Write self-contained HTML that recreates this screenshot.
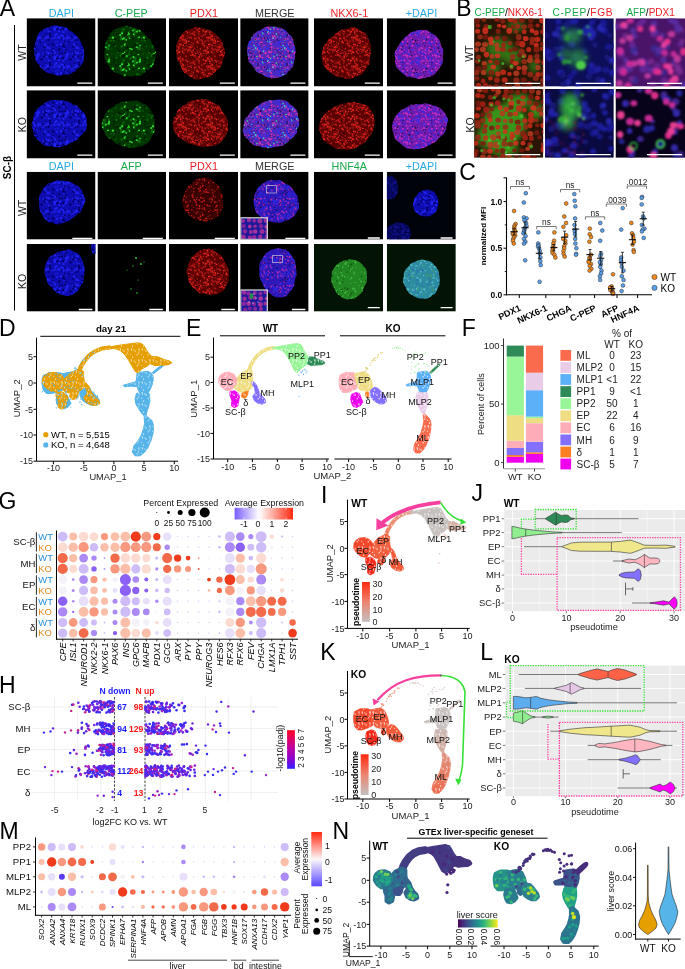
<!DOCTYPE html><html><head><meta charset="utf-8"><title>Figure</title><style>html,body{margin:0;padding:0;background:#fff;width:685px;height:969px;overflow:hidden}svg{display:block}</style></head><body><svg width="685" height="969" viewBox="0 0 685 969" font-family="'Liberation Sans', Arial, Helvetica, sans-serif"><defs><filter id="bl1" x="-20%" y="-20%" width="140%" height="140%"><feGaussianBlur stdDeviation="0.7"/></filter><filter id="bl2" x="-20%" y="-20%" width="140%" height="140%"><feGaussianBlur stdDeviation="1.5"/></filter><pattern id="pBlue" width="29" height="29" patternUnits="userSpaceOnUse"><rect width="29" height="29" fill="#0e0eb2"/><circle cx="3.9" cy="24.6" r="1.1" fill="#000064"/><circle cx="7.4" cy="14.4" r="0.9" fill="#000064"/><circle cx="18.9" cy="22.9" r="0.7" fill="#000064"/><circle cx="0.8" cy="24.2" r="0.9" fill="#000064"/><circle cx="29.8" cy="24.2" r="0.9" fill="#000064"/><circle cx="22.1" cy="0.1" r="0.9" fill="#000064"/><circle cx="22.1" cy="29.1" r="0.9" fill="#000064"/><circle cx="20.9" cy="6.6" r="1.2" fill="#000064"/><circle cx="26.1" cy="0.9" r="0.6" fill="#000064"/><circle cx="15.7" cy="27.2" r="0.8" fill="#000064"/><circle cx="6.3" cy="12.2" r="0.6" fill="#000064"/><circle cx="6.4" cy="12.7" r="0.9" fill="#000064"/><circle cx="6.8" cy="6.7" r="0.7" fill="#000064"/><circle cx="13.3" cy="8.4" r="0.6" fill="#000064"/><circle cx="24.3" cy="16.1" r="1" fill="#000064"/><circle cx="5.4" cy="28.8" r="1.1" fill="#000064"/><circle cx="5.4" cy="-0.2" r="1.1" fill="#000064"/><circle cx="3.5" cy="9.6" r="1" fill="#000064"/><circle cx="20.6" cy="27.2" r="0.9" fill="#000064"/><circle cx="24.1" cy="19.4" r="0.8" fill="#000064"/><circle cx="17" cy="25.6" r="1.1" fill="#000064"/><circle cx="14.7" cy="17.1" r="0.6" fill="#000064"/><circle cx="7" cy="23.1" r="0.8" fill="#000064"/><circle cx="5" cy="15.9" r="1" fill="#000064"/><circle cx="19.6" cy="10.9" r="0.9" fill="#000064"/><circle cx="14.7" cy="22.6" r="0.9" fill="#000064"/><circle cx="11.4" cy="14.2" r="0.6" fill="#000064"/><circle cx="1.3" cy="20.4" r="1.2" fill="#000064"/><circle cx="17.2" cy="11.4" r="0.7" fill="#000064"/><circle cx="14.6" cy="28.5" r="1.1" fill="#000064"/><circle cx="14.6" cy="-0.5" r="1.1" fill="#000064"/><circle cx="15.6" cy="24.9" r="0.7" fill="#000064"/><circle cx="14.9" cy="27.6" r="0.9" fill="#000064"/><circle cx="13.3" cy="7.8" r="0.9" fill="#000064"/><circle cx="27.8" cy="0.2" r="1.1" fill="#000064"/><circle cx="27.8" cy="29.2" r="1.1" fill="#000064"/><circle cx="23.8" cy="25.7" r="1" fill="#000064"/><circle cx="23.5" cy="15" r="0.9" fill="#000064"/><circle cx="12.4" cy="1.6" r="1.1" fill="#000064"/><circle cx="16.5" cy="5.8" r="0.9" fill="#000064"/><circle cx="14.1" cy="10.3" r="0.8" fill="#000064"/><circle cx="15.6" cy="18.1" r="1" fill="#000064"/><circle cx="13.3" cy="0.8" r="0.7" fill="#000064"/><circle cx="5.1" cy="16.9" r="1.1" fill="#000064"/><circle cx="23.2" cy="23.1" r="1.1" fill="#000064"/><circle cx="7.4" cy="24.4" r="1" fill="#000064"/><circle cx="2.4" cy="0.5" r="0.6" fill="#000064"/><circle cx="2.4" cy="29.5" r="0.6" fill="#000064"/><circle cx="21.9" cy="7.2" r="0.7" fill="#000064"/><circle cx="18.1" cy="10" r="0.6" fill="#000064"/><circle cx="4.6" cy="15.3" r="0.7" fill="#000064"/><circle cx="7.9" cy="20.6" r="0.9" fill="#000064"/><circle cx="9.3" cy="13.7" r="0.6" fill="#000064"/><circle cx="11.2" cy="12.2" r="0.7" fill="#000064"/><circle cx="3.2" cy="26.1" r="0.9" fill="#000064"/><circle cx="6.1" cy="17.6" r="1.1" fill="#000064"/><circle cx="0.6" cy="0.5" r="0.7" fill="#000064"/><circle cx="0.6" cy="29.5" r="0.7" fill="#000064"/><circle cx="29.6" cy="0.5" r="0.7" fill="#000064"/><circle cx="29.6" cy="29.5" r="0.7" fill="#000064"/><circle cx="20.8" cy="4.6" r="1" fill="#000064"/><circle cx="19.7" cy="15.8" r="0.7" fill="#000064"/><circle cx="28.3" cy="23.1" r="0.9" fill="#000064"/><circle cx="-0.7" cy="23.1" r="0.9" fill="#000064"/><circle cx="6.5" cy="18.8" r="0.8" fill="#000064"/><circle cx="16.7" cy="9.3" r="1" fill="#2222f5"/><circle cx="1.7" cy="8.7" r="1.2" fill="#2222f5"/><circle cx="25.4" cy="8.9" r="1.1" fill="#2222f5"/><circle cx="9" cy="27.2" r="1" fill="#2222f5"/><circle cx="12.1" cy="7.3" r="0.6" fill="#2222f5"/><circle cx="25.5" cy="1.1" r="1.1" fill="#2222f5"/><circle cx="27.9" cy="16.5" r="0.7" fill="#2222f5"/><circle cx="25.2" cy="28.2" r="1" fill="#2222f5"/><circle cx="25.2" cy="-0.8" r="1" fill="#2222f5"/><circle cx="14.8" cy="11" r="0.8" fill="#2222f5"/><circle cx="6" cy="19.6" r="0.9" fill="#2222f5"/><circle cx="5.6" cy="3" r="1" fill="#2222f5"/><circle cx="8.6" cy="14.5" r="0.8" fill="#2222f5"/><circle cx="25.3" cy="26.1" r="0.6" fill="#2222f5"/><circle cx="5.8" cy="9.5" r="1.2" fill="#2222f5"/><circle cx="22.7" cy="9.8" r="0.7" fill="#2222f5"/><circle cx="19.6" cy="24.3" r="1.2" fill="#2222f5"/><circle cx="10" cy="25.6" r="1" fill="#2222f5"/><circle cx="14.1" cy="28.6" r="0.7" fill="#2222f5"/><circle cx="14.1" cy="-0.4" r="0.7" fill="#2222f5"/><circle cx="21" cy="2.5" r="0.7" fill="#2222f5"/><circle cx="26.4" cy="6.2" r="1.1" fill="#2222f5"/><circle cx="17.4" cy="24.4" r="0.8" fill="#2222f5"/><circle cx="9.9" cy="8.4" r="1.1" fill="#2222f5"/><circle cx="17.5" cy="27.7" r="1.1" fill="#2222f5"/><circle cx="3.9" cy="16" r="0.7" fill="#2222f5"/><circle cx="1.1" cy="2.1" r="1.1" fill="#2222f5"/><circle cx="22.9" cy="24" r="0.8" fill="#2222f5"/><circle cx="17.8" cy="22.7" r="0.8" fill="#2222f5"/><circle cx="16.6" cy="6.5" r="0.6" fill="#2222f5"/><circle cx="7.7" cy="25.8" r="0.9" fill="#2222f5"/><circle cx="26.8" cy="13.3" r="0.8" fill="#2222f5"/><circle cx="22.8" cy="24" r="0.6" fill="#2222f5"/><circle cx="19.4" cy="2.7" r="0.7" fill="#2222f5"/><circle cx="25.7" cy="1.2" r="0.7" fill="#2222f5"/><circle cx="28.7" cy="12.2" r="0.7" fill="#2222f5"/><circle cx="-0.3" cy="12.2" r="0.7" fill="#2222f5"/><circle cx="4.9" cy="7" r="1" fill="#2222f5"/><circle cx="3" cy="26.4" r="0.8" fill="#2222f5"/><circle cx="28.1" cy="26.4" r="0.8" fill="#2222f5"/><circle cx="7.3" cy="13.8" r="0.7" fill="#2222f5"/><circle cx="18.9" cy="1.1" r="0.6" fill="#2222f5"/><circle cx="28.5" cy="8.6" r="1" fill="#2222f5"/><circle cx="-0.5" cy="8.6" r="1" fill="#2222f5"/><circle cx="13" cy="9.1" r="0.6" fill="#2222f5"/><circle cx="26.5" cy="28.1" r="1.2" fill="#2222f5"/><circle cx="26.5" cy="-0.9" r="1.2" fill="#2222f5"/><circle cx="3.2" cy="6.2" r="1" fill="#2222f5"/><circle cx="28.4" cy="15.7" r="1" fill="#2222f5"/><circle cx="-0.6" cy="15.7" r="1" fill="#2222f5"/><circle cx="19.2" cy="7.5" r="0.9" fill="#2222f5"/><circle cx="8.9" cy="7.1" r="0.6" fill="#2222f5"/><circle cx="8.1" cy="28.5" r="0.9" fill="#2222f5"/><circle cx="8.1" cy="-0.5" r="0.9" fill="#2222f5"/><circle cx="18.9" cy="18.7" r="1.2" fill="#2222f5"/><circle cx="11.3" cy="8.9" r="0.8" fill="#2222f5"/><circle cx="9.2" cy="24.6" r="1.1" fill="#2222f5"/><circle cx="8.8" cy="9.7" r="0.9" fill="#2222f5"/><circle cx="16.8" cy="17.3" r="0.7" fill="#2222f5"/><circle cx="0.6" cy="7.1" r="0.6" fill="#2222f5"/><circle cx="29.6" cy="7.1" r="0.6" fill="#2222f5"/><circle cx="16" cy="2.1" r="0.6" fill="#2222f5"/><circle cx="18.4" cy="8.4" r="1.1" fill="#2222f5"/><circle cx="14.3" cy="25" r="0.7" fill="#2222f5"/><circle cx="14.5" cy="23.1" r="0.6" fill="#2222f5"/><circle cx="27.5" cy="5" r="1.1" fill="#2222f5"/><circle cx="28.6" cy="23.8" r="0.8" fill="#2222f5"/><circle cx="-0.4" cy="23.8" r="0.8" fill="#2222f5"/><circle cx="3.1" cy="14.9" r="1.2" fill="#2222f5"/><circle cx="8.5" cy="25.9" r="0.7" fill="#2222f5"/><circle cx="26.4" cy="0.9" r="0.8" fill="#2222f5"/><circle cx="26.2" cy="23.3" r="1.1" fill="#2222f5"/><circle cx="24.4" cy="21.6" r="1" fill="#2222f5"/><circle cx="5.2" cy="12.5" r="0.7" fill="#2222f5"/><circle cx="20.7" cy="19.4" r="0.8" fill="#2222f5"/><circle cx="1.9" cy="27.9" r="1.1" fill="#2222f5"/><circle cx="1.9" cy="-1.1" r="1.1" fill="#2222f5"/><circle cx="15.9" cy="15.7" r="1.1" fill="#2222f5"/><circle cx="13.1" cy="11.5" r="0.8" fill="#2222f5"/><circle cx="7.5" cy="0.7" r="1" fill="#2222f5"/><circle cx="7.5" cy="29.7" r="1" fill="#2222f5"/></pattern><pattern id="pGreen" width="31" height="31" patternUnits="userSpaceOnUse"><rect width="31" height="31" fill="#003400"/><circle cx="29.6" cy="29.4" r="0.7" fill="#086408"/><circle cx="2.6" cy="25.9" r="1.2" fill="#086408"/><circle cx="20.8" cy="9.6" r="1.1" fill="#086408"/><circle cx="18.8" cy="18" r="0.8" fill="#086408"/><circle cx="13.4" cy="12.2" r="1.2" fill="#086408"/><circle cx="30.8" cy="29.4" r="1.1" fill="#086408"/><circle cx="-0.2" cy="29.4" r="1.1" fill="#086408"/><circle cx="13.8" cy="8.3" r="0.7" fill="#086408"/><circle cx="0.9" cy="14.4" r="0.9" fill="#086408"/><circle cx="31.9" cy="14.4" r="0.9" fill="#086408"/><circle cx="11.8" cy="27.6" r="1.1" fill="#086408"/><circle cx="17.4" cy="7.3" r="0.7" fill="#086408"/><circle cx="10.1" cy="4.2" r="1.1" fill="#086408"/><circle cx="31" cy="20.9" r="0.8" fill="#086408"/><circle cx="0" cy="20.9" r="0.8" fill="#086408"/><circle cx="27.7" cy="24.7" r="1.2" fill="#086408"/><circle cx="28.1" cy="23.6" r="1.3" fill="#086408"/><circle cx="11" cy="30.4" r="1.4" fill="#086408"/><circle cx="11" cy="-0.6" r="1.4" fill="#086408"/><circle cx="5" cy="23.4" r="1.2" fill="#086408"/><circle cx="14.3" cy="16.4" r="1" fill="#086408"/><circle cx="28.7" cy="15.5" r="1.3" fill="#086408"/><circle cx="11" cy="27.4" r="1.3" fill="#086408"/><circle cx="14.3" cy="17.6" r="1.3" fill="#086408"/><circle cx="22.4" cy="15.1" r="0.9" fill="#086408"/><circle cx="10.1" cy="21.7" r="0.8" fill="#086408"/><circle cx="28.1" cy="8.3" r="1.3" fill="#086408"/><circle cx="9.6" cy="29.7" r="1.2" fill="#086408"/><circle cx="15.6" cy="16.1" r="1.2" fill="#086408"/><circle cx="18.2" cy="9.7" r="0.8" fill="#086408"/><circle cx="15.9" cy="29" r="1.1" fill="#086408"/><circle cx="2.3" cy="25.4" r="1.2" fill="#086408"/><circle cx="28.1" cy="5.9" r="1.2" fill="#086408"/><circle cx="1.8" cy="20.2" r="0.9" fill="#086408"/><circle cx="7" cy="27.1" r="0.8" fill="#086408"/><circle cx="16.2" cy="26.5" r="0.9" fill="#086408"/><circle cx="6.5" cy="27.3" r="1" fill="#086408"/><circle cx="22.2" cy="1" r="1" fill="#086408"/><circle cx="5.3" cy="20.9" r="0.8" fill="#086408"/><circle cx="29.6" cy="0.8" r="1.2" fill="#086408"/><circle cx="29.6" cy="31.8" r="1.2" fill="#086408"/><circle cx="0.7" cy="7.9" r="1.3" fill="#086408"/><circle cx="31.7" cy="7.9" r="1.3" fill="#086408"/><circle cx="4.9" cy="5.7" r="1.2" fill="#086408"/><circle cx="12" cy="1.3" r="1.4" fill="#086408"/><circle cx="12" cy="32.3" r="1.4" fill="#086408"/><circle cx="4.7" cy="1.1" r="0.9" fill="#086408"/><circle cx="19.1" cy="23" r="0.8" fill="#086408"/><circle cx="10.5" cy="1" r="1" fill="#086408"/><circle cx="10.5" cy="32" r="1" fill="#086408"/><circle cx="23.7" cy="22.9" r="1.3" fill="#086408"/><circle cx="23.4" cy="26.7" r="1.2" fill="#086408"/><circle cx="14.7" cy="7" r="1.2" fill="#086408"/><circle cx="9.8" cy="3.2" r="0.9" fill="#30d730"/><circle cx="27.1" cy="4" r="1" fill="#30d730"/><circle cx="12.2" cy="16" r="0.7" fill="#30d730"/><circle cx="29.8" cy="8" r="1" fill="#30d730"/><circle cx="13" cy="0.6" r="1" fill="#30d730"/><circle cx="13" cy="31.6" r="1" fill="#30d730"/><circle cx="4.4" cy="1.8" r="0.6" fill="#30d730"/><circle cx="5" cy="3" r="1" fill="#30d730"/><circle cx="15.8" cy="30.5" r="1.3" fill="#30d730"/><circle cx="15.8" cy="-0.5" r="1.3" fill="#30d730"/><circle cx="30.8" cy="7.2" r="0.9" fill="#30d730"/><circle cx="-0.2" cy="7.2" r="0.9" fill="#30d730"/><circle cx="7.8" cy="18.3" r="1" fill="#30d730"/><circle cx="24.8" cy="22" r="0.8" fill="#30d730"/><circle cx="13.1" cy="16.3" r="0.6" fill="#30d730"/><circle cx="1.1" cy="12.7" r="0.7" fill="#30d730"/><circle cx="22.4" cy="7.5" r="0.7" fill="#30d730"/><circle cx="5.6" cy="7.2" r="0.8" fill="#30d730"/><circle cx="16.1" cy="14.4" r="0.8" fill="#30d730"/><circle cx="19.9" cy="6.6" r="1.2" fill="#30d730"/><circle cx="29.9" cy="22.6" r="0.9" fill="#30d730"/><circle cx="15.9" cy="18" r="0.6" fill="#30d730"/><circle cx="13" cy="16.3" r="0.7" fill="#30d730"/><circle cx="2.9" cy="24.9" r="0.9" fill="#30d730"/><circle cx="16.1" cy="28.6" r="1" fill="#30d730"/><circle cx="9" cy="30.5" r="0.9" fill="#30d730"/><circle cx="9" cy="-0.5" r="0.9" fill="#30d730"/><circle cx="0.6" cy="21.2" r="0.7" fill="#30d730"/><circle cx="31.6" cy="21.2" r="0.7" fill="#30d730"/><circle cx="9.5" cy="26.1" r="1.1" fill="#30d730"/><circle cx="0.5" cy="14" r="0.9" fill="#30d730"/><circle cx="31.5" cy="14" r="0.9" fill="#30d730"/><circle cx="15.1" cy="6.5" r="1" fill="#30d730"/><circle cx="2.3" cy="8.8" r="0.9" fill="#30d730"/><circle cx="29" cy="2.4" r="1.1" fill="#30d730"/><circle cx="6" cy="17.7" r="0.9" fill="#30d730"/><circle cx="14.4" cy="23.4" r="0.9" fill="#30d730"/><circle cx="3.8" cy="3.8" r="0.7" fill="#30d730"/><circle cx="26.4" cy="19.9" r="1.3" fill="#001e00"/><circle cx="21.5" cy="0.8" r="1.1" fill="#001e00"/><circle cx="21.5" cy="31.8" r="1.1" fill="#001e00"/><circle cx="24.1" cy="22.4" r="1" fill="#001e00"/><circle cx="11.1" cy="14.2" r="1.2" fill="#001e00"/><circle cx="8.3" cy="16.3" r="1" fill="#001e00"/><circle cx="29.6" cy="24.9" r="1.3" fill="#001e00"/><circle cx="25.9" cy="9.2" r="0.8" fill="#001e00"/><circle cx="15.2" cy="8" r="1" fill="#001e00"/><circle cx="21.1" cy="28.5" r="1.1" fill="#001e00"/><circle cx="25.4" cy="3" r="0.9" fill="#001e00"/><circle cx="30.9" cy="4.5" r="1" fill="#001e00"/><circle cx="-0.1" cy="4.5" r="1" fill="#001e00"/><circle cx="2.1" cy="2.7" r="1.2" fill="#001e00"/><circle cx="30.6" cy="20.1" r="0.8" fill="#001e00"/><circle cx="-0.4" cy="20.1" r="0.8" fill="#001e00"/><circle cx="9.2" cy="7.2" r="1.1" fill="#001e00"/><circle cx="21.1" cy="13.6" r="1" fill="#001e00"/><circle cx="3.5" cy="16.8" r="1.3" fill="#001e00"/><circle cx="23.4" cy="3" r="1" fill="#001e00"/><circle cx="22.2" cy="8" r="1.2" fill="#001e00"/><circle cx="14.3" cy="21.8" r="0.9" fill="#001e00"/><circle cx="30.8" cy="24.3" r="1" fill="#001e00"/><circle cx="-0.2" cy="24.3" r="1" fill="#001e00"/></pattern><pattern id="pRed" width="29" height="29" patternUnits="userSpaceOnUse"><rect width="29" height="29" fill="#5f0505"/><circle cx="6.9" cy="15.8" r="0.6" fill="#e8221c"/><circle cx="17.5" cy="18.1" r="0.5" fill="#e8221c"/><circle cx="0.4" cy="24.3" r="0.6" fill="#e8221c"/><circle cx="29.4" cy="24.3" r="0.6" fill="#e8221c"/><circle cx="6.8" cy="28.9" r="0.7" fill="#e8221c"/><circle cx="6.8" cy="-0.1" r="0.7" fill="#e8221c"/><circle cx="24.3" cy="13.8" r="0.8" fill="#e8221c"/><circle cx="4.4" cy="18.4" r="0.8" fill="#e8221c"/><circle cx="15.2" cy="21.5" r="0.8" fill="#e8221c"/><circle cx="1.9" cy="22" r="0.7" fill="#e8221c"/><circle cx="8.7" cy="0.9" r="0.8" fill="#e8221c"/><circle cx="13.7" cy="20.8" r="0.9" fill="#e8221c"/><circle cx="20.7" cy="26.7" r="0.7" fill="#e8221c"/><circle cx="23.2" cy="12.9" r="0.9" fill="#e8221c"/><circle cx="25.5" cy="2.8" r="0.6" fill="#e8221c"/><circle cx="6.3" cy="28" r="0.7" fill="#e8221c"/><circle cx="18.2" cy="8.7" r="0.7" fill="#e8221c"/><circle cx="11.2" cy="10.2" r="0.7" fill="#e8221c"/><circle cx="16.9" cy="26.2" r="0.8" fill="#e8221c"/><circle cx="26.9" cy="24.8" r="0.9" fill="#e8221c"/><circle cx="19.5" cy="4.7" r="0.8" fill="#e8221c"/><circle cx="28" cy="26.2" r="0.7" fill="#e8221c"/><circle cx="20.7" cy="6.1" r="0.8" fill="#e8221c"/><circle cx="16.6" cy="8.3" r="0.5" fill="#e8221c"/><circle cx="24.8" cy="28.7" r="0.5" fill="#e8221c"/><circle cx="24.8" cy="-0.3" r="0.5" fill="#e8221c"/><circle cx="23.2" cy="11.9" r="0.6" fill="#e8221c"/><circle cx="8.5" cy="22.3" r="0.8" fill="#e8221c"/><circle cx="1.3" cy="17.8" r="0.5" fill="#e8221c"/><circle cx="20.8" cy="9.6" r="0.9" fill="#e8221c"/><circle cx="28.4" cy="14.7" r="0.9" fill="#e8221c"/><circle cx="-0.6" cy="14.7" r="0.9" fill="#e8221c"/><circle cx="9" cy="2.2" r="0.7" fill="#e8221c"/><circle cx="0.9" cy="5.7" r="0.7" fill="#e8221c"/><circle cx="17.7" cy="4.5" r="0.5" fill="#e8221c"/><circle cx="25.2" cy="9.1" r="0.9" fill="#e8221c"/><circle cx="26" cy="11" r="0.7" fill="#e8221c"/><circle cx="15.1" cy="18.7" r="0.7" fill="#e8221c"/><circle cx="16.2" cy="18" r="0.9" fill="#e8221c"/><circle cx="14.7" cy="12.5" r="0.8" fill="#e8221c"/><circle cx="6.9" cy="8.7" r="0.9" fill="#e8221c"/><circle cx="15.1" cy="15.9" r="0.5" fill="#e8221c"/><circle cx="12" cy="16.8" r="0.5" fill="#e8221c"/><circle cx="17.9" cy="18.3" r="0.5" fill="#e8221c"/><circle cx="18.2" cy="13.5" r="0.8" fill="#e8221c"/><circle cx="10.2" cy="20.5" r="0.8" fill="#e8221c"/><circle cx="0.6" cy="1.8" r="0.8" fill="#e8221c"/><circle cx="29.6" cy="1.8" r="0.8" fill="#e8221c"/><circle cx="27.9" cy="7.3" r="0.7" fill="#e8221c"/><circle cx="17.2" cy="9.3" r="0.6" fill="#e8221c"/><circle cx="9.1" cy="10.7" r="0.7" fill="#e8221c"/><circle cx="8.7" cy="10.9" r="0.8" fill="#e8221c"/><circle cx="0.8" cy="16.5" r="0.8" fill="#e8221c"/><circle cx="29.8" cy="16.5" r="0.8" fill="#e8221c"/><circle cx="9" cy="6.5" r="0.8" fill="#e8221c"/><circle cx="6.9" cy="5.4" r="0.7" fill="#e8221c"/><circle cx="20.2" cy="3" r="0.6" fill="#e8221c"/><circle cx="9.7" cy="24.2" r="0.7" fill="#e8221c"/><circle cx="24.8" cy="4.9" r="0.6" fill="#e8221c"/><circle cx="18.9" cy="25.7" r="0.7" fill="#e8221c"/><circle cx="6.5" cy="3.5" r="0.7" fill="#e8221c"/><circle cx="5.5" cy="23.4" r="0.8" fill="#e8221c"/><circle cx="5.3" cy="8.1" r="0.8" fill="#e8221c"/><circle cx="18.6" cy="23.4" r="0.6" fill="#e8221c"/><circle cx="3.8" cy="8.5" r="0.8" fill="#e8221c"/><circle cx="7.9" cy="10" r="0.7" fill="#e8221c"/><circle cx="12.2" cy="11.9" r="0.9" fill="#e8221c"/><circle cx="4.5" cy="0.1" r="0.9" fill="#e8221c"/><circle cx="4.5" cy="29.1" r="0.9" fill="#e8221c"/><circle cx="25.5" cy="28.6" r="0.7" fill="#e8221c"/><circle cx="25.5" cy="-0.4" r="0.7" fill="#e8221c"/><circle cx="27.6" cy="26.9" r="0.6" fill="#e8221c"/><circle cx="21.6" cy="24.3" r="0.8" fill="#e8221c"/><circle cx="15.1" cy="8.4" r="0.6" fill="#e8221c"/><circle cx="6.6" cy="2" r="0.7" fill="#e8221c"/><circle cx="8.3" cy="23.5" r="0.5" fill="#e8221c"/><circle cx="26.2" cy="20.1" r="0.9" fill="#e8221c"/><circle cx="26" cy="26.1" r="0.7" fill="#e8221c"/><circle cx="0.4" cy="21.6" r="0.6" fill="#e8221c"/><circle cx="29.4" cy="21.6" r="0.6" fill="#e8221c"/><circle cx="8.7" cy="19.2" r="0.7" fill="#e8221c"/><circle cx="12" cy="27.2" r="0.7" fill="#e8221c"/><circle cx="9.9" cy="7.3" r="0.8" fill="#e8221c"/><circle cx="13.8" cy="22.7" r="0.6" fill="#e8221c"/><circle cx="5.7" cy="15.5" r="0.8" fill="#e8221c"/><circle cx="5" cy="23" r="0.9" fill="#e8221c"/><circle cx="23.4" cy="23.9" r="0.5" fill="#e8221c"/><circle cx="18.2" cy="25" r="0.5" fill="#e8221c"/><circle cx="7.9" cy="7.8" r="0.7" fill="#e8221c"/><circle cx="12.3" cy="13.7" r="0.8" fill="#e8221c"/><circle cx="0.1" cy="1.6" r="0.6" fill="#e8221c"/><circle cx="29.1" cy="1.6" r="0.6" fill="#e8221c"/><circle cx="3.6" cy="2" r="0.9" fill="#e8221c"/><circle cx="24.8" cy="2.5" r="0.7" fill="#e8221c"/><circle cx="9.2" cy="9.1" r="0.6" fill="#e8221c"/><circle cx="18.8" cy="17" r="0.6" fill="#e8221c"/><circle cx="5.5" cy="9.5" r="0.5" fill="#e8221c"/><circle cx="16.1" cy="20.8" r="0.7" fill="#e8221c"/><circle cx="2.3" cy="5.2" r="0.6" fill="#e8221c"/><circle cx="17.5" cy="22.7" r="0.7" fill="#e8221c"/><circle cx="23.2" cy="18.1" r="0.7" fill="#e8221c"/><circle cx="10.8" cy="14.4" r="0.8" fill="#e8221c"/><circle cx="12.2" cy="20.1" r="0.7" fill="#e8221c"/><circle cx="7.1" cy="15.5" r="0.8" fill="#e8221c"/><circle cx="2.1" cy="12.3" r="0.7" fill="#e8221c"/><circle cx="25.5" cy="27.2" r="0.6" fill="#e8221c"/><circle cx="26" cy="22.9" r="0.6" fill="#e8221c"/><circle cx="13.5" cy="3.6" r="0.8" fill="#e8221c"/><circle cx="19.2" cy="25.7" r="0.8" fill="#e8221c"/><circle cx="19.4" cy="21.3" r="0.7" fill="#e8221c"/><circle cx="3" cy="17" r="0.5" fill="#e8221c"/><circle cx="4.2" cy="22.5" r="0.5" fill="#e8221c"/><circle cx="2.7" cy="2.9" r="0.9" fill="#e8221c"/><circle cx="5.2" cy="0.7" r="0.8" fill="#e8221c"/><circle cx="5.2" cy="29.7" r="0.8" fill="#e8221c"/><circle cx="3.5" cy="24.5" r="0.8" fill="#e8221c"/><circle cx="24.2" cy="27.6" r="0.7" fill="#e8221c"/><circle cx="23.2" cy="1.1" r="0.8" fill="#e8221c"/><circle cx="14.8" cy="20.7" r="0.5" fill="#e8221c"/><circle cx="21.7" cy="27.1" r="0.5" fill="#e8221c"/><circle cx="9.4" cy="16.4" r="0.8" fill="#e8221c"/><circle cx="7" cy="5.2" r="0.6" fill="#e8221c"/><circle cx="17.9" cy="21.9" r="0.7" fill="#e8221c"/><circle cx="10.7" cy="11.5" r="0.6" fill="#e8221c"/><circle cx="12.1" cy="2.4" r="0.7" fill="#e8221c"/><circle cx="28.2" cy="12" r="0.8" fill="#e8221c"/><circle cx="-0.8" cy="12" r="0.8" fill="#e8221c"/><circle cx="4.7" cy="20" r="0.8" fill="#e8221c"/><circle cx="19.5" cy="15" r="0.7" fill="#e8221c"/><circle cx="18.6" cy="26" r="0.6" fill="#e8221c"/><circle cx="2.8" cy="21.7" r="0.9" fill="#e8221c"/><circle cx="15" cy="12.8" r="0.8" fill="#e8221c"/><circle cx="5.4" cy="7.8" r="0.6" fill="#a00e0c"/><circle cx="17" cy="9.1" r="0.6" fill="#a00e0c"/><circle cx="20" cy="27.6" r="0.6" fill="#a00e0c"/><circle cx="20.5" cy="12" r="0.8" fill="#a00e0c"/><circle cx="17" cy="7.7" r="0.6" fill="#a00e0c"/><circle cx="0.7" cy="13.9" r="0.7" fill="#a00e0c"/><circle cx="5" cy="10.5" r="0.6" fill="#a00e0c"/><circle cx="22.5" cy="4.2" r="0.9" fill="#a00e0c"/><circle cx="13.9" cy="17.4" r="0.7" fill="#a00e0c"/><circle cx="24.2" cy="23.8" r="0.7" fill="#a00e0c"/><circle cx="14" cy="20.9" r="0.8" fill="#a00e0c"/><circle cx="11.6" cy="21.3" r="0.9" fill="#a00e0c"/><circle cx="13.6" cy="6.7" r="0.6" fill="#a00e0c"/><circle cx="20.8" cy="19.6" r="0.9" fill="#a00e0c"/><circle cx="24.8" cy="7" r="0.6" fill="#a00e0c"/><circle cx="7.5" cy="5.4" r="0.8" fill="#a00e0c"/><circle cx="24.9" cy="26.1" r="0.6" fill="#a00e0c"/><circle cx="25.1" cy="9.1" r="0.7" fill="#a00e0c"/><circle cx="21.1" cy="2.5" r="0.5" fill="#a00e0c"/><circle cx="24.2" cy="8.5" r="0.6" fill="#a00e0c"/><circle cx="16.8" cy="19.6" r="0.5" fill="#a00e0c"/><circle cx="9.7" cy="12.7" r="0.7" fill="#a00e0c"/><circle cx="6.1" cy="17" r="0.9" fill="#a00e0c"/><circle cx="11.3" cy="15.8" r="0.5" fill="#a00e0c"/><circle cx="8" cy="19.3" r="0.5" fill="#a00e0c"/><circle cx="25.7" cy="26.4" r="0.5" fill="#a00e0c"/><circle cx="27.3" cy="10.9" r="0.8" fill="#a00e0c"/><circle cx="22" cy="8.6" r="0.8" fill="#a00e0c"/><circle cx="19" cy="23.4" r="0.6" fill="#a00e0c"/><circle cx="21.9" cy="27.9" r="0.8" fill="#a00e0c"/><circle cx="15.5" cy="3.3" r="0.7" fill="#a00e0c"/><circle cx="10.2" cy="20.8" r="0.8" fill="#a00e0c"/><circle cx="16.4" cy="5.3" r="0.8" fill="#a00e0c"/><circle cx="18.3" cy="5.2" r="0.9" fill="#a00e0c"/><circle cx="19" cy="3.6" r="0.9" fill="#a00e0c"/><circle cx="4.1" cy="9.6" r="0.8" fill="#a00e0c"/><circle cx="17.3" cy="16.1" r="0.8" fill="#a00e0c"/><circle cx="13.3" cy="9.1" r="0.6" fill="#a00e0c"/><circle cx="2" cy="20.8" r="0.8" fill="#a00e0c"/><circle cx="15.8" cy="21.4" r="0.6" fill="#a00e0c"/><circle cx="7.7" cy="11.1" r="0.8" fill="#a00e0c"/><circle cx="1.2" cy="14.6" r="0.6" fill="#a00e0c"/><circle cx="22.3" cy="10.3" r="0.6" fill="#a00e0c"/><circle cx="11.7" cy="15.7" r="0.8" fill="#a00e0c"/><circle cx="10.2" cy="24.6" r="0.5" fill="#a00e0c"/><circle cx="7.8" cy="2.9" r="0.5" fill="#a00e0c"/><circle cx="22.6" cy="21.1" r="0.6" fill="#a00e0c"/><circle cx="5.5" cy="12.1" r="0.8" fill="#a00e0c"/><circle cx="23.7" cy="21.7" r="0.7" fill="#a00e0c"/><circle cx="4.2" cy="11.6" r="0.6" fill="#a00e0c"/><circle cx="15.3" cy="16.5" r="0.6" fill="#2d0000"/><circle cx="7.3" cy="22.7" r="0.5" fill="#2d0000"/><circle cx="23.3" cy="25.8" r="0.9" fill="#2d0000"/><circle cx="11.1" cy="16" r="0.7" fill="#2d0000"/><circle cx="18.4" cy="28.3" r="0.8" fill="#2d0000"/><circle cx="18.4" cy="-0.7" r="0.8" fill="#2d0000"/><circle cx="8.7" cy="24.9" r="0.7" fill="#2d0000"/><circle cx="17.4" cy="21.1" r="0.5" fill="#2d0000"/><circle cx="22.3" cy="19.2" r="0.7" fill="#2d0000"/><circle cx="15.2" cy="13.4" r="0.6" fill="#2d0000"/><circle cx="15.4" cy="1.1" r="0.7" fill="#2d0000"/><circle cx="18.7" cy="12.9" r="0.7" fill="#2d0000"/><circle cx="27.8" cy="25.9" r="0.6" fill="#2d0000"/><circle cx="23" cy="18.1" r="0.5" fill="#2d0000"/><circle cx="10.4" cy="6.8" r="0.5" fill="#2d0000"/><circle cx="15.6" cy="27" r="0.6" fill="#2d0000"/><circle cx="25.2" cy="20.1" r="0.6" fill="#2d0000"/><circle cx="24.9" cy="17.4" r="0.9" fill="#2d0000"/><circle cx="20.8" cy="21.5" r="0.6" fill="#2d0000"/><circle cx="23.4" cy="27" r="0.8" fill="#2d0000"/><circle cx="12.7" cy="21.9" r="0.7" fill="#2d0000"/><circle cx="3.2" cy="1.2" r="0.5" fill="#2d0000"/><circle cx="5.8" cy="4.7" r="0.7" fill="#2d0000"/><circle cx="20.3" cy="15.6" r="0.7" fill="#2d0000"/><circle cx="18.8" cy="8.8" r="0.7" fill="#2d0000"/><circle cx="22" cy="11.6" r="0.6" fill="#2d0000"/><circle cx="26.1" cy="20.9" r="0.6" fill="#2d0000"/><circle cx="10.8" cy="15.4" r="0.7" fill="#2d0000"/><circle cx="6.5" cy="0.1" r="0.6" fill="#2d0000"/><circle cx="6.5" cy="29.1" r="0.6" fill="#2d0000"/><circle cx="22.7" cy="4.2" r="0.7" fill="#2d0000"/><circle cx="5.7" cy="6.1" r="0.6" fill="#2d0000"/></pattern><pattern id="pRedD" width="29" height="29" patternUnits="userSpaceOnUse"><rect width="29" height="29" fill="#370303"/><circle cx="6.8" cy="3" r="0.7" fill="#c81916"/><circle cx="4.5" cy="1.9" r="0.7" fill="#c81916"/><circle cx="26.6" cy="23.2" r="0.8" fill="#c81916"/><circle cx="6.4" cy="15.6" r="0.6" fill="#c81916"/><circle cx="5" cy="3.1" r="0.6" fill="#c81916"/><circle cx="26.9" cy="24" r="0.8" fill="#c81916"/><circle cx="23.2" cy="5.6" r="0.6" fill="#c81916"/><circle cx="18.2" cy="21.2" r="0.8" fill="#c81916"/><circle cx="25.5" cy="2.5" r="0.7" fill="#c81916"/><circle cx="19.5" cy="14.7" r="0.6" fill="#c81916"/><circle cx="13.7" cy="2.6" r="0.9" fill="#c81916"/><circle cx="25.1" cy="15.9" r="0.6" fill="#c81916"/><circle cx="26.4" cy="16.6" r="0.9" fill="#c81916"/><circle cx="24.6" cy="14.7" r="0.7" fill="#c81916"/><circle cx="17.4" cy="12.5" r="0.6" fill="#c81916"/><circle cx="8.8" cy="23.6" r="0.5" fill="#c81916"/><circle cx="1.3" cy="18.2" r="0.6" fill="#c81916"/><circle cx="15.5" cy="13.7" r="0.6" fill="#c81916"/><circle cx="28.9" cy="5.7" r="0.7" fill="#c81916"/><circle cx="-0.1" cy="5.7" r="0.7" fill="#c81916"/><circle cx="5.9" cy="18.3" r="0.6" fill="#c81916"/><circle cx="10.3" cy="21.7" r="0.6" fill="#c81916"/><circle cx="16.2" cy="26.2" r="0.5" fill="#c81916"/><circle cx="1.8" cy="6.6" r="0.8" fill="#c81916"/><circle cx="17.8" cy="6.9" r="0.6" fill="#c81916"/><circle cx="5.1" cy="13.3" r="0.5" fill="#c81916"/><circle cx="20.2" cy="26" r="0.9" fill="#c81916"/><circle cx="21.3" cy="27.8" r="0.5" fill="#c81916"/><circle cx="8.4" cy="28" r="0.8" fill="#c81916"/><circle cx="11.9" cy="27.4" r="0.7" fill="#c81916"/><circle cx="23.7" cy="8.5" r="0.6" fill="#c81916"/><circle cx="12.9" cy="4" r="0.7" fill="#c81916"/><circle cx="27.9" cy="9.6" r="0.5" fill="#c81916"/><circle cx="1.3" cy="4.9" r="0.8" fill="#c81916"/><circle cx="10.5" cy="8.4" r="0.5" fill="#c81916"/><circle cx="28.5" cy="12.3" r="0.6" fill="#c81916"/><circle cx="-0.5" cy="12.3" r="0.6" fill="#c81916"/><circle cx="1.7" cy="1.6" r="0.6" fill="#c81916"/><circle cx="19.6" cy="4.3" r="0.5" fill="#c81916"/><circle cx="14.2" cy="7.2" r="0.9" fill="#c81916"/><circle cx="3.5" cy="15.3" r="0.8" fill="#c81916"/><circle cx="11.9" cy="28.6" r="0.7" fill="#c81916"/><circle cx="11.9" cy="-0.4" r="0.7" fill="#c81916"/><circle cx="7" cy="11.9" r="0.5" fill="#c81916"/><circle cx="12.2" cy="7.2" r="0.9" fill="#c81916"/><circle cx="24.1" cy="14.5" r="0.5" fill="#c81916"/><circle cx="7.4" cy="7" r="0.6" fill="#c81916"/><circle cx="6.7" cy="25.2" r="0.6" fill="#c81916"/><circle cx="1.5" cy="26.9" r="0.7" fill="#c81916"/><circle cx="28.7" cy="11.7" r="0.9" fill="#c81916"/><circle cx="-0.3" cy="11.7" r="0.9" fill="#c81916"/><circle cx="19" cy="22.9" r="0.8" fill="#c81916"/><circle cx="14.3" cy="2.7" r="0.6" fill="#c81916"/><circle cx="25.3" cy="26.1" r="0.9" fill="#c81916"/><circle cx="9.8" cy="19.1" r="0.8" fill="#c81916"/><circle cx="18.6" cy="23.6" r="0.7" fill="#c81916"/><circle cx="19" cy="19.9" r="0.6" fill="#c81916"/><circle cx="26.8" cy="27.7" r="0.5" fill="#c81916"/><circle cx="28.2" cy="27.9" r="0.8" fill="#c81916"/><circle cx="1.3" cy="26.1" r="0.6" fill="#c81916"/><circle cx="28.1" cy="19.3" r="0.5" fill="#c81916"/><circle cx="4.9" cy="18.4" r="0.7" fill="#c81916"/><circle cx="21.6" cy="26.9" r="0.6" fill="#c81916"/><circle cx="0.1" cy="26.7" r="0.5" fill="#c81916"/><circle cx="29.1" cy="26.7" r="0.5" fill="#c81916"/><circle cx="25.4" cy="3.4" r="0.8" fill="#c81916"/><circle cx="22.7" cy="25.5" r="0.7" fill="#c81916"/><circle cx="25.5" cy="5.8" r="0.8" fill="#c81916"/><circle cx="9.6" cy="25.9" r="0.8" fill="#c81916"/><circle cx="13.7" cy="15.3" r="0.5" fill="#c81916"/><circle cx="1" cy="17.2" r="0.7" fill="#c81916"/><circle cx="25.1" cy="17.6" r="0.6" fill="#c81916"/><circle cx="10.5" cy="22.3" r="0.7" fill="#c81916"/><circle cx="0.3" cy="24.3" r="0.8" fill="#c81916"/><circle cx="29.3" cy="24.3" r="0.8" fill="#c81916"/><circle cx="2.5" cy="15.8" r="0.7" fill="#c81916"/><circle cx="22.8" cy="9" r="0.6" fill="#c81916"/><circle cx="14.1" cy="28" r="0.5" fill="#c81916"/><circle cx="3.3" cy="18" r="0.9" fill="#c81916"/><circle cx="14.9" cy="12.6" r="0.8" fill="#c81916"/><circle cx="22.5" cy="1.9" r="0.9" fill="#c81916"/><circle cx="5.7" cy="8.8" r="0.8" fill="#c81916"/><circle cx="12.3" cy="23.2" r="0.6" fill="#c81916"/><circle cx="25.4" cy="5.1" r="0.6" fill="#c81916"/><circle cx="14.3" cy="9.8" r="0.7" fill="#c81916"/><circle cx="26.2" cy="20.6" r="0.5" fill="#c81916"/><circle cx="9" cy="15.8" r="0.7" fill="#c81916"/><circle cx="20.8" cy="14" r="0.5" fill="#c81916"/><circle cx="7.1" cy="24.6" r="0.6" fill="#c81916"/><circle cx="22.2" cy="28.6" r="0.8" fill="#c81916"/><circle cx="22.2" cy="-0.4" r="0.8" fill="#c81916"/><circle cx="19.6" cy="17.7" r="0.6" fill="#c81916"/><circle cx="26.5" cy="13.5" r="0.9" fill="#c81916"/><circle cx="8.9" cy="25.2" r="0.8" fill="#c81916"/><circle cx="17.8" cy="12.8" r="0.6" fill="#c81916"/><circle cx="22.4" cy="10.5" r="0.8" fill="#c81916"/><circle cx="3.9" cy="2.4" r="0.6" fill="#c81916"/><circle cx="23.5" cy="5.2" r="0.9" fill="#780a08"/><circle cx="10.8" cy="16.7" r="0.6" fill="#780a08"/><circle cx="18" cy="2.7" r="0.7" fill="#780a08"/><circle cx="27.1" cy="5.2" r="0.8" fill="#780a08"/><circle cx="9.5" cy="8.7" r="0.5" fill="#780a08"/><circle cx="0.6" cy="27.5" r="0.8" fill="#780a08"/><circle cx="29.6" cy="27.5" r="0.8" fill="#780a08"/><circle cx="23.2" cy="23.4" r="0.9" fill="#780a08"/><circle cx="4.6" cy="16.9" r="0.7" fill="#780a08"/><circle cx="16.6" cy="27.2" r="0.8" fill="#780a08"/><circle cx="28.1" cy="3.4" r="0.8" fill="#780a08"/><circle cx="19.6" cy="21.6" r="0.7" fill="#780a08"/><circle cx="24.1" cy="8.8" r="0.9" fill="#780a08"/><circle cx="11.8" cy="17.4" r="0.9" fill="#780a08"/><circle cx="20.4" cy="9" r="0.6" fill="#780a08"/><circle cx="9.5" cy="18.2" r="0.9" fill="#780a08"/><circle cx="26.1" cy="11.6" r="0.7" fill="#780a08"/><circle cx="23.7" cy="8.2" r="0.7" fill="#780a08"/><circle cx="0.4" cy="5.3" r="0.7" fill="#780a08"/><circle cx="29.4" cy="5.3" r="0.7" fill="#780a08"/><circle cx="20.1" cy="17.8" r="0.6" fill="#780a08"/><circle cx="27.6" cy="18.1" r="0.6" fill="#780a08"/></pattern><pattern id="pMerge" width="29" height="29" patternUnits="userSpaceOnUse"><rect width="29" height="29" fill="#5528b4"/><circle cx="18.1" cy="21.5" r="0.9" fill="#d232b4"/><circle cx="27.3" cy="21.5" r="1" fill="#d232b4"/><circle cx="0.8" cy="13.5" r="1" fill="#d232b4"/><circle cx="29.8" cy="13.5" r="1" fill="#d232b4"/><circle cx="18.8" cy="26.1" r="0.6" fill="#d232b4"/><circle cx="13.6" cy="7.2" r="0.8" fill="#d232b4"/><circle cx="16.6" cy="0.4" r="0.6" fill="#d232b4"/><circle cx="16.6" cy="29.4" r="0.6" fill="#d232b4"/><circle cx="8.1" cy="26.6" r="0.9" fill="#d232b4"/><circle cx="4.6" cy="23.1" r="0.6" fill="#d232b4"/><circle cx="17.9" cy="3.7" r="0.5" fill="#d232b4"/><circle cx="25.3" cy="6.1" r="0.6" fill="#d232b4"/><circle cx="28.5" cy="25.3" r="0.6" fill="#d232b4"/><circle cx="-0.5" cy="25.3" r="0.6" fill="#d232b4"/><circle cx="27.9" cy="15.6" r="0.8" fill="#d232b4"/><circle cx="5.9" cy="27.3" r="0.8" fill="#d232b4"/><circle cx="28" cy="25.9" r="0.6" fill="#d232b4"/><circle cx="10.5" cy="4.8" r="0.6" fill="#d232b4"/><circle cx="1.9" cy="8.7" r="0.8" fill="#d232b4"/><circle cx="0.1" cy="19.7" r="0.7" fill="#d232b4"/><circle cx="29.1" cy="19.7" r="0.7" fill="#d232b4"/><circle cx="9" cy="23.7" r="0.7" fill="#d232b4"/><circle cx="9.2" cy="14" r="0.9" fill="#d232b4"/><circle cx="1.7" cy="28.3" r="0.5" fill="#d232b4"/><circle cx="21.7" cy="24.5" r="0.5" fill="#d232b4"/><circle cx="22.8" cy="10.6" r="0.8" fill="#d232b4"/><circle cx="0.3" cy="1.4" r="0.6" fill="#d232b4"/><circle cx="29.3" cy="1.4" r="0.6" fill="#d232b4"/><circle cx="27.7" cy="5.7" r="0.9" fill="#d232b4"/><circle cx="27" cy="27.3" r="0.7" fill="#d232b4"/><circle cx="10.3" cy="15.2" r="0.9" fill="#d232b4"/><circle cx="3.1" cy="21.7" r="0.9" fill="#d232b4"/><circle cx="24.9" cy="1.1" r="1" fill="#d232b4"/><circle cx="2.6" cy="9.9" r="0.8" fill="#d232b4"/><circle cx="26.6" cy="9.9" r="1" fill="#d232b4"/><circle cx="15.8" cy="9.1" r="0.7" fill="#d232b4"/><circle cx="5.1" cy="2.3" r="0.6" fill="#d232b4"/><circle cx="20" cy="28.9" r="0.6" fill="#d232b4"/><circle cx="20" cy="-0.1" r="0.6" fill="#d232b4"/><circle cx="1.4" cy="28.6" r="0.8" fill="#d232b4"/><circle cx="1.4" cy="-0.4" r="0.8" fill="#d232b4"/><circle cx="11.8" cy="6.9" r="0.8" fill="#d232b4"/><circle cx="24" cy="13.2" r="0.7" fill="#d232b4"/><circle cx="1.6" cy="26.6" r="0.5" fill="#d232b4"/><circle cx="14.3" cy="24.3" r="0.6" fill="#d232b4"/><circle cx="21.2" cy="27.5" r="0.8" fill="#d232b4"/><circle cx="22.9" cy="3.1" r="0.7" fill="#d232b4"/><circle cx="4.3" cy="24.5" r="0.6" fill="#d232b4"/><circle cx="13.1" cy="29" r="0.9" fill="#d232b4"/><circle cx="13.1" cy="0" r="0.9" fill="#d232b4"/><circle cx="28.3" cy="13.2" r="0.7" fill="#d232b4"/><circle cx="-0.7" cy="13.2" r="0.7" fill="#d232b4"/><circle cx="21.2" cy="13.9" r="0.6" fill="#d232b4"/><circle cx="11.7" cy="4.2" r="0.7" fill="#d232b4"/><circle cx="28.7" cy="27.8" r="0.8" fill="#d232b4"/><circle cx="-0.3" cy="27.8" r="0.8" fill="#d232b4"/><circle cx="14.5" cy="9.8" r="0.5" fill="#d232b4"/><circle cx="7.9" cy="22.7" r="0.9" fill="#d232b4"/><circle cx="10.5" cy="22.8" r="0.9" fill="#d232b4"/><circle cx="20.1" cy="19.3" r="0.9" fill="#d232b4"/><circle cx="10.5" cy="20.4" r="0.6" fill="#d232b4"/><circle cx="14.1" cy="22.3" r="0.8" fill="#d232b4"/><circle cx="8.5" cy="27.4" r="0.8" fill="#d232b4"/><circle cx="16.8" cy="0.3" r="0.8" fill="#d232b4"/><circle cx="16.8" cy="29.3" r="0.8" fill="#d232b4"/><circle cx="7.3" cy="19.5" r="0.7" fill="#d232b4"/><circle cx="23.7" cy="18.8" r="0.9" fill="#d232b4"/><circle cx="10.1" cy="18.7" r="0.9" fill="#d232b4"/><circle cx="24" cy="10.2" r="0.9" fill="#d232b4"/><circle cx="25.2" cy="20" r="1" fill="#d232b4"/><circle cx="27.7" cy="15" r="0.8" fill="#d232b4"/><circle cx="4.8" cy="24.3" r="1" fill="#d232b4"/><circle cx="13.8" cy="20.1" r="0.9" fill="#d232b4"/><circle cx="21.2" cy="5" r="0.9" fill="#d232b4"/><circle cx="16.8" cy="19.3" r="0.7" fill="#d232b4"/><circle cx="18.1" cy="22.5" r="0.8" fill="#d232b4"/><circle cx="20.9" cy="0.8" r="0.6" fill="#d232b4"/><circle cx="12.8" cy="18.9" r="0.6" fill="#d232b4"/><circle cx="19.9" cy="18.3" r="0.5" fill="#d232b4"/><circle cx="13.7" cy="6.6" r="0.5" fill="#d232b4"/><circle cx="3.9" cy="9.2" r="0.6" fill="#d232b4"/><circle cx="5.6" cy="1" r="0.7" fill="#d232b4"/><circle cx="11" cy="17.7" r="0.8" fill="#d232b4"/><circle cx="6.9" cy="26.2" r="0.5" fill="#d232b4"/><circle cx="11.8" cy="8.1" r="0.7" fill="#d232b4"/><circle cx="3.3" cy="24.1" r="0.7" fill="#d232b4"/><circle cx="1" cy="17.8" r="0.5" fill="#d232b4"/><circle cx="15.8" cy="9.8" r="0.8" fill="#d232b4"/><circle cx="27.8" cy="23.7" r="0.7" fill="#d232b4"/><circle cx="23.6" cy="18.6" r="0.7" fill="#d232b4"/><circle cx="4.1" cy="17.3" r="0.8" fill="#d232b4"/><circle cx="27.8" cy="28.1" r="0.8" fill="#d232b4"/><circle cx="10.2" cy="25.9" r="0.5" fill="#d232b4"/><circle cx="3.1" cy="16.4" r="0.8" fill="#d232b4"/><circle cx="4.1" cy="18.3" r="0.9" fill="#d232b4"/><circle cx="10.9" cy="12.5" r="0.6" fill="#d232b4"/><circle cx="8.5" cy="28.2" r="0.7" fill="#d232b4"/><circle cx="27.9" cy="26.5" r="0.8" fill="#d232b4"/><circle cx="7.5" cy="28.4" r="0.7" fill="#d232b4"/><circle cx="7.5" cy="-0.6" r="0.7" fill="#d232b4"/><circle cx="12" cy="9.3" r="1" fill="#d232b4"/><circle cx="14.3" cy="8.3" r="0.7" fill="#d232b4"/><circle cx="3.5" cy="18" r="0.7" fill="#d232b4"/><circle cx="8.5" cy="22.7" r="0.9" fill="#d232b4"/><circle cx="0.4" cy="15.4" r="0.6" fill="#d232b4"/><circle cx="29.4" cy="15.4" r="0.6" fill="#d232b4"/><circle cx="27.1" cy="22.7" r="0.6" fill="#d232b4"/><circle cx="7.8" cy="4.5" r="1" fill="#d232b4"/><circle cx="8.5" cy="17.6" r="0.8" fill="#2d2deb"/><circle cx="18.7" cy="17.5" r="1" fill="#2d2deb"/><circle cx="3.4" cy="22.1" r="0.8" fill="#2d2deb"/><circle cx="15.5" cy="9.7" r="0.7" fill="#2d2deb"/><circle cx="15.4" cy="13.5" r="0.8" fill="#2d2deb"/><circle cx="21.6" cy="17.1" r="0.6" fill="#2d2deb"/><circle cx="7.3" cy="13.2" r="1.1" fill="#2d2deb"/><circle cx="25.8" cy="15.8" r="0.6" fill="#2d2deb"/><circle cx="22.6" cy="12.4" r="0.9" fill="#2d2deb"/><circle cx="20.5" cy="18.3" r="0.8" fill="#2d2deb"/><circle cx="26.4" cy="11.2" r="0.8" fill="#2d2deb"/><circle cx="24.7" cy="5.7" r="0.7" fill="#2d2deb"/><circle cx="24.1" cy="1.9" r="1" fill="#2d2deb"/><circle cx="20.1" cy="12.6" r="0.7" fill="#2d2deb"/><circle cx="22.6" cy="26.4" r="0.7" fill="#2d2deb"/><circle cx="13.9" cy="15.9" r="0.8" fill="#2d2deb"/><circle cx="9.6" cy="4.5" r="0.9" fill="#2d2deb"/><circle cx="23.5" cy="2" r="0.7" fill="#2d2deb"/><circle cx="23.8" cy="23" r="0.9" fill="#2d2deb"/><circle cx="0.7" cy="21" r="1.1" fill="#2d2deb"/><circle cx="29.7" cy="21" r="1.1" fill="#2d2deb"/><circle cx="29" cy="20.3" r="0.6" fill="#2d2deb"/><circle cx="0" cy="20.3" r="0.6" fill="#2d2deb"/><circle cx="24.4" cy="6.4" r="0.9" fill="#2d2deb"/><circle cx="27.6" cy="20.7" r="0.7" fill="#2d2deb"/><circle cx="8.5" cy="26.6" r="0.7" fill="#2d2deb"/><circle cx="17.7" cy="12" r="0.7" fill="#2d2deb"/><circle cx="18" cy="1.3" r="0.7" fill="#2d2deb"/><circle cx="11" cy="2.1" r="0.6" fill="#2d2deb"/><circle cx="16.7" cy="21.5" r="1" fill="#2d2deb"/><circle cx="3.9" cy="12.5" r="0.8" fill="#2d2deb"/><circle cx="17.4" cy="14.2" r="1.1" fill="#2d2deb"/><circle cx="10.9" cy="1.6" r="0.9" fill="#2d2deb"/><circle cx="4.4" cy="18.3" r="0.9" fill="#2d2deb"/><circle cx="26.4" cy="16.1" r="0.9" fill="#2d2deb"/><circle cx="7.6" cy="16" r="0.7" fill="#2d2deb"/><circle cx="21.8" cy="15" r="0.7" fill="#2d2deb"/><circle cx="6.8" cy="10.8" r="1" fill="#2d2deb"/><circle cx="5.2" cy="20.7" r="0.9" fill="#2d2deb"/><circle cx="2.5" cy="19.4" r="0.6" fill="#2d2deb"/><circle cx="3.6" cy="17.2" r="0.7" fill="#2d2deb"/><circle cx="25.4" cy="13.9" r="0.8" fill="#2d2deb"/><circle cx="23.1" cy="0.9" r="1" fill="#2d2deb"/><circle cx="23.1" cy="29.9" r="1" fill="#2d2deb"/><circle cx="1.6" cy="4.4" r="1.1" fill="#2d2deb"/><circle cx="19.8" cy="6.5" r="0.7" fill="#2d2deb"/><circle cx="28.2" cy="19.3" r="1" fill="#2d2deb"/><circle cx="-0.8" cy="19.3" r="1" fill="#2d2deb"/><circle cx="4.1" cy="18.1" r="0.8" fill="#2d2deb"/><circle cx="6.8" cy="9.7" r="0.9" fill="#2d2deb"/><circle cx="10.1" cy="11.2" r="0.7" fill="#2d2deb"/><circle cx="24.1" cy="18.8" r="1" fill="#2d2deb"/><circle cx="12.6" cy="24.7" r="0.9" fill="#2d2deb"/><circle cx="17.2" cy="16.6" r="1" fill="#2d2deb"/><circle cx="11.5" cy="2.8" r="0.6" fill="#2d2deb"/><circle cx="5.9" cy="1.1" r="1" fill="#2d2deb"/><circle cx="13.9" cy="22.1" r="0.6" fill="#2d2deb"/><circle cx="13.6" cy="25.8" r="0.9" fill="#2d2deb"/><circle cx="12.4" cy="13.5" r="0.6" fill="#2d2deb"/><circle cx="4.5" cy="4.6" r="0.8" fill="#2d2deb"/><circle cx="11.2" cy="25.5" r="0.7" fill="#2d2deb"/><circle cx="7.4" cy="8" r="0.7" fill="#2d2deb"/><circle cx="8.3" cy="6.8" r="0.8" fill="#2d2deb"/><circle cx="0.9" cy="26.8" r="0.8" fill="#2d2deb"/><circle cx="27.2" cy="19.9" r="0.9" fill="#2d2deb"/><circle cx="13.7" cy="27.4" r="0.7" fill="#2d2deb"/><circle cx="19.4" cy="8.4" r="0.9" fill="#2d2deb"/><circle cx="21.1" cy="4.7" r="0.7" fill="#2d2deb"/><circle cx="0.7" cy="6.7" r="0.6" fill="#2d2deb"/><circle cx="11.6" cy="28.2" r="0.8" fill="#2d2deb"/><circle cx="11.6" cy="-0.8" r="0.8" fill="#2d2deb"/><circle cx="9" cy="13.6" r="0.7" fill="#2d2deb"/><circle cx="21.2" cy="20.8" r="0.7" fill="#2d2deb"/><circle cx="7" cy="19.5" r="1.1" fill="#2d2deb"/><circle cx="18.7" cy="12.5" r="1.1" fill="#2d2deb"/><circle cx="0.2" cy="1.8" r="1" fill="#2d2deb"/><circle cx="29.2" cy="1.8" r="1" fill="#2d2deb"/><circle cx="11.9" cy="1.3" r="0.9" fill="#2d2deb"/><circle cx="28.7" cy="15" r="0.8" fill="#2d2deb"/><circle cx="-0.3" cy="15" r="0.8" fill="#2d2deb"/><circle cx="2.7" cy="2.1" r="1" fill="#2d2deb"/><circle cx="14.2" cy="27.1" r="0.6" fill="#2d2deb"/><circle cx="7.1" cy="1.5" r="0.8" fill="#2d2deb"/><circle cx="1.7" cy="7.4" r="0.8" fill="#2d2deb"/><circle cx="8.9" cy="1.5" r="0.6" fill="#2d2deb"/><circle cx="28.2" cy="5.2" r="0.9" fill="#2d2deb"/><circle cx="-0.8" cy="5.2" r="0.9" fill="#2d2deb"/><circle cx="11.7" cy="15.4" r="0.6" fill="#2d2deb"/><circle cx="9.1" cy="3.1" r="0.9" fill="#2d2deb"/><circle cx="26.7" cy="17.4" r="1" fill="#2d2deb"/><circle cx="6.2" cy="0.5" r="0.9" fill="#2d2deb"/><circle cx="6.2" cy="29.5" r="0.9" fill="#2d2deb"/><circle cx="14.1" cy="16.6" r="0.8" fill="#2d2deb"/><circle cx="18.1" cy="21" r="1.1" fill="#2d2deb"/><circle cx="8.9" cy="13" r="0.8" fill="#46c8d2"/><circle cx="6.5" cy="3.4" r="0.6" fill="#46c8d2"/><circle cx="2.5" cy="22.4" r="0.8" fill="#46c8d2"/><circle cx="9.1" cy="3.8" r="0.5" fill="#46c8d2"/><circle cx="7.1" cy="2.4" r="0.7" fill="#46c8d2"/><circle cx="16.7" cy="7.1" r="0.5" fill="#46c8d2"/><circle cx="20.3" cy="1.4" r="0.6" fill="#46c8d2"/><circle cx="8.3" cy="10.8" r="0.5" fill="#46c8d2"/><circle cx="12.2" cy="9.1" r="0.8" fill="#46c8d2"/><circle cx="16.1" cy="26" r="0.8" fill="#46c8d2"/><circle cx="22" cy="16.7" r="0.7" fill="#46c8d2"/><circle cx="23.7" cy="19" r="0.9" fill="#46c8d2"/><circle cx="21.1" cy="20.3" r="0.6" fill="#46c8d2"/><circle cx="23.6" cy="11.1" r="0.6" fill="#46c8d2"/><circle cx="1.9" cy="4.9" r="0.6" fill="#46eb82"/><circle cx="19.6" cy="8.3" r="0.5" fill="#46eb82"/><circle cx="22.1" cy="16.2" r="0.5" fill="#46eb82"/><circle cx="1.5" cy="3.8" r="0.6" fill="#46eb82"/><circle cx="24.9" cy="27.5" r="0.7" fill="#46eb82"/><circle cx="6.7" cy="12.4" r="0.6" fill="#46eb82"/><circle cx="9.6" cy="0.4" r="0.7" fill="#46eb82"/><circle cx="9.6" cy="29.4" r="0.7" fill="#46eb82"/><circle cx="24" cy="21.1" r="0.5" fill="#46eb82"/><circle cx="15.4" cy="5" r="0.8" fill="#46eb82"/><circle cx="12.9" cy="27.2" r="0.8" fill="#46eb82"/><circle cx="3.4" cy="9.2" r="0.9" fill="#230f64"/><circle cx="13.4" cy="12.6" r="0.7" fill="#230f64"/><circle cx="22.3" cy="27.2" r="0.7" fill="#230f64"/><circle cx="28.1" cy="17.3" r="0.5" fill="#230f64"/><circle cx="23.6" cy="12.2" r="0.5" fill="#230f64"/><circle cx="28.4" cy="1" r="0.7" fill="#230f64"/><circle cx="-0.6" cy="1" r="0.7" fill="#230f64"/><circle cx="14" cy="25.6" r="0.7" fill="#230f64"/><circle cx="6.3" cy="8" r="0.6" fill="#230f64"/><circle cx="16.3" cy="10.4" r="0.8" fill="#230f64"/><circle cx="7" cy="10.2" r="0.6" fill="#230f64"/><circle cx="28.5" cy="24.4" r="0.8" fill="#230f64"/><circle cx="-0.5" cy="24.4" r="0.8" fill="#230f64"/><circle cx="17.9" cy="11.6" r="0.6" fill="#230f64"/><circle cx="24.1" cy="14.2" r="0.5" fill="#230f64"/><circle cx="4.9" cy="2.9" r="0.8" fill="#230f64"/><circle cx="26.1" cy="5.8" r="0.8" fill="#230f64"/><circle cx="9.4" cy="19.8" r="0.8" fill="#230f64"/><circle cx="18.1" cy="23.2" r="0.7" fill="#230f64"/><circle cx="0.3" cy="14.8" r="0.7" fill="#230f64"/><circle cx="29.3" cy="14.8" r="0.7" fill="#230f64"/><circle cx="5.4" cy="11.3" r="0.6" fill="#230f64"/><circle cx="0.8" cy="9.1" r="0.7" fill="#230f64"/><circle cx="13.8" cy="20.4" r="0.7" fill="#230f64"/><circle cx="28.5" cy="23.7" r="0.9" fill="#230f64"/><circle cx="-0.5" cy="23.7" r="0.9" fill="#230f64"/><circle cx="20.1" cy="19.4" r="0.7" fill="#230f64"/><circle cx="23.2" cy="10.5" r="0.7" fill="#230f64"/><circle cx="19.7" cy="15.1" r="0.6" fill="#230f64"/><circle cx="2.3" cy="2.5" r="0.6" fill="#230f64"/><circle cx="16.8" cy="22" r="0.8" fill="#230f64"/><circle cx="8.9" cy="26.9" r="0.6" fill="#230f64"/><circle cx="20.8" cy="2.1" r="0.8" fill="#230f64"/><circle cx="19.4" cy="27.8" r="0.9" fill="#230f64"/><circle cx="19.9" cy="24.3" r="0.8" fill="#230f64"/><circle cx="17.7" cy="6.1" r="0.7" fill="#230f64"/><circle cx="26" cy="6.9" r="0.9" fill="#230f64"/><circle cx="15.8" cy="11.4" r="0.5" fill="#230f64"/><circle cx="11.3" cy="5.2" r="0.8" fill="#230f64"/></pattern><pattern id="pPD" width="29" height="29" patternUnits="userSpaceOnUse"><rect width="29" height="29" fill="#6e1caf"/><circle cx="23" cy="23.8" r="0.7" fill="#cd2dc3"/><circle cx="7.6" cy="0" r="0.8" fill="#cd2dc3"/><circle cx="7.6" cy="29" r="0.8" fill="#cd2dc3"/><circle cx="13.6" cy="22" r="0.7" fill="#cd2dc3"/><circle cx="22.3" cy="7.9" r="0.9" fill="#cd2dc3"/><circle cx="21.2" cy="12" r="0.8" fill="#cd2dc3"/><circle cx="19.8" cy="5.6" r="0.8" fill="#cd2dc3"/><circle cx="23.3" cy="7.7" r="0.9" fill="#cd2dc3"/><circle cx="19.9" cy="24.5" r="0.7" fill="#cd2dc3"/><circle cx="2.7" cy="23.2" r="0.9" fill="#cd2dc3"/><circle cx="12.9" cy="2.7" r="0.6" fill="#cd2dc3"/><circle cx="18.4" cy="8.4" r="1" fill="#cd2dc3"/><circle cx="17.1" cy="5.8" r="0.8" fill="#cd2dc3"/><circle cx="10.5" cy="27" r="1" fill="#cd2dc3"/><circle cx="14.9" cy="18.7" r="0.8" fill="#cd2dc3"/><circle cx="23.4" cy="28.3" r="0.5" fill="#cd2dc3"/><circle cx="10.5" cy="17.5" r="0.7" fill="#cd2dc3"/><circle cx="17.1" cy="2.6" r="0.9" fill="#cd2dc3"/><circle cx="15.2" cy="3.4" r="0.8" fill="#cd2dc3"/><circle cx="9.1" cy="5.7" r="0.7" fill="#cd2dc3"/><circle cx="4" cy="6.1" r="0.9" fill="#cd2dc3"/><circle cx="20.2" cy="0.4" r="0.9" fill="#cd2dc3"/><circle cx="20.2" cy="29.4" r="0.9" fill="#cd2dc3"/><circle cx="0.5" cy="9.7" r="1" fill="#cd2dc3"/><circle cx="29.5" cy="9.7" r="1" fill="#cd2dc3"/><circle cx="18" cy="8.9" r="0.7" fill="#cd2dc3"/><circle cx="11.3" cy="3.7" r="1" fill="#cd2dc3"/><circle cx="1.6" cy="12.3" r="0.9" fill="#cd2dc3"/><circle cx="11.5" cy="28.4" r="0.6" fill="#cd2dc3"/><circle cx="11.5" cy="-0.6" r="0.6" fill="#cd2dc3"/><circle cx="28.4" cy="25.9" r="0.8" fill="#cd2dc3"/><circle cx="-0.6" cy="25.9" r="0.8" fill="#cd2dc3"/><circle cx="25.8" cy="13" r="0.9" fill="#cd2dc3"/><circle cx="23.1" cy="15" r="0.7" fill="#cd2dc3"/><circle cx="20.5" cy="11.9" r="0.5" fill="#cd2dc3"/><circle cx="21.6" cy="7.7" r="0.7" fill="#cd2dc3"/><circle cx="22.7" cy="5" r="0.5" fill="#cd2dc3"/><circle cx="3.6" cy="17.1" r="0.7" fill="#cd2dc3"/><circle cx="7.4" cy="13.1" r="1" fill="#cd2dc3"/><circle cx="7.4" cy="11.9" r="0.9" fill="#cd2dc3"/><circle cx="17.8" cy="7.8" r="0.7" fill="#cd2dc3"/><circle cx="13.9" cy="4.1" r="0.7" fill="#cd2dc3"/><circle cx="8.9" cy="23.3" r="0.7" fill="#cd2dc3"/><circle cx="19.1" cy="28.2" r="1" fill="#cd2dc3"/><circle cx="19.1" cy="-0.8" r="1" fill="#cd2dc3"/><circle cx="10.9" cy="17.5" r="0.7" fill="#cd2dc3"/><circle cx="11.6" cy="14.2" r="0.9" fill="#cd2dc3"/><circle cx="27.2" cy="8.4" r="0.5" fill="#cd2dc3"/><circle cx="13" cy="1.7" r="0.5" fill="#cd2dc3"/><circle cx="22.4" cy="3.3" r="0.9" fill="#cd2dc3"/><circle cx="10.5" cy="27.2" r="0.9" fill="#cd2dc3"/><circle cx="1.8" cy="5.6" r="1" fill="#cd2dc3"/><circle cx="17.8" cy="12.2" r="0.9" fill="#cd2dc3"/><circle cx="23.6" cy="14.3" r="0.7" fill="#cd2dc3"/><circle cx="2.9" cy="10.5" r="0.6" fill="#cd2dc3"/><circle cx="18.1" cy="17.6" r="0.6" fill="#cd2dc3"/><circle cx="18.2" cy="2.8" r="0.6" fill="#cd2dc3"/><circle cx="18.7" cy="13.4" r="0.9" fill="#cd2dc3"/><circle cx="18.2" cy="20.3" r="0.6" fill="#cd2dc3"/><circle cx="24.1" cy="2.4" r="0.8" fill="#cd2dc3"/><circle cx="26.4" cy="26.3" r="0.9" fill="#cd2dc3"/><circle cx="13.1" cy="20.1" r="0.9" fill="#cd2dc3"/><circle cx="4" cy="27.4" r="1" fill="#cd2dc3"/><circle cx="12.8" cy="22.6" r="0.7" fill="#cd2dc3"/><circle cx="8" cy="20.7" r="0.5" fill="#cd2dc3"/><circle cx="23.2" cy="28.4" r="0.6" fill="#cd2dc3"/><circle cx="23.2" cy="-0.6" r="0.6" fill="#cd2dc3"/><circle cx="27.3" cy="2.4" r="0.9" fill="#cd2dc3"/><circle cx="8.1" cy="28" r="0.7" fill="#cd2dc3"/><circle cx="26.7" cy="0.9" r="0.5" fill="#cd2dc3"/><circle cx="23.7" cy="18.5" r="0.8" fill="#cd2dc3"/><circle cx="0.9" cy="5" r="0.7" fill="#cd2dc3"/><circle cx="1.5" cy="28.8" r="0.9" fill="#cd2dc3"/><circle cx="1.5" cy="-0.2" r="0.9" fill="#cd2dc3"/><circle cx="27.5" cy="20.3" r="0.7" fill="#cd2dc3"/><circle cx="2.3" cy="21.2" r="0.6" fill="#cd2dc3"/><circle cx="15.9" cy="13.5" r="0.7" fill="#cd2dc3"/><circle cx="2.2" cy="2.1" r="0.8" fill="#cd2dc3"/><circle cx="0.9" cy="15.2" r="0.6" fill="#cd2dc3"/><circle cx="8.2" cy="4.4" r="0.8" fill="#cd2dc3"/><circle cx="11.3" cy="6.5" r="0.6" fill="#cd2dc3"/><circle cx="16.4" cy="26.4" r="0.7" fill="#cd2dc3"/><circle cx="4.7" cy="9.2" r="0.6" fill="#cd2dc3"/><circle cx="16.6" cy="22.8" r="0.8" fill="#cd2dc3"/><circle cx="5.5" cy="9.4" r="0.7" fill="#cd2dc3"/><circle cx="12.8" cy="11.5" r="1" fill="#cd2dc3"/><circle cx="16" cy="19.2" r="0.9" fill="#cd2dc3"/><circle cx="18.7" cy="23.4" r="0.7" fill="#cd2dc3"/><circle cx="19.3" cy="28.2" r="0.6" fill="#cd2dc3"/><circle cx="18.1" cy="11.2" r="0.5" fill="#cd2dc3"/><circle cx="1.2" cy="22" r="0.6" fill="#cd2dc3"/><circle cx="20.6" cy="2.9" r="0.7" fill="#cd2dc3"/><circle cx="0.9" cy="15.7" r="0.9" fill="#cd2dc3"/><circle cx="6.5" cy="16.4" r="1" fill="#cd2dc3"/><circle cx="8.5" cy="13.7" r="0.9" fill="#cd2dc3"/><circle cx="25.1" cy="4.9" r="0.8" fill="#cd2dc3"/><circle cx="3.5" cy="3.3" r="1" fill="#cd2dc3"/><circle cx="1.5" cy="26.7" r="0.9" fill="#cd2dc3"/><circle cx="19.6" cy="21.2" r="0.8" fill="#cd2dc3"/><circle cx="8.3" cy="12.9" r="0.6" fill="#cd2dc3"/><circle cx="24.9" cy="22.6" r="0.9" fill="#cd2dc3"/><circle cx="6.2" cy="17.2" r="0.6" fill="#cd2dc3"/><circle cx="22.9" cy="21.6" r="1" fill="#cd2dc3"/><circle cx="20.5" cy="19.8" r="0.9" fill="#cd2dc3"/><circle cx="2.7" cy="17.3" r="0.5" fill="#cd2dc3"/><circle cx="10.6" cy="3.4" r="1" fill="#cd2dc3"/><circle cx="0.8" cy="26.7" r="1" fill="#cd2dc3"/><circle cx="29.8" cy="26.7" r="1" fill="#cd2dc3"/><circle cx="12.6" cy="24.1" r="0.5" fill="#cd2dc3"/><circle cx="4" cy="0.3" r="0.6" fill="#3c28dc"/><circle cx="4" cy="29.3" r="0.6" fill="#3c28dc"/><circle cx="0.1" cy="24" r="0.7" fill="#3c28dc"/><circle cx="29.1" cy="24" r="0.7" fill="#3c28dc"/><circle cx="17.1" cy="7.9" r="0.7" fill="#3c28dc"/><circle cx="12.2" cy="5.3" r="1.2" fill="#3c28dc"/><circle cx="11.1" cy="17.2" r="0.9" fill="#3c28dc"/><circle cx="18.2" cy="13.9" r="0.8" fill="#3c28dc"/><circle cx="4" cy="25.8" r="0.7" fill="#3c28dc"/><circle cx="13" cy="23.4" r="0.9" fill="#3c28dc"/><circle cx="27.5" cy="23.5" r="0.9" fill="#3c28dc"/><circle cx="3.5" cy="17.2" r="0.9" fill="#3c28dc"/><circle cx="25" cy="15.4" r="1" fill="#3c28dc"/><circle cx="23.5" cy="13.6" r="1.1" fill="#3c28dc"/><circle cx="26.1" cy="4.5" r="1.2" fill="#3c28dc"/><circle cx="25.2" cy="24.8" r="0.8" fill="#3c28dc"/><circle cx="7.3" cy="3.9" r="0.8" fill="#3c28dc"/><circle cx="24.8" cy="10.5" r="0.6" fill="#3c28dc"/><circle cx="8.8" cy="2.4" r="1" fill="#3c28dc"/><circle cx="22.3" cy="26.9" r="0.7" fill="#3c28dc"/><circle cx="11" cy="3.6" r="1.1" fill="#3c28dc"/><circle cx="24.3" cy="15.1" r="1.2" fill="#3c28dc"/><circle cx="15.1" cy="22.5" r="0.9" fill="#3c28dc"/><circle cx="10.6" cy="28.8" r="1.1" fill="#3c28dc"/><circle cx="10.6" cy="-0.2" r="1.1" fill="#3c28dc"/><circle cx="17.2" cy="25.1" r="1" fill="#3c28dc"/><circle cx="23.1" cy="1.9" r="0.7" fill="#3c28dc"/><circle cx="3.2" cy="17.5" r="1" fill="#3c28dc"/><circle cx="4.5" cy="14.6" r="0.7" fill="#3c28dc"/><circle cx="19.9" cy="22.6" r="0.7" fill="#3c28dc"/><circle cx="28.4" cy="19.3" r="0.7" fill="#3c28dc"/><circle cx="-0.6" cy="19.3" r="0.7" fill="#3c28dc"/><circle cx="10.2" cy="4.6" r="1" fill="#3c28dc"/><circle cx="26.6" cy="5.1" r="0.7" fill="#3c28dc"/><circle cx="18.2" cy="24.9" r="1" fill="#3c28dc"/><circle cx="13.3" cy="3.2" r="1" fill="#3c28dc"/><circle cx="13.2" cy="23.3" r="0.9" fill="#3c28dc"/><circle cx="21.3" cy="28.2" r="1" fill="#3c28dc"/><circle cx="21.3" cy="-0.8" r="1" fill="#3c28dc"/><circle cx="26.4" cy="7.9" r="0.6" fill="#3c28dc"/><circle cx="25.6" cy="0.9" r="1.2" fill="#3c28dc"/><circle cx="25.6" cy="29.9" r="1.2" fill="#3c28dc"/><circle cx="13.2" cy="1.8" r="0.8" fill="#3c28dc"/><circle cx="20.9" cy="11.1" r="1" fill="#3c28dc"/><circle cx="3" cy="24.2" r="0.8" fill="#3c28dc"/><circle cx="24.2" cy="4.3" r="1" fill="#3c28dc"/><circle cx="13.6" cy="11.7" r="0.6" fill="#3c28dc"/><circle cx="15.4" cy="24.3" r="0.7" fill="#3c28dc"/><circle cx="12.9" cy="0.4" r="1.2" fill="#3c28dc"/><circle cx="12.9" cy="29.4" r="1.2" fill="#3c28dc"/><circle cx="28.1" cy="19.7" r="0.9" fill="#3c28dc"/><circle cx="-0.9" cy="19.7" r="0.9" fill="#3c28dc"/><circle cx="2" cy="3.5" r="1" fill="#3c28dc"/><circle cx="23" cy="28.7" r="1.1" fill="#3c28dc"/><circle cx="23" cy="-0.3" r="1.1" fill="#3c28dc"/><circle cx="12.7" cy="7.4" r="0.9" fill="#3c28dc"/><circle cx="10" cy="15.8" r="1.1" fill="#3c28dc"/><circle cx="13.1" cy="28.5" r="1" fill="#3c28dc"/><circle cx="13.1" cy="-0.5" r="1" fill="#3c28dc"/><circle cx="1.3" cy="21.7" r="1" fill="#3c28dc"/><circle cx="18" cy="0.1" r="1.1" fill="#3c28dc"/><circle cx="18" cy="29.1" r="1.1" fill="#3c28dc"/><circle cx="14.4" cy="15.6" r="0.7" fill="#3c28dc"/><circle cx="1" cy="0.4" r="0.7" fill="#3c28dc"/><circle cx="1" cy="29.4" r="0.7" fill="#3c28dc"/><circle cx="8.8" cy="4.5" r="0.6" fill="#3c28dc"/><circle cx="21.1" cy="20.4" r="1.1" fill="#3c28dc"/><circle cx="6.3" cy="21.1" r="1" fill="#3c28dc"/><circle cx="2.6" cy="25.4" r="0.8" fill="#3c28dc"/><circle cx="5.4" cy="5.3" r="1.2" fill="#3c28dc"/><circle cx="6.4" cy="11.1" r="0.9" fill="#3c28dc"/><circle cx="10.4" cy="19" r="0.7" fill="#3c28dc"/><circle cx="12.5" cy="17" r="1" fill="#3c28dc"/><circle cx="17.7" cy="7.8" r="1" fill="#3c28dc"/><circle cx="28.2" cy="14" r="1" fill="#3c28dc"/><circle cx="-0.8" cy="14" r="1" fill="#3c28dc"/><circle cx="24.3" cy="7.3" r="0.8" fill="#3c28dc"/><circle cx="28.1" cy="8.7" r="0.9" fill="#3c28dc"/><circle cx="10.8" cy="28.8" r="0.9" fill="#3c28dc"/><circle cx="10.8" cy="-0.2" r="0.9" fill="#3c28dc"/><circle cx="26" cy="4.7" r="0.8" fill="#3c28dc"/><circle cx="18.8" cy="9.2" r="1" fill="#3c28dc"/><circle cx="14.7" cy="2.3" r="0.7" fill="#3c28dc"/><circle cx="12.7" cy="15.5" r="0.7" fill="#3c28dc"/><circle cx="7.6" cy="0" r="0.6" fill="#2d0a50"/><circle cx="7.6" cy="29" r="0.6" fill="#2d0a50"/><circle cx="9" cy="11.3" r="0.7" fill="#2d0a50"/><circle cx="24.7" cy="20.8" r="0.8" fill="#2d0a50"/><circle cx="8.2" cy="14.4" r="0.8" fill="#2d0a50"/><circle cx="25.9" cy="7" r="0.5" fill="#2d0a50"/><circle cx="1.5" cy="14.9" r="0.8" fill="#2d0a50"/><circle cx="4.4" cy="22.7" r="0.8" fill="#2d0a50"/><circle cx="25.1" cy="26.1" r="0.5" fill="#2d0a50"/><circle cx="23" cy="3.9" r="0.5" fill="#2d0a50"/><circle cx="11.6" cy="14.2" r="0.5" fill="#2d0a50"/><circle cx="8" cy="5.1" r="0.6" fill="#2d0a50"/><circle cx="2.9" cy="0.7" r="0.6" fill="#2d0a50"/><circle cx="9.5" cy="12.2" r="0.8" fill="#2d0a50"/><circle cx="17.7" cy="14.1" r="0.6" fill="#2d0a50"/><circle cx="17.8" cy="5.6" r="0.6" fill="#2d0a50"/><circle cx="3.3" cy="19.4" r="0.6" fill="#2d0a50"/><circle cx="6.5" cy="10.2" r="0.7" fill="#2d0a50"/><circle cx="18.8" cy="17.2" r="0.7" fill="#2d0a50"/><circle cx="5.6" cy="26.5" r="0.8" fill="#2d0a50"/><circle cx="11.8" cy="11.5" r="0.7" fill="#2d0a50"/><circle cx="3.5" cy="18.7" r="0.9" fill="#2d0a50"/><circle cx="10.6" cy="14.5" r="0.6" fill="#2d0a50"/><circle cx="26.4" cy="10.9" r="0.6" fill="#2d0a50"/><circle cx="20.7" cy="10.8" r="0.9" fill="#2d0a50"/><circle cx="11.9" cy="17.1" r="0.6" fill="#2d0a50"/><circle cx="17.1" cy="13.7" r="0.5" fill="#2d0a50"/><circle cx="25.8" cy="4.7" r="0.7" fill="#2d0a50"/><circle cx="19.6" cy="13.6" r="0.6" fill="#2d0a50"/><circle cx="13.2" cy="29" r="0.5" fill="#2d0a50"/><circle cx="13.2" cy="0" r="0.5" fill="#2d0a50"/><circle cx="25.7" cy="17.6" r="0.7" fill="#2d0a50"/></pattern><pattern id="pMerge3" width="29" height="29" patternUnits="userSpaceOnUse"><rect width="29" height="29" fill="#2d19b9"/><circle cx="9.4" cy="4.4" r="0.8" fill="#be28aa"/><circle cx="2.1" cy="15.5" r="0.7" fill="#be28aa"/><circle cx="1.7" cy="14.7" r="0.5" fill="#be28aa"/><circle cx="12.6" cy="2" r="0.5" fill="#be28aa"/><circle cx="12.3" cy="24" r="0.6" fill="#be28aa"/><circle cx="6.5" cy="18.2" r="1" fill="#be28aa"/><circle cx="16.7" cy="11.5" r="1" fill="#be28aa"/><circle cx="1.4" cy="24.9" r="0.6" fill="#be28aa"/><circle cx="4.2" cy="3.4" r="0.7" fill="#be28aa"/><circle cx="23.7" cy="5.2" r="0.8" fill="#be28aa"/><circle cx="18.5" cy="10.8" r="0.8" fill="#be28aa"/><circle cx="1.8" cy="1.7" r="0.6" fill="#be28aa"/><circle cx="19.7" cy="12.4" r="0.7" fill="#be28aa"/><circle cx="17" cy="13.1" r="0.6" fill="#be28aa"/><circle cx="23" cy="20.3" r="0.6" fill="#be28aa"/><circle cx="16.7" cy="15.2" r="0.9" fill="#be28aa"/><circle cx="21.2" cy="8.4" r="1" fill="#be28aa"/><circle cx="3.4" cy="12.1" r="0.9" fill="#be28aa"/><circle cx="4.4" cy="14.2" r="0.5" fill="#be28aa"/><circle cx="19.4" cy="22.2" r="0.8" fill="#be28aa"/><circle cx="25.4" cy="9.1" r="0.8" fill="#be28aa"/><circle cx="17.2" cy="16.8" r="0.7" fill="#be28aa"/><circle cx="24.4" cy="27.4" r="0.7" fill="#be28aa"/><circle cx="19.3" cy="1.8" r="0.9" fill="#be28aa"/><circle cx="18.8" cy="28.8" r="0.9" fill="#be28aa"/><circle cx="18.8" cy="-0.2" r="0.9" fill="#be28aa"/><circle cx="8.3" cy="11.2" r="0.8" fill="#be28aa"/><circle cx="0.7" cy="13.4" r="0.6" fill="#be28aa"/><circle cx="3.4" cy="1.7" r="0.9" fill="#be28aa"/><circle cx="3.8" cy="7.2" r="0.7" fill="#be28aa"/><circle cx="25.3" cy="2.3" r="0.7" fill="#be28aa"/><circle cx="15.9" cy="25.6" r="0.9" fill="#be28aa"/><circle cx="25.1" cy="8.1" r="0.7" fill="#be28aa"/><circle cx="10.4" cy="25.6" r="1" fill="#be28aa"/><circle cx="4.4" cy="5.1" r="0.6" fill="#be28aa"/><circle cx="6.8" cy="14.1" r="0.8" fill="#be28aa"/><circle cx="7.6" cy="0.1" r="0.7" fill="#be28aa"/><circle cx="7.6" cy="29.1" r="0.7" fill="#be28aa"/><circle cx="10.7" cy="16.4" r="1" fill="#be28aa"/><circle cx="20" cy="14.9" r="0.8" fill="#be28aa"/><circle cx="19.6" cy="1.6" r="0.9" fill="#be28aa"/><circle cx="22.6" cy="25.4" r="0.9" fill="#be28aa"/><circle cx="11.4" cy="11.6" r="0.6" fill="#be28aa"/><circle cx="18.4" cy="1.8" r="0.5" fill="#be28aa"/><circle cx="6.1" cy="4.7" r="0.7" fill="#be28aa"/><circle cx="1.5" cy="0" r="0.6" fill="#be28aa"/><circle cx="1.5" cy="29" r="0.6" fill="#be28aa"/><circle cx="2.9" cy="10.5" r="0.5" fill="#be28aa"/><circle cx="25.4" cy="17.8" r="0.6" fill="#be28aa"/><circle cx="7.3" cy="10.1" r="0.7" fill="#be28aa"/><circle cx="3.6" cy="24.6" r="1" fill="#be28aa"/><circle cx="13.5" cy="14" r="0.5" fill="#be28aa"/><circle cx="3" cy="9.9" r="0.6" fill="#be28aa"/><circle cx="24" cy="4.7" r="0.5" fill="#be28aa"/><circle cx="27.6" cy="15.3" r="0.6" fill="#be28aa"/><circle cx="15.8" cy="0.8" r="0.8" fill="#be28aa"/><circle cx="28.4" cy="25" r="0.8" fill="#be28aa"/><circle cx="-0.6" cy="25" r="0.8" fill="#be28aa"/><circle cx="7.6" cy="10.6" r="0.6" fill="#be28aa"/><circle cx="22.4" cy="15.4" r="0.9" fill="#be28aa"/><circle cx="9.6" cy="6.5" r="0.9" fill="#be28aa"/><circle cx="28.6" cy="24.7" r="0.9" fill="#be28aa"/><circle cx="-0.4" cy="24.7" r="0.9" fill="#be28aa"/><circle cx="23.7" cy="21.5" r="0.6" fill="#be28aa"/><circle cx="15" cy="10.3" r="0.5" fill="#be28aa"/><circle cx="0.8" cy="8.1" r="0.6" fill="#be28aa"/><circle cx="20.1" cy="27.7" r="0.7" fill="#be28aa"/><circle cx="27.2" cy="28.7" r="1" fill="#be28aa"/><circle cx="27.2" cy="-0.3" r="1" fill="#be28aa"/><circle cx="10.6" cy="6.4" r="0.6" fill="#be28aa"/><circle cx="5.7" cy="5.9" r="0.8" fill="#be28aa"/><circle cx="26.1" cy="24.4" r="0.7" fill="#be28aa"/><circle cx="18.9" cy="23.2" r="0.5" fill="#be28aa"/><circle cx="19.2" cy="26.4" r="0.9" fill="#be28aa"/><circle cx="21.8" cy="13.9" r="0.6" fill="#be28aa"/><circle cx="22.9" cy="9.6" r="0.9" fill="#be28aa"/><circle cx="28.2" cy="11.5" r="0.8" fill="#2828e6"/><circle cx="27.5" cy="21" r="0.7" fill="#2828e6"/><circle cx="3.7" cy="4.4" r="1.1" fill="#2828e6"/><circle cx="23.4" cy="4.2" r="1" fill="#2828e6"/><circle cx="28.4" cy="19.1" r="0.8" fill="#2828e6"/><circle cx="-0.6" cy="19.1" r="0.8" fill="#2828e6"/><circle cx="15.9" cy="3.8" r="0.6" fill="#2828e6"/><circle cx="28.2" cy="18.8" r="0.9" fill="#2828e6"/><circle cx="-0.8" cy="18.8" r="0.9" fill="#2828e6"/><circle cx="27.1" cy="12.6" r="1" fill="#2828e6"/><circle cx="24" cy="6.1" r="0.7" fill="#2828e6"/><circle cx="8.5" cy="7" r="0.9" fill="#2828e6"/><circle cx="7.5" cy="12.2" r="0.7" fill="#2828e6"/><circle cx="26.4" cy="10.3" r="0.8" fill="#2828e6"/><circle cx="16.9" cy="26.2" r="0.8" fill="#2828e6"/><circle cx="26.6" cy="14.5" r="0.9" fill="#2828e6"/><circle cx="15.2" cy="0.5" r="0.8" fill="#2828e6"/><circle cx="15.2" cy="29.5" r="0.8" fill="#2828e6"/><circle cx="5.3" cy="0.1" r="1" fill="#2828e6"/><circle cx="5.3" cy="29.1" r="1" fill="#2828e6"/><circle cx="5" cy="13.7" r="1" fill="#2828e6"/><circle cx="16.1" cy="9.5" r="0.9" fill="#2828e6"/><circle cx="16.1" cy="22.7" r="0.7" fill="#2828e6"/><circle cx="16.2" cy="7.2" r="0.7" fill="#2828e6"/><circle cx="22.4" cy="14.7" r="0.9" fill="#2828e6"/><circle cx="22" cy="26.5" r="0.8" fill="#2828e6"/><circle cx="17.8" cy="14.7" r="0.9" fill="#2828e6"/><circle cx="20.1" cy="13.1" r="0.9" fill="#2828e6"/><circle cx="13.9" cy="27.3" r="0.9" fill="#2828e6"/><circle cx="25.4" cy="27.3" r="0.7" fill="#2828e6"/><circle cx="16.2" cy="27.4" r="1" fill="#2828e6"/><circle cx="4" cy="3.5" r="0.8" fill="#2828e6"/><circle cx="2.1" cy="7" r="0.6" fill="#2828e6"/><circle cx="19.4" cy="22.7" r="1" fill="#2828e6"/><circle cx="4.5" cy="20.8" r="0.9" fill="#2828e6"/><circle cx="4.1" cy="25.6" r="1.1" fill="#2828e6"/><circle cx="6.4" cy="27.6" r="0.8" fill="#2828e6"/><circle cx="14.1" cy="28.7" r="1" fill="#2828e6"/><circle cx="14.1" cy="-0.3" r="1" fill="#2828e6"/><circle cx="4.7" cy="12.5" r="0.9" fill="#2828e6"/><circle cx="9.8" cy="5.7" r="0.8" fill="#2828e6"/><circle cx="20.9" cy="0.6" r="0.9" fill="#2828e6"/><circle cx="20.9" cy="29.6" r="0.9" fill="#2828e6"/><circle cx="12.8" cy="0.5" r="0.8" fill="#2828e6"/><circle cx="12.8" cy="29.5" r="0.8" fill="#2828e6"/><circle cx="18.1" cy="14.9" r="0.6" fill="#2828e6"/><circle cx="28.6" cy="22.9" r="1.1" fill="#2828e6"/><circle cx="-0.4" cy="22.9" r="1.1" fill="#2828e6"/><circle cx="3" cy="7.7" r="0.6" fill="#2828e6"/><circle cx="22.6" cy="7.8" r="0.7" fill="#2828e6"/><circle cx="12.2" cy="26.4" r="1" fill="#2828e6"/><circle cx="7.5" cy="4.3" r="1.1" fill="#2828e6"/><circle cx="16.5" cy="20.3" r="0.6" fill="#2828e6"/><circle cx="1.7" cy="20" r="0.8" fill="#2828e6"/><circle cx="2.1" cy="27.2" r="0.9" fill="#2828e6"/><circle cx="23.2" cy="2.4" r="1" fill="#2828e6"/><circle cx="1.9" cy="25" r="0.8" fill="#2828e6"/><circle cx="9.8" cy="16" r="1.1" fill="#2828e6"/><circle cx="7.8" cy="3.7" r="0.9" fill="#2828e6"/><circle cx="6.9" cy="3.2" r="0.7" fill="#2828e6"/><circle cx="1.5" cy="5.9" r="0.8" fill="#2828e6"/><circle cx="8.8" cy="22" r="0.7" fill="#2828e6"/><circle cx="14.5" cy="5.2" r="0.8" fill="#2828e6"/><circle cx="0.5" cy="7.3" r="0.6" fill="#2828e6"/><circle cx="29.5" cy="7.3" r="0.6" fill="#2828e6"/><circle cx="21.3" cy="16" r="0.7" fill="#2828e6"/><circle cx="13.8" cy="27.1" r="0.7" fill="#2828e6"/><circle cx="23.7" cy="12.5" r="0.8" fill="#2828e6"/><circle cx="24.2" cy="11.4" r="0.9" fill="#2828e6"/><circle cx="19.9" cy="28.5" r="0.6" fill="#14085a"/><circle cx="19.9" cy="-0.5" r="0.6" fill="#14085a"/><circle cx="24.1" cy="20.5" r="0.8" fill="#14085a"/><circle cx="11.7" cy="10.1" r="0.5" fill="#14085a"/><circle cx="3.8" cy="2.1" r="0.8" fill="#14085a"/><circle cx="7.4" cy="4.7" r="0.5" fill="#14085a"/><circle cx="24.4" cy="25.2" r="0.8" fill="#14085a"/><circle cx="8.2" cy="7" r="0.6" fill="#14085a"/><circle cx="13.3" cy="4.6" r="0.7" fill="#14085a"/><circle cx="7.6" cy="27.9" r="0.9" fill="#14085a"/><circle cx="15.9" cy="7.1" r="0.9" fill="#14085a"/><circle cx="9" cy="10.3" r="0.5" fill="#14085a"/><circle cx="11.1" cy="13.8" r="0.7" fill="#14085a"/><circle cx="5.8" cy="14.6" r="0.5" fill="#14085a"/><circle cx="7.7" cy="2.6" r="0.7" fill="#14085a"/><circle cx="1.2" cy="0.7" r="0.6" fill="#14085a"/><circle cx="6.8" cy="17" r="0.7" fill="#14085a"/><circle cx="21.8" cy="19.1" r="0.8" fill="#14085a"/><circle cx="25.5" cy="11.3" r="0.6" fill="#14085a"/><circle cx="28.6" cy="4.3" r="0.8" fill="#14085a"/><circle cx="-0.4" cy="4.3" r="0.8" fill="#14085a"/><circle cx="18.7" cy="1.3" r="0.8" fill="#14085a"/><circle cx="25.9" cy="18.2" r="0.8" fill="#14085a"/><circle cx="23.6" cy="4" r="0.7" fill="#14085a"/><circle cx="14.6" cy="24.2" r="0.8" fill="#14085a"/><circle cx="24" cy="16.9" r="0.9" fill="#14085a"/><circle cx="19.8" cy="20.1" r="0.6" fill="#14085a"/></pattern><pattern id="pTeal" width="29" height="29" patternUnits="userSpaceOnUse"><rect width="29" height="29" fill="#2d8ca0"/><circle cx="6.6" cy="27.9" r="0.6" fill="#55bec8"/><circle cx="20.4" cy="2.5" r="0.6" fill="#55bec8"/><circle cx="29" cy="6.1" r="0.8" fill="#55bec8"/><circle cx="0" cy="6.1" r="0.8" fill="#55bec8"/><circle cx="13.3" cy="13.1" r="0.7" fill="#55bec8"/><circle cx="5.6" cy="24.1" r="0.5" fill="#55bec8"/><circle cx="6.8" cy="0.6" r="0.6" fill="#55bec8"/><circle cx="6.8" cy="29.6" r="0.6" fill="#55bec8"/><circle cx="11.8" cy="26.2" r="0.7" fill="#55bec8"/><circle cx="3.3" cy="7.5" r="1" fill="#55bec8"/><circle cx="1.8" cy="18" r="0.7" fill="#55bec8"/><circle cx="19.2" cy="9.8" r="0.8" fill="#55bec8"/><circle cx="14.4" cy="18.8" r="1" fill="#55bec8"/><circle cx="16.9" cy="4.1" r="0.5" fill="#55bec8"/><circle cx="27.4" cy="14.2" r="0.6" fill="#55bec8"/><circle cx="27.4" cy="16.8" r="0.9" fill="#55bec8"/><circle cx="25.5" cy="8.3" r="0.7" fill="#55bec8"/><circle cx="25.5" cy="3.9" r="0.9" fill="#55bec8"/><circle cx="2.8" cy="20" r="0.9" fill="#55bec8"/><circle cx="27.5" cy="24.5" r="0.8" fill="#55bec8"/><circle cx="5.7" cy="4.4" r="0.8" fill="#55bec8"/><circle cx="14.8" cy="2.1" r="1" fill="#55bec8"/><circle cx="14.7" cy="20.3" r="0.6" fill="#55bec8"/><circle cx="7.1" cy="0.3" r="0.7" fill="#55bec8"/><circle cx="7.1" cy="29.3" r="0.7" fill="#55bec8"/><circle cx="7.7" cy="12.3" r="0.7" fill="#55bec8"/><circle cx="24.2" cy="25.9" r="0.6" fill="#55bec8"/><circle cx="11.5" cy="4.8" r="0.8" fill="#55bec8"/><circle cx="28.3" cy="5.9" r="0.9" fill="#55bec8"/><circle cx="-0.7" cy="5.9" r="0.9" fill="#55bec8"/><circle cx="8.7" cy="0.4" r="0.9" fill="#55bec8"/><circle cx="8.7" cy="29.4" r="0.9" fill="#55bec8"/><circle cx="9.9" cy="4.9" r="0.7" fill="#55bec8"/><circle cx="6.7" cy="11.9" r="0.7" fill="#55bec8"/><circle cx="12.1" cy="17.1" r="0.6" fill="#55bec8"/><circle cx="2.8" cy="2.5" r="0.6" fill="#55bec8"/><circle cx="15.1" cy="10.4" r="0.9" fill="#55bec8"/><circle cx="14.6" cy="20.5" r="1" fill="#55bec8"/><circle cx="1.8" cy="0.5" r="0.6" fill="#55bec8"/><circle cx="1.8" cy="29.5" r="0.6" fill="#55bec8"/><circle cx="11.2" cy="16.6" r="0.9" fill="#55bec8"/><circle cx="10.2" cy="28" r="0.5" fill="#55bec8"/><circle cx="24.2" cy="6.1" r="0.9" fill="#55bec8"/><circle cx="1" cy="28" r="0.9" fill="#55bec8"/><circle cx="28.7" cy="16.8" r="0.6" fill="#55bec8"/><circle cx="-0.3" cy="16.8" r="0.6" fill="#55bec8"/><circle cx="28.1" cy="12.8" r="0.5" fill="#55bec8"/><circle cx="17.6" cy="14.4" r="0.7" fill="#55bec8"/><circle cx="4.5" cy="3.5" r="0.8" fill="#55bec8"/><circle cx="13.1" cy="3.7" r="0.7" fill="#55bec8"/><circle cx="21" cy="20.7" r="0.7" fill="#55bec8"/><circle cx="11.4" cy="10.5" r="0.6" fill="#55bec8"/><circle cx="5.7" cy="12.9" r="0.6" fill="#55bec8"/><circle cx="21" cy="20.5" r="0.8" fill="#55bec8"/><circle cx="0.7" cy="10.6" r="0.7" fill="#55bec8"/><circle cx="29.7" cy="10.6" r="0.7" fill="#55bec8"/><circle cx="2.7" cy="28.1" r="0.9" fill="#55bec8"/><circle cx="14.6" cy="20.4" r="0.6" fill="#55bec8"/><circle cx="6.7" cy="15.2" r="0.9" fill="#55bec8"/><circle cx="18.8" cy="0.2" r="0.8" fill="#55bec8"/><circle cx="18.8" cy="29.2" r="0.8" fill="#55bec8"/><circle cx="26.4" cy="21.6" r="1" fill="#55bec8"/><circle cx="28.5" cy="6.5" r="0.6" fill="#55bec8"/><circle cx="-0.5" cy="6.5" r="0.6" fill="#55bec8"/><circle cx="15.9" cy="28.3" r="0.7" fill="#55bec8"/><circle cx="15.9" cy="-0.7" r="0.7" fill="#55bec8"/><circle cx="27.3" cy="24.7" r="0.8" fill="#55bec8"/><circle cx="18.1" cy="27.8" r="0.9" fill="#55bec8"/><circle cx="8.6" cy="24.5" r="0.6" fill="#55bec8"/><circle cx="10.7" cy="27.8" r="0.9" fill="#55bec8"/><circle cx="9" cy="8.4" r="0.8" fill="#55bec8"/><circle cx="24.4" cy="19.8" r="1" fill="#286eaf"/><circle cx="21.1" cy="23.8" r="0.8" fill="#286eaf"/><circle cx="10.5" cy="12.4" r="0.7" fill="#286eaf"/><circle cx="15.3" cy="24.3" r="0.6" fill="#286eaf"/><circle cx="2" cy="21.3" r="0.6" fill="#286eaf"/><circle cx="12.2" cy="3.4" r="0.9" fill="#286eaf"/><circle cx="7.9" cy="8.5" r="0.9" fill="#286eaf"/><circle cx="14.6" cy="8" r="0.9" fill="#286eaf"/><circle cx="11.9" cy="10.5" r="1" fill="#286eaf"/><circle cx="22.9" cy="21.7" r="0.6" fill="#286eaf"/><circle cx="23.6" cy="17.3" r="0.9" fill="#286eaf"/><circle cx="10.7" cy="22.6" r="0.9" fill="#286eaf"/><circle cx="11.3" cy="19" r="0.9" fill="#286eaf"/><circle cx="28.8" cy="26.7" r="0.9" fill="#286eaf"/><circle cx="-0.2" cy="26.7" r="0.9" fill="#286eaf"/><circle cx="4" cy="17.7" r="0.8" fill="#286eaf"/><circle cx="2.5" cy="13.4" r="0.9" fill="#286eaf"/><circle cx="26.3" cy="26.8" r="0.5" fill="#286eaf"/><circle cx="17.6" cy="25.1" r="0.8" fill="#286eaf"/><circle cx="9.3" cy="1.1" r="1" fill="#286eaf"/><circle cx="24.9" cy="19" r="0.7" fill="#286eaf"/><circle cx="24" cy="23.6" r="0.9" fill="#286eaf"/><circle cx="17.4" cy="9.3" r="0.6" fill="#286eaf"/><circle cx="10.4" cy="9.5" r="0.8" fill="#286eaf"/><circle cx="3.3" cy="20.9" r="0.7" fill="#286eaf"/><circle cx="4.6" cy="7.4" r="0.7" fill="#286eaf"/><circle cx="12.5" cy="22.7" r="0.5" fill="#286eaf"/><circle cx="6.5" cy="8.5" r="0.6" fill="#286eaf"/><circle cx="21.7" cy="3.2" r="0.5" fill="#286eaf"/><circle cx="16.1" cy="21.3" r="0.9" fill="#286eaf"/><circle cx="16.2" cy="9.5" r="0.9" fill="#286eaf"/><circle cx="21.3" cy="13.9" r="0.8" fill="#3ca05a"/><circle cx="27.1" cy="28.9" r="1" fill="#3ca05a"/><circle cx="27.1" cy="-0.1" r="1" fill="#3ca05a"/><circle cx="3.8" cy="9.5" r="0.7" fill="#3ca05a"/><circle cx="4.9" cy="22.1" r="0.5" fill="#3ca05a"/><circle cx="25.7" cy="17" r="0.8" fill="#3ca05a"/><circle cx="12" cy="27.2" r="0.8" fill="#3ca05a"/><circle cx="26" cy="26.8" r="0.8" fill="#3ca05a"/><circle cx="28.5" cy="14.2" r="0.7" fill="#3ca05a"/><circle cx="-0.5" cy="14.2" r="0.7" fill="#3ca05a"/><circle cx="24.5" cy="15.3" r="0.7" fill="#3ca05a"/><circle cx="19.7" cy="13.8" r="0.6" fill="#3ca05a"/><circle cx="24.3" cy="14.5" r="1" fill="#3ca05a"/><circle cx="15.5" cy="27.2" r="0.6" fill="#3ca05a"/><circle cx="6.3" cy="15.3" r="0.9" fill="#3ca05a"/><circle cx="23.9" cy="18.8" r="0.6" fill="#3ca05a"/><circle cx="11.4" cy="1" r="0.7" fill="#3ca05a"/><circle cx="27.4" cy="10.1" r="0.8" fill="#3ca05a"/><circle cx="18" cy="4.2" r="0.8" fill="#3ca05a"/><circle cx="2.3" cy="5.4" r="0.8" fill="#3ca05a"/></pattern><pattern id="pGreen2" width="29" height="29" patternUnits="userSpaceOnUse"><rect width="29" height="29" fill="#208720"/><circle cx="13.4" cy="10.8" r="0.6" fill="#46b946"/><circle cx="25.1" cy="0.2" r="0.8" fill="#46b946"/><circle cx="25.1" cy="29.2" r="0.8" fill="#46b946"/><circle cx="26.1" cy="2.3" r="0.8" fill="#46b946"/><circle cx="17.9" cy="1.2" r="0.7" fill="#46b946"/><circle cx="20.4" cy="13.1" r="0.9" fill="#46b946"/><circle cx="4.6" cy="6.9" r="0.6" fill="#46b946"/><circle cx="14.7" cy="26.8" r="0.8" fill="#46b946"/><circle cx="22.5" cy="11.1" r="0.9" fill="#46b946"/><circle cx="2.9" cy="8.4" r="0.8" fill="#46b946"/><circle cx="21" cy="12.2" r="0.5" fill="#46b946"/><circle cx="7.7" cy="6.1" r="0.6" fill="#46b946"/><circle cx="23.5" cy="5.8" r="0.9" fill="#46b946"/><circle cx="25.5" cy="1.6" r="0.7" fill="#46b946"/><circle cx="14.3" cy="0.7" r="0.7" fill="#46b946"/><circle cx="14.3" cy="29.7" r="0.7" fill="#46b946"/><circle cx="26.3" cy="3.2" r="0.8" fill="#46b946"/><circle cx="3.5" cy="16.8" r="0.9" fill="#46b946"/><circle cx="5.9" cy="0.2" r="0.5" fill="#46b946"/><circle cx="5.9" cy="29.2" r="0.5" fill="#46b946"/><circle cx="15.7" cy="0.5" r="0.5" fill="#46b946"/><circle cx="15.7" cy="29.5" r="0.5" fill="#46b946"/><circle cx="14.4" cy="26.7" r="0.7" fill="#46b946"/><circle cx="11.5" cy="18.5" r="0.5" fill="#46b946"/><circle cx="16.8" cy="5" r="0.8" fill="#46b946"/><circle cx="27.8" cy="1.6" r="0.8" fill="#46b946"/><circle cx="17.6" cy="4.3" r="0.6" fill="#46b946"/><circle cx="28.9" cy="28.9" r="0.6" fill="#46b946"/><circle cx="28.9" cy="-0.1" r="0.6" fill="#46b946"/><circle cx="-0.1" cy="28.9" r="0.6" fill="#46b946"/><circle cx="-0.1" cy="-0.1" r="0.6" fill="#46b946"/><circle cx="20.5" cy="27.6" r="0.6" fill="#46b946"/><circle cx="17.7" cy="1.2" r="0.7" fill="#46b946"/><circle cx="19.5" cy="17.1" r="0.9" fill="#46b946"/><circle cx="2.5" cy="10.1" r="0.9" fill="#46b946"/><circle cx="16.9" cy="13.1" r="0.7" fill="#46b946"/><circle cx="28.6" cy="16.7" r="0.5" fill="#46b946"/><circle cx="-0.4" cy="16.7" r="0.5" fill="#46b946"/><circle cx="23.2" cy="9.5" r="0.7" fill="#46b946"/><circle cx="6.2" cy="12.9" r="0.7" fill="#46b946"/><circle cx="2.6" cy="18.3" r="0.6" fill="#46b946"/><circle cx="22.7" cy="0.7" r="0.9" fill="#46b946"/><circle cx="22.7" cy="29.7" r="0.9" fill="#46b946"/><circle cx="23.4" cy="14.4" r="0.9" fill="#46b946"/><circle cx="7.2" cy="21.4" r="0.7" fill="#46b946"/><circle cx="6.7" cy="28" r="0.7" fill="#46b946"/><circle cx="10.8" cy="24.9" r="0.7" fill="#46b946"/><circle cx="19.4" cy="5" r="0.9" fill="#46b946"/><circle cx="7.5" cy="1.5" r="1" fill="#46b946"/><circle cx="5" cy="27.4" r="1" fill="#46b946"/><circle cx="17.6" cy="0.3" r="0.5" fill="#46b946"/><circle cx="17.6" cy="29.3" r="0.5" fill="#46b946"/><circle cx="6" cy="11.3" r="0.8" fill="#46b946"/><circle cx="28" cy="10.3" r="0.6" fill="#46b946"/><circle cx="16.3" cy="4" r="0.5" fill="#46b946"/><circle cx="16.1" cy="20.2" r="0.5" fill="#46b946"/><circle cx="13.1" cy="20.4" r="0.9" fill="#46b946"/><circle cx="11.1" cy="25.7" r="0.6" fill="#46b946"/><circle cx="20.7" cy="22.4" r="0.9" fill="#46b946"/><circle cx="14.3" cy="2.9" r="0.5" fill="#46b946"/><circle cx="15.3" cy="5" r="0.8" fill="#46b946"/><circle cx="2.4" cy="22.6" r="0.6" fill="#46b946"/><circle cx="0.4" cy="5.1" r="0.7" fill="#46b946"/><circle cx="29.4" cy="5.1" r="0.7" fill="#46b946"/><circle cx="16.2" cy="11.3" r="0.6" fill="#46b946"/><circle cx="14" cy="27.4" r="0.8" fill="#46b946"/><circle cx="27.3" cy="0.8" r="1" fill="#46b946"/><circle cx="27.3" cy="29.8" r="1" fill="#46b946"/><circle cx="25.8" cy="15.8" r="0.8" fill="#46b946"/><circle cx="15.6" cy="26.4" r="0.5" fill="#46b946"/><circle cx="18.6" cy="15.7" r="0.7" fill="#46b946"/><circle cx="21" cy="20.9" r="0.6" fill="#46b946"/><circle cx="20.3" cy="13.2" r="0.7" fill="#0f5a0f"/><circle cx="18.5" cy="1.5" r="0.8" fill="#0f5a0f"/><circle cx="10.8" cy="25.5" r="0.6" fill="#0f5a0f"/><circle cx="23.9" cy="21.2" r="0.8" fill="#0f5a0f"/><circle cx="25.4" cy="1" r="0.8" fill="#0f5a0f"/><circle cx="17.8" cy="19.7" r="0.7" fill="#0f5a0f"/><circle cx="2" cy="5.5" r="0.8" fill="#0f5a0f"/><circle cx="5.3" cy="1.9" r="0.7" fill="#0f5a0f"/><circle cx="13.6" cy="15.5" r="0.5" fill="#0f5a0f"/><circle cx="22.5" cy="9.7" r="0.9" fill="#0f5a0f"/><circle cx="0.2" cy="27.7" r="0.8" fill="#0f5a0f"/><circle cx="29.2" cy="27.7" r="0.8" fill="#0f5a0f"/><circle cx="28.3" cy="28.6" r="0.9" fill="#0f5a0f"/><circle cx="28.3" cy="-0.4" r="0.9" fill="#0f5a0f"/><circle cx="-0.7" cy="28.6" r="0.9" fill="#0f5a0f"/><circle cx="-0.7" cy="-0.4" r="0.9" fill="#0f5a0f"/><circle cx="3.1" cy="10.1" r="0.6" fill="#0f5a0f"/><circle cx="22.6" cy="5.6" r="0.6" fill="#0f5a0f"/><circle cx="3.2" cy="3.5" r="1" fill="#0f5a0f"/><circle cx="28.3" cy="10.8" r="0.9" fill="#0f5a0f"/><circle cx="-0.7" cy="10.8" r="0.9" fill="#0f5a0f"/><circle cx="13.6" cy="15.1" r="0.7" fill="#0f5a0f"/><circle cx="18.4" cy="6.8" r="0.6" fill="#0f5a0f"/><circle cx="15" cy="5.7" r="0.7" fill="#0f5a0f"/><circle cx="27.4" cy="0.6" r="0.6" fill="#0f5a0f"/><circle cx="23.2" cy="1.7" r="0.6" fill="#0f5a0f"/><circle cx="24.7" cy="17.6" r="0.6" fill="#0f5a0f"/><circle cx="1.7" cy="8" r="0.7" fill="#0f5a0f"/><circle cx="23.2" cy="28.3" r="0.9" fill="#0f5a0f"/><circle cx="23.2" cy="-0.7" r="0.9" fill="#0f5a0f"/><circle cx="26.2" cy="27" r="0.9" fill="#0f5a0f"/></pattern><filter id="bl3" x="-30%" y="-30%" width="160%" height="160%"><feGaussianBlur stdDeviation="3"/></filter><filter id="bl15" x="-20%" y="-20%" width="140%" height="140%"><feGaussianBlur stdDeviation="1.1"/></filter><pattern id="wdots" width="11" height="11" patternUnits="userSpaceOnUse"><circle cx="6.9" cy="8.2" r="0.83" fill="#fff"/><circle cx="10.4" cy="8.1" r="0.87" fill="#fff"/><circle cx="0.3" cy="5.1" r="0.88" fill="#fff"/><circle cx="7.1" cy="9.9" r="0.59" fill="#fff"/><circle cx="5.2" cy="2.7" r="0.74" fill="#fff"/><circle cx="6.3" cy="0.1" r="0.63" fill="#fff"/><circle cx="3.1" cy="10.1" r="0.82" fill="#fff"/><circle cx="1.8" cy="8.8" r="0.60" fill="#fff"/><circle cx="6.8" cy="1.4" r="0.55" fill="#fff"/><circle cx="9.6" cy="2.3" r="0.63" fill="#fff"/><circle cx="10.8" cy="9.6" r="0.65" fill="#fff"/></pattern><linearGradient id="gAE" x1="0" x2="1" y1="0" y2="0"><stop offset="0" stop-color="#7a5cff"/><stop offset="0.4" stop-color="#fbf8ff"/><stop offset="0.45" stop-color="#fff6f4"/><stop offset="1" stop-color="#ff2a10"/></linearGradient><linearGradient id="gH" x1="0" x2="0" y1="0" y2="1"><stop offset="0" stop-color="#ff0020"/><stop offset="0.45" stop-color="#c000a0"/><stop offset="0.75" stop-color="#8a00d0"/><stop offset="1" stop-color="#3020ff"/></linearGradient><linearGradient id="gEPi" gradientUnits="userSpaceOnUse" x1="415.9" y1="510.9" x2="379.2" y2="548.3"><stop offset="0" stop-color="#dcb0a2"/><stop offset="0.5" stop-color="#ec8a6c"/><stop offset="1" stop-color="#f2664a"/></linearGradient><linearGradient id="gMLk" gradientUnits="userSpaceOnUse" x1="0" y1="740.6" x2="0" y2="793.8"><stop offset="0" stop-color="#dca090"/><stop offset="1" stop-color="#ee6a4c"/></linearGradient><linearGradient id="gMLP2k" gradientUnits="userSpaceOnUse" x1="0" y1="729.9" x2="0" y2="767.2"><stop offset="0" stop-color="#ccbab6"/><stop offset="1" stop-color="#dca090"/></linearGradient><linearGradient id="gPT" x1="0" x2="0" y1="0" y2="1"><stop offset="0" stop-color="#ff2a10"/><stop offset="0.5" stop-color="#ec8470"/><stop offset="1" stop-color="#c4c0c0"/></linearGradient><linearGradient id="gM" x1="0" x2="0" y1="0" y2="1"><stop offset="0" stop-color="#ff2a10"/><stop offset="0.5" stop-color="#fdf8fa"/><stop offset="1" stop-color="#5a48ff"/></linearGradient><linearGradient id="gV" x1="0" x2="1" y1="0" y2="0"><stop offset="0.000" stop-color="#440154"/><stop offset="0.111" stop-color="#482878"/><stop offset="0.222" stop-color="#3e4989"/><stop offset="0.333" stop-color="#31688e"/><stop offset="0.444" stop-color="#26828e"/><stop offset="0.556" stop-color="#1f9e89"/><stop offset="0.667" stop-color="#35b779"/><stop offset="0.778" stop-color="#6ece58"/><stop offset="0.889" stop-color="#b5de2b"/><stop offset="1.000" stop-color="#fde725"/></linearGradient></defs><rect width="685" height="969" fill="#fff"/><svg x="26.6" y="18.2" width="68.9" height="68.3" viewBox="26.6 18.2 68.9 68.3" overflow="hidden">
<rect x="26.6" y="18.2" width="68.9" height="68.3" fill="#000"/>
<path d="M84,51 L84.1,53.2 L84.3,55.5 L83.6,57.7 L83.8,60.1 L83.1,62.4 L81.7,64.3 L80.5,66.3 L78.8,67.8 L77,69.3 L75.7,71.2 L73.4,72 L71.5,73.1 L69.7,74.6 L67.3,74.5 L65,74.6 L62.9,75 L60.8,75.4 L58.7,76.1 L56.6,75.3 L54.5,74.8 L52.5,74.3 L50.5,73.5 L48.4,73.2 L46.4,72.3 L44.7,71 L43.1,69.6 L41.3,68.4 L39.9,66.7 L39.3,64.6 L37.4,63.3 L36.1,61.5 L35.3,59.5 L35.2,57.3 L34.4,55.3 L34.3,53.1 L34.4,51 L33.7,48.8 L34.1,46.7 L34.6,44.5 L35,42.4 L35.9,40.4 L36.8,38.3 L37.4,36.1 L38.4,33.9 L39.7,32 L41.4,30.4 L43.4,29.1 L45.5,28.2 L47.7,27.4 L49.8,26.5 L51.8,25.4 L54.2,25.2 L56.5,25.3 L58.7,26.3 L60.8,26.6 L63,26.4 L65.1,27.2 L67.1,28 L68.6,29.7 L70.3,30.8 L72.1,31.8 L73.6,33.3 L75.4,34.3 L76.5,36.1 L78,37.5 L79.3,39.1 L80,41.1 L81.3,42.8 L82.2,44.7 L82.9,46.7 L83.7,48.8Z" fill="url(#pBlue)" filter="url(#bl1)"/>
<line x1="77.3" y1="83.2" x2="92.3" y2="83.2" stroke="#fff" stroke-width="1.3"/>
</svg>
<svg x="97.5" y="18.2" width="68.5" height="68.3" viewBox="97.5 18.2 68.5 68.3" overflow="hidden">
<rect x="97.5" y="18.2" width="68.5" height="68.3" fill="#000"/>
<path d="M156.2,52 L156,54.3 L155.8,56.5 L155.5,58.8 L154.4,60.9 L153.9,63.1 L153.2,65.4 L151.9,67.4 L149.8,68.7 L148,70.1 L146,71.3 L144.5,72.9 L142.5,74.1 L140.6,75.4 L138.3,75.9 L135.9,75.7 L133.8,76.2 L131.6,76.6 L129.4,76.2 L127.2,76.1 L125,76.3 L122.9,75.7 L120.9,74.8 L119,73.8 L117,73 L114.6,72.6 L113.1,70.9 L111.1,69.8 L110,67.8 L108.9,65.9 L107.4,64.3 L106.7,62.3 L105.8,60.3 L104.9,58.4 L104.4,56.3 L104.6,54.1 L104.4,52 L104.8,49.9 L104.7,47.8 L104.6,45.5 L105.3,43.5 L105.9,41.3 L107.2,39.5 L108.5,37.8 L109.5,35.8 L110.3,33.4 L111.8,31.5 L113.5,29.9 L115.7,29 L117.9,28.1 L120.3,27.6 L122.3,26.2 L124.7,26.2 L127,25.8 L129.4,26.5 L131.6,27 L133.8,27.8 L135.9,28.4 L138,28.9 L139.9,30 L141.5,31.6 L143.3,32.7 L144.7,34.3 L146.2,35.6 L147.3,37.4 L149.3,38.5 L150.9,40 L151.4,42 L152.2,43.9 L153.6,45.7 L154.1,47.8 L155.1,49.8Z" fill="url(#pGreen)" filter="url(#bl1)"/>
<line x1="147.8" y1="83.2" x2="162.8" y2="83.2" stroke="#fff" stroke-width="1.3"/>
</svg>
<svg x="169" y="18.2" width="69" height="68.3" viewBox="169 18.2 69 68.3" overflow="hidden">
<rect x="169" y="18.2" width="69" height="68.3" fill="#000"/>
<path d="M225.1,52.9 L224.6,55.1 L224.3,57.2 L223,59.1 L222.5,61.1 L222.1,63.2 L221.3,65.2 L220.3,67.1 L219.2,69 L217.2,70.1 L215.6,71.5 L214,72.9 L212.7,74.8 L210.8,76.1 L208.9,77.3 L206.6,77.6 L204.4,78 L202.3,78.7 L200,79.4 L197.7,79.2 L195.3,79.5 L193.2,78.4 L191.2,77.2 L189.1,76.2 L187.5,74.6 L185.5,73.7 L183.6,72.4 L182.4,70.5 L181.5,68.4 L180.8,66.3 L179.6,64.7 L179,62.7 L177.9,60.9 L177.1,59 L176.3,57.1 L176.5,55 L176.5,52.9 L176.1,50.8 L176.3,48.7 L176.2,46.5 L176.3,44.3 L177.1,42.2 L178.4,40.4 L179.3,38.4 L180.1,36.2 L181.6,34.5 L182.9,32.5 L185.1,31.6 L186.7,29.9 L189,29.3 L191.2,28.8 L193.2,27.5 L195.5,27.1 L197.8,27.6 L200,27.7 L202.2,28 L204.4,28.2 L206.3,29.4 L208.4,29.9 L210.5,30.4 L212.2,31.7 L214.1,32.8 L215.7,34.2 L217.2,35.7 L218.6,37.3 L220.1,38.8 L221.9,40.2 L222.5,42.4 L223.1,44.5 L223.6,46.6 L224.3,48.6 L225,50.7Z" fill="url(#pRed)" filter="url(#bl1)"/>
<line x1="219.8" y1="83.2" x2="234.8" y2="83.2" stroke="#fff" stroke-width="1.3"/>
</svg>
<svg x="240.2" y="18.2" width="68.4" height="68.3" viewBox="240.2 18.2 68.4 68.3" overflow="hidden">
<rect x="240.2" y="18.2" width="68.4" height="68.3" fill="#000"/>
<path d="M296,52 L295,54 L295.1,56.1 L295,58.3 L294.3,60.2 L294.1,62.4 L293.5,64.6 L292.8,66.8 L291.2,68.4 L289.9,70.2 L288,71.4 L286.8,73.6 L285,75 L282.9,76 L280.8,77.1 L278.5,77.4 L276.3,77.9 L274,78 L271.7,78.4 L269.4,77.8 L267.3,77.2 L265.2,76.4 L263.3,75.1 L261.5,73.9 L259.4,73.3 L257.4,72.4 L255.7,71 L254.8,68.9 L253.5,67.3 L252.4,65.5 L251,64 L249.2,62.5 L248.6,60.4 L248,58.3 L247.8,56.2 L247.5,54.1 L247,52 L247.1,49.8 L247.2,47.7 L247.5,45.5 L248.3,43.5 L248.9,41.3 L250.5,39.8 L251.1,37.6 L252.7,36 L253.6,33.9 L255.5,32.8 L257.2,31.2 L259.3,30.5 L261.3,29.7 L263.2,28.6 L265,27 L267.2,26.5 L269.5,26.4 L271.7,26.6 L273.9,26.5 L276.1,26.8 L278.3,27.4 L280.6,27.4 L282.6,28.7 L284.6,29.6 L286.2,31.3 L287.9,32.7 L289.1,34.6 L291,35.8 L292.1,37.7 L293.2,39.6 L293.7,41.7 L294,43.9 L294.6,45.9 L295.3,47.8 L295.3,49.9Z" fill="url(#pMerge)" filter="url(#bl1)"/>
<line x1="290.4" y1="83.2" x2="305.4" y2="83.2" stroke="#fff" stroke-width="1.3"/>
</svg>
<svg x="314" y="18.2" width="69" height="68.3" viewBox="314 18.2 69 68.3" overflow="hidden">
<rect x="314" y="18.2" width="69" height="68.3" fill="#000"/>
<path d="M371.2,53.5 L370.3,55.5 L369.9,57.5 L370.3,59.7 L369.5,61.6 L369.5,63.9 L368,65.5 L366.9,67.3 L366,69.2 L364.8,71.1 L363.1,72.5 L361.7,74.2 L359.7,75.1 L357.8,76.2 L355.6,76.6 L353.8,78 L351.6,78.3 L349.4,78.7 L347.2,79.2 L345,78.8 L342.9,77.8 L340.8,77.4 L338.6,77.1 L336.6,76.2 L334.6,75.3 L332.4,74.6 L331.1,72.7 L329.2,71.5 L327.5,70.1 L325.9,68.4 L324.6,66.6 L323,64.8 L322.4,62.5 L322.6,60.1 L321.6,58 L321.5,55.7 L321.6,53.5 L322,51.3 L322.8,49.2 L323.2,47.1 L324.3,45.2 L325.8,43.5 L326.9,41.8 L328.1,40.1 L329.3,38.5 L331,37.3 L332.8,36.3 L334.2,34.9 L335.5,33.2 L337.4,32.4 L339,30.9 L340.9,29.9 L343,29.6 L345.1,29.2 L347.2,28.6 L349.4,28 L351.9,26.9 L354.2,27.2 L356.5,28 L358.7,28.9 L360.5,30.5 L362.5,31.7 L364.7,32.6 L366.3,34.4 L367.8,36.2 L368.3,38.7 L369.1,40.9 L370,42.9 L370.8,44.9 L370.8,47.2 L371.1,49.3 L370.7,51.4Z" fill="url(#pRed)" filter="url(#bl1)"/>
<line x1="364.8" y1="83.2" x2="379.8" y2="83.2" stroke="#fff" stroke-width="1.3"/>
</svg>
<svg x="386.8" y="18.2" width="69" height="68.3" viewBox="386.8 18.2 69 68.3" overflow="hidden">
<rect x="386.8" y="18.2" width="69" height="68.3" fill="#000"/>
<path d="M443.2,55 L442.6,57 L443.2,59.1 L442.8,61.2 L442.4,63.2 L441.5,65.1 L440.3,66.8 L439.2,68.6 L437.9,70.2 L436.5,71.7 L435.3,73.6 L433.7,74.9 L431.9,76.1 L429.8,76.8 L427.6,77 L425.6,77.8 L423.6,78.1 L421.5,78.7 L419.4,78.9 L417.3,79 L415.3,77.8 L413.2,77.8 L411.1,77.3 L408.8,77.3 L406.6,76.7 L404.9,75.3 L403.4,73.7 L401.5,72.6 L399.9,71.1 L398.2,69.6 L396.7,67.9 L395.9,65.7 L395.2,63.6 L394.8,61.5 L395.3,59.2 L395,57.1 L394.5,55 L394.6,52.9 L395.3,50.8 L396.8,49.1 L397.4,47.1 L398.9,45.6 L399.6,43.8 L400.7,42.2 L401.6,40.4 L403.2,39.1 L404.6,37.7 L406,36.2 L407.8,35.4 L409.2,33.6 L411,32.3 L413,31.7 L415.1,31.3 L417.2,30.2 L419.4,30.1 L421.6,29.8 L423.9,30.2 L426.3,29.8 L428.3,31.1 L430.3,32.2 L432.1,33.4 L433.9,34.7 L436,35.7 L437.3,37.5 L438.7,39.2 L439.7,41.1 L440.6,43 L440.7,45.3 L441.7,47.1 L443,48.8 L443.2,50.9 L443.1,53Z" fill="url(#pPD)" filter="url(#bl1)"/>
<line x1="437.6" y1="83.2" x2="452.6" y2="83.2" stroke="#fff" stroke-width="1.3"/>
</svg>
<svg x="26.6" y="90.2" width="68.9" height="68.3" viewBox="26.6 90.2 68.9 68.3" overflow="hidden">
<rect x="26.6" y="90.2" width="68.9" height="68.3" fill="#000"/>
<path d="M86.1,116.2 L86.5,118.2 L86.7,120.2 L86.5,122.2 L87,124.3 L86.9,126.4 L86.2,128.5 L85.7,130.7 L83.6,132.4 L82.5,134.3 L80.6,135.8 L79,137.5 L77.7,139.4 L75.5,140.6 L73.4,141.8 L71.2,142.7 L69.1,143.7 L67,145 L64.6,145.5 L62.3,146.2 L59.9,147.2 L57.4,147.3 L55,147.3 L52.8,146.3 L50.4,146.3 L47.9,146.2 L45.3,146.1 L43.5,144.7 L41.5,143.7 L40.3,141.8 L38.6,140.6 L36.9,139.3 L35.8,137.6 L34.5,136 L33.6,134.3 L33.3,132.3 L33,130.4 L32.4,128.6 L31.7,126.7 L31.7,124.7 L32.2,122.7 L32.7,120.8 L33.4,118.9 L33.1,116.7 L33.9,114.7 L34.6,112.5 L35.5,110.4 L37.2,108.7 L39.2,107.2 L41,105.6 L43.2,104.3 L45.2,102.8 L47.4,101.5 L49.8,100.4 L52.4,100.1 L55,100.1 L57.5,100.2 L60,100.2 L62.3,100.2 L64.6,100.8 L66.8,101.4 L69,101.9 L70.9,103 L72.5,104.2 L74.6,104.8 L76.7,105.6 L78,107.1 L79.5,108.4 L81,109.8 L81.9,111.4 L84,112.6 L84.6,114.5Z" fill="url(#pBlue)" filter="url(#bl1)"/>
<line x1="77.3" y1="155.2" x2="92.3" y2="155.2" stroke="#fff" stroke-width="1.3"/>
</svg>
<svg x="97.5" y="90.2" width="68.5" height="68.3" viewBox="97.5 90.2 68.5 68.3" overflow="hidden">
<rect x="97.5" y="90.2" width="68.5" height="68.3" fill="#000"/>
<path d="M154.8,119.7 L154.3,121.7 L154.4,123.6 L154.3,125.4 L155,127.4 L154.8,129.5 L154.4,131.4 L153.9,133.5 L152.5,135.2 L151.3,137.1 L150.7,139.3 L149.4,141.4 L147.7,143.1 L145.5,144.3 L143.3,145.5 L140.9,146.4 L138.3,146.6 L136,147.4 L133.6,148 L131.1,148.3 L128.7,147.6 L126.4,147.3 L124.3,146.2 L122,146.2 L120,145.2 L117.9,144.6 L116,143.6 L114.3,142.5 L112.9,141 L111.5,139.6 L109.6,138.7 L107.8,137.5 L106.7,135.9 L105,134.5 L104.6,132.5 L103.3,130.8 L103,128.9 L101.6,127 L101.4,124.9 L101.8,122.8 L102.1,120.7 L103.5,118.9 L104.3,116.9 L104.7,114.8 L105.9,113 L107.2,111.2 L108.7,109.5 L110.8,108.3 L112.7,107 L114.5,105.6 L116.4,104.2 L118.7,103.6 L120.6,102.2 L123,101.7 L125.5,101.8 L127.8,101.6 L130.1,101 L132.5,100.8 L134.9,100.5 L137.4,100.7 L139.4,101.9 L141.4,103 L143.3,104 L145.8,104.4 L147.4,105.8 L148.7,107.5 L150.4,108.9 L150.9,110.9 L152.2,112.5 L152.8,114.3 L153.5,116.1 L154.1,117.9Z" fill="url(#pGreen)" filter="url(#bl1)"/>
<line x1="147.8" y1="155.2" x2="162.8" y2="155.2" stroke="#fff" stroke-width="1.3"/>
</svg>
<svg x="169" y="90.2" width="69" height="68.3" viewBox="169 90.2 69 68.3" overflow="hidden">
<rect x="169" y="90.2" width="69" height="68.3" fill="#000"/>
<path d="M227,118.9 L227.5,120.9 L227.9,123 L228,125.1 L228,127.3 L228,129.5 L227.8,131.8 L226.7,133.8 L225.9,136.1 L224.5,138 L223,139.9 L221.2,141.5 L219.5,143.3 L217.2,144.5 L214.9,145.5 L212.2,145.7 L209.8,146.2 L207.4,146.6 L205.1,146.6 L202.8,146.5 L200.5,146.8 L198.3,146.1 L196.3,145.3 L194.1,145.1 L192.2,144.2 L189.9,144.2 L188,143.3 L186.3,142 L184.6,140.9 L183,139.7 L181,138.7 L178.6,137.8 L177.2,136.1 L176.2,134.2 L175,132.4 L173.9,130.5 L173.4,128.4 L173.2,126.2 L172.7,124 L172.9,121.8 L173.6,119.7 L174.2,117.5 L175.8,115.7 L176.4,113.6 L177,111.4 L178.4,109.6 L180.1,108 L181.9,106.5 L183.9,105.1 L186.2,104.3 L187.7,102.5 L189.8,101.2 L192.1,100.6 L194.5,100.3 L196.8,99.8 L199.2,99.6 L201.5,99 L203.8,99.5 L206.3,99.3 L208.6,99.8 L210.6,100.9 L212.4,102.3 L214.5,102.9 L216.1,104.5 L218.2,105.2 L219.9,106.6 L220.9,108.4 L221.6,110.4 L222.7,112 L223.7,113.7 L225,115.3 L226.2,117Z" fill="url(#pRed)" filter="url(#bl1)"/>
<line x1="219.8" y1="155.2" x2="234.8" y2="155.2" stroke="#fff" stroke-width="1.3"/>
</svg>
<svg x="240.2" y="90.2" width="68.4" height="68.3" viewBox="240.2 90.2 68.4 68.3" overflow="hidden">
<rect x="240.2" y="90.2" width="68.4" height="68.3" fill="#000"/>
<path d="M299.3,119.3 L298.9,121.3 L299.1,123.2 L299.2,125.2 L298.5,127.1 L297.2,128.8 L297.1,130.8 L297,132.9 L295.3,134.6 L294.2,136.4 L292.4,137.8 L290.7,139.4 L289.1,141 L287.2,142.4 L285.2,143.8 L283.3,145.5 L280.8,146.1 L278.2,146.5 L275.7,146.7 L273.2,147.2 L270.6,148.1 L268,148.3 L265.6,147.6 L262.9,147.8 L260.7,146.7 L258.4,146 L255.8,145.7 L253.2,145 L251.6,143.4 L249.8,142 L248.7,140.1 L247,138.6 L245.3,137.2 L244,135.4 L243.6,133.3 L242.8,131.4 L242.8,129.3 L243.8,127.1 L243.5,125.2 L244.3,123.2 L244,121.2 L244.9,119.3 L246.1,117.5 L248,116 L249,114.3 L250.2,112.6 L251.5,110.9 L253.3,109.5 L254.6,107.7 L256.5,106.4 L258.6,105.3 L260.5,103.8 L262.7,102.4 L265,101.4 L267.6,100.7 L270.1,100.1 L272.8,100.2 L275.4,100 L278.2,99.4 L280.8,99.8 L283.4,100.2 L286,100.8 L288.1,102.1 L289.6,104 L291.6,105.2 L293.5,106.5 L294.9,108.2 L296.6,109.7 L297.3,111.7 L298,113.6 L297.7,115.8 L298.2,117.6Z" fill="url(#pMerge)" filter="url(#bl1)"/>
<line x1="290.4" y1="155.2" x2="305.4" y2="155.2" stroke="#fff" stroke-width="1.3"/>
</svg>
<svg x="314" y="90.2" width="69" height="68.3" viewBox="314 90.2 69 68.3" overflow="hidden">
<rect x="314" y="90.2" width="69" height="68.3" fill="#000"/>
<path d="M374.2,118.6 L375,120.6 L374.4,122.9 L374.3,125 L373.6,127.1 L373.5,129.3 L372.8,131.3 L371.8,133.3 L370.9,135.2 L369,136.7 L368.1,138.7 L366.5,140.3 L365.4,142.2 L363.3,143.3 L361.7,144.8 L359.5,145.7 L357.6,147 L355.5,148 L353.4,148.9 L351.1,149.3 L348.8,149.4 L346.4,150.2 L344.2,149.2 L341.9,149.5 L339.6,149.1 L337.3,148.9 L335.1,148.3 L333.2,147 L331.3,145.9 L329.6,144.6 L327.6,143.5 L325.8,142.3 L323.8,141 L322.7,139.1 L321.8,137.1 L321.2,135 L320.3,133 L319.5,131 L318.8,128.8 L319.2,126.6 L319.3,124.4 L319.7,122.2 L320.6,120.1 L321.5,118 L323.2,116.3 L324,114.1 L325.7,112.6 L327.5,111.1 L329.5,109.8 L331.6,108.9 L333.4,107.6 L335,106.2 L337.4,105.8 L339.2,104.7 L341.3,103.8 L343.5,103.6 L345.7,103.6 L347.9,102.5 L350.2,101.9 L352.5,102.1 L354.9,102.2 L357,102.9 L359.6,102.9 L361.5,104.1 L364.1,104.4 L366.5,105.2 L368.4,106.6 L369.8,108.4 L370.8,110.5 L372.3,112.2 L373.4,114.2 L374,116.3Z" fill="url(#pRed)" filter="url(#bl1)"/>
<line x1="364.8" y1="155.2" x2="379.8" y2="155.2" stroke="#fff" stroke-width="1.3"/>
</svg>
<svg x="386.8" y="90.2" width="69" height="68.3" viewBox="386.8 90.2 69 68.3" overflow="hidden">
<rect x="386.8" y="90.2" width="69" height="68.3" fill="#000"/>
<path d="M448.3,120.7 L447.1,123 L447.1,125.1 L446.3,127.1 L446.2,129.2 L445.5,131.2 L444.3,133 L442.9,134.7 L441,136.1 L439.6,137.7 L437.8,138.9 L436.8,140.7 L435.2,142.1 L433.3,143.1 L431.4,144.1 L429.4,145.1 L427.4,146 L425.5,147.2 L423.3,148.1 L421,148.5 L418.7,149.1 L416.3,149.1 L413.9,149.4 L411.5,149.1 L409.2,148.6 L406.6,148.4 L404.8,147 L402.9,145.8 L401.2,144.3 L399.6,142.9 L398,141.5 L396.2,140.1 L394.6,138.5 L394.2,136.4 L393.7,134.4 L393.3,132.4 L392.5,130.6 L392.4,128.5 L391.7,126.5 L392.4,124.5 L392.8,122.4 L393.6,120.5 L394.5,118.6 L395.2,116.6 L396.8,115 L397.9,113.2 L399.5,111.7 L401,110 L403.2,109.1 L405.1,108 L407.2,107.1 L408.9,105.5 L411,104.6 L413.5,104.9 L415.5,103.9 L417.8,104.2 L420,104.2 L422.3,103.9 L424.7,103.2 L427,103.4 L429.1,104.2 L431.4,104.5 L433.2,105.8 L435.9,105.8 L437.8,107.1 L439.9,108.1 L441.7,109.5 L443.1,111.2 L444.8,112.8 L445.6,114.7 L446.7,116.7 L447.8,118.6Z" fill="url(#pPD)" filter="url(#bl1)"/>
<line x1="437.6" y1="155.2" x2="452.6" y2="155.2" stroke="#fff" stroke-width="1.3"/>
</svg>
<svg x="26.6" y="171.8" width="68.9" height="67.8" viewBox="26.6 171.8 68.9 67.8" overflow="hidden">
<rect x="26.6" y="171.8" width="68.9" height="67.8" fill="#000"/>
<path d="M85.3,201.7 L84,203.7 L83.4,205.6 L82.9,207.4 L81.9,209.1 L81.2,210.9 L80.2,212.5 L78.2,213.5 L77.1,214.9 L75.3,215.7 L74.2,217.1 L72.7,218 L71.3,219.1 L70,220.6 L68.2,221.1 L66.5,221.7 L64.7,222.2 L62.9,222.9 L61,223.4 L59,224.5 L56.9,224.3 L54.9,223.9 L53.1,222.9 L51.2,222.3 L49,221.9 L47.3,220.8 L45.4,219.9 L44.2,218.1 L42.9,216.6 L42.2,214.6 L41,213 L40.1,211.2 L39.5,209.3 L39.2,207.4 L39.2,205.4 L39.2,203.6 L39.1,201.7 L39.1,199.8 L38.9,197.9 L39.2,196 L40.2,194.3 L41.3,192.7 L42,191 L43.1,189.4 L43.6,187.4 L45.3,186.3 L46.6,185 L48,183.6 L50,183 L51.8,182.4 L53.6,181.8 L55.3,181 L57.1,180.1 L59.1,180.7 L61,180.5 L62.8,181.1 L64.8,180.7 L66.6,181.3 L68.5,181.6 L70.3,182.1 L72.3,182.5 L73.6,184.1 L75.5,184.8 L77.6,185.5 L79.2,186.8 L80.3,188.5 L81.9,189.9 L82.5,191.9 L83.2,193.8 L83.9,195.7 L84.5,197.6 L85.2,199.6Z" fill="url(#pBlue)" filter="url(#bl1)"/>
<line x1="72.3" y1="238.3" x2="92.3" y2="238.3" stroke="#fff" stroke-width="1.3"/>
</svg>
<svg x="97.5" y="171.8" width="68.5" height="67.8" viewBox="97.5 171.8 68.5 67.8" overflow="hidden">
<rect x="97.5" y="171.8" width="68.5" height="67.8" fill="#000"/>
<line x1="142.8" y1="238.3" x2="162.8" y2="238.3" stroke="#fff" stroke-width="1.3"/>
</svg>
<svg x="169" y="171.8" width="69" height="67.8" viewBox="169 171.8 69 67.8" overflow="hidden">
<rect x="169" y="171.8" width="69" height="67.8" fill="#000"/>
<path d="M222.4,200 L223,201.7 L223.2,203.5 L223,205.3 L223,207.2 L222.4,209 L221.6,210.6 L220.7,212.3 L219.8,213.9 L218.7,215.5 L217.4,217 L215.8,218 L214.1,218.9 L212.3,219.6 L210.6,220.4 L208.7,220.6 L207,221.5 L205.1,221.5 L203.2,221.7 L201.4,220.9 L199.6,220.7 L197.9,219.8 L196.1,219.4 L194.2,219.4 L192.5,218.6 L191.2,217.1 L189.8,215.9 L188.3,214.9 L187.3,213.3 L185.7,212.3 L184.5,210.8 L183.6,209.2 L183.1,207.3 L182.9,205.4 L183.1,203.5 L182.3,201.8 L182.7,200 L182.8,198.2 L182.9,196.4 L183.9,194.8 L184.7,193.3 L185,191.5 L185.6,189.9 L186.8,188.5 L187.5,186.8 L188.6,185.4 L190.1,184.4 L191.6,183.4 L192.7,181.8 L194.1,180.5 L195.8,179.6 L197.5,178.5 L199.4,178.5 L201.3,178.2 L203.2,177.3 L205.2,177.5 L207.1,177.7 L209.1,177.8 L210.9,178.7 L212.5,180.1 L214,181.2 L215.3,182.7 L216.7,183.9 L218.3,184.9 L219.2,186.5 L219.8,188.4 L220.3,190.1 L220.8,191.8 L221.4,193.4 L222.3,194.9 L222.7,196.6 L222.3,198.3Z" fill="url(#pRedD)" filter="url(#bl1)"/>
<line x1="214.8" y1="238.3" x2="234.8" y2="238.3" stroke="#fff" stroke-width="1.3"/>
</svg>
<svg x="240.2" y="171.8" width="68.4" height="67.8" viewBox="240.2 171.8 68.4 67.8" overflow="hidden">
<rect x="240.2" y="171.8" width="68.4" height="67.8" fill="#000"/>
<path d="M298.5,201.7 L299,203.7 L299,205.8 L298.9,207.9 L298.3,209.8 L297,211.5 L296,213.3 L294.7,214.9 L293.8,216.7 L291.9,217.7 L290.4,219 L288.6,219.9 L286.8,220.5 L285,221.1 L283.2,221.9 L281.5,222.5 L279.7,223 L277.7,222.6 L275.9,222.6 L274.1,222.4 L272.3,221.9 L270.6,221.6 L268.8,221.3 L266.9,221 L265.3,220 L263.4,219.5 L262.1,218.2 L260.5,217.1 L259.4,215.5 L258,214.3 L256.4,213 L255.3,211.3 L255.1,209.3 L254.7,207.4 L254.1,205.6 L253.8,203.6 L253.4,201.7 L253.6,199.7 L254.1,197.8 L254,195.8 L254.9,194 L255.3,192.1 L256.3,190.4 L257.2,188.6 L258.6,187.2 L260.1,185.9 L261.4,184.4 L263,183.3 L264.8,182.4 L266.4,181.3 L268.1,180.4 L270.1,180.2 L272.1,180.1 L274,180.4 L275.9,180.2 L277.8,180.1 L279.7,180.1 L281.5,180.7 L283,182.3 L284.6,183 L286.1,184 L287.8,184.7 L289.5,185.5 L290.9,186.7 L292,188.2 L293.1,189.7 L294.2,191.2 L295.1,192.8 L296.3,194.3 L297.4,195.9 L297.7,197.9 L298.2,199.7Z" fill="url(#pMerge3)" filter="url(#bl1)"/>
<svg x="240.7" y="217.8" width="26.6" height="21.6" viewBox="240.7 217.8 26.6 21.6" overflow="hidden">
<rect x="240.7" y="217.8" width="26.6" height="21.6" fill="#1c1a9a"/>
<g filter="url(#bl1)" opacity="0.85">
<circle cx="243.1" cy="221" r="1.9" fill="#b0309a"/>
<circle cx="249" cy="220.1" r="2.2" fill="#b0309a"/>
<circle cx="254.2" cy="220.7" r="2" fill="#a02aa0"/>
<circle cx="259.8" cy="220.9" r="2.5" fill="#b0309a"/>
<circle cx="266.2" cy="220.6" r="2.5" fill="#b0309a"/>
<circle cx="243.6" cy="226.1" r="2.2" fill="#90289a"/>
<circle cx="249.8" cy="226.5" r="1.9" fill="#c0389e"/>
<circle cx="255.1" cy="226.3" r="1.8" fill="#b0309a"/>
<circle cx="261.1" cy="226.2" r="2.2" fill="#90289a"/>
<circle cx="266.5" cy="226.8" r="2.1" fill="#c0389e"/>
<circle cx="244.9" cy="231.2" r="2.2" fill="#a02aa0"/>
<circle cx="250.8" cy="231.9" r="2" fill="#b0309a"/>
<circle cx="255.2" cy="231.5" r="2.3" fill="#c0389e"/>
<circle cx="262" cy="231.5" r="2.5" fill="#b0309a"/>
<circle cx="267.4" cy="231.7" r="2.4" fill="#90289a"/>
<circle cx="243.5" cy="237" r="2.4" fill="#b0309a"/>
<circle cx="249.8" cy="237.7" r="2.1" fill="#b0309a"/>
<circle cx="254.2" cy="237.3" r="2.3" fill="#a02aa0"/>
<circle cx="260.2" cy="236.8" r="2.3" fill="#b0309a"/>
<circle cx="266.7" cy="236.8" r="2.2" fill="#a02aa0"/>
</g>
</svg>
<rect x="240.7" y="217.8" width="26.6" height="21.6" fill="none" stroke="#ddd" stroke-width="1.2"/>
<line x1="285.4" y1="238.3" x2="305.4" y2="238.3" stroke="#fff" stroke-width="1.3"/>
</svg>
<svg x="314" y="171.8" width="69" height="67.8" viewBox="314 171.8 69 67.8" overflow="hidden">
<rect x="314" y="171.8" width="69" height="67.8" fill="#000"/>
<line x1="367.8" y1="238" x2="379.8" y2="238" stroke="#fff" stroke-width="1.3"/>
</svg>
<svg x="386.8" y="171.8" width="69" height="67.8" viewBox="386.8 171.8 69 67.8" overflow="hidden">
<rect x="386.8" y="171.8" width="69" height="67.8" fill="#01030a"/>
<path d="M438.3,203.3 L438.4,204.4 L438.1,205.5 L438.1,206.6 L437.4,207.5 L437.2,208.6 L436.9,209.7 L436.5,210.7 L435.9,211.7 L435,212.4 L434.2,213.2 L433.4,214 L432.4,214.5 L431.4,215 L430.4,215.7 L429.3,216 L428.2,216.6 L427,216.3 L425.9,216.4 L424.8,216.2 L423.6,216.5 L422.5,216.1 L421.3,215.8 L420.2,215.5 L419.3,214.8 L418.3,214.2 L417.4,213.5 L416.5,212.7 L415.6,212 L414.9,211 L414.2,210 L413.9,208.9 L413.6,207.8 L413.2,206.7 L412.8,205.6 L412.8,204.4 L413,203.3 L413.5,202.2 L413.8,201.2 L414.1,200.1 L414.3,199.1 L414.5,198 L415.3,197.2 L416.1,196.5 L416.6,195.5 L417.4,194.8 L417.9,193.8 L418.6,192.8 L419.4,192.1 L420.5,191.6 L421.6,191.4 L422.5,190.6 L423.6,190.4 L424.7,189.8 L425.9,189.7 L427.1,189.7 L428.3,189.5 L429.5,189.9 L430.6,190.3 L431.7,190.9 L432.8,191.3 L433.8,192 L434.8,192.7 L435.3,193.9 L436,194.8 L436.7,195.7 L437,196.9 L437.6,197.8 L437.8,199 L438,200 L438,201.2 L438.3,202.2Z" fill="url(#pBlue)" filter="url(#bl1)"/>
<g opacity="0.55">
<path d="M398.2,188 L398.1,189.1 L397.8,190.1 L397.8,191.1 L397.5,192.1 L397.4,193.2 L397.1,194.2 L396.6,195.1 L396.1,195.9 L395.3,196.4 L394.8,197.3 L394.3,198 L393.5,198.5 L392.8,198.9 L392,198.9 L391.2,199.1 L390.5,199.2 L389.7,199.3 L389,199.4 L388.3,199.4 L387.5,199.1 L386.8,198.9 L386.2,198.4 L385.3,198.5 L384.7,198 L383.9,197.7 L383.1,197.4 L382.5,196.7 L381.9,196 L381.4,195.1 L380.8,194.3 L380.2,193.5 L379.9,192.4 L379.6,191.4 L379.6,190.2 L379.5,189.1 L379.3,188 L379.4,186.9 L379.8,185.8 L380,184.8 L380.4,183.8 L380.8,182.9 L381.4,182.2 L381.8,181.3 L382.5,180.7 L383,180 L383.5,179.3 L384.1,178.7 L384.9,178.5 L385.4,177.7 L386,177.2 L386.8,177 L387.5,176.5 L388.2,176.5 L389,176.2 L389.8,176.3 L390.6,176 L391.4,176.1 L392.1,176.5 L392.9,176.8 L393.6,177.4 L394.2,178.1 L395,178.5 L395.5,179.4 L396.2,179.9 L396.7,180.8 L396.9,181.9 L397.2,182.9 L397.5,183.9 L397.9,184.8 L397.9,185.9 L398.3,186.9Z" fill="url(#pBlue)" filter="url(#bl1)"/>
</g>
<g opacity="0.55">
<path d="M410.6,233 L410.7,233.8 L410.6,234.6 L410.5,235.5 L410.2,236.2 L410,237.1 L409.7,237.9 L409.1,238.6 L408.6,239.4 L407.9,240.1 L407.3,241 L406.5,241.7 L405.5,242.2 L404.4,242.6 L403.3,243 L402.1,243 L401,243.3 L399.8,243.7 L398.6,243.5 L397.4,243.4 L396.3,243 L395.2,242.9 L394.1,242.6 L393.1,242.1 L392.1,241.7 L391.2,241.2 L390.2,240.7 L389.7,239.8 L388.8,239.3 L388.1,238.7 L387.5,237.9 L386.8,237.2 L386.4,236.4 L386.4,235.5 L386.2,234.7 L386.3,233.8 L385.8,233 L385.7,232.1 L386.2,231.3 L386.4,230.5 L386.9,229.7 L387.2,228.9 L387.8,228.2 L388.3,227.5 L388.5,226.5 L389.5,226 L390.3,225.4 L391.2,224.9 L392.1,224.3 L393.2,224 L394.1,223.5 L395.1,223 L396.2,222.7 L397.4,222.6 L398.6,222.5 L399.8,222.5 L401,222.5 L402.2,222.8 L403.4,222.9 L404.4,223.4 L405.3,224 L406.2,224.7 L407.1,225.2 L408.1,225.7 L408.7,226.5 L409.2,227.3 L409.4,228.2 L409.7,229 L410,229.8 L410.6,230.5 L410.8,231.3 L410.8,232.2Z" fill="url(#pBlue)" filter="url(#bl1)"/>
</g>
<line x1="440.6" y1="238" x2="452.6" y2="238" stroke="#fff" stroke-width="1.3"/>
</svg>
<svg x="26.6" y="244" width="68.9" height="67.6" viewBox="26.6 244 68.9 67.6" overflow="hidden">
<rect x="26.6" y="244" width="68.9" height="67.6" fill="#000"/>
<path d="M84.6,269 L84.7,271.1 L84.2,273.3 L84.3,275.3 L83.7,277.3 L83.7,279.4 L83.2,281.3 L82.7,283.2 L81.3,284.5 L80.4,286 L79.7,287.8 L79,289.6 L78,291.1 L76.5,292 L75.2,293.1 L73.8,294 L72.4,294.8 L70.8,295.3 L69.2,295.8 L67.6,295.9 L65.9,296 L64.3,295.4 L62.7,295.1 L61.1,294.7 L59.4,294.2 L58,293 L56.2,292.7 L55.2,290.8 L53.5,290 L52.5,288.3 L51.1,286.9 L49.7,285.5 L48.3,284 L47.2,282.2 L46.8,280 L46.2,277.9 L45.4,275.9 L44.7,273.7 L44.5,271.5 L44.5,269.3 L45,267.1 L45.6,265.1 L45.9,263 L46.9,261.2 L48,259.7 L48.6,257.8 L50.2,256.7 L51.5,255.6 L53,254.9 L54.5,254.3 L55.7,253.1 L57,252.4 L58.2,251.2 L59.9,251.3 L61.4,251.2 L62.8,250.8 L64.3,250.6 L65.9,250.2 L67.5,249.5 L69.3,249.3 L70.9,250 L72.5,251 L74.1,251.9 L75.8,252.6 L77.7,253.2 L79.2,254.7 L80.4,256.5 L81.5,258.4 L82.2,260.6 L83.1,262.6 L83.6,264.7 L84.3,266.8Z" fill="url(#pBlue)" filter="url(#bl1)"/>
<path d="M98.9,247 L98.9,247.6 L98.7,248.2 L98.6,248.7 L98.6,249.3 L98.5,249.8 L98.4,250.5 L98.3,251 L98.1,251.5 L97.8,251.9 L97.5,252.3 L97.3,252.7 L97,253.1 L96.7,253.4 L96.4,253.8 L96,253.7 L95.7,254 L95.4,254 L95,253.9 L94.6,254 L94.3,254.1 L94,253.8 L93.6,253.7 L93.3,253.4 L92.9,253.2 L92.6,252.9 L92.3,252.6 L92.1,252.1 L91.8,251.7 L91.7,251.1 L91.4,250.6 L91.3,250 L91,249.5 L91,248.9 L91,248.2 L91.1,247.6 L91,247 L91.2,246.4 L91.1,245.8 L91.3,245.3 L91.4,244.7 L91.5,244.2 L91.7,243.7 L92,243.3 L92.2,242.9 L92.3,242.3 L92.6,242 L92.8,241.5 L93.1,241.2 L93.4,240.9 L93.6,240.5 L94,240.2 L94.3,239.8 L94.6,239.6 L95,239.6 L95.4,239.6 L95.7,239.6 L96.1,239.8 L96.5,240 L96.8,240.2 L97.1,240.6 L97.4,240.9 L97.7,241.4 L97.9,241.9 L98.1,242.4 L98.4,242.9 L98.4,243.5 L98.6,244.1 L98.6,244.7 L98.7,245.3 L98.7,245.8 L98.8,246.4Z" fill="url(#pBlue)" filter="url(#bl1)"/>
<line x1="78.8" y1="309.5" x2="92.3" y2="309.5" stroke="#fff" stroke-width="1.3"/>
</svg>
<svg x="97.5" y="244" width="68.5" height="67.6" viewBox="97.5 244 68.5 67.6" overflow="hidden">
<rect x="97.5" y="244" width="68.5" height="67.6" fill="#000"/>
<circle cx="136" cy="258" r="1" fill="#3c3"/>
<circle cx="141" cy="264" r="0.9" fill="#3c3"/>
<circle cx="133" cy="266" r="0.7" fill="#3c3"/>
<circle cx="138" cy="280" r="0.6" fill="#3c3"/>
<circle cx="131" cy="289" r="0.7" fill="#3c3"/>
<circle cx="137" cy="293" r="0.8" fill="#3c3"/>
<circle cx="127" cy="270" r="0.5" fill="#3c3"/>
<circle cx="144" cy="262" r="0.6" fill="#3c3"/>
<line x1="149.3" y1="309.5" x2="162.8" y2="309.5" stroke="#fff" stroke-width="1.3"/>
</svg>
<svg x="169" y="244" width="69" height="67.6" viewBox="169 244 69 67.6" overflow="hidden">
<rect x="169" y="244" width="69" height="67.6" fill="#000"/>
<path d="M228.3,268.8 L228.4,271 L228.5,273.1 L229.1,275.3 L228.8,277.4 L228.8,279.7 L228.3,281.7 L227.4,283.6 L226.5,285.4 L225.7,287.4 L224.5,289 L223.5,290.7 L221.7,291.5 L220.1,292.4 L218.6,293.3 L216.7,293.4 L215.3,294.4 L213.7,294.9 L211.9,294.5 L210.3,294.9 L208.6,294.9 L207,294.4 L205.4,293.6 L203.8,293.6 L202,293.7 L200.2,293.4 L198.7,292.4 L197.2,291.2 L195.7,290.2 L194.4,288.6 L192.7,287.5 L191.4,285.9 L190.1,284.3 L189,282.4 L188.3,280.3 L187.8,278.2 L187.6,276 L187.1,273.9 L186.4,271.7 L187,269.5 L187.6,267.5 L188,265.4 L188.8,263.6 L189.2,261.5 L190.4,260 L191.1,258.1 L192.3,256.7 L193.7,255.5 L194.9,254.1 L196.1,252.7 L197.6,251.9 L199,250.7 L200.6,250.1 L202.3,249.7 L203.8,248.8 L205.6,249.2 L207.3,248.9 L209.1,248.6 L210.8,249.3 L212.6,249.3 L214.2,250.4 L215.6,251.9 L217.1,252.9 L218.6,253.9 L220.2,254.8 L221.5,256.2 L222.6,258 L223.8,259.5 L224.5,261.4 L225.8,263 L226.6,264.9 L227.4,266.8Z" fill="url(#pRed)" filter="url(#bl1)"/>
<line x1="221.3" y1="309.5" x2="234.8" y2="309.5" stroke="#fff" stroke-width="1.3"/>
</svg>
<svg x="240.2" y="244" width="68.4" height="67.6" viewBox="240.2 244 68.4 67.6" overflow="hidden">
<rect x="240.2" y="244" width="68.4" height="67.6" fill="#000"/>
<path d="M296.2,269.2 L296.4,271.2 L296.5,273.2 L296.6,275.2 L295.8,277 L295.3,278.8 L294.7,280.5 L294.3,282.3 L294.4,284.6 L293.9,286.5 L292.7,287.7 L292,289.5 L290.9,291 L289.6,292.2 L288.4,293.4 L287.3,295.3 L285.9,296.4 L284.2,296.7 L282.5,297.2 L280.7,297.4 L279,297.2 L277.2,297.7 L275.5,297.3 L273.8,296.3 L272.1,295.4 L270.7,293.8 L269.1,293.1 L267.6,291.9 L266.1,290.6 L265.1,288.8 L264.2,286.9 L263,285.3 L262.4,283.2 L261.7,281.4 L260.4,279.7 L260.1,277.7 L259.3,275.7 L259.4,273.6 L259.6,271.6 L259.1,269.5 L259.4,267.5 L259.2,265.3 L259.7,263.4 L260.5,261.6 L261.6,260.1 L262.6,258.7 L263.2,256.8 L264.5,255.6 L265.2,253.7 L266.7,252.8 L268.1,252 L269.4,250.9 L270.9,250.1 L272.4,249.4 L274,249.2 L275.6,248.5 L277.2,248.2 L278.9,248.3 L280.6,248.4 L282.3,249.2 L284.2,248.9 L286,249.6 L287.6,250.7 L289,252.1 L290.3,253.8 L291.5,255.6 L292.7,257.2 L293.9,258.9 L295.1,260.6 L295.4,262.9 L295.7,265.1 L296,267.2Z" fill="url(#pMerge3)" filter="url(#bl1)"/>
<svg x="240.7" y="290" width="26.6" height="21.6" viewBox="240.7 290 26.6 21.6" overflow="hidden">
<rect x="240.7" y="290" width="26.6" height="21.6" fill="#1c1a9a"/>
<g filter="url(#bl1)" opacity="0.85">
<circle cx="244.1" cy="292.4" r="2.3" fill="#b0309a"/>
<circle cx="248.5" cy="293.5" r="2.2" fill="#a02aa0"/>
<circle cx="254.9" cy="292.9" r="2.1" fill="#a02aa0"/>
<circle cx="260.4" cy="293.6" r="2.1" fill="#a02aa0"/>
<circle cx="265.5" cy="292.3" r="2" fill="#a02aa0"/>
<circle cx="244.6" cy="298.7" r="2.3" fill="#b0309a"/>
<circle cx="250.3" cy="297.7" r="2.2" fill="#a02aa0"/>
<circle cx="254.6" cy="297.7" r="2" fill="#b0309a"/>
<circle cx="260.7" cy="298.6" r="2.4" fill="#c0389e"/>
<circle cx="266.5" cy="298.5" r="1.8" fill="#c0389e"/>
<circle cx="243.8" cy="303.7" r="2.2" fill="#a02aa0"/>
<circle cx="248.6" cy="303.6" r="2.4" fill="#c0389e"/>
<circle cx="254" cy="304" r="2.2" fill="#90289a"/>
<circle cx="260.4" cy="304.5" r="2.4" fill="#c0389e"/>
<circle cx="265.4" cy="303.6" r="2" fill="#b0309a"/>
<circle cx="245.2" cy="309.8" r="2.2" fill="#90289a"/>
<circle cx="249.8" cy="308.5" r="2" fill="#90289a"/>
<circle cx="255.1" cy="308.8" r="2" fill="#a02aa0"/>
<circle cx="260.9" cy="309" r="1.9" fill="#b0309a"/>
<ellipse cx="251.5" cy="296" rx="1.8" ry="3" fill="#28a040"/>
</g>
</svg>
<rect x="240.7" y="290" width="26.6" height="21.6" fill="none" stroke="#ddd" stroke-width="1.2"/>
<circle cx="254" cy="294" r="0.6" fill="#fff"/>
<circle cx="256" cy="298" r="0.6" fill="#fff"/>
<circle cx="249" cy="302" r="0.6" fill="#fff"/>
<circle cx="258" cy="302" r="0.6" fill="#fff"/>
<circle cx="253" cy="303" r="0.6" fill="#fff"/>
<line x1="291.9" y1="309.5" x2="305.4" y2="309.5" stroke="#fff" stroke-width="1.3"/>
</svg>
<svg x="314" y="244" width="69" height="67.6" viewBox="314 244 69 67.6" overflow="hidden">
<rect x="314" y="244" width="69" height="67.6" fill="#041404"/>
<path d="M366.7,275.2 L366.8,277 L367,278.7 L366.9,280.5 L366.7,282.2 L365.9,283.8 L365.1,285.2 L364.3,286.6 L363.6,287.9 L363.2,289.5 L362.8,291.1 L361.8,292.3 L360.9,293.5 L359.6,294.4 L358.6,295.4 L357.4,296.4 L356.1,297.2 L355,298.6 L353.4,298.8 L351.9,299.1 L350.4,299 L348.8,299.3 L347.2,299.6 L345.7,299 L344.1,298.5 L342.6,297.9 L341.2,296.9 L340.1,295.4 L338.5,294.9 L337.2,293.7 L336.1,292.3 L335.2,290.8 L334.6,289 L333.8,287.5 L332.8,286 L332.4,284.3 L331.5,282.7 L331.4,280.8 L331.2,279.1 L331.3,277.3 L331.9,275.6 L331.7,273.8 L331.9,272 L332.6,270.5 L333.5,269.1 L334.3,267.6 L335.3,266.4 L336.2,265.1 L337.5,264.3 L338.7,263.3 L339.8,262.3 L341.3,262 L342.5,261.1 L343.9,260.8 L345.2,260.2 L346.7,260.1 L348.1,259.6 L349.6,259.1 L351.1,259.4 L352.6,259.8 L354,260.3 L355.8,260 L357.2,260.9 L358.8,261.6 L360.2,262.5 L361.5,263.7 L362.7,265.1 L363.7,266.6 L365.3,267.7 L366.1,269.5 L366.7,271.3 L367,273.2Z" fill="url(#pGreen2)" filter="url(#bl1)"/>
<line x1="367.8" y1="307.6" x2="379.8" y2="307.6" stroke="#fff" stroke-width="1.3"/>
</svg>
<svg x="386.8" y="244" width="69" height="67.6" viewBox="386.8 244 69 67.6" overflow="hidden">
<rect x="386.8" y="244" width="69" height="67.6" fill="#041404"/>
<path d="M439.4,275.5 L439.4,277.3 L439.9,279.1 L439.8,280.9 L439.5,282.6 L439.6,284.5 L438.8,286.1 L438.2,287.6 L437.2,288.9 L436.9,290.7 L435.9,292.1 L435.2,293.6 L433.9,294.4 L432.4,295.1 L431.4,296.2 L430.1,297 L428.8,297.9 L427.4,298.4 L425.9,298.7 L424.5,299 L422.9,298.5 L421.5,298.6 L420,298.8 L418.5,298.1 L417,297.8 L415.7,297 L414.2,296.4 L412.9,295.4 L411.5,294.7 L410,293.9 L408.8,292.7 L407.8,291.2 L406.6,289.8 L406,288.1 L405.3,286.4 L404.2,284.8 L403.4,283.1 L402.9,281.2 L403,279.3 L403.3,277.5 L403.9,275.7 L403.7,273.8 L404.2,272.1 L405.1,270.6 L405.9,269.1 L407,267.9 L408.1,266.7 L409.2,265.7 L410.1,264.5 L411.1,263.3 L412.5,262.7 L413.9,262.2 L415.2,261.7 L416.5,260.9 L417.8,260.6 L419.2,259.9 L420.6,259.8 L422.1,259.6 L423.6,259.7 L425.1,260.3 L426.5,260.6 L428.2,260.7 L429.7,261.3 L431.3,261.9 L432.5,263.1 L433.7,264.3 L434.8,265.7 L436.3,266.8 L437,268.6 L438.1,270 L439,271.7 L439,273.7Z" fill="url(#pTeal)" filter="url(#bl1)"/>
<line x1="440.6" y1="307.6" x2="452.6" y2="307.6" stroke="#fff" stroke-width="1.3"/>
</svg>
<rect x="266.3" y="185.7" width="10.2" height="7.3" fill="none" stroke="#ddd" stroke-width="0.6"/>
<rect x="272.7" y="255.3" width="9.6" height="7.4" fill="none" stroke="#ddd" stroke-width="0.6"/>
<text x="61.3" y="17" font-size="10.8" text-anchor="middle" fill="#29a9e0">DAPI</text>
<text x="131.2" y="17" font-size="10.8" text-anchor="middle" fill="#1aaa4a">C-PEP</text>
<text x="203.9" y="17" font-size="10.8" text-anchor="middle" fill="#ec2227">PDX1</text>
<text x="274.7" y="17" font-size="10.8" text-anchor="middle" fill="#333">MERGE</text>
<text x="349.3" y="17" font-size="10.8" text-anchor="middle" fill="#ec2227">NKX6-1</text>
<text x="421.4" y="17" font-size="10.8" text-anchor="middle" fill="#29a9e0">+DAPI</text>
<text x="61.3" y="170.2" font-size="10.8" text-anchor="middle" fill="#29a9e0">DAPI</text>
<text x="131.2" y="170.2" font-size="10.8" text-anchor="middle" fill="#1aaa4a">AFP</text>
<text x="203.9" y="170.2" font-size="10.8" text-anchor="middle" fill="#ec2227">PDX1</text>
<text x="274.7" y="170.2" font-size="10.8" text-anchor="middle" fill="#333">MERGE</text>
<text x="349.3" y="170.2" font-size="10.8" text-anchor="middle" fill="#1aaa4a">HNF4A</text>
<text x="421.4" y="170.2" font-size="10.8" text-anchor="middle" fill="#29a9e0">+DAPI</text>
<text x="-0.3" y="16.4" font-size="23">A</text>
<line x1="14.5" y1="25" x2="14.5" y2="310.6" stroke="#000" stroke-width="1"/>
<text x="26.3" y="52.5" font-size="10.5" text-anchor="middle" fill="#222" transform="rotate(-90 26.3 52.5)">WT</text>
<text x="26.3" y="124.7" font-size="10.5" text-anchor="middle" fill="#222" transform="rotate(-90 26.3 124.7)">KO</text>
<text x="26.3" y="207.9" font-size="10.5" text-anchor="middle" fill="#222" transform="rotate(-90 26.3 207.9)">WT</text>
<text x="26.3" y="281.3" font-size="10.5" text-anchor="middle" fill="#222" transform="rotate(-90 26.3 281.3)">KO</text>
<text x="10.7" y="167.5" font-size="10" text-anchor="middle" font-weight="bold" transform="rotate(-90 10.7 167.5)">SC-β</text>
<svg x="474.1" y="18.3" width="69.2" height="68.3" viewBox="474.1 18.3 69.2 68.3" overflow="hidden">
<rect x="474.1" y="18.3" width="69.2" height="68.3" fill="#2a1406"/>
<g filter="url(#bl3)" opacity="0.6">
<ellipse cx="499.1" cy="48.3" rx="13" ry="11" fill="#38b020"/>
<ellipse cx="512.1" cy="56.3" rx="10" ry="9" fill="#38b020"/>
<ellipse cx="492.1" cy="68.3" rx="9" ry="7" fill="#38b020"/>
<ellipse cx="516.1" cy="26.3" rx="9" ry="5" fill="#38b020"/>
<ellipse cx="534.1" cy="66.3" rx="5" ry="7" fill="#38b020"/>
</g>
<g filter="url(#bl1)">
<ellipse cx="477.2" cy="21" rx="2.9" ry="2.7" fill="#7a1a0e" opacity="0.85"/>
<ellipse cx="483.8" cy="19.6" rx="2.4" ry="2.4" fill="#962a14" opacity="0.85"/>
<ellipse cx="497.1" cy="19.4" rx="2.5" ry="2.2" fill="#a82014" opacity="0.85"/>
<ellipse cx="502.7" cy="21.3" rx="2.6" ry="2.4" fill="#8a1c10" opacity="0.85"/>
<ellipse cx="510.5" cy="19.3" rx="3" ry="3" fill="#c8281a" opacity="0.85"/>
<ellipse cx="515.1" cy="21.4" rx="2.8" ry="2.4" fill="#a82014" opacity="0.85"/>
<ellipse cx="521.9" cy="20.1" rx="3" ry="3" fill="#8a1c10" opacity="0.85"/>
<ellipse cx="530.7" cy="20.6" rx="2.7" ry="2.8" fill="#7a1a0e" opacity="0.85"/>
<ellipse cx="542.1" cy="20.8" rx="2.9" ry="2.7" fill="#d8301c" opacity="0.85"/>
<ellipse cx="477.9" cy="25.6" rx="2.3" ry="2.2" fill="#a82014" opacity="0.85"/>
<ellipse cx="486.3" cy="27" rx="3" ry="2.9" fill="#8a1c10" opacity="0.85"/>
<ellipse cx="499.2" cy="25.7" rx="2.3" ry="1.9" fill="#d8301c" opacity="0.85"/>
<ellipse cx="504.1" cy="26.5" rx="2.4" ry="2.1" fill="#d8301c" opacity="0.85"/>
<ellipse cx="513" cy="26.9" rx="2.5" ry="2.2" fill="#8a1c10" opacity="0.85"/>
<ellipse cx="517.8" cy="26.3" rx="2.4" ry="2.4" fill="#a82014" opacity="0.85"/>
<ellipse cx="524.1" cy="26.8" rx="2.9" ry="2.4" fill="#962a14" opacity="0.85"/>
<ellipse cx="530.5" cy="26.1" rx="3" ry="2.5" fill="#8a1c10" opacity="0.85"/>
<ellipse cx="537.6" cy="25.5" rx="2.3" ry="1.9" fill="#a82014" opacity="0.85"/>
<ellipse cx="544.4" cy="26.8" rx="2.4" ry="2.4" fill="#c8281a" opacity="0.85"/>
<ellipse cx="477.6" cy="31.3" rx="2.6" ry="2.5" fill="#d8301c" opacity="0.85"/>
<ellipse cx="485.3" cy="30.9" rx="3" ry="3.3" fill="#d8301c" opacity="0.85"/>
<ellipse cx="498.2" cy="31.3" rx="2.5" ry="2.8" fill="#8a1c10" opacity="0.85"/>
<ellipse cx="509.3" cy="30.8" rx="2.9" ry="3.1" fill="#d8301c" opacity="0.85"/>
<ellipse cx="516.1" cy="31.6" rx="2.3" ry="2.3" fill="#962a14" opacity="0.85"/>
<ellipse cx="524.2" cy="31.7" rx="2.4" ry="2.5" fill="#c8281a" opacity="0.85"/>
<ellipse cx="532" cy="30.7" rx="2.4" ry="2.4" fill="#d8301c" opacity="0.85"/>
<ellipse cx="536.1" cy="32.8" rx="2.7" ry="2.8" fill="#c8281a" opacity="0.85"/>
<ellipse cx="542.7" cy="31.8" rx="2.7" ry="2.5" fill="#a82014" opacity="0.85"/>
<ellipse cx="480.1" cy="36.8" rx="2.8" ry="2.6" fill="#962a14" opacity="0.85"/>
<ellipse cx="485.7" cy="37" rx="2.8" ry="2.5" fill="#7a1a0e" opacity="0.85"/>
<ellipse cx="490.7" cy="39" rx="2.8" ry="2.6" fill="#d8301c" opacity="0.85"/>
<ellipse cx="497.3" cy="37.9" rx="2.4" ry="1.9" fill="#a82014" opacity="0.85"/>
<ellipse cx="504.6" cy="38.6" rx="2.9" ry="2.8" fill="#7a1a0e" opacity="0.85"/>
<ellipse cx="518.7" cy="37.1" rx="2.9" ry="3.2" fill="#962a14" opacity="0.85"/>
<ellipse cx="525.7" cy="38.6" rx="2.9" ry="2.7" fill="#d8301c" opacity="0.85"/>
<ellipse cx="532.5" cy="39.4" rx="3" ry="2.7" fill="#962a14" opacity="0.85"/>
<ellipse cx="537.4" cy="39.4" rx="3" ry="2.6" fill="#c8281a" opacity="0.85"/>
<ellipse cx="545.2" cy="36.8" rx="2.4" ry="2.3" fill="#b83a20" opacity="0.85"/>
<ellipse cx="478" cy="44.1" rx="3.1" ry="2.7" fill="#b83a20" opacity="0.85"/>
<ellipse cx="484.9" cy="44.6" rx="3.1" ry="2.5" fill="#b83a20" opacity="0.85"/>
<ellipse cx="491.3" cy="42.9" rx="2.7" ry="2.4" fill="#d8301c" opacity="0.85"/>
<ellipse cx="496.8" cy="45.2" rx="2.5" ry="2.6" fill="#b83a20" opacity="0.85"/>
<ellipse cx="503.5" cy="44.9" rx="2.4" ry="2.3" fill="#a82014" opacity="0.85"/>
<ellipse cx="510" cy="43.2" rx="2.4" ry="2.1" fill="#962a14" opacity="0.85"/>
<ellipse cx="518.3" cy="43.2" rx="3" ry="2.9" fill="#8a1c10" opacity="0.85"/>
<ellipse cx="522.4" cy="44.2" rx="3" ry="3.3" fill="#c8281a" opacity="0.85"/>
<ellipse cx="531.8" cy="43" rx="2.3" ry="2.2" fill="#a82014" opacity="0.85"/>
<ellipse cx="536.3" cy="45.3" rx="2.5" ry="2.7" fill="#d8301c" opacity="0.85"/>
<ellipse cx="542.8" cy="44.1" rx="2.9" ry="2.4" fill="#8a1c10" opacity="0.85"/>
<ellipse cx="476.7" cy="49.6" rx="2.4" ry="2.5" fill="#b83a20" opacity="0.85"/>
<ellipse cx="482.9" cy="49.5" rx="3.1" ry="2.7" fill="#b83a20" opacity="0.85"/>
<ellipse cx="497.5" cy="49.3" rx="2.6" ry="2.5" fill="#b83a20" opacity="0.85"/>
<ellipse cx="502.9" cy="49.6" rx="3" ry="2.5" fill="#a82014" opacity="0.85"/>
<ellipse cx="510.2" cy="50.4" rx="2.6" ry="2.2" fill="#8a1c10" opacity="0.85"/>
<ellipse cx="515" cy="49.2" rx="2.7" ry="2.2" fill="#7a1a0e" opacity="0.85"/>
<ellipse cx="521.7" cy="51.3" rx="3" ry="2.7" fill="#962a14" opacity="0.85"/>
<ellipse cx="528.7" cy="49.5" rx="2.5" ry="2.6" fill="#c8281a" opacity="0.85"/>
<ellipse cx="536.5" cy="49.6" rx="3" ry="3.3" fill="#8a1c10" opacity="0.85"/>
<ellipse cx="541.7" cy="48.7" rx="2.3" ry="2.3" fill="#962a14" opacity="0.85"/>
<ellipse cx="478.5" cy="57.2" rx="2.5" ry="2.4" fill="#962a14" opacity="0.85"/>
<ellipse cx="486.4" cy="54.6" rx="2.7" ry="2.8" fill="#d8301c" opacity="0.85"/>
<ellipse cx="491.9" cy="56.4" rx="2.4" ry="2.3" fill="#b83a20" opacity="0.85"/>
<ellipse cx="497.5" cy="55.7" rx="2.8" ry="2.3" fill="#d8301c" opacity="0.85"/>
<ellipse cx="512.7" cy="56.8" rx="2.8" ry="2.8" fill="#962a14" opacity="0.85"/>
<ellipse cx="519.5" cy="55.3" rx="2.6" ry="2.1" fill="#7a1a0e" opacity="0.85"/>
<ellipse cx="524" cy="55.8" rx="2.5" ry="2.5" fill="#b83a20" opacity="0.85"/>
<ellipse cx="530.4" cy="56.9" rx="2.4" ry="2.1" fill="#c8281a" opacity="0.85"/>
<ellipse cx="537" cy="56.4" rx="2.6" ry="2.8" fill="#962a14" opacity="0.85"/>
<ellipse cx="546.1" cy="57.2" rx="2.5" ry="2.6" fill="#7a1a0e" opacity="0.85"/>
<ellipse cx="477.6" cy="61.5" rx="2.5" ry="2.3" fill="#962a14" opacity="0.85"/>
<ellipse cx="484.3" cy="63.4" rx="2.7" ry="2.3" fill="#b83a20" opacity="0.85"/>
<ellipse cx="490.5" cy="61.5" rx="2.3" ry="1.9" fill="#c8281a" opacity="0.85"/>
<ellipse cx="496.8" cy="62.6" rx="2.6" ry="2.8" fill="#8a1c10" opacity="0.85"/>
<ellipse cx="511.9" cy="61.4" rx="2.6" ry="2.3" fill="#8a1c10" opacity="0.85"/>
<ellipse cx="515.6" cy="63.3" rx="3" ry="2.4" fill="#d8301c" opacity="0.85"/>
<ellipse cx="524.2" cy="61.6" rx="2.9" ry="2.7" fill="#962a14" opacity="0.85"/>
<ellipse cx="529.9" cy="60.4" rx="2.9" ry="2.7" fill="#b83a20" opacity="0.85"/>
<ellipse cx="537.4" cy="61.2" rx="3" ry="2.4" fill="#c8281a" opacity="0.85"/>
<ellipse cx="544.6" cy="62.6" rx="3" ry="3.1" fill="#c8281a" opacity="0.85"/>
<ellipse cx="478.4" cy="69.3" rx="3" ry="3.2" fill="#7a1a0e" opacity="0.85"/>
<ellipse cx="484.7" cy="67.2" rx="2.6" ry="2.5" fill="#7a1a0e" opacity="0.85"/>
<ellipse cx="493.3" cy="67.1" rx="2.8" ry="2.4" fill="#d8301c" opacity="0.85"/>
<ellipse cx="511.4" cy="67.5" rx="2.5" ry="2.3" fill="#8a1c10" opacity="0.85"/>
<ellipse cx="518.8" cy="68.2" rx="2.4" ry="2.1" fill="#d8301c" opacity="0.85"/>
<ellipse cx="524.4" cy="68" rx="3" ry="3" fill="#b83a20" opacity="0.85"/>
<ellipse cx="537.9" cy="67.6" rx="2.6" ry="2.7" fill="#b83a20" opacity="0.85"/>
<ellipse cx="545.5" cy="69.3" rx="2.9" ry="2.9" fill="#d8301c" opacity="0.85"/>
<ellipse cx="476.7" cy="72.8" rx="2.6" ry="2.7" fill="#962a14" opacity="0.85"/>
<ellipse cx="483.6" cy="72.4" rx="2.7" ry="2.7" fill="#b83a20" opacity="0.85"/>
<ellipse cx="491.4" cy="72.5" rx="2.9" ry="2.4" fill="#8a1c10" opacity="0.85"/>
<ellipse cx="497.9" cy="73.9" rx="2.7" ry="2.6" fill="#c8281a" opacity="0.85"/>
<ellipse cx="503.2" cy="72.3" rx="2.9" ry="2.7" fill="#c8281a" opacity="0.85"/>
<ellipse cx="509.5" cy="73.9" rx="2.3" ry="2.2" fill="#c8281a" opacity="0.85"/>
<ellipse cx="516.3" cy="73.3" rx="3" ry="2.8" fill="#b83a20" opacity="0.85"/>
<ellipse cx="524.4" cy="72.3" rx="2.5" ry="2.6" fill="#a82014" opacity="0.85"/>
<ellipse cx="530.4" cy="74.5" rx="2.9" ry="2.8" fill="#962a14" opacity="0.85"/>
<ellipse cx="538.1" cy="74.5" rx="2.7" ry="2.6" fill="#c8281a" opacity="0.85"/>
<ellipse cx="543.7" cy="74.1" rx="3" ry="3.1" fill="#962a14" opacity="0.85"/>
<ellipse cx="477" cy="78.5" rx="2.6" ry="2.2" fill="#8a1c10" opacity="0.85"/>
<ellipse cx="483.1" cy="80.9" rx="2.4" ry="2.4" fill="#a82014" opacity="0.85"/>
<ellipse cx="490.4" cy="78.4" rx="2.4" ry="2.1" fill="#c8281a" opacity="0.85"/>
<ellipse cx="496.9" cy="80.1" rx="2.9" ry="2.9" fill="#a82014" opacity="0.85"/>
<ellipse cx="504.6" cy="79.9" rx="3" ry="2.7" fill="#c8281a" opacity="0.85"/>
<ellipse cx="516.4" cy="80.3" rx="3" ry="3.1" fill="#962a14" opacity="0.85"/>
<ellipse cx="523.7" cy="79.9" rx="2.9" ry="2.4" fill="#7a1a0e" opacity="0.85"/>
<ellipse cx="535.8" cy="78.2" rx="3" ry="2.7" fill="#962a14" opacity="0.85"/>
<ellipse cx="543" cy="80.5" rx="2.7" ry="2.9" fill="#962a14" opacity="0.85"/>
<ellipse cx="478.6" cy="85.5" rx="2.7" ry="2.7" fill="#c8281a" opacity="0.85"/>
<ellipse cx="485.4" cy="85" rx="2.6" ry="2.5" fill="#a82014" opacity="0.85"/>
<ellipse cx="490" cy="86.7" rx="2.3" ry="2" fill="#c8281a" opacity="0.85"/>
<ellipse cx="496.1" cy="86.6" rx="3.1" ry="2.6" fill="#8a1c10" opacity="0.85"/>
<ellipse cx="504" cy="86.4" rx="2.9" ry="2.5" fill="#8a1c10" opacity="0.85"/>
<ellipse cx="509.7" cy="87" rx="2.6" ry="2.5" fill="#7a1a0e" opacity="0.85"/>
<ellipse cx="517.3" cy="85.1" rx="2.8" ry="2.4" fill="#b83a20" opacity="0.85"/>
<ellipse cx="524.2" cy="86.6" rx="3" ry="2.4" fill="#7a1a0e" opacity="0.85"/>
<ellipse cx="529.2" cy="84.3" rx="3" ry="3" fill="#8a1c10" opacity="0.85"/>
<ellipse cx="542.4" cy="86.2" rx="2.7" ry="2.2" fill="#8a1c10" opacity="0.85"/>
<ellipse cx="489.8" cy="27" rx="2.1" ry="2.2" fill="#48c830" opacity="0.7"/>
<ellipse cx="511.5" cy="66.4" rx="1.8" ry="2" fill="#48c830" opacity="0.7"/>
<ellipse cx="479.2" cy="60.6" rx="1.3" ry="1.4" fill="#48c830" opacity="0.7"/>
<ellipse cx="502.8" cy="63.4" rx="1.5" ry="1.5" fill="#48c830" opacity="0.7"/>
<ellipse cx="493.6" cy="41.7" rx="1.2" ry="1.1" fill="#40b82c" opacity="0.7"/>
<ellipse cx="523.4" cy="56.6" rx="1.5" ry="1.3" fill="#40b82c" opacity="0.7"/>
</g>
<line x1="505.3" y1="83.4" x2="540.3" y2="83.4" stroke="#fff" stroke-width="1.3"/>
</svg>
<svg x="545" y="18.3" width="68.8" height="68.3" viewBox="545 18.3 68.8 68.3" overflow="hidden">
<rect x="545" y="18.3" width="68.8" height="68.3" fill="#0e0e58"/>
<g filter="url(#bl15)">
<ellipse cx="585" cy="31.6" rx="3.8" ry="4" fill="#2828bc" opacity="0.85"/>
<ellipse cx="548.3" cy="52.7" rx="3.3" ry="3.6" fill="#2828bc" opacity="0.85"/>
<ellipse cx="592.6" cy="32.8" rx="3.8" ry="3.1" fill="#2222b0" opacity="0.85"/>
<ellipse cx="556.1" cy="48.7" rx="3.2" ry="2.8" fill="#14147c" opacity="0.85"/>
<ellipse cx="561.4" cy="72.3" rx="3.1" ry="2.5" fill="#2828bc" opacity="0.85"/>
<ellipse cx="565.9" cy="25.9" rx="3.6" ry="3.6" fill="#14147c" opacity="0.85"/>
<ellipse cx="572.2" cy="44.2" rx="3.1" ry="2.9" fill="#2828bc" opacity="0.85"/>
<ellipse cx="545.4" cy="50" rx="3.2" ry="2.9" fill="#1a1a9a" opacity="0.85"/>
<ellipse cx="570.5" cy="42.9" rx="2.9" ry="3" fill="#1a1a9a" opacity="0.85"/>
<ellipse cx="574.7" cy="37.3" rx="3.5" ry="3.2" fill="#14147c" opacity="0.85"/>
<ellipse cx="606.7" cy="57.2" rx="2.8" ry="2.9" fill="#14147c" opacity="0.85"/>
<ellipse cx="604.7" cy="30.7" rx="3.2" ry="3.4" fill="#1a1a9a" opacity="0.85"/>
<ellipse cx="549.5" cy="57.6" rx="3.2" ry="3.3" fill="#2828bc" opacity="0.85"/>
<ellipse cx="602.7" cy="26.4" rx="3.4" ry="3.6" fill="#2828bc" opacity="0.85"/>
<ellipse cx="599.5" cy="27.9" rx="2.8" ry="2.9" fill="#2828bc" opacity="0.85"/>
<ellipse cx="612.1" cy="84.5" rx="2.7" ry="2.3" fill="#14147c" opacity="0.85"/>
<ellipse cx="568.2" cy="22.9" rx="3.3" ry="3.3" fill="#14147c" opacity="0.85"/>
<ellipse cx="576.9" cy="31.4" rx="3.4" ry="3.1" fill="#14147c" opacity="0.85"/>
<ellipse cx="609.5" cy="35.4" rx="2.8" ry="2.4" fill="#14147c" opacity="0.85"/>
<ellipse cx="561.8" cy="37.5" rx="3.8" ry="3.2" fill="#1a1a9a" opacity="0.85"/>
<ellipse cx="588.6" cy="76.8" rx="3.2" ry="3.1" fill="#14147c" opacity="0.85"/>
<ellipse cx="561.4" cy="37" rx="3.4" ry="3.3" fill="#14147c" opacity="0.85"/>
<ellipse cx="568" cy="82.3" rx="2.9" ry="3" fill="#2828bc" opacity="0.85"/>
<ellipse cx="572.6" cy="22" rx="2.9" ry="2.3" fill="#2222b0" opacity="0.85"/>
<ellipse cx="590.7" cy="28.3" rx="2.7" ry="2.2" fill="#2222b0" opacity="0.85"/>
<ellipse cx="591.6" cy="65.2" rx="3" ry="3" fill="#2222b0" opacity="0.85"/>
<ellipse cx="553.8" cy="55.6" rx="3" ry="3" fill="#14147c" opacity="0.85"/>
<ellipse cx="561.6" cy="48" rx="3.1" ry="2.8" fill="#1a1a9a" opacity="0.85"/>
<ellipse cx="561.9" cy="57.8" rx="3" ry="3.2" fill="#2828bc" opacity="0.85"/>
<ellipse cx="590.9" cy="36.7" rx="3.5" ry="3.7" fill="#2828bc" opacity="0.85"/>
<ellipse cx="612.1" cy="60.5" rx="3.6" ry="2.9" fill="#2828bc" opacity="0.85"/>
<ellipse cx="590.9" cy="70.9" rx="3.7" ry="3.5" fill="#1a1a9a" opacity="0.85"/>
<ellipse cx="547.4" cy="77.7" rx="3.3" ry="2.8" fill="#1a1a9a" opacity="0.85"/>
<ellipse cx="612.2" cy="72.8" rx="3" ry="3.1" fill="#2222b0" opacity="0.85"/>
<ellipse cx="577.3" cy="84.9" rx="2.7" ry="2.2" fill="#14147c" opacity="0.85"/>
<ellipse cx="559.9" cy="72.7" rx="2.7" ry="2.4" fill="#2222b0" opacity="0.85"/>
<ellipse cx="589.8" cy="30" rx="3.7" ry="3.8" fill="#2222b0" opacity="0.85"/>
<ellipse cx="575.9" cy="20.9" rx="2.8" ry="2.7" fill="#2222b0" opacity="0.85"/>
<ellipse cx="552.2" cy="54.3" rx="2.6" ry="2.8" fill="#2222b0" opacity="0.85"/>
<ellipse cx="584.7" cy="51.2" rx="2.8" ry="2.3" fill="#1a1a9a" opacity="0.85"/>
<ellipse cx="575.8" cy="57.3" rx="3.6" ry="3.6" fill="#1a1a9a" opacity="0.85"/>
<ellipse cx="613.4" cy="45.8" rx="2.8" ry="2.3" fill="#14147c" opacity="0.85"/>
<ellipse cx="592.1" cy="22.5" rx="2.7" ry="2.4" fill="#2222b0" opacity="0.85"/>
<ellipse cx="594.8" cy="44.8" rx="3.3" ry="2.8" fill="#14147c" opacity="0.85"/>
<ellipse cx="593" cy="34.7" rx="3.1" ry="2.7" fill="#2222b0" opacity="0.85"/>
<ellipse cx="558.8" cy="28.6" rx="2.8" ry="2.6" fill="#2222b0" opacity="0.85"/>
<ellipse cx="605.8" cy="70.1" rx="3.5" ry="3" fill="#1a1a9a" opacity="0.85"/>
<ellipse cx="560.4" cy="54.2" rx="2.6" ry="2.8" fill="#2222b0" opacity="0.85"/>
<ellipse cx="562.5" cy="74.5" rx="3.5" ry="3.8" fill="#14147c" opacity="0.85"/>
<ellipse cx="598.3" cy="79.8" rx="3.1" ry="3.4" fill="#14147c" opacity="0.85"/>
<ellipse cx="603.5" cy="22.1" rx="3.4" ry="2.8" fill="#1a1a9a" opacity="0.85"/>
<ellipse cx="570.5" cy="76.7" rx="2.7" ry="2.9" fill="#1a1a9a" opacity="0.85"/>
<ellipse cx="569.4" cy="34.1" rx="3.1" ry="2.9" fill="#2828bc" opacity="0.85"/>
<ellipse cx="602.5" cy="80.9" rx="2.8" ry="2.8" fill="#2828bc" opacity="0.85"/>
<ellipse cx="563.6" cy="84.6" rx="3.5" ry="3.5" fill="#14147c" opacity="0.85"/>
<ellipse cx="603.7" cy="27.7" rx="2.8" ry="2.8" fill="#14147c" opacity="0.85"/>
<ellipse cx="608.3" cy="47" rx="3.6" ry="3" fill="#1a1a9a" opacity="0.85"/>
<ellipse cx="594.1" cy="19" rx="3.4" ry="3" fill="#14147c" opacity="0.85"/>
<ellipse cx="587.9" cy="27.6" rx="3.7" ry="3.3" fill="#2222b0" opacity="0.85"/>
<ellipse cx="598" cy="69" rx="3.1" ry="3" fill="#2828bc" opacity="0.85"/>
<ellipse cx="551.7" cy="55.3" rx="3.7" ry="3.4" fill="#14147c" opacity="0.85"/>
<ellipse cx="602.1" cy="29.5" rx="2.7" ry="2.8" fill="#2828bc" opacity="0.85"/>
<ellipse cx="595.9" cy="70.4" rx="3.7" ry="3" fill="#1a1a9a" opacity="0.85"/>
<ellipse cx="545.9" cy="35.7" rx="3.5" ry="3.3" fill="#14147c" opacity="0.85"/>
<ellipse cx="581.4" cy="58" rx="3.4" ry="3" fill="#1a1a9a" opacity="0.85"/>
<ellipse cx="558.3" cy="21.8" rx="2.8" ry="2.7" fill="#2222b0" opacity="0.85"/>
<ellipse cx="578.2" cy="84.6" rx="2.8" ry="2.4" fill="#2828bc" opacity="0.85"/>
<ellipse cx="574.2" cy="72.4" rx="2.8" ry="2.9" fill="#1a1a9a" opacity="0.85"/>
<ellipse cx="584.2" cy="30.5" rx="2.6" ry="2.9" fill="#1a1a9a" opacity="0.85"/>
<ellipse cx="555.6" cy="34" rx="3.7" ry="3.1" fill="#2828bc" opacity="0.85"/>
</g>
<g filter="url(#bl3)" opacity="0.7">
<ellipse cx="572" cy="36.3" rx="10" ry="8" fill="#2c9a38"/>
<ellipse cx="578" cy="58.3" rx="9" ry="10" fill="#2c9a38"/>
<ellipse cx="565" cy="53.3" rx="5" ry="5" fill="#2c9a38"/>
</g>
<g filter="url(#bl15)">
<ellipse cx="565.6" cy="60.8" rx="2" ry="2" fill="#34b044" opacity="0.8"/>
<ellipse cx="569.3" cy="61.7" rx="2.5" ry="2.3" fill="#34b044" opacity="0.8"/>
<ellipse cx="567.3" cy="37.7" rx="2.9" ry="3.2" fill="#2a9a3a" opacity="0.8"/>
<ellipse cx="580.1" cy="32.1" rx="3" ry="2.7" fill="#34b044" opacity="0.8"/>
<ellipse cx="585.8" cy="57.5" rx="1.8" ry="1.5" fill="#34b044" opacity="0.8"/>
<ellipse cx="589.4" cy="34.7" rx="1.7" ry="1.5" fill="#34b044" opacity="0.8"/>
<ellipse cx="587.7" cy="26.8" rx="1.8" ry="1.5" fill="#34b044" opacity="0.8"/>
<ellipse cx="559.1" cy="54.7" rx="2" ry="1.7" fill="#2a9a3a" opacity="0.8"/>
<ellipse cx="564.2" cy="62.1" rx="2.8" ry="2.9" fill="#2a9a3a" opacity="0.8"/>
<ellipse cx="563" cy="28.4" rx="2" ry="2.1" fill="#2a9a3a" opacity="0.8"/>
<ellipse cx="581" cy="65.3" rx="5" ry="4.5" fill="#4ccc4c"/>
</g>
<line x1="575.8" y1="83.4" x2="610.8" y2="83.4" stroke="#fff" stroke-width="1.3"/>
</svg>
<svg x="615.5" y="18.3" width="69.5" height="68.3" viewBox="615.5 18.3 69.5 68.3" overflow="hidden">
<rect x="615.5" y="18.3" width="69.5" height="68.3" fill="#4a1468"/>
<g filter="url(#bl15)">
<ellipse cx="625.8" cy="60.4" rx="2.8" ry="2.8" fill="#5a30a8" opacity="0.8"/>
<ellipse cx="642.2" cy="60.5" rx="3.3" ry="2.7" fill="#5a30a8" opacity="0.8"/>
<ellipse cx="666.6" cy="44.1" rx="2.8" ry="2.4" fill="#6a2898" opacity="0.8"/>
<ellipse cx="663.4" cy="59.9" rx="3.2" ry="3" fill="#5a30a8" opacity="0.8"/>
<ellipse cx="665.1" cy="54.2" rx="3.2" ry="3" fill="#7a2a90" opacity="0.8"/>
<ellipse cx="662.1" cy="35.1" rx="2.6" ry="2.4" fill="#5a30a8" opacity="0.8"/>
<ellipse cx="650.9" cy="69.4" rx="3.1" ry="2.9" fill="#5a30a8" opacity="0.8"/>
<ellipse cx="640.8" cy="23.2" rx="2.9" ry="2.5" fill="#5a30a8" opacity="0.8"/>
<ellipse cx="654.3" cy="48.4" rx="3.5" ry="3.7" fill="#3a2a98" opacity="0.8"/>
<ellipse cx="659.9" cy="50.4" rx="3.9" ry="3.7" fill="#5a30a8" opacity="0.8"/>
<ellipse cx="642.7" cy="69" rx="3.4" ry="3.7" fill="#5a30a8" opacity="0.8"/>
<ellipse cx="652.6" cy="84.8" rx="3.3" ry="3" fill="#7a2a90" opacity="0.8"/>
<ellipse cx="681.1" cy="30" rx="2.6" ry="2.8" fill="#7a2a90" opacity="0.8"/>
<ellipse cx="666" cy="46.7" rx="3.8" ry="3.3" fill="#3a2a98" opacity="0.8"/>
<ellipse cx="646.6" cy="63.6" rx="2.8" ry="2.6" fill="#5a30a8" opacity="0.8"/>
<ellipse cx="657.2" cy="54.6" rx="2.5" ry="2.2" fill="#3a2a98" opacity="0.8"/>
<ellipse cx="625.9" cy="26.4" rx="2.7" ry="2.5" fill="#3a2a98" opacity="0.8"/>
<ellipse cx="634" cy="48.7" rx="3.6" ry="3.4" fill="#3a2a98" opacity="0.8"/>
<ellipse cx="673.4" cy="64.7" rx="2.5" ry="2.2" fill="#7a2a90" opacity="0.8"/>
<ellipse cx="655.2" cy="32.4" rx="3.6" ry="3.2" fill="#5a30a8" opacity="0.8"/>
<ellipse cx="677.7" cy="67.1" rx="3.5" ry="3.6" fill="#7a2a90" opacity="0.8"/>
<ellipse cx="625.2" cy="35.7" rx="3.1" ry="2.7" fill="#7a2a90" opacity="0.8"/>
<ellipse cx="664.3" cy="81.2" rx="3.6" ry="3.9" fill="#6a2898" opacity="0.8"/>
<ellipse cx="648.5" cy="75.5" rx="2.9" ry="3" fill="#5a30a8" opacity="0.8"/>
<ellipse cx="675.7" cy="22.4" rx="2.8" ry="3" fill="#5a30a8" opacity="0.8"/>
<ellipse cx="624.9" cy="66.8" rx="3.1" ry="3.2" fill="#6a2898" opacity="0.8"/>
<ellipse cx="681.9" cy="41.6" rx="2.7" ry="2.9" fill="#7a2a90" opacity="0.8"/>
<ellipse cx="662.9" cy="72.5" rx="3.6" ry="3.1" fill="#3a2a98" opacity="0.8"/>
<ellipse cx="678.1" cy="28.6" rx="4" ry="4.4" fill="#5a30a8" opacity="0.8"/>
<ellipse cx="620.1" cy="70.1" rx="3.6" ry="4" fill="#6a2898" opacity="0.8"/>
<ellipse cx="633.4" cy="51.1" rx="3.4" ry="2.9" fill="#3a2a98" opacity="0.8"/>
<ellipse cx="634.5" cy="80" rx="3.8" ry="3.9" fill="#3a2a98" opacity="0.8"/>
<ellipse cx="654" cy="23.7" rx="3.5" ry="2.9" fill="#5a30a8" opacity="0.8"/>
<ellipse cx="679.4" cy="71.4" rx="3.6" ry="3.8" fill="#7a2a90" opacity="0.8"/>
<ellipse cx="631.3" cy="78.7" rx="2.7" ry="2.4" fill="#7a2a90" opacity="0.8"/>
<ellipse cx="634.6" cy="36.1" rx="3.2" ry="2.7" fill="#5a30a8" opacity="0.8"/>
<ellipse cx="642.8" cy="21.1" rx="3.5" ry="3.2" fill="#6a2898" opacity="0.8"/>
<ellipse cx="656.9" cy="70.9" rx="3.2" ry="2.7" fill="#7a2a90" opacity="0.8"/>
<ellipse cx="617.3" cy="26" rx="3.9" ry="3.5" fill="#6a2898" opacity="0.8"/>
<ellipse cx="619.4" cy="50.5" rx="3.8" ry="3.5" fill="#7a2a90" opacity="0.8"/>
<ellipse cx="629.2" cy="68.2" rx="4" ry="4.3" fill="#5a30a8" opacity="0.8"/>
<ellipse cx="633.2" cy="30.8" rx="2.9" ry="3.2" fill="#5a30a8" opacity="0.8"/>
<ellipse cx="674.2" cy="61.6" rx="2.9" ry="2.4" fill="#3a2a98" opacity="0.8"/>
<ellipse cx="635.6" cy="53.4" rx="2.8" ry="2.3" fill="#5a30a8" opacity="0.8"/>
<ellipse cx="653.3" cy="34.5" rx="3.4" ry="3" fill="#6a2898" opacity="0.8"/>
<ellipse cx="683.5" cy="84.7" rx="3.2" ry="3.4" fill="#5a30a8" opacity="0.8"/>
<ellipse cx="657.3" cy="66" rx="3.6" ry="3.4" fill="#6a2898" opacity="0.8"/>
<ellipse cx="671.7" cy="19.9" rx="3.8" ry="3.7" fill="#5a30a8" opacity="0.8"/>
<ellipse cx="638.7" cy="25" rx="3.1" ry="3.1" fill="#6a2898" opacity="0.8"/>
<ellipse cx="644.9" cy="68.9" rx="3.2" ry="2.8" fill="#6a2898" opacity="0.8"/>
<ellipse cx="677.6" cy="68.7" rx="2.9" ry="2.6" fill="#7a2a90" opacity="0.8"/>
<ellipse cx="650.9" cy="61.7" rx="3.6" ry="3.1" fill="#7a2a90" opacity="0.8"/>
<ellipse cx="632.2" cy="44.5" rx="3.3" ry="3.5" fill="#6a2898" opacity="0.8"/>
<ellipse cx="621.2" cy="54.4" rx="3.7" ry="3.8" fill="#6a2898" opacity="0.8"/>
<ellipse cx="680.2" cy="44.3" rx="3.1" ry="2.5" fill="#6a2898" opacity="0.8"/>
<ellipse cx="667" cy="42" rx="3.4" ry="3.3" fill="#c83aa0" opacity="0.9"/>
<ellipse cx="634.3" cy="63.6" rx="2.9" ry="3.1" fill="#c83aa0" opacity="0.9"/>
<ellipse cx="640.2" cy="29.1" rx="3.2" ry="2.9" fill="#e8308c" opacity="0.9"/>
<ellipse cx="642" cy="62.4" rx="3" ry="3.2" fill="#f040a0" opacity="0.9"/>
<ellipse cx="666.5" cy="85.2" rx="3" ry="2.7" fill="#f040a0" opacity="0.9"/>
<ellipse cx="647.6" cy="76" rx="3.3" ry="2.7" fill="#c83aa0" opacity="0.9"/>
<ellipse cx="628" cy="86.1" rx="3.7" ry="3.8" fill="#d02c9a" opacity="0.9"/>
<ellipse cx="671.4" cy="81.3" rx="2.8" ry="2.9" fill="#f040a0" opacity="0.9"/>
<ellipse cx="673.5" cy="53.9" rx="3" ry="2.9" fill="#d02c9a" opacity="0.9"/>
<ellipse cx="655.8" cy="71.5" rx="3.3" ry="3.5" fill="#d02c9a" opacity="0.9"/>
<ellipse cx="629.9" cy="64.1" rx="3.6" ry="3.3" fill="#d02c9a" opacity="0.9"/>
<ellipse cx="665.7" cy="65.9" rx="3" ry="2.7" fill="#e8308c" opacity="0.9"/>
<ellipse cx="667.7" cy="41.2" rx="2.9" ry="2.8" fill="#e8308c" opacity="0.9"/>
<ellipse cx="619.3" cy="83.4" rx="3.5" ry="3.4" fill="#c83aa0" opacity="0.9"/>
<ellipse cx="622.6" cy="40.9" rx="3.3" ry="2.8" fill="#c83aa0" opacity="0.9"/>
<ellipse cx="659.8" cy="38.8" rx="3.3" ry="2.9" fill="#d02c9a" opacity="0.9"/>
<ellipse cx="629.9" cy="38.1" rx="3.6" ry="3.3" fill="#c83aa0" opacity="0.9"/>
<ellipse cx="639.3" cy="62.2" rx="3.1" ry="3.3" fill="#c83aa0" opacity="0.9"/>
<ellipse cx="674.9" cy="79.3" rx="3.7" ry="4" fill="#f040a0" opacity="0.9"/>
<ellipse cx="663.9" cy="44.9" rx="2.9" ry="3.1" fill="#f040a0" opacity="0.9"/>
<ellipse cx="683.7" cy="51.7" rx="3.6" ry="3.9" fill="#e8308c" opacity="0.9"/>
<ellipse cx="623.4" cy="71.8" rx="3.7" ry="4.1" fill="#d02c9a" opacity="0.9"/>
<ellipse cx="677.3" cy="58.7" rx="3.6" ry="4" fill="#c83aa0" opacity="0.9"/>
<ellipse cx="668.8" cy="66.7" rx="3.3" ry="3.2" fill="#f040a0" opacity="0.9"/>
<ellipse cx="670.8" cy="71.6" rx="2.8" ry="3.1" fill="#f040a0" opacity="0.9"/>
<ellipse cx="624" cy="25.2" rx="3.7" ry="3.4" fill="#f040a0" opacity="0.9"/>
<ellipse cx="620.4" cy="51.2" rx="3.5" ry="3.7" fill="#d02c9a" opacity="0.9"/>
<ellipse cx="652.5" cy="28.7" rx="3.2" ry="3.2" fill="#f040a0" opacity="0.9"/>
<ellipse cx="658.6" cy="71.9" rx="3.1" ry="2.9" fill="#e8308c" opacity="0.9"/>
<ellipse cx="664.5" cy="52.6" rx="3.2" ry="2.8" fill="#d02c9a" opacity="0.9"/>
<ellipse cx="630.2" cy="20.6" rx="3.5" ry="2.9" fill="#d02c9a" opacity="0.9"/>
<ellipse cx="671.4" cy="34.2" rx="3.8" ry="3.2" fill="#c83aa0" opacity="0.9"/>
</g>
<line x1="647" y1="83.4" x2="682" y2="83.4" stroke="#fff" stroke-width="1.3"/>
</svg>
<svg x="474.1" y="89" width="69.2" height="68.8" viewBox="474.1 89 69.2 68.8" overflow="hidden">
<rect x="474.1" y="89" width="69.2" height="68.8" fill="#2a1406"/>
<g filter="url(#bl3)" opacity="0.75">
<ellipse cx="504.1" cy="124" rx="22" ry="20" fill="#3cc024"/>
<ellipse cx="486.1" cy="137" rx="9" ry="11" fill="#3cc024"/>
<ellipse cx="504.1" cy="149" rx="14" ry="7" fill="#3cc024"/>
<ellipse cx="519.1" cy="101" rx="12" ry="7" fill="#3cc024"/>
<ellipse cx="536.1" cy="111" rx="6" ry="9" fill="#3cc024"/>
</g>
<g filter="url(#bl1)">
<ellipse cx="479.7" cy="90.1" rx="2.9" ry="2.4" fill="#b83a20" opacity="0.85"/>
<ellipse cx="485.5" cy="90.5" rx="2.8" ry="2.8" fill="#8a1c10" opacity="0.85"/>
<ellipse cx="493.2" cy="89.6" rx="2.5" ry="2.1" fill="#c8281a" opacity="0.85"/>
<ellipse cx="498.2" cy="91.7" rx="2.8" ry="2.9" fill="#b83a20" opacity="0.85"/>
<ellipse cx="506.3" cy="91.2" rx="2.6" ry="2.8" fill="#a82014" opacity="0.85"/>
<ellipse cx="511.2" cy="91.6" rx="2.5" ry="2.3" fill="#7a1a0e" opacity="0.85"/>
<ellipse cx="517.8" cy="92.5" rx="2.5" ry="2.7" fill="#8a1c10" opacity="0.85"/>
<ellipse cx="524.6" cy="90.9" rx="2.9" ry="2.4" fill="#8a1c10" opacity="0.85"/>
<ellipse cx="531.8" cy="90.5" rx="3" ry="3.2" fill="#962a14" opacity="0.85"/>
<ellipse cx="538.4" cy="92.5" rx="2.4" ry="2.6" fill="#b83a20" opacity="0.85"/>
<ellipse cx="544.7" cy="89.6" rx="2.4" ry="2.2" fill="#b83a20" opacity="0.85"/>
<ellipse cx="478" cy="95.6" rx="2.7" ry="2.5" fill="#c8281a" opacity="0.85"/>
<ellipse cx="482.4" cy="96.2" rx="2.5" ry="2.2" fill="#a82014" opacity="0.85"/>
<ellipse cx="490.7" cy="97.4" rx="2.6" ry="2.4" fill="#8a1c10" opacity="0.85"/>
<ellipse cx="496" cy="95.5" rx="2.4" ry="2.1" fill="#962a14" opacity="0.85"/>
<ellipse cx="505.1" cy="96.4" rx="2.7" ry="2.9" fill="#a82014" opacity="0.85"/>
<ellipse cx="510.6" cy="97.5" rx="2.7" ry="2.7" fill="#962a14" opacity="0.85"/>
<ellipse cx="523" cy="97.3" rx="2.6" ry="2.1" fill="#c8281a" opacity="0.85"/>
<ellipse cx="530.8" cy="96.7" rx="2.6" ry="2.7" fill="#7a1a0e" opacity="0.85"/>
<ellipse cx="537.4" cy="97.7" rx="2.5" ry="2.3" fill="#d8301c" opacity="0.85"/>
<ellipse cx="544.2" cy="96.8" rx="2.3" ry="2.4" fill="#7a1a0e" opacity="0.85"/>
<ellipse cx="478.5" cy="103.4" rx="2.9" ry="2.8" fill="#7a1a0e" opacity="0.85"/>
<ellipse cx="482.8" cy="104.1" rx="2.8" ry="2.9" fill="#a82014" opacity="0.85"/>
<ellipse cx="491.1" cy="104" rx="2.7" ry="2.3" fill="#c8281a" opacity="0.85"/>
<ellipse cx="497.7" cy="103" rx="2.8" ry="2.7" fill="#a82014" opacity="0.85"/>
<ellipse cx="511.2" cy="103.6" rx="3" ry="3.1" fill="#d8301c" opacity="0.85"/>
<ellipse cx="518.4" cy="101.7" rx="2.5" ry="2.2" fill="#8a1c10" opacity="0.85"/>
<ellipse cx="522.6" cy="103.4" rx="2.7" ry="2.7" fill="#b83a20" opacity="0.85"/>
<ellipse cx="529.4" cy="102.4" rx="2.8" ry="2.5" fill="#962a14" opacity="0.85"/>
<ellipse cx="536.1" cy="104.2" rx="2.9" ry="2.7" fill="#7a1a0e" opacity="0.85"/>
<ellipse cx="543.3" cy="101.8" rx="2.8" ry="2.4" fill="#7a1a0e" opacity="0.85"/>
<ellipse cx="478.5" cy="108.4" rx="2.6" ry="2.2" fill="#c8281a" opacity="0.85"/>
<ellipse cx="486.3" cy="109.8" rx="3.1" ry="3.3" fill="#a82014" opacity="0.85"/>
<ellipse cx="491.6" cy="109.3" rx="2.6" ry="2.1" fill="#8a1c10" opacity="0.85"/>
<ellipse cx="500.2" cy="107.8" rx="2.5" ry="2.6" fill="#d8301c" opacity="0.85"/>
<ellipse cx="506.3" cy="109.4" rx="2.7" ry="2.7" fill="#c8281a" opacity="0.85"/>
<ellipse cx="510.9" cy="107.4" rx="2.7" ry="2.4" fill="#7a1a0e" opacity="0.85"/>
<ellipse cx="519" cy="108.4" rx="3" ry="3.3" fill="#c8281a" opacity="0.85"/>
<ellipse cx="524.4" cy="110" rx="2.4" ry="2.4" fill="#c8281a" opacity="0.85"/>
<ellipse cx="533.3" cy="107.9" rx="3" ry="2.6" fill="#d8301c" opacity="0.85"/>
<ellipse cx="539" cy="109.8" rx="3" ry="2.6" fill="#962a14" opacity="0.85"/>
<ellipse cx="544.7" cy="108" rx="2.7" ry="2.7" fill="#b83a20" opacity="0.85"/>
<ellipse cx="477" cy="115.8" rx="2.8" ry="2.7" fill="#c8281a" opacity="0.85"/>
<ellipse cx="482.6" cy="114.9" rx="2.5" ry="2.4" fill="#7a1a0e" opacity="0.85"/>
<ellipse cx="489.4" cy="115.6" rx="3" ry="3.1" fill="#962a14" opacity="0.85"/>
<ellipse cx="502.4" cy="113.6" rx="2.9" ry="2.7" fill="#b83a20" opacity="0.85"/>
<ellipse cx="510" cy="114.2" rx="2.9" ry="2.5" fill="#962a14" opacity="0.85"/>
<ellipse cx="515.6" cy="113.7" rx="2.6" ry="2.3" fill="#d8301c" opacity="0.85"/>
<ellipse cx="530.8" cy="114.6" rx="3" ry="2.6" fill="#c8281a" opacity="0.85"/>
<ellipse cx="541.9" cy="114" rx="3" ry="2.5" fill="#b83a20" opacity="0.85"/>
<ellipse cx="477.7" cy="121.8" rx="2.8" ry="2.3" fill="#8a1c10" opacity="0.85"/>
<ellipse cx="482.7" cy="120.5" rx="2.8" ry="2.5" fill="#962a14" opacity="0.85"/>
<ellipse cx="490.4" cy="119.9" rx="2.4" ry="2.5" fill="#d8301c" opacity="0.85"/>
<ellipse cx="498.2" cy="120.1" rx="2.9" ry="2.5" fill="#962a14" opacity="0.85"/>
<ellipse cx="505.2" cy="120.9" rx="2.4" ry="2.1" fill="#b83a20" opacity="0.85"/>
<ellipse cx="511.1" cy="121" rx="2.3" ry="2.4" fill="#962a14" opacity="0.85"/>
<ellipse cx="517.7" cy="122" rx="3" ry="2.5" fill="#7a1a0e" opacity="0.85"/>
<ellipse cx="524.9" cy="120.8" rx="2.7" ry="2.6" fill="#c8281a" opacity="0.85"/>
<ellipse cx="531.1" cy="119.9" rx="3.1" ry="3.3" fill="#c8281a" opacity="0.85"/>
<ellipse cx="536.1" cy="120.2" rx="2.3" ry="2" fill="#962a14" opacity="0.85"/>
<ellipse cx="544.7" cy="120.5" rx="2.7" ry="2.7" fill="#7a1a0e" opacity="0.85"/>
<ellipse cx="478" cy="125.3" rx="3.1" ry="3.3" fill="#962a14" opacity="0.85"/>
<ellipse cx="485.4" cy="126.3" rx="2.3" ry="2.4" fill="#a82014" opacity="0.85"/>
<ellipse cx="491.7" cy="127.9" rx="2.8" ry="2.5" fill="#7a1a0e" opacity="0.85"/>
<ellipse cx="497.7" cy="127.1" rx="2.4" ry="2.5" fill="#c8281a" opacity="0.85"/>
<ellipse cx="505.5" cy="127" rx="2.9" ry="2.6" fill="#962a14" opacity="0.85"/>
<ellipse cx="518.4" cy="127.7" rx="2.8" ry="3" fill="#a82014" opacity="0.85"/>
<ellipse cx="525.8" cy="126.7" rx="2.5" ry="2.6" fill="#962a14" opacity="0.85"/>
<ellipse cx="530.2" cy="125.7" rx="2.3" ry="2.6" fill="#c8281a" opacity="0.85"/>
<ellipse cx="537.3" cy="125.4" rx="2.3" ry="1.9" fill="#8a1c10" opacity="0.85"/>
<ellipse cx="543.4" cy="125.5" rx="3" ry="2.8" fill="#d8301c" opacity="0.85"/>
<ellipse cx="484.6" cy="131.1" rx="2.7" ry="2.9" fill="#962a14" opacity="0.85"/>
<ellipse cx="498.2" cy="133.2" rx="2.4" ry="2" fill="#b83a20" opacity="0.85"/>
<ellipse cx="505.1" cy="131.8" rx="2.4" ry="2.3" fill="#d8301c" opacity="0.85"/>
<ellipse cx="511.9" cy="134" rx="2.4" ry="2.2" fill="#d8301c" opacity="0.85"/>
<ellipse cx="517.3" cy="132.3" rx="2.9" ry="2.7" fill="#b83a20" opacity="0.85"/>
<ellipse cx="523.1" cy="133.7" rx="3" ry="3.1" fill="#8a1c10" opacity="0.85"/>
<ellipse cx="530.4" cy="133.7" rx="3" ry="2.6" fill="#b83a20" opacity="0.85"/>
<ellipse cx="536.8" cy="132.8" rx="2.6" ry="2.5" fill="#7a1a0e" opacity="0.85"/>
<ellipse cx="544.6" cy="131.6" rx="2.8" ry="2.7" fill="#a82014" opacity="0.85"/>
<ellipse cx="477.9" cy="137.4" rx="2.8" ry="2.9" fill="#962a14" opacity="0.85"/>
<ellipse cx="485.7" cy="137.9" rx="2.5" ry="2.7" fill="#c8281a" opacity="0.85"/>
<ellipse cx="493.1" cy="137.4" rx="3.1" ry="3.1" fill="#b83a20" opacity="0.85"/>
<ellipse cx="498.6" cy="137.5" rx="2.4" ry="2.5" fill="#a82014" opacity="0.85"/>
<ellipse cx="504.5" cy="138.4" rx="2.6" ry="2.5" fill="#8a1c10" opacity="0.85"/>
<ellipse cx="512.5" cy="137.5" rx="2.8" ry="3" fill="#c8281a" opacity="0.85"/>
<ellipse cx="525.2" cy="137.7" rx="2.8" ry="2.9" fill="#a82014" opacity="0.85"/>
<ellipse cx="531.3" cy="138.3" rx="2.5" ry="2.6" fill="#a82014" opacity="0.85"/>
<ellipse cx="539.6" cy="137.4" rx="2.4" ry="2.1" fill="#7a1a0e" opacity="0.85"/>
<ellipse cx="546" cy="137.8" rx="2.7" ry="2.2" fill="#b83a20" opacity="0.85"/>
<ellipse cx="475.5" cy="143.2" rx="2.8" ry="2.5" fill="#c8281a" opacity="0.85"/>
<ellipse cx="483.1" cy="143.3" rx="2.8" ry="2.4" fill="#7a1a0e" opacity="0.85"/>
<ellipse cx="490.3" cy="144.9" rx="2.9" ry="3.1" fill="#b83a20" opacity="0.85"/>
<ellipse cx="496.2" cy="145" rx="3.1" ry="3.2" fill="#b83a20" opacity="0.85"/>
<ellipse cx="504.3" cy="143.7" rx="2.8" ry="2.9" fill="#962a14" opacity="0.85"/>
<ellipse cx="510.1" cy="144.3" rx="3" ry="2.5" fill="#8a1c10" opacity="0.85"/>
<ellipse cx="515.8" cy="143" rx="2.6" ry="2.6" fill="#d8301c" opacity="0.85"/>
<ellipse cx="523" cy="143.2" rx="2.4" ry="2.4" fill="#d8301c" opacity="0.85"/>
<ellipse cx="529.9" cy="144.7" rx="2.5" ry="2.6" fill="#a82014" opacity="0.85"/>
<ellipse cx="543.6" cy="144.6" rx="2.9" ry="2.6" fill="#962a14" opacity="0.85"/>
<ellipse cx="476.3" cy="151.6" rx="2.4" ry="2.5" fill="#8a1c10" opacity="0.85"/>
<ellipse cx="484.1" cy="151.4" rx="2.9" ry="2.9" fill="#962a14" opacity="0.85"/>
<ellipse cx="490" cy="151.1" rx="2.9" ry="2.7" fill="#d8301c" opacity="0.85"/>
<ellipse cx="497" cy="150.7" rx="2.3" ry="2.2" fill="#8a1c10" opacity="0.85"/>
<ellipse cx="502.5" cy="150.9" rx="2.9" ry="2.9" fill="#7a1a0e" opacity="0.85"/>
<ellipse cx="514.5" cy="150.4" rx="2.3" ry="1.9" fill="#7a1a0e" opacity="0.85"/>
<ellipse cx="522" cy="150.3" rx="2.6" ry="2.1" fill="#7a1a0e" opacity="0.85"/>
<ellipse cx="527.7" cy="148.9" rx="2.5" ry="2.1" fill="#b83a20" opacity="0.85"/>
<ellipse cx="543.6" cy="149.4" rx="3.1" ry="3.3" fill="#c8281a" opacity="0.85"/>
<ellipse cx="475" cy="154.8" rx="2.4" ry="2.5" fill="#a82014" opacity="0.85"/>
<ellipse cx="482.9" cy="157.3" rx="2.9" ry="2.8" fill="#b83a20" opacity="0.85"/>
<ellipse cx="489.4" cy="157.3" rx="2.4" ry="2.3" fill="#d8301c" opacity="0.85"/>
<ellipse cx="495.6" cy="157.6" rx="2.5" ry="2.7" fill="#7a1a0e" opacity="0.85"/>
<ellipse cx="503" cy="156.7" rx="3" ry="2.7" fill="#a82014" opacity="0.85"/>
<ellipse cx="509.1" cy="155.7" rx="2.6" ry="2.3" fill="#b83a20" opacity="0.85"/>
<ellipse cx="516.5" cy="156.5" rx="2.4" ry="2" fill="#7a1a0e" opacity="0.85"/>
<ellipse cx="523.2" cy="157.7" rx="2.7" ry="2.3" fill="#b83a20" opacity="0.85"/>
<ellipse cx="527.8" cy="157.6" rx="3" ry="2.8" fill="#c8281a" opacity="0.85"/>
<ellipse cx="534" cy="157.7" rx="2.8" ry="2.2" fill="#7a1a0e" opacity="0.85"/>
<ellipse cx="498.7" cy="143.5" rx="1.3" ry="1.4" fill="#48c830" opacity="0.7"/>
<ellipse cx="514.9" cy="138.9" rx="1.5" ry="1.3" fill="#48c830" opacity="0.7"/>
<ellipse cx="489.5" cy="140.2" rx="2.1" ry="1.9" fill="#48c830" opacity="0.7"/>
<ellipse cx="506.1" cy="152.4" rx="1.3" ry="1.3" fill="#48c830" opacity="0.7"/>
<ellipse cx="503.4" cy="137.3" rx="1.9" ry="2.1" fill="#40b82c" opacity="0.7"/>
<ellipse cx="508.9" cy="99.9" rx="1.6" ry="1.7" fill="#40b82c" opacity="0.7"/>
<ellipse cx="503.8" cy="99" rx="1.6" ry="1.4" fill="#40b82c" opacity="0.7"/>
<ellipse cx="491.3" cy="104.9" rx="1.5" ry="1.5" fill="#48c830" opacity="0.7"/>
<ellipse cx="497.7" cy="139.4" rx="1.4" ry="1.1" fill="#40b82c" opacity="0.7"/>
<ellipse cx="508.4" cy="147.5" rx="1.8" ry="1.6" fill="#40b82c" opacity="0.7"/>
<ellipse cx="521.4" cy="116.2" rx="2.1" ry="2.2" fill="#48c830" opacity="0.7"/>
<ellipse cx="531.1" cy="146.6" rx="2.1" ry="2" fill="#40b82c" opacity="0.7"/>
<ellipse cx="494.3" cy="97.8" rx="2" ry="1.7" fill="#40b82c" opacity="0.7"/>
<ellipse cx="481.8" cy="150.6" rx="1.8" ry="1.7" fill="#40b82c" opacity="0.7"/>
</g>
<line x1="505.3" y1="154.6" x2="540.3" y2="154.6" stroke="#fff" stroke-width="1.3"/>
</svg>
<svg x="545" y="89" width="68.8" height="68.8" viewBox="545 89 68.8 68.8" overflow="hidden">
<rect x="545" y="89" width="68.8" height="68.8" fill="#0a0a40"/>
<g filter="url(#bl15)">
<ellipse cx="611" cy="149" rx="3.5" ry="3" fill="#14147c" opacity="0.85"/>
<ellipse cx="545.5" cy="97.6" rx="3.6" ry="3.8" fill="#1a1a9a" opacity="0.85"/>
<ellipse cx="606.6" cy="97.1" rx="3.4" ry="3" fill="#1a1a9a" opacity="0.85"/>
<ellipse cx="604.3" cy="129" rx="3.1" ry="2.8" fill="#2222b0" opacity="0.85"/>
<ellipse cx="588.2" cy="117.2" rx="3.2" ry="3" fill="#14147c" opacity="0.85"/>
<ellipse cx="611.1" cy="148.3" rx="2.6" ry="2.1" fill="#1a1a9a" opacity="0.85"/>
<ellipse cx="602" cy="106.4" rx="3.1" ry="3.3" fill="#14147c" opacity="0.85"/>
<ellipse cx="587.9" cy="126.3" rx="3.6" ry="3" fill="#2828bc" opacity="0.85"/>
<ellipse cx="600.4" cy="126.7" rx="3.4" ry="3.6" fill="#2222b0" opacity="0.85"/>
<ellipse cx="557.3" cy="125" rx="2.6" ry="2.4" fill="#2222b0" opacity="0.85"/>
<ellipse cx="576.8" cy="103.6" rx="3.1" ry="2.6" fill="#1a1a9a" opacity="0.85"/>
<ellipse cx="545.7" cy="145" rx="2.9" ry="2.4" fill="#2828bc" opacity="0.85"/>
<ellipse cx="588.4" cy="126.7" rx="3.2" ry="3.3" fill="#14147c" opacity="0.85"/>
<ellipse cx="546.8" cy="141.5" rx="2.6" ry="2.8" fill="#2828bc" opacity="0.85"/>
<ellipse cx="580.7" cy="124.9" rx="3.5" ry="3.4" fill="#1a1a9a" opacity="0.85"/>
<ellipse cx="562.5" cy="90.6" rx="3.5" ry="3.8" fill="#1a1a9a" opacity="0.85"/>
<ellipse cx="551.4" cy="128.8" rx="3.3" ry="3.5" fill="#14147c" opacity="0.85"/>
<ellipse cx="552" cy="144" rx="2.8" ry="2.3" fill="#1a1a9a" opacity="0.85"/>
<ellipse cx="573.7" cy="145.5" rx="3.8" ry="3.5" fill="#2222b0" opacity="0.85"/>
<ellipse cx="561.5" cy="101.8" rx="3.6" ry="3.8" fill="#1a1a9a" opacity="0.85"/>
<ellipse cx="595.5" cy="132" rx="3.1" ry="3.1" fill="#2222b0" opacity="0.85"/>
<ellipse cx="578" cy="137.8" rx="2.6" ry="2.8" fill="#14147c" opacity="0.85"/>
<ellipse cx="583.7" cy="116.2" rx="3.3" ry="3.5" fill="#2828bc" opacity="0.85"/>
<ellipse cx="548.9" cy="142.7" rx="3.7" ry="3.7" fill="#2828bc" opacity="0.85"/>
<ellipse cx="564" cy="150.8" rx="2.8" ry="2.5" fill="#2222b0" opacity="0.85"/>
<ellipse cx="576.6" cy="89.8" rx="3.3" ry="3" fill="#1a1a9a" opacity="0.85"/>
<ellipse cx="563" cy="125.3" rx="3.1" ry="3.2" fill="#2222b0" opacity="0.85"/>
<ellipse cx="556.5" cy="143.9" rx="3" ry="3" fill="#14147c" opacity="0.85"/>
<ellipse cx="545.8" cy="119.1" rx="2.7" ry="2.9" fill="#2828bc" opacity="0.85"/>
<ellipse cx="552.5" cy="105.6" rx="3.4" ry="3.6" fill="#14147c" opacity="0.85"/>
<ellipse cx="551.5" cy="111.2" rx="3" ry="2.8" fill="#2828bc" opacity="0.85"/>
<ellipse cx="594.2" cy="123.4" rx="3.6" ry="3.1" fill="#2222b0" opacity="0.85"/>
<ellipse cx="555.4" cy="114.6" rx="2.7" ry="2.4" fill="#2828bc" opacity="0.85"/>
<ellipse cx="565.9" cy="150.5" rx="2.9" ry="2.5" fill="#2222b0" opacity="0.85"/>
<ellipse cx="604.9" cy="95.9" rx="3.2" ry="2.9" fill="#2222b0" opacity="0.85"/>
<ellipse cx="554.8" cy="139.6" rx="3.6" ry="3.2" fill="#2222b0" opacity="0.85"/>
<ellipse cx="594.2" cy="89.1" rx="2.9" ry="2.9" fill="#2222b0" opacity="0.85"/>
<ellipse cx="559.5" cy="127.2" rx="3.7" ry="3.1" fill="#14147c" opacity="0.85"/>
<ellipse cx="613.1" cy="126.5" rx="2.6" ry="2.4" fill="#2222b0" opacity="0.85"/>
<ellipse cx="551.2" cy="114.5" rx="2.9" ry="2.9" fill="#2222b0" opacity="0.85"/>
<ellipse cx="580.7" cy="156.5" rx="2.7" ry="2.6" fill="#14147c" opacity="0.85"/>
<ellipse cx="608.9" cy="121.4" rx="3.1" ry="3.3" fill="#2828bc" opacity="0.85"/>
<ellipse cx="593.3" cy="133" rx="3.5" ry="3.5" fill="#1a1a9a" opacity="0.85"/>
<ellipse cx="572.4" cy="135.2" rx="3.2" ry="3.2" fill="#2222b0" opacity="0.85"/>
<ellipse cx="571.8" cy="154.7" rx="3.6" ry="3.8" fill="#2222b0" opacity="0.85"/>
<ellipse cx="587.7" cy="110" rx="3.2" ry="3.1" fill="#2222b0" opacity="0.85"/>
<ellipse cx="610" cy="128.6" rx="3.5" ry="3.6" fill="#1a1a9a" opacity="0.85"/>
<ellipse cx="564" cy="123.2" rx="3.7" ry="3.3" fill="#2828bc" opacity="0.85"/>
<ellipse cx="585.3" cy="141.8" rx="3" ry="2.9" fill="#14147c" opacity="0.85"/>
<ellipse cx="569.4" cy="105.6" rx="3.6" ry="2.9" fill="#1a1a9a" opacity="0.85"/>
<ellipse cx="576" cy="95.2" rx="3.1" ry="3.4" fill="#1a1a9a" opacity="0.85"/>
<ellipse cx="551.7" cy="153.9" rx="3.3" ry="2.8" fill="#14147c" opacity="0.85"/>
<ellipse cx="593" cy="151.2" rx="2.9" ry="2.8" fill="#2222b0" opacity="0.85"/>
<ellipse cx="548.1" cy="101.6" rx="3.3" ry="3.2" fill="#2222b0" opacity="0.85"/>
<ellipse cx="599.7" cy="136.4" rx="2.7" ry="3" fill="#1a1a9a" opacity="0.85"/>
<ellipse cx="557.8" cy="155.4" rx="3.4" ry="3.2" fill="#2828bc" opacity="0.85"/>
<ellipse cx="612.3" cy="91.8" rx="3.7" ry="3.6" fill="#2222b0" opacity="0.85"/>
<ellipse cx="601.6" cy="127.1" rx="2.8" ry="2.9" fill="#1a1a9a" opacity="0.85"/>
<ellipse cx="584.7" cy="104.5" rx="3.2" ry="3.5" fill="#2222b0" opacity="0.85"/>
<ellipse cx="605" cy="112.8" rx="2.8" ry="2.8" fill="#2222b0" opacity="0.85"/>
<ellipse cx="603.4" cy="105.2" rx="2.9" ry="2.7" fill="#2828bc" opacity="0.85"/>
<ellipse cx="593.6" cy="115.8" rx="2.7" ry="2.7" fill="#2222b0" opacity="0.85"/>
<ellipse cx="611" cy="137.3" rx="2.7" ry="2.3" fill="#14147c" opacity="0.85"/>
<ellipse cx="578.2" cy="91.8" rx="3.1" ry="3.1" fill="#14147c" opacity="0.85"/>
<ellipse cx="584.5" cy="108.5" rx="3.6" ry="3.3" fill="#1a1a9a" opacity="0.85"/>
<ellipse cx="583" cy="155.9" rx="3.1" ry="2.6" fill="#14147c" opacity="0.85"/>
<ellipse cx="547.7" cy="94.8" rx="3" ry="2.7" fill="#1a1a9a" opacity="0.85"/>
<ellipse cx="586.7" cy="126.6" rx="3.2" ry="3" fill="#14147c" opacity="0.85"/>
<ellipse cx="569.2" cy="120.8" rx="2.6" ry="2.7" fill="#2222b0" opacity="0.85"/>
<ellipse cx="546.6" cy="152" rx="3.2" ry="3.5" fill="#1a1a9a" opacity="0.85"/>
</g>
<g filter="url(#bl3)" opacity="0.85">
<ellipse cx="570" cy="107" rx="10" ry="14" fill="#34b040"/>
<ellipse cx="567" cy="124" rx="8" ry="6" fill="#34b040"/>
</g>
<g filter="url(#bl15)">
<ellipse cx="568.7" cy="105.7" rx="1.5" ry="1.3" fill="#5ad050" opacity="0.85"/>
<ellipse cx="578.1" cy="111.8" rx="3.1" ry="2.9" fill="#30a838" opacity="0.85"/>
<ellipse cx="571" cy="109.8" rx="1.6" ry="1.6" fill="#30a838" opacity="0.85"/>
<ellipse cx="583.6" cy="118.4" rx="1.6" ry="1.6" fill="#5ad050" opacity="0.85"/>
<ellipse cx="582.1" cy="94.9" rx="1.9" ry="1.7" fill="#40c040" opacity="0.85"/>
<ellipse cx="572.7" cy="103.8" rx="1.7" ry="1.8" fill="#5ad050" opacity="0.85"/>
<ellipse cx="560.7" cy="120" rx="2.7" ry="2.9" fill="#30a838" opacity="0.85"/>
<ellipse cx="579.4" cy="115.3" rx="2.2" ry="2.2" fill="#5ad050" opacity="0.85"/>
<ellipse cx="565.6" cy="116.6" rx="2.5" ry="2.3" fill="#30a838" opacity="0.85"/>
<ellipse cx="565.6" cy="120.3" rx="3.2" ry="3.1" fill="#5ad050" opacity="0.85"/>
<ellipse cx="561.7" cy="118.7" rx="3.1" ry="2.8" fill="#30a838" opacity="0.85"/>
<ellipse cx="579.7" cy="107.6" rx="1.5" ry="1.4" fill="#40c040" opacity="0.85"/>
<ellipse cx="567.5" cy="107" rx="2.7" ry="2.7" fill="#30a838" opacity="0.85"/>
<ellipse cx="571.5" cy="110.7" rx="2.3" ry="2.3" fill="#40c040" opacity="0.85"/>
<ellipse cx="556.6" cy="130.9" rx="0.5" ry="0.5" fill="#c02040" opacity="0.8"/>
<ellipse cx="572.8" cy="135.3" rx="0.6" ry="0.5" fill="#c02040" opacity="0.8"/>
<ellipse cx="568.5" cy="130" rx="0.6" ry="0.7" fill="#c02040" opacity="0.8"/>
<ellipse cx="577.9" cy="130.5" rx="0.5" ry="0.5" fill="#c02040" opacity="0.8"/>
<ellipse cx="583.7" cy="122.2" rx="0.6" ry="0.6" fill="#d02848" opacity="0.8"/>
<ellipse cx="547.1" cy="121.1" rx="0.6" ry="0.6" fill="#a01830" opacity="0.8"/>
<ellipse cx="572.7" cy="136.4" rx="0.7" ry="0.6" fill="#d02848" opacity="0.8"/>
<ellipse cx="583.6" cy="135.3" rx="0.6" ry="0.5" fill="#d02848" opacity="0.8"/>
<ellipse cx="574.6" cy="150.4" rx="0.8" ry="0.7" fill="#a01830" opacity="0.8"/>
<ellipse cx="566.9" cy="152.8" rx="0.7" ry="0.6" fill="#c02040" opacity="0.8"/>
<ellipse cx="569.2" cy="151.8" rx="0.6" ry="0.6" fill="#d02848" opacity="0.8"/>
<ellipse cx="547.6" cy="153.5" rx="0.9" ry="0.7" fill="#c02040" opacity="0.8"/>
<ellipse cx="571.3" cy="147.3" rx="0.8" ry="0.7" fill="#a01830" opacity="0.8"/>
<ellipse cx="553.4" cy="125" rx="0.7" ry="0.8" fill="#c02040" opacity="0.8"/>
<ellipse cx="583.4" cy="134.3" rx="0.9" ry="0.9" fill="#a01830" opacity="0.8"/>
<ellipse cx="565.6" cy="137.2" rx="0.7" ry="0.7" fill="#a01830" opacity="0.8"/>
<ellipse cx="576.1" cy="125.8" rx="0.8" ry="0.7" fill="#d02848" opacity="0.8"/>
<ellipse cx="573.4" cy="128.4" rx="0.8" ry="0.8" fill="#a01830" opacity="0.8"/>
<ellipse cx="574.3" cy="142.2" rx="0.8" ry="0.8" fill="#a01830" opacity="0.8"/>
<ellipse cx="575.3" cy="137.8" rx="0.8" ry="0.7" fill="#d02848" opacity="0.8"/>
<ellipse cx="560.9" cy="145" rx="0.6" ry="0.5" fill="#a01830" opacity="0.8"/>
<ellipse cx="551.5" cy="149.1" rx="0.7" ry="0.7" fill="#d02848" opacity="0.8"/>
<ellipse cx="555.3" cy="128.1" rx="0.7" ry="0.6" fill="#d02848" opacity="0.8"/>
<ellipse cx="573.4" cy="153.2" rx="0.7" ry="0.8" fill="#c02040" opacity="0.8"/>
<ellipse cx="568.3" cy="147.8" rx="0.7" ry="0.7" fill="#c02040" opacity="0.8"/>
<ellipse cx="547.9" cy="149" rx="0.8" ry="0.7" fill="#d02848" opacity="0.8"/>
<ellipse cx="581.7" cy="129.9" rx="0.6" ry="0.6" fill="#a01830" opacity="0.8"/>
<ellipse cx="574.2" cy="122.4" rx="0.9" ry="0.8" fill="#c02040" opacity="0.8"/>
<ellipse cx="582.1" cy="142" rx="0.6" ry="0.5" fill="#a01830" opacity="0.8"/>
<ellipse cx="561.4" cy="142" rx="0.9" ry="0.8" fill="#a01830" opacity="0.8"/>
<ellipse cx="582.4" cy="140.9" rx="0.7" ry="0.7" fill="#d02848" opacity="0.8"/>
<ellipse cx="558.7" cy="140.7" rx="0.7" ry="0.8" fill="#a01830" opacity="0.8"/>
<ellipse cx="550.1" cy="121.8" rx="0.7" ry="0.6" fill="#c02040" opacity="0.8"/>
<ellipse cx="566.1" cy="117.3" rx="0.8" ry="0.8" fill="#a01830" opacity="0.8"/>
<ellipse cx="564.8" cy="145" rx="0.7" ry="0.6" fill="#a01830" opacity="0.8"/>
<ellipse cx="551.2" cy="154.5" rx="0.8" ry="0.8" fill="#d02848" opacity="0.8"/>
<ellipse cx="575.3" cy="122.7" rx="0.7" ry="0.6" fill="#a01830" opacity="0.8"/>
<ellipse cx="561.7" cy="153.1" rx="0.5" ry="0.4" fill="#a01830" opacity="0.8"/>
<ellipse cx="558.3" cy="151.3" rx="0.7" ry="0.5" fill="#a01830" opacity="0.8"/>
<ellipse cx="558.1" cy="120" rx="0.7" ry="0.6" fill="#d02848" opacity="0.8"/>
<ellipse cx="563.1" cy="143.8" rx="0.7" ry="0.6" fill="#a01830" opacity="0.8"/>
<ellipse cx="551.6" cy="121.7" rx="0.7" ry="0.6" fill="#a01830" opacity="0.8"/>
<ellipse cx="579.5" cy="117" rx="0.7" ry="0.7" fill="#d02848" opacity="0.8"/>
<ellipse cx="575.3" cy="151.8" rx="0.7" ry="0.6" fill="#d02848" opacity="0.8"/>
<ellipse cx="567.9" cy="125.9" rx="0.6" ry="0.7" fill="#a01830" opacity="0.8"/>
<ellipse cx="571.3" cy="152.9" rx="0.8" ry="0.7" fill="#c02040" opacity="0.8"/>
<ellipse cx="576.5" cy="154.3" rx="0.7" ry="0.6" fill="#a01830" opacity="0.8"/>
<ellipse cx="576.9" cy="119.4" rx="0.5" ry="0.6" fill="#c02040" opacity="0.8"/>
<ellipse cx="552.9" cy="144.7" rx="0.6" ry="0.6" fill="#c02040" opacity="0.8"/>
<ellipse cx="578.4" cy="145.8" rx="0.6" ry="0.6" fill="#a01830" opacity="0.8"/>
<ellipse cx="583.3" cy="152.5" rx="0.6" ry="0.6" fill="#d02848" opacity="0.8"/>
<ellipse cx="558" cy="132.8" rx="0.7" ry="0.8" fill="#a01830" opacity="0.8"/>
<ellipse cx="576" cy="128.5" rx="0.7" ry="0.6" fill="#d02848" opacity="0.8"/>
<ellipse cx="564.5" cy="154.8" rx="0.6" ry="0.6" fill="#d02848" opacity="0.8"/>
<ellipse cx="577.5" cy="143.9" rx="0.6" ry="0.6" fill="#d02848" opacity="0.8"/>
<ellipse cx="549.6" cy="140" rx="0.5" ry="0.5" fill="#d02848" opacity="0.8"/>
<ellipse cx="574.2" cy="142.1" rx="0.8" ry="0.8" fill="#a01830" opacity="0.8"/>
<ellipse cx="567.5" cy="119.4" rx="0.7" ry="0.6" fill="#a01830" opacity="0.8"/>
<ellipse cx="574.5" cy="153.1" rx="0.7" ry="0.6" fill="#c02040" opacity="0.8"/>
<ellipse cx="565.8" cy="124.9" rx="0.9" ry="0.7" fill="#d02848" opacity="0.8"/>
<ellipse cx="572" cy="153.8" rx="0.7" ry="0.6" fill="#c02040" opacity="0.8"/>
<ellipse cx="581.6" cy="152.5" rx="0.7" ry="0.6" fill="#d02848" opacity="0.8"/>
<ellipse cx="575.3" cy="130.2" rx="0.6" ry="0.6" fill="#a01830" opacity="0.8"/>
<ellipse cx="580" cy="155" rx="0.8" ry="0.8" fill="#d02848" opacity="0.8"/>
<ellipse cx="568.8" cy="130.3" rx="0.5" ry="0.5" fill="#a01830" opacity="0.8"/>
<ellipse cx="559.9" cy="138.4" rx="0.5" ry="0.4" fill="#c02040" opacity="0.8"/>
<ellipse cx="553.4" cy="124.6" rx="0.8" ry="0.7" fill="#d02848" opacity="0.8"/>
<ellipse cx="580.8" cy="137.5" rx="0.6" ry="0.5" fill="#c02040" opacity="0.8"/>
<ellipse cx="555.4" cy="134.2" rx="0.8" ry="0.8" fill="#a01830" opacity="0.8"/>
<ellipse cx="566.3" cy="151.2" rx="0.6" ry="0.6" fill="#d02848" opacity="0.8"/>
</g>
<line x1="575.8" y1="154.6" x2="610.8" y2="154.6" stroke="#fff" stroke-width="1.3"/>
</svg>
<svg x="615.5" y="89" width="69.5" height="68.8" viewBox="615.5 89 69.5 68.8" overflow="hidden">
<rect x="615.5" y="89" width="69.5" height="68.8" fill="#07031a"/>
<g filter="url(#bl15)">
<ellipse cx="676.5" cy="113" rx="3.7" ry="4" fill="#3a30c0" opacity="0.85"/>
<ellipse cx="651.9" cy="128.2" rx="2.9" ry="3.1" fill="#2a2ab0" opacity="0.85"/>
<ellipse cx="667.7" cy="99.2" rx="3.5" ry="3.2" fill="#2a2ab0" opacity="0.85"/>
<ellipse cx="674.4" cy="131.4" rx="3.7" ry="3.6" fill="#4828a0" opacity="0.85"/>
<ellipse cx="631.3" cy="157" rx="3.4" ry="3.7" fill="#4828a0" opacity="0.85"/>
<ellipse cx="679.3" cy="93.2" rx="3" ry="3.1" fill="#2a2ab0" opacity="0.85"/>
<ellipse cx="640.4" cy="138.9" rx="3.5" ry="3" fill="#4828a0" opacity="0.85"/>
<ellipse cx="680.3" cy="154.8" rx="3.8" ry="3.7" fill="#4828a0" opacity="0.85"/>
<ellipse cx="659" cy="145.8" rx="3.3" ry="3.2" fill="#4828a0" opacity="0.85"/>
<ellipse cx="664.1" cy="97.5" rx="3.1" ry="2.8" fill="#3a30c0" opacity="0.85"/>
<ellipse cx="654.8" cy="152.4" rx="3.3" ry="3.5" fill="#3a30c0" opacity="0.85"/>
<ellipse cx="675.8" cy="155.6" rx="3.4" ry="2.7" fill="#2a2ab0" opacity="0.85"/>
<ellipse cx="629.6" cy="130.9" rx="2.8" ry="2.9" fill="#3a30c0" opacity="0.85"/>
<ellipse cx="646.9" cy="129.2" rx="3.8" ry="3.8" fill="#2a2ab0" opacity="0.85"/>
<ellipse cx="663.9" cy="94.3" rx="3.4" ry="3" fill="#4828a0" opacity="0.85"/>
<ellipse cx="632.3" cy="152.5" rx="3.1" ry="2.6" fill="#2a2ab0" opacity="0.85"/>
<ellipse cx="679.4" cy="122.9" rx="2.8" ry="2.9" fill="#3a30c0" opacity="0.85"/>
<ellipse cx="621.6" cy="141.4" rx="2.9" ry="2.5" fill="#2a2ab0" opacity="0.85"/>
<ellipse cx="675.4" cy="101.8" rx="4" ry="3.8" fill="#4828a0" opacity="0.85"/>
<ellipse cx="673.2" cy="108.1" rx="2.7" ry="2.8" fill="#4828a0" opacity="0.85"/>
<ellipse cx="652.7" cy="121.4" rx="2.5" ry="2.1" fill="#4828a0" opacity="0.85"/>
<ellipse cx="625.5" cy="103.5" rx="3.5" ry="3.5" fill="#3a30c0" opacity="0.85"/>
<ellipse cx="674.5" cy="147.9" rx="3.6" ry="3.6" fill="#3a30c0" opacity="0.85"/>
<ellipse cx="639.7" cy="90" rx="3" ry="2.7" fill="#4828a0" opacity="0.85"/>
<ellipse cx="671.8" cy="105" rx="3.3" ry="2.7" fill="#d02c9a" opacity="0.95"/>
<ellipse cx="620.1" cy="134.4" rx="3.2" ry="3.5" fill="#f04098" opacity="0.95"/>
<ellipse cx="617.8" cy="95.1" rx="3.7" ry="3.1" fill="#d02c9a" opacity="0.95"/>
<ellipse cx="668.4" cy="135.5" rx="3.4" ry="3.4" fill="#e83090" opacity="0.95"/>
<ellipse cx="648.5" cy="90.8" rx="3.8" ry="3.4" fill="#d02c9a" opacity="0.95"/>
<ellipse cx="666.1" cy="101.8" rx="3.2" ry="3.3" fill="#d02c9a" opacity="0.95"/>
<ellipse cx="630.1" cy="149.5" rx="3.7" ry="3.7" fill="#e83090" opacity="0.95"/>
<ellipse cx="653.4" cy="155.9" rx="3.8" ry="4" fill="#f04098" opacity="0.95"/>
<ellipse cx="620.8" cy="115.1" rx="3.9" ry="4.2" fill="#f04098" opacity="0.95"/>
<ellipse cx="670.9" cy="131.3" rx="3.7" ry="3.7" fill="#f04098" opacity="0.95"/>
<ellipse cx="654.7" cy="95.6" rx="3.7" ry="3.8" fill="#e83090" opacity="0.95"/>
<ellipse cx="680.6" cy="126.3" rx="3.6" ry="2.9" fill="#e83090" opacity="0.95"/>
<ellipse cx="648.7" cy="118.2" rx="4" ry="3.5" fill="#d02c9a" opacity="0.95"/>
<ellipse cx="637.6" cy="123" rx="3.2" ry="3.2" fill="#f04098" opacity="0.95"/>
<ellipse cx="633.8" cy="103.3" rx="3.4" ry="3" fill="#d02c9a" opacity="0.95"/>
<ellipse cx="630" cy="121.5" rx="4" ry="3.7" fill="#d02c9a" opacity="0.95"/>
<ellipse cx="673.6" cy="125.1" rx="3.9" ry="3.2" fill="#f04098" opacity="0.95"/>
<circle cx="633.5" cy="146" r="3.5" fill="none" stroke="#30c040" stroke-width="1.4"/>
<circle cx="660.5" cy="144" r="4" fill="#203080" stroke="#40d040" stroke-width="1.6"/>
</g>
<line x1="647" y1="154.6" x2="682" y2="154.6" stroke="#fff" stroke-width="1.3"/>
</svg>
<text x="508.7" y="16.2" font-size="10" text-anchor="middle"><tspan fill="#1aaa4a">C-PEP</tspan><tspan fill="#000">/</tspan><tspan fill="#ec2227">NKX6-1</tspan></text>
<text x="582.6" y="16.2" font-size="10.2" text-anchor="middle" textLength="60" lengthAdjust="spacing"><tspan fill="#1aaa4a">C-PEP</tspan><tspan fill="#000">/</tspan><tspan fill="#ec2227">FGB</tspan></text>
<text x="650.6" y="16.2" font-size="10" text-anchor="middle"><tspan fill="#1aaa4a">AFP</tspan><tspan fill="#000">/</tspan><tspan fill="#ec2227">PDX1</tspan></text>
<text x="456.3" y="16.4" font-size="23">B</text>
<text x="472.7" y="53.7" font-size="10.5" text-anchor="middle" fill="#222" transform="rotate(-90 472.7 53.7)">WT</text>
<text x="473.5" y="125" font-size="10.5" text-anchor="middle" fill="#222" transform="rotate(-90 473.5 125)">KO</text>
<text x="459.2" y="180.4" font-size="23">C</text>
<circle cx="514.1" cy="210.9" r="1.9" fill="#f28a1e" stroke="#2a2a2a" stroke-width="0.5"/>
<circle cx="515.6" cy="224" r="1.9" fill="#f28a1e" stroke="#2a2a2a" stroke-width="0.5"/>
<circle cx="514.5" cy="225.8" r="1.9" fill="#f28a1e" stroke="#2a2a2a" stroke-width="0.5"/>
<circle cx="514.2" cy="227.7" r="1.9" fill="#f28a1e" stroke="#2a2a2a" stroke-width="0.5"/>
<circle cx="514.4" cy="229.6" r="1.9" fill="#f28a1e" stroke="#2a2a2a" stroke-width="0.5"/>
<circle cx="515.3" cy="231.4" r="1.9" fill="#f28a1e" stroke="#2a2a2a" stroke-width="0.5"/>
<circle cx="512.9" cy="233.3" r="1.9" fill="#f28a1e" stroke="#2a2a2a" stroke-width="0.5"/>
<circle cx="512.9" cy="234.2" r="1.9" fill="#f28a1e" stroke="#2a2a2a" stroke-width="0.5"/>
<circle cx="515.2" cy="235.2" r="1.9" fill="#f28a1e" stroke="#2a2a2a" stroke-width="0.5"/>
<circle cx="514.2" cy="237" r="1.9" fill="#f28a1e" stroke="#2a2a2a" stroke-width="0.5"/>
<circle cx="513.2" cy="238.9" r="1.9" fill="#f28a1e" stroke="#2a2a2a" stroke-width="0.5"/>
<circle cx="512.9" cy="240.7" r="1.9" fill="#f28a1e" stroke="#2a2a2a" stroke-width="0.5"/>
<circle cx="513.8" cy="243.5" r="1.9" fill="#f28a1e" stroke="#2a2a2a" stroke-width="0.5"/>
<line x1="510.4" y1="231.7" x2="517.6" y2="231.7" stroke="#111" stroke-width="1.1"/>
<line x1="514" y1="235" x2="514" y2="228.4" stroke="#111" stroke-width="0.8"/>
<line x1="512.5" y1="228.4" x2="515.5" y2="228.4" stroke="#111" stroke-width="0.8"/>
<line x1="512.5" y1="235" x2="515.5" y2="235" stroke="#111" stroke-width="0.8"/>
<circle cx="525.8" cy="193.2" r="1.9" fill="#5aa2ee" stroke="#2a2a2a" stroke-width="0.5"/>
<circle cx="523.8" cy="202.5" r="1.9" fill="#5aa2ee" stroke="#2a2a2a" stroke-width="0.5"/>
<circle cx="523.9" cy="217.4" r="1.9" fill="#5aa2ee" stroke="#2a2a2a" stroke-width="0.5"/>
<circle cx="526.6" cy="218.4" r="1.9" fill="#5aa2ee" stroke="#2a2a2a" stroke-width="0.5"/>
<circle cx="524.5" cy="220.2" r="1.9" fill="#5aa2ee" stroke="#2a2a2a" stroke-width="0.5"/>
<circle cx="526" cy="223" r="1.9" fill="#5aa2ee" stroke="#2a2a2a" stroke-width="0.5"/>
<circle cx="526.5" cy="225.8" r="1.9" fill="#5aa2ee" stroke="#2a2a2a" stroke-width="0.5"/>
<circle cx="525" cy="227.7" r="1.9" fill="#5aa2ee" stroke="#2a2a2a" stroke-width="0.5"/>
<circle cx="524.4" cy="229.6" r="1.9" fill="#5aa2ee" stroke="#2a2a2a" stroke-width="0.5"/>
<circle cx="524" cy="231.4" r="1.9" fill="#5aa2ee" stroke="#2a2a2a" stroke-width="0.5"/>
<circle cx="523.4" cy="233.3" r="1.9" fill="#5aa2ee" stroke="#2a2a2a" stroke-width="0.5"/>
<circle cx="525.6" cy="236.1" r="1.9" fill="#5aa2ee" stroke="#2a2a2a" stroke-width="0.5"/>
<circle cx="524" cy="238.9" r="1.9" fill="#5aa2ee" stroke="#2a2a2a" stroke-width="0.5"/>
<circle cx="525.4" cy="241.7" r="1.9" fill="#5aa2ee" stroke="#2a2a2a" stroke-width="0.5"/>
<circle cx="524" cy="243.5" r="1.9" fill="#5aa2ee" stroke="#2a2a2a" stroke-width="0.5"/>
<circle cx="525.2" cy="260.3" r="1.9" fill="#5aa2ee" stroke="#2a2a2a" stroke-width="0.5"/>
<line x1="521.4" y1="227.7" x2="528.6" y2="227.7" stroke="#111" stroke-width="1.1"/>
<line x1="525" y1="233.3" x2="525" y2="222.1" stroke="#111" stroke-width="0.8"/>
<line x1="523.5" y1="222.1" x2="526.5" y2="222.1" stroke="#111" stroke-width="0.8"/>
<line x1="523.5" y1="233.3" x2="526.5" y2="233.3" stroke="#111" stroke-width="0.8"/>
<circle cx="538.3" cy="232.4" r="1.9" fill="#5aa2ee" stroke="#2a2a2a" stroke-width="0.5"/>
<circle cx="538.2" cy="243.5" r="1.9" fill="#5aa2ee" stroke="#2a2a2a" stroke-width="0.5"/>
<circle cx="538.6" cy="245.4" r="1.9" fill="#5aa2ee" stroke="#2a2a2a" stroke-width="0.5"/>
<circle cx="538.1" cy="246.3" r="1.9" fill="#5aa2ee" stroke="#2a2a2a" stroke-width="0.5"/>
<circle cx="538.9" cy="248.2" r="1.9" fill="#5aa2ee" stroke="#2a2a2a" stroke-width="0.5"/>
<circle cx="539.8" cy="251" r="1.9" fill="#5aa2ee" stroke="#2a2a2a" stroke-width="0.5"/>
<circle cx="539.8" cy="253.8" r="1.9" fill="#5aa2ee" stroke="#2a2a2a" stroke-width="0.5"/>
<circle cx="540.4" cy="257.5" r="1.9" fill="#5aa2ee" stroke="#2a2a2a" stroke-width="0.5"/>
<circle cx="540.3" cy="261.2" r="1.9" fill="#5aa2ee" stroke="#2a2a2a" stroke-width="0.5"/>
<circle cx="540.7" cy="265" r="1.9" fill="#5aa2ee" stroke="#2a2a2a" stroke-width="0.5"/>
<circle cx="539.6" cy="281.8" r="1.9" fill="#5aa2ee" stroke="#2a2a2a" stroke-width="0.5"/>
<line x1="535.8" y1="253.3" x2="543" y2="253.3" stroke="#111" stroke-width="1.1"/>
<line x1="539.4" y1="258.8" x2="539.4" y2="247.8" stroke="#111" stroke-width="0.8"/>
<line x1="537.9" y1="247.8" x2="540.9" y2="247.8" stroke="#111" stroke-width="0.8"/>
<line x1="537.9" y1="258.8" x2="540.9" y2="258.8" stroke="#111" stroke-width="0.8"/>
<circle cx="554.4" cy="232.4" r="1.9" fill="#f28a1e" stroke="#2a2a2a" stroke-width="0.5"/>
<circle cx="554.1" cy="240.7" r="1.9" fill="#f28a1e" stroke="#2a2a2a" stroke-width="0.5"/>
<circle cx="553.3" cy="243.5" r="1.9" fill="#f28a1e" stroke="#2a2a2a" stroke-width="0.5"/>
<circle cx="553.3" cy="246.3" r="1.9" fill="#f28a1e" stroke="#2a2a2a" stroke-width="0.5"/>
<circle cx="553.1" cy="248.2" r="1.9" fill="#f28a1e" stroke="#2a2a2a" stroke-width="0.5"/>
<circle cx="552.9" cy="249.1" r="1.9" fill="#f28a1e" stroke="#2a2a2a" stroke-width="0.5"/>
<circle cx="552.4" cy="251" r="1.9" fill="#f28a1e" stroke="#2a2a2a" stroke-width="0.5"/>
<circle cx="552.7" cy="252.9" r="1.9" fill="#f28a1e" stroke="#2a2a2a" stroke-width="0.5"/>
<circle cx="554.4" cy="254.7" r="1.9" fill="#f28a1e" stroke="#2a2a2a" stroke-width="0.5"/>
<circle cx="555.4" cy="257.5" r="1.9" fill="#f28a1e" stroke="#2a2a2a" stroke-width="0.5"/>
<line x1="550.3" y1="247.6" x2="557.5" y2="247.6" stroke="#111" stroke-width="1.1"/>
<line x1="553.9" y1="250.9" x2="553.9" y2="244.4" stroke="#111" stroke-width="0.8"/>
<line x1="552.4" y1="244.4" x2="555.4" y2="244.4" stroke="#111" stroke-width="0.8"/>
<line x1="552.4" y1="250.9" x2="555.4" y2="250.9" stroke="#111" stroke-width="0.8"/>
<circle cx="566.2" cy="203.5" r="1.9" fill="#f28a1e" stroke="#2a2a2a" stroke-width="0.5"/>
<circle cx="564.3" cy="216.5" r="1.9" fill="#f28a1e" stroke="#2a2a2a" stroke-width="0.5"/>
<circle cx="566.1" cy="223" r="1.9" fill="#f28a1e" stroke="#2a2a2a" stroke-width="0.5"/>
<circle cx="563.4" cy="226.8" r="1.9" fill="#f28a1e" stroke="#2a2a2a" stroke-width="0.5"/>
<circle cx="566.2" cy="235.2" r="1.9" fill="#f28a1e" stroke="#2a2a2a" stroke-width="0.5"/>
<circle cx="563.2" cy="238.9" r="1.9" fill="#f28a1e" stroke="#2a2a2a" stroke-width="0.5"/>
<circle cx="565.3" cy="240.7" r="1.9" fill="#f28a1e" stroke="#2a2a2a" stroke-width="0.5"/>
<circle cx="565.4" cy="243.5" r="1.9" fill="#f28a1e" stroke="#2a2a2a" stroke-width="0.5"/>
<circle cx="564.1" cy="246.3" r="1.9" fill="#f28a1e" stroke="#2a2a2a" stroke-width="0.5"/>
<circle cx="564.2" cy="248.2" r="1.9" fill="#f28a1e" stroke="#2a2a2a" stroke-width="0.5"/>
<circle cx="563.5" cy="251" r="1.9" fill="#f28a1e" stroke="#2a2a2a" stroke-width="0.5"/>
<circle cx="563.6" cy="253.8" r="1.9" fill="#f28a1e" stroke="#2a2a2a" stroke-width="0.5"/>
<circle cx="564.7" cy="256.6" r="1.9" fill="#f28a1e" stroke="#2a2a2a" stroke-width="0.5"/>
<line x1="561" y1="237.2" x2="568.2" y2="237.2" stroke="#111" stroke-width="1.1"/>
<line x1="564.6" y1="243.4" x2="564.6" y2="231.1" stroke="#111" stroke-width="0.8"/>
<line x1="563.1" y1="231.1" x2="566.1" y2="231.1" stroke="#111" stroke-width="0.8"/>
<line x1="563.1" y1="243.4" x2="566.1" y2="243.4" stroke="#111" stroke-width="0.8"/>
<circle cx="574.3" cy="194.1" r="1.9" fill="#5aa2ee" stroke="#2a2a2a" stroke-width="0.5"/>
<circle cx="574.7" cy="200.7" r="1.9" fill="#5aa2ee" stroke="#2a2a2a" stroke-width="0.5"/>
<circle cx="575.4" cy="206.3" r="1.9" fill="#5aa2ee" stroke="#2a2a2a" stroke-width="0.5"/>
<circle cx="575.1" cy="218.4" r="1.9" fill="#5aa2ee" stroke="#2a2a2a" stroke-width="0.5"/>
<circle cx="574.5" cy="224.9" r="1.9" fill="#5aa2ee" stroke="#2a2a2a" stroke-width="0.5"/>
<circle cx="575" cy="229.6" r="1.9" fill="#5aa2ee" stroke="#2a2a2a" stroke-width="0.5"/>
<circle cx="574.8" cy="231.4" r="1.9" fill="#5aa2ee" stroke="#2a2a2a" stroke-width="0.5"/>
<circle cx="575" cy="234.2" r="1.9" fill="#5aa2ee" stroke="#2a2a2a" stroke-width="0.5"/>
<circle cx="575.2" cy="238.9" r="1.9" fill="#5aa2ee" stroke="#2a2a2a" stroke-width="0.5"/>
<circle cx="575.4" cy="243.5" r="1.9" fill="#5aa2ee" stroke="#2a2a2a" stroke-width="0.5"/>
<circle cx="576.4" cy="248.2" r="1.9" fill="#5aa2ee" stroke="#2a2a2a" stroke-width="0.5"/>
<circle cx="576.2" cy="253.8" r="1.9" fill="#5aa2ee" stroke="#2a2a2a" stroke-width="0.5"/>
<circle cx="576" cy="254.7" r="1.9" fill="#5aa2ee" stroke="#2a2a2a" stroke-width="0.5"/>
<line x1="572" y1="229.1" x2="579.2" y2="229.1" stroke="#111" stroke-width="1.1"/>
<line x1="575.6" y1="236.8" x2="575.6" y2="221.5" stroke="#111" stroke-width="0.8"/>
<line x1="574.1" y1="221.5" x2="577.1" y2="221.5" stroke="#111" stroke-width="0.8"/>
<line x1="574.1" y1="236.8" x2="577.1" y2="236.8" stroke="#111" stroke-width="0.8"/>
<circle cx="589.8" cy="228.6" r="1.9" fill="#f28a1e" stroke="#2a2a2a" stroke-width="0.5"/>
<circle cx="589.7" cy="234.2" r="1.9" fill="#f28a1e" stroke="#2a2a2a" stroke-width="0.5"/>
<circle cx="591.1" cy="237" r="1.9" fill="#f28a1e" stroke="#2a2a2a" stroke-width="0.5"/>
<circle cx="589.4" cy="241.7" r="1.9" fill="#f28a1e" stroke="#2a2a2a" stroke-width="0.5"/>
<circle cx="590.9" cy="254.7" r="1.9" fill="#f28a1e" stroke="#2a2a2a" stroke-width="0.5"/>
<circle cx="589.6" cy="257.5" r="1.9" fill="#f28a1e" stroke="#2a2a2a" stroke-width="0.5"/>
<circle cx="589.8" cy="259.4" r="1.9" fill="#f28a1e" stroke="#2a2a2a" stroke-width="0.5"/>
<circle cx="588.8" cy="261.2" r="1.9" fill="#f28a1e" stroke="#2a2a2a" stroke-width="0.5"/>
<circle cx="591" cy="264" r="1.9" fill="#f28a1e" stroke="#2a2a2a" stroke-width="0.5"/>
<circle cx="589.7" cy="265.9" r="1.9" fill="#f28a1e" stroke="#2a2a2a" stroke-width="0.5"/>
<circle cx="591.4" cy="268.7" r="1.9" fill="#f28a1e" stroke="#2a2a2a" stroke-width="0.5"/>
<circle cx="589.6" cy="270.6" r="1.9" fill="#f28a1e" stroke="#2a2a2a" stroke-width="0.5"/>
<circle cx="588.7" cy="262.2" r="1.9" fill="#f28a1e" stroke="#2a2a2a" stroke-width="0.5"/>
<circle cx="589.8" cy="258.5" r="1.9" fill="#f28a1e" stroke="#2a2a2a" stroke-width="0.5"/>
<line x1="586.4" y1="254.6" x2="593.6" y2="254.6" stroke="#111" stroke-width="1.1"/>
<line x1="590" y1="259.7" x2="590" y2="249.5" stroke="#111" stroke-width="0.8"/>
<line x1="588.5" y1="249.5" x2="591.5" y2="249.5" stroke="#111" stroke-width="0.8"/>
<line x1="588.5" y1="259.7" x2="591.5" y2="259.7" stroke="#111" stroke-width="0.8"/>
<circle cx="600.3" cy="223" r="1.9" fill="#5aa2ee" stroke="#2a2a2a" stroke-width="0.5"/>
<circle cx="602.3" cy="230.5" r="1.9" fill="#5aa2ee" stroke="#2a2a2a" stroke-width="0.5"/>
<circle cx="600.2" cy="240.7" r="1.9" fill="#5aa2ee" stroke="#2a2a2a" stroke-width="0.5"/>
<circle cx="601.1" cy="253.8" r="1.9" fill="#5aa2ee" stroke="#2a2a2a" stroke-width="0.5"/>
<circle cx="600.4" cy="255.7" r="1.9" fill="#5aa2ee" stroke="#2a2a2a" stroke-width="0.5"/>
<circle cx="601.1" cy="260.3" r="1.9" fill="#5aa2ee" stroke="#2a2a2a" stroke-width="0.5"/>
<circle cx="600.8" cy="264" r="1.9" fill="#5aa2ee" stroke="#2a2a2a" stroke-width="0.5"/>
<circle cx="600.2" cy="266.8" r="1.9" fill="#5aa2ee" stroke="#2a2a2a" stroke-width="0.5"/>
<circle cx="601.5" cy="270.6" r="1.9" fill="#5aa2ee" stroke="#2a2a2a" stroke-width="0.5"/>
<circle cx="601.1" cy="273.4" r="1.9" fill="#5aa2ee" stroke="#2a2a2a" stroke-width="0.5"/>
<circle cx="599.9" cy="276.2" r="1.9" fill="#5aa2ee" stroke="#2a2a2a" stroke-width="0.5"/>
<circle cx="600.1" cy="279.9" r="1.9" fill="#5aa2ee" stroke="#2a2a2a" stroke-width="0.5"/>
<circle cx="599.9" cy="262.2" r="1.9" fill="#5aa2ee" stroke="#2a2a2a" stroke-width="0.5"/>
<line x1="597.1" y1="258.2" x2="604.3" y2="258.2" stroke="#111" stroke-width="1.1"/>
<line x1="600.7" y1="265" x2="600.7" y2="251.5" stroke="#111" stroke-width="0.8"/>
<line x1="599.2" y1="251.5" x2="602.2" y2="251.5" stroke="#111" stroke-width="0.8"/>
<line x1="599.2" y1="265" x2="602.2" y2="265" stroke="#111" stroke-width="0.8"/>
<circle cx="613" cy="274.3" r="1.9" fill="#f28a1e" stroke="#2a2a2a" stroke-width="0.5"/>
<circle cx="611.6" cy="286.4" r="1.9" fill="#f28a1e" stroke="#2a2a2a" stroke-width="0.5"/>
<circle cx="612" cy="288.3" r="1.9" fill="#f28a1e" stroke="#2a2a2a" stroke-width="0.5"/>
<circle cx="611.1" cy="289.2" r="1.9" fill="#f28a1e" stroke="#2a2a2a" stroke-width="0.5"/>
<circle cx="612.3" cy="290.1" r="1.9" fill="#f28a1e" stroke="#2a2a2a" stroke-width="0.5"/>
<circle cx="612" cy="291.1" r="1.9" fill="#f28a1e" stroke="#2a2a2a" stroke-width="0.5"/>
<circle cx="612.2" cy="292" r="1.9" fill="#f28a1e" stroke="#2a2a2a" stroke-width="0.5"/>
<circle cx="613.2" cy="292.9" r="1.9" fill="#f28a1e" stroke="#2a2a2a" stroke-width="0.5"/>
<circle cx="613" cy="293.9" r="1.9" fill="#f28a1e" stroke="#2a2a2a" stroke-width="0.5"/>
<circle cx="610.1" cy="287.3" r="1.9" fill="#f28a1e" stroke="#2a2a2a" stroke-width="0.5"/>
<circle cx="610.3" cy="290.1" r="1.9" fill="#f28a1e" stroke="#2a2a2a" stroke-width="0.5"/>
<line x1="608" y1="288.7" x2="615.2" y2="288.7" stroke="#111" stroke-width="1.1"/>
<line x1="611.6" y1="290.9" x2="611.6" y2="286.5" stroke="#111" stroke-width="0.8"/>
<line x1="610.1" y1="286.5" x2="613.1" y2="286.5" stroke="#111" stroke-width="0.8"/>
<line x1="610.1" y1="290.9" x2="613.1" y2="290.9" stroke="#111" stroke-width="0.8"/>
<circle cx="622.7" cy="208.1" r="1.9" fill="#5aa2ee" stroke="#2a2a2a" stroke-width="0.5"/>
<circle cx="621.2" cy="229.6" r="1.9" fill="#5aa2ee" stroke="#2a2a2a" stroke-width="0.5"/>
<circle cx="621.2" cy="257.5" r="1.9" fill="#5aa2ee" stroke="#2a2a2a" stroke-width="0.5"/>
<circle cx="620.9" cy="260.3" r="1.9" fill="#5aa2ee" stroke="#2a2a2a" stroke-width="0.5"/>
<circle cx="621.7" cy="263.1" r="1.9" fill="#5aa2ee" stroke="#2a2a2a" stroke-width="0.5"/>
<circle cx="621.8" cy="266.8" r="1.9" fill="#5aa2ee" stroke="#2a2a2a" stroke-width="0.5"/>
<circle cx="623.5" cy="270.6" r="1.9" fill="#5aa2ee" stroke="#2a2a2a" stroke-width="0.5"/>
<circle cx="621.8" cy="276.2" r="1.9" fill="#5aa2ee" stroke="#2a2a2a" stroke-width="0.5"/>
<circle cx="623.5" cy="279.9" r="1.9" fill="#5aa2ee" stroke="#2a2a2a" stroke-width="0.5"/>
<circle cx="622.9" cy="285.5" r="1.9" fill="#5aa2ee" stroke="#2a2a2a" stroke-width="0.5"/>
<circle cx="621.6" cy="291.1" r="1.9" fill="#5aa2ee" stroke="#2a2a2a" stroke-width="0.5"/>
<line x1="618.8" y1="262.6" x2="626" y2="262.6" stroke="#111" stroke-width="1.1"/>
<line x1="622.4" y1="272.9" x2="622.4" y2="252.3" stroke="#111" stroke-width="0.8"/>
<line x1="620.9" y1="252.3" x2="623.9" y2="252.3" stroke="#111" stroke-width="0.8"/>
<line x1="620.9" y1="272.9" x2="623.9" y2="272.9" stroke="#111" stroke-width="0.8"/>
<circle cx="631.3" cy="223" r="1.9" fill="#f28a1e" stroke="#2a2a2a" stroke-width="0.5"/>
<circle cx="632" cy="233.3" r="1.9" fill="#f28a1e" stroke="#2a2a2a" stroke-width="0.5"/>
<circle cx="633.1" cy="235.2" r="1.9" fill="#f28a1e" stroke="#2a2a2a" stroke-width="0.5"/>
<circle cx="633.3" cy="237.9" r="1.9" fill="#f28a1e" stroke="#2a2a2a" stroke-width="0.5"/>
<circle cx="634" cy="241.7" r="1.9" fill="#f28a1e" stroke="#2a2a2a" stroke-width="0.5"/>
<circle cx="632.6" cy="244.5" r="1.9" fill="#f28a1e" stroke="#2a2a2a" stroke-width="0.5"/>
<circle cx="633.6" cy="250.1" r="1.9" fill="#f28a1e" stroke="#2a2a2a" stroke-width="0.5"/>
<circle cx="633.8" cy="251.9" r="1.9" fill="#f28a1e" stroke="#2a2a2a" stroke-width="0.5"/>
<line x1="628.9" y1="239.7" x2="636.1" y2="239.7" stroke="#111" stroke-width="1.1"/>
<line x1="632.5" y1="244.4" x2="632.5" y2="235" stroke="#111" stroke-width="0.8"/>
<line x1="631" y1="235" x2="634" y2="235" stroke="#111" stroke-width="0.8"/>
<line x1="631" y1="244.4" x2="634" y2="244.4" stroke="#111" stroke-width="0.8"/>
<circle cx="642.1" cy="196.9" r="1.9" fill="#5aa2ee" stroke="#2a2a2a" stroke-width="0.5"/>
<circle cx="641.7" cy="197.9" r="1.9" fill="#5aa2ee" stroke="#2a2a2a" stroke-width="0.5"/>
<circle cx="641.7" cy="204.4" r="1.9" fill="#5aa2ee" stroke="#2a2a2a" stroke-width="0.5"/>
<circle cx="643.1" cy="216.5" r="1.9" fill="#5aa2ee" stroke="#2a2a2a" stroke-width="0.5"/>
<circle cx="643.7" cy="218.4" r="1.9" fill="#5aa2ee" stroke="#2a2a2a" stroke-width="0.5"/>
<circle cx="641.9" cy="224.9" r="1.9" fill="#5aa2ee" stroke="#2a2a2a" stroke-width="0.5"/>
<circle cx="644.5" cy="228.6" r="1.9" fill="#5aa2ee" stroke="#2a2a2a" stroke-width="0.5"/>
<circle cx="642.6" cy="229.6" r="1.9" fill="#5aa2ee" stroke="#2a2a2a" stroke-width="0.5"/>
<circle cx="642" cy="231.4" r="1.9" fill="#5aa2ee" stroke="#2a2a2a" stroke-width="0.5"/>
<circle cx="643.7" cy="237.9" r="1.9" fill="#5aa2ee" stroke="#2a2a2a" stroke-width="0.5"/>
<line x1="639.7" y1="218.7" x2="646.9" y2="218.7" stroke="#111" stroke-width="1.1"/>
<line x1="643.3" y1="225.1" x2="643.3" y2="212.2" stroke="#111" stroke-width="0.8"/>
<line x1="641.8" y1="212.2" x2="644.8" y2="212.2" stroke="#111" stroke-width="0.8"/>
<line x1="641.8" y1="225.1" x2="644.8" y2="225.1" stroke="#111" stroke-width="0.8"/>
<line x1="506.5" y1="177.5" x2="506.5" y2="295.3" stroke="#000" stroke-width="1.1"/>
<line x1="506" y1="294.8" x2="652" y2="294.8" stroke="#000" stroke-width="1.1"/>
<line x1="503.5" y1="294.8" x2="506.5" y2="294.8" stroke="#000" stroke-width="1"/>
<line x1="503.5" y1="248.2" x2="506.5" y2="248.2" stroke="#000" stroke-width="1"/>
<line x1="503.5" y1="201.6" x2="506.5" y2="201.6" stroke="#000" stroke-width="1"/>
<line x1="504.8" y1="271.5" x2="506.5" y2="271.5" stroke="#000" stroke-width="0.9"/>
<line x1="504.8" y1="224.9" x2="506.5" y2="224.9" stroke="#000" stroke-width="0.9"/>
<line x1="503.5" y1="177.8" x2="506.5" y2="177.8" stroke="#000" stroke-width="1"/>
<text x="502.3" y="297.9" font-size="8.5" text-anchor="end" font-weight="bold">0.0</text>
<text x="502.3" y="251.3" font-size="8.5" text-anchor="end" font-weight="bold">0.5</text>
<text x="502.3" y="204.7" font-size="8.5" text-anchor="end" font-weight="bold">1.0</text>
<line x1="519.3" y1="294.8" x2="519.3" y2="298" stroke="#000" stroke-width="1"/>
<line x1="545.8" y1="294.8" x2="545.8" y2="298" stroke="#000" stroke-width="1"/>
<line x1="570" y1="294.8" x2="570" y2="298" stroke="#000" stroke-width="1"/>
<line x1="594.6" y1="294.8" x2="594.6" y2="298" stroke="#000" stroke-width="1"/>
<line x1="617" y1="294.8" x2="617" y2="298" stroke="#000" stroke-width="1"/>
<line x1="637.6" y1="294.8" x2="637.6" y2="298" stroke="#000" stroke-width="1"/>
<text x="485.8" y="236" font-size="8" text-anchor="middle" font-weight="bold" transform="rotate(-90 485.8 236)">normalized MFI</text>
<text x="521.5" y="310.2" font-size="9" text-anchor="end" font-weight="bold" transform="rotate(-25 521.5 310.2)">PDX1</text>
<text x="548" y="310.2" font-size="9" text-anchor="end" font-weight="bold" transform="rotate(-25 548 310.2)">NKX6-1</text>
<text x="572.2" y="310.2" font-size="9" text-anchor="end" font-weight="bold" transform="rotate(-25 572.2 310.2)">CHGA</text>
<text x="596.8" y="310.2" font-size="9" text-anchor="end" font-weight="bold" transform="rotate(-25 596.8 310.2)">C-PEP</text>
<text x="619.2" y="310.2" font-size="9" text-anchor="end" font-weight="bold" transform="rotate(-25 619.2 310.2)">AFP</text>
<text x="639.8" y="310.2" font-size="9" text-anchor="end" font-weight="bold" transform="rotate(-25 639.8 310.2)">HNF4A</text>
<path d="M510.5,189.3 V186.5 H529.4 V189.3" fill="none" stroke="#555" stroke-width="0.8"/>
<text x="520" y="185.3" font-size="8.3" text-anchor="middle" fill="#222">ns</text>
<path d="M536.7,229.3 V226.5 H556.2 V229.3" fill="none" stroke="#555" stroke-width="0.8"/>
<text x="546.5" y="225.3" font-size="8.3" text-anchor="middle" fill="#222">ns</text>
<path d="M560.5,192.3 V189.5 H579.7 V192.3" fill="none" stroke="#555" stroke-width="0.8"/>
<text x="570.1" y="188.3" font-size="8.3" text-anchor="middle" fill="#222">ns</text>
<path d="M585.4,219.6 V216.8 H604.7 V219.6" fill="none" stroke="#555" stroke-width="0.8"/>
<text x="595" y="215.6" font-size="8.3" text-anchor="middle" fill="#222">ns</text>
<path d="M606.3,206.8 V204 H626.4 V206.8" fill="none" stroke="#555" stroke-width="0.8"/>
<text x="616.3" y="202.8" font-size="8.3" text-anchor="middle" fill="#222">.0039</text>
<path d="M627.2,188.8 V186 H646.5 V188.8" fill="none" stroke="#555" stroke-width="0.8"/>
<text x="636.9" y="184.8" font-size="8.3" text-anchor="middle" fill="#222">.0012</text>
<circle cx="654.5" cy="277" r="2.6" fill="#f28a1e" stroke="#2a2a2a" stroke-width="0.5"/>
<circle cx="654.5" cy="287.8" r="2.6" fill="#5aa2ee" stroke="#2a2a2a" stroke-width="0.5"/>
<text x="660.5" y="281" font-size="10">WT</text>
<text x="660.5" y="291.8" font-size="10">KO</text>
<text x="-1.1" y="336.2" font-size="23">D</text>
<polygon points="43.2,375.4 49.6,372.7 58.2,372.7 64.6,374.5 67.8,378.1 68.8,382.6 66.7,387.2 62.4,389.9 58.2,391.7 51.8,393.5 46.4,393.5 43.2,389.9 42.2,384.4 42.2,379" fill="#56b4e9" stroke="#56b4e9" stroke-width="1" stroke-linejoin="round"/>
<polygon points="60.3,374.5 66.7,372.7 73.1,371.8 77.8,374.5 81.2,380.8 82.7,386.6 80.6,390.8 76.3,392 71,391.7 66.7,390.2 63.5,384.4" fill="#56b4e9" stroke="#56b4e9" stroke-width="1" stroke-linejoin="round"/>
<polygon points="57.1,395.3 62.4,393.5 66.7,394.4 68.8,398.9 71,403.4 67.8,407 63.5,408.8 59.2,407.9 57.1,404.3 56,399.8" fill="#56b4e9" stroke="#56b4e9" stroke-width="1" stroke-linejoin="round"/>
<polygon points="74.2,393.5 77.4,392.6 78.4,397.1 76.3,398.9 74.2,397.1" fill="#56b4e9" stroke="#56b4e9" stroke-width="1" stroke-linejoin="round"/>
<polygon points="80.6,390.8 84.8,388.1 89.1,389 92.3,391.7 95.5,395.3 98.7,398.9 99.8,402.5 96.6,405.2 91.2,405.2 87,403.4 82.7,400.7 80.6,397.1 79.5,393.5" fill="#56b4e9" stroke="#56b4e9" stroke-width="1" stroke-linejoin="round"/>
<polygon points="137.1,372.7 143.5,371.8 147.8,371.4 151,372.7 153.1,376.3 153.1,380.8 152,385.3 149.9,389.9 147.8,393.5 144.6,395.3 140.3,393.5 138.2,389.9 137.1,386.6 130.7,386.2 124.3,386.8 123.2,385.3 129.6,383.5 136,381.7 136.7,377.2" fill="#56b4e9" stroke="#56b4e9" stroke-width="1" stroke-linejoin="round"/>
<polygon points="136.7,393.1 143.5,393.5 149.5,393.8 149.9,400.7 148.8,406.1 146.7,412.5 145.6,417 142.4,414.3 139.2,409.7 136,404.3 135,398.9" fill="#56b4e9" stroke="#56b4e9" stroke-width="1" stroke-linejoin="round"/>
<polygon points="144.1,416.6 146.5,415.9 152,420.6 153.7,426 153.1,433.2 151,440.5 147.8,447.7 144.6,452.2 140.3,455.8 135,455.8 132.4,452.2 133.9,445.9 138.2,440.5 141.4,435 143.5,428.7 144.6,423.3" fill="#56b4e9" stroke="#56b4e9" stroke-width="1" stroke-linejoin="round"/>
<polygon points="152,372.7 156.3,369.1 162.7,364.6 164.8,363.7 163.8,365.5 158.4,370 153.7,373.6" fill="#56b4e9" stroke="#56b4e9" stroke-width="1" stroke-linejoin="round"/>
<polygon points="110.1,345.8 101.4,347.1 94.1,350 87.8,354.4 82.9,360 79.3,365.7 77.8,369.8 81.2,370.7 82.7,366.9 86,361.7 90.4,356.5 96.1,352.6 102.4,350 110.8,348.8" fill="#e69f00" stroke="#e69f00" stroke-width="1" stroke-linejoin="round"/>
<polygon points="78.4,369.3 69.9,373 65.6,377.5 61.4,382.9 60.3,388.3 65.6,391.9 72,393.7 78.4,391.9 83.1,388.3 84.4,382 83.6,376.6 83.6,371.2" fill="#e69f00" stroke="#e69f00" stroke-width="1" stroke-linejoin="round"/>
<polygon points="108.3,347.1 119,345.3 131.8,343.5 138.2,342.8 142.4,344 144.6,346.8 147.8,352.2 152,356.7 153.1,357.6 151,363 147.8,365.7 144.6,367.5 141.4,369.3 138.2,373 135,371.2 131.8,365.7 128.6,360.3 124.3,354 120,350.4 114.7,348.6 108.3,348.6" fill="#e69f00" stroke="#e69f00" stroke-width="1" stroke-linejoin="round"/>
<polygon points="152.7,356.7 157.4,356.7 163.8,359.4 170.2,361.2 171.9,363 168.1,364.8 161.6,365.2 155.2,365.7 150.6,363.9 151.6,359.4" fill="#e69f00" stroke="#e69f00" stroke-width="1" stroke-linejoin="round"/>
<polygon points="44.3,375.7 48.6,373 55,372.4 61.4,374.8 64.6,379.3 63.5,384.7 60.3,388.3 57.1,391.9 50.7,391 45.4,387.4 42.2,382.9 42.6,378.4" fill="#e69f00" stroke="#e69f00" stroke-width="1" stroke-linejoin="round"/>
<polygon points="56,392.8 61.4,391.6 65.6,393.7 67.8,397.4 66.7,402.8 65.6,407.3 61.4,409.1 58.2,407.3 58.2,401 56,396.5" fill="#e69f00" stroke="#e69f00" stroke-width="1" stroke-linejoin="round"/>
<polygon points="69.9,394.6 74.2,392.8 78.4,391.9 77.4,396.5 75.2,399.2 72,399.2 69.9,397.4" fill="#e69f00" stroke="#e69f00" stroke-width="1" stroke-linejoin="round"/>
<polygon points="82.7,382 85.9,382.9 89.1,386.5 91.2,391.9 94.4,396.5 98.7,400.1 99.8,403.7 95.5,405.5 90.2,404.6 85.9,401.9 83.8,397.4 87,393.7 85.9,388.3 83.1,384.7" fill="#e69f00" stroke="#e69f00" stroke-width="1" stroke-linejoin="round"/>
<circle cx="54.5" cy="385.7" r="0.6" fill="#56b4e9"/>
<circle cx="45.8" cy="375.5" r="0.6" fill="#56b4e9"/>
<circle cx="42.3" cy="383" r="0.6" fill="#56b4e9"/>
<circle cx="66.1" cy="391.8" r="0.6" fill="#56b4e9"/>
<circle cx="56.9" cy="380.7" r="0.6" fill="#56b4e9"/>
<circle cx="43.2" cy="385.6" r="0.6" fill="#56b4e9"/>
<circle cx="60.9" cy="384.1" r="0.6" fill="#56b4e9"/>
<circle cx="61.5" cy="390.2" r="0.6" fill="#56b4e9"/>
<circle cx="48.5" cy="391.2" r="0.6" fill="#56b4e9"/>
<circle cx="55.7" cy="374.3" r="0.6" fill="#56b4e9"/>
<circle cx="57.9" cy="377.4" r="0.6" fill="#56b4e9"/>
<circle cx="52.4" cy="378" r="0.6" fill="#56b4e9"/>
<circle cx="44.9" cy="387.4" r="0.6" fill="#56b4e9"/>
<circle cx="60.1" cy="378.4" r="0.6" fill="#56b4e9"/>
<circle cx="53.4" cy="391.7" r="0.6" fill="#56b4e9"/>
<circle cx="49.3" cy="389.1" r="0.6" fill="#56b4e9"/>
<circle cx="49.6" cy="376.7" r="0.6" fill="#56b4e9"/>
<circle cx="47.5" cy="375.1" r="0.6" fill="#56b4e9"/>
<circle cx="65.6" cy="392.3" r="0.6" fill="#56b4e9"/>
<circle cx="52.3" cy="383.3" r="0.6" fill="#56b4e9"/>
<circle cx="42.8" cy="384.7" r="0.6" fill="#56b4e9"/>
<circle cx="66.3" cy="391.1" r="0.6" fill="#56b4e9"/>
<circle cx="58.1" cy="391" r="0.6" fill="#56b4e9"/>
<circle cx="57.6" cy="374.9" r="0.6" fill="#56b4e9"/>
<circle cx="47.6" cy="393.3" r="0.6" fill="#56b4e9"/>
<circle cx="44.4" cy="382.3" r="0.6" fill="#56b4e9"/>
<circle cx="42.6" cy="391.7" r="0.6" fill="#56b4e9"/>
<circle cx="55.4" cy="374.3" r="0.6" fill="#56b4e9"/>
<circle cx="53.4" cy="385.2" r="0.6" fill="#56b4e9"/>
<circle cx="59.2" cy="391.5" r="0.6" fill="#56b4e9"/>
<circle cx="57.6" cy="389.9" r="0.6" fill="#56b4e9"/>
<circle cx="58.4" cy="373.6" r="0.6" fill="#56b4e9"/>
<circle cx="43.6" cy="381.9" r="0.6" fill="#56b4e9"/>
<circle cx="58.3" cy="390.4" r="0.6" fill="#56b4e9"/>
<circle cx="49.3" cy="372.8" r="0.6" fill="#56b4e9"/>
<circle cx="70.9" cy="407" r="0.6" fill="#56b4e9"/>
<circle cx="66.6" cy="394.2" r="0.6" fill="#56b4e9"/>
<circle cx="59.6" cy="399.5" r="0.6" fill="#56b4e9"/>
<circle cx="56.7" cy="403.2" r="0.6" fill="#56b4e9"/>
<circle cx="66.1" cy="399.8" r="0.6" fill="#56b4e9"/>
<circle cx="67.6" cy="407.5" r="0.6" fill="#56b4e9"/>
<circle cx="61.2" cy="395.6" r="0.6" fill="#56b4e9"/>
<circle cx="64.7" cy="401.9" r="0.6" fill="#56b4e9"/>
<circle cx="62" cy="393.7" r="0.6" fill="#56b4e9"/>
<circle cx="64.6" cy="408.6" r="0.6" fill="#56b4e9"/>
<circle cx="68" cy="403.8" r="0.6" fill="#56b4e9"/>
<circle cx="62.5" cy="405.6" r="0.6" fill="#56b4e9"/>
<circle cx="62.6" cy="403.9" r="0.6" fill="#56b4e9"/>
<circle cx="57.3" cy="399.2" r="0.6" fill="#56b4e9"/>
<circle cx="57.6" cy="396.8" r="0.6" fill="#56b4e9"/>
<circle cx="56.4" cy="396.8" r="0.6" fill="#56b4e9"/>
<circle cx="68.1" cy="401.2" r="0.6" fill="#56b4e9"/>
<circle cx="66.6" cy="405" r="0.6" fill="#56b4e9"/>
<circle cx="67" cy="402.3" r="0.6" fill="#56b4e9"/>
<circle cx="59.5" cy="394" r="0.6" fill="#56b4e9"/>
<circle cx="62" cy="403.1" r="0.6" fill="#56b4e9"/>
<circle cx="68.9" cy="403.2" r="0.6" fill="#56b4e9"/>
<circle cx="66" cy="406.2" r="0.6" fill="#56b4e9"/>
<circle cx="68.6" cy="404.9" r="0.6" fill="#56b4e9"/>
<circle cx="56.8" cy="393.9" r="0.6" fill="#56b4e9"/>
<circle cx="58.6" cy="394.3" r="0.6" fill="#56b4e9"/>
<circle cx="70.7" cy="399.5" r="0.6" fill="#56b4e9"/>
<circle cx="56.2" cy="407.9" r="0.6" fill="#56b4e9"/>
<circle cx="59.1" cy="402.9" r="0.6" fill="#56b4e9"/>
<circle cx="65.2" cy="394" r="0.6" fill="#56b4e9"/>
<circle cx="61.3" cy="406.7" r="0.6" fill="#56b4e9"/>
<circle cx="64.4" cy="406.7" r="0.6" fill="#56b4e9"/>
<circle cx="57.3" cy="400.3" r="0.6" fill="#56b4e9"/>
<circle cx="66.4" cy="407.8" r="0.6" fill="#56b4e9"/>
<circle cx="62.8" cy="398" r="0.6" fill="#56b4e9"/>
<circle cx="95" cy="398.6" r="0.6" fill="#56b4e9"/>
<circle cx="97.5" cy="402.3" r="0.6" fill="#56b4e9"/>
<circle cx="94" cy="392" r="0.6" fill="#56b4e9"/>
<circle cx="97.3" cy="396.7" r="0.6" fill="#56b4e9"/>
<circle cx="81.5" cy="404.4" r="0.6" fill="#56b4e9"/>
<circle cx="90.2" cy="402.2" r="0.6" fill="#56b4e9"/>
<circle cx="92.2" cy="403.8" r="0.6" fill="#56b4e9"/>
<circle cx="95.3" cy="401.4" r="0.6" fill="#56b4e9"/>
<circle cx="79.7" cy="402.2" r="0.6" fill="#56b4e9"/>
<circle cx="88.7" cy="395.6" r="0.6" fill="#56b4e9"/>
<circle cx="87.4" cy="402.3" r="0.6" fill="#56b4e9"/>
<circle cx="89.3" cy="389" r="0.6" fill="#56b4e9"/>
<circle cx="90.3" cy="389.1" r="0.6" fill="#56b4e9"/>
<circle cx="80.1" cy="388.2" r="0.6" fill="#56b4e9"/>
<circle cx="97.5" cy="395.9" r="0.6" fill="#56b4e9"/>
<circle cx="90.1" cy="396" r="0.6" fill="#56b4e9"/>
<circle cx="97.9" cy="404.1" r="0.6" fill="#56b4e9"/>
<circle cx="92.5" cy="395.9" r="0.6" fill="#56b4e9"/>
<circle cx="85.6" cy="392.8" r="0.6" fill="#56b4e9"/>
<circle cx="94.1" cy="403.5" r="0.6" fill="#56b4e9"/>
<circle cx="93.7" cy="397.4" r="0.6" fill="#56b4e9"/>
<circle cx="89.4" cy="394.3" r="0.6" fill="#56b4e9"/>
<circle cx="80.6" cy="394.9" r="0.6" fill="#56b4e9"/>
<circle cx="87" cy="390.1" r="0.6" fill="#56b4e9"/>
<circle cx="84.2" cy="391.1" r="0.6" fill="#56b4e9"/>
<circle cx="94.3" cy="394.5" r="0.6" fill="#56b4e9"/>
<circle cx="97.2" cy="404.6" r="0.6" fill="#56b4e9"/>
<circle cx="91.6" cy="394.7" r="0.6" fill="#56b4e9"/>
<circle cx="93.2" cy="398.2" r="0.6" fill="#56b4e9"/>
<circle cx="80.9" cy="402" r="0.6" fill="#56b4e9"/>
<circle cx="91.8" cy="402.1" r="0.6" fill="#56b4e9"/>
<circle cx="80.8" cy="399.1" r="0.6" fill="#56b4e9"/>
<circle cx="89" cy="396" r="0.6" fill="#56b4e9"/>
<circle cx="80" cy="391.9" r="0.6" fill="#56b4e9"/>
<circle cx="86.3" cy="391.8" r="0.6" fill="#56b4e9"/>
<circle cx="60.5" cy="372.7" r="0.6" fill="#56b4e9"/>
<circle cx="73.5" cy="372.3" r="0.6" fill="#56b4e9"/>
<circle cx="82.4" cy="375.2" r="0.6" fill="#56b4e9"/>
<circle cx="62.7" cy="385" r="0.6" fill="#56b4e9"/>
<circle cx="65.5" cy="376.2" r="0.6" fill="#56b4e9"/>
<circle cx="64.6" cy="387.6" r="0.6" fill="#56b4e9"/>
<circle cx="62.8" cy="389.6" r="0.6" fill="#56b4e9"/>
<circle cx="81.3" cy="372.3" r="0.6" fill="#56b4e9"/>
<circle cx="68.6" cy="377" r="0.6" fill="#56b4e9"/>
<circle cx="70.8" cy="381.5" r="0.6" fill="#56b4e9"/>
<circle cx="68.6" cy="379.2" r="0.6" fill="#56b4e9"/>
<circle cx="65.6" cy="386.8" r="0.6" fill="#56b4e9"/>
<circle cx="71.9" cy="388" r="0.6" fill="#56b4e9"/>
<circle cx="70.1" cy="372.9" r="0.6" fill="#56b4e9"/>
<circle cx="60.8" cy="389.9" r="0.6" fill="#56b4e9"/>
<circle cx="78.2" cy="390.9" r="0.6" fill="#56b4e9"/>
<circle cx="65.9" cy="374.8" r="0.6" fill="#56b4e9"/>
<circle cx="73.8" cy="387.6" r="0.6" fill="#56b4e9"/>
<circle cx="61.6" cy="386.5" r="0.6" fill="#56b4e9"/>
<circle cx="67" cy="375.8" r="0.6" fill="#56b4e9"/>
<circle cx="82.1" cy="376.1" r="0.6" fill="#56b4e9"/>
<circle cx="80.5" cy="373.2" r="0.6" fill="#56b4e9"/>
<circle cx="79.9" cy="373.4" r="0.6" fill="#56b4e9"/>
<circle cx="82" cy="390.1" r="0.6" fill="#56b4e9"/>
<circle cx="67.4" cy="387" r="0.6" fill="#56b4e9"/>
<circle cx="73.8" cy="382.1" r="0.6" fill="#56b4e9"/>
<circle cx="68.1" cy="375.1" r="0.6" fill="#56b4e9"/>
<circle cx="69.2" cy="387.8" r="0.6" fill="#56b4e9"/>
<circle cx="66.5" cy="382.7" r="0.6" fill="#56b4e9"/>
<circle cx="74" cy="380.5" r="0.6" fill="#56b4e9"/>
<circle cx="70.1" cy="388.3" r="0.6" fill="#56b4e9"/>
<circle cx="69.3" cy="385.5" r="0.6" fill="#56b4e9"/>
<circle cx="64.1" cy="381" r="0.6" fill="#56b4e9"/>
<circle cx="64.5" cy="377.6" r="0.6" fill="#56b4e9"/>
<circle cx="75" cy="389.2" r="0.6" fill="#56b4e9"/>
<circle cx="82.1" cy="360.1" r="0.5" fill="#56b4e9"/>
<circle cx="76.4" cy="369.2" r="0.5" fill="#56b4e9"/>
<circle cx="89.5" cy="354.4" r="0.5" fill="#56b4e9"/>
<circle cx="70.7" cy="373" r="0.5" fill="#56b4e9"/>
<circle cx="70.6" cy="373.4" r="0.5" fill="#56b4e9"/>
<circle cx="80.7" cy="362.9" r="0.5" fill="#56b4e9"/>
<circle cx="86.4" cy="357.5" r="0.5" fill="#56b4e9"/>
<circle cx="84.3" cy="358.5" r="0.5" fill="#56b4e9"/>
<circle cx="92.5" cy="352" r="0.5" fill="#56b4e9"/>
<circle cx="74.1" cy="371.8" r="0.5" fill="#56b4e9"/>
<circle cx="88.5" cy="356.9" r="0.5" fill="#56b4e9"/>
<circle cx="93.1" cy="352.7" r="0.5" fill="#56b4e9"/>
<circle cx="88.9" cy="357.1" r="0.5" fill="#56b4e9"/>
<circle cx="82.8" cy="360.8" r="0.5" fill="#56b4e9"/>
<circle cx="75.2" cy="367.6" r="0.5" fill="#56b4e9"/>
<circle cx="74.7" cy="368" r="0.5" fill="#56b4e9"/>
<circle cx="83" cy="360.4" r="0.5" fill="#56b4e9"/>
<circle cx="74.7" cy="370.2" r="0.5" fill="#56b4e9"/>
<circle cx="84" cy="359.6" r="0.5" fill="#56b4e9"/>
<circle cx="84.4" cy="358.4" r="0.5" fill="#56b4e9"/>
<circle cx="94.5" cy="352.3" r="0.5" fill="#56b4e9"/>
<circle cx="85.5" cy="360.4" r="0.5" fill="#56b4e9"/>
<circle cx="74.4" cy="368.2" r="0.5" fill="#56b4e9"/>
<circle cx="75.7" cy="369" r="0.5" fill="#56b4e9"/>
<circle cx="89.6" cy="355.4" r="0.5" fill="#56b4e9"/>
<circle cx="80" cy="365.4" r="0.5" fill="#56b4e9"/>
<circle cx="75.8" cy="368.1" r="0.5" fill="#56b4e9"/>
<circle cx="76.8" cy="369" r="0.5" fill="#56b4e9"/>
<g fill="url(#wdots)" opacity="0.6">
<polygon points="110.1,345.8 101.4,347.1 94.1,350 87.8,354.4 82.9,360 79.3,365.7 77.8,369.8 81.2,370.7 82.7,366.9 86,361.7 90.4,356.5 96.1,352.6 102.4,350 110.8,348.8"/>
<polygon points="78.4,369.3 69.9,373 65.6,377.5 61.4,382.9 60.3,388.3 65.6,391.9 72,393.7 78.4,391.9 83.1,388.3 84.4,382 83.6,376.6 83.6,371.2"/>
<polygon points="108.3,347.1 119,345.3 131.8,343.5 138.2,342.8 142.4,344 144.6,346.8 147.8,352.2 152,356.7 153.1,357.6 151,363 147.8,365.7 144.6,367.5 141.4,369.3 138.2,373 135,371.2 131.8,365.7 128.6,360.3 124.3,354 120,350.4 114.7,348.6 108.3,348.6"/>
<polygon points="152.7,356.7 157.4,356.7 163.8,359.4 170.2,361.2 171.9,363 168.1,364.8 161.6,365.2 155.2,365.7 150.6,363.9 151.6,359.4"/>
<polygon points="44.3,375.7 48.6,373 55,372.4 61.4,374.8 64.6,379.3 63.5,384.7 60.3,388.3 57.1,391.9 50.7,391 45.4,387.4 42.2,382.9 42.6,378.4"/>
<polygon points="56,392.8 61.4,391.6 65.6,393.7 67.8,397.4 66.7,402.8 65.6,407.3 61.4,409.1 58.2,407.3 58.2,401 56,396.5"/>
<polygon points="69.9,394.6 74.2,392.8 78.4,391.9 77.4,396.5 75.2,399.2 72,399.2 69.9,397.4"/>
<polygon points="82.7,382 85.9,382.9 89.1,386.5 91.2,391.9 94.4,396.5 98.7,400.1 99.8,403.7 95.5,405.5 90.2,404.6 85.9,401.9 83.8,397.4 87,393.7 85.9,388.3 83.1,384.7"/>
<polygon points="137.1,372.7 143.5,371.8 147.8,371.4 151,372.7 153.1,376.3 153.1,380.8 152,385.3 149.9,389.9 147.8,393.5 144.6,395.3 140.3,393.5 138.2,389.9 137.1,386.6 130.7,386.2 124.3,386.8 123.2,385.3 129.6,383.5 136,381.7 136.7,377.2"/>
<polygon points="136.7,393.1 143.5,393.5 149.5,393.8 149.9,400.7 148.8,406.1 146.7,412.5 145.6,417 142.4,414.3 139.2,409.7 136,404.3 135,398.9"/>
<polygon points="144.1,416.6 146.5,415.9 152,420.6 153.7,426 153.1,433.2 151,440.5 147.8,447.7 144.6,452.2 140.3,455.8 135,455.8 132.4,452.2 133.9,445.9 138.2,440.5 141.4,435 143.5,428.7 144.6,423.3"/>
</g>
<line x1="36.5" y1="337.7" x2="36.5" y2="461.2" stroke="#000" stroke-width="1"/>
<line x1="33.5" y1="356.7" x2="36.5" y2="356.7" stroke="#000" stroke-width="1"/>
<text x="33" y="359.9" font-size="9" text-anchor="end" fill="#222">5</text>
<line x1="33.5" y1="383" x2="36.5" y2="383" stroke="#000" stroke-width="1"/>
<text x="33" y="386.2" font-size="9" text-anchor="end" fill="#222">0</text>
<line x1="33.5" y1="409.3" x2="36.5" y2="409.3" stroke="#000" stroke-width="1"/>
<text x="33" y="412.5" font-size="9" text-anchor="end" fill="#222">-5</text>
<line x1="33.5" y1="435" x2="36.5" y2="435" stroke="#000" stroke-width="1"/>
<text x="33" y="438.2" font-size="9" text-anchor="end" fill="#222">-10</text>
<line x1="33.5" y1="461.2" x2="36.5" y2="461.2" stroke="#000" stroke-width="1"/>
<text x="33" y="464.4" font-size="9" text-anchor="end" fill="#222">-15</text>
<line x1="36.5" y1="461.2" x2="178" y2="461.2" stroke="#000" stroke-width="1"/>
<line x1="53.4" y1="461.2" x2="53.4" y2="464.2" stroke="#000" stroke-width="1"/>
<text x="53.4" y="470.6" font-size="9" text-anchor="middle" fill="#222">-10</text>
<line x1="83.8" y1="461.2" x2="83.8" y2="464.2" stroke="#000" stroke-width="1"/>
<text x="83.8" y="470.6" font-size="9" text-anchor="middle" fill="#222">-5</text>
<line x1="113.9" y1="461.2" x2="113.9" y2="464.2" stroke="#000" stroke-width="1"/>
<text x="113.9" y="470.6" font-size="9" text-anchor="middle" fill="#222">0</text>
<line x1="144" y1="461.2" x2="144" y2="464.2" stroke="#000" stroke-width="1"/>
<text x="144" y="470.6" font-size="9" text-anchor="middle" fill="#222">5</text>
<line x1="174.3" y1="461.2" x2="174.3" y2="464.2" stroke="#000" stroke-width="1"/>
<text x="174.3" y="470.6" font-size="9" text-anchor="middle" fill="#222">10</text>
<text x="108" y="479.6" font-size="9.3" text-anchor="middle" fill="#222">UMAP_1</text>
<text x="20.3" y="398.3" font-size="9.5" text-anchor="middle" fill="#222" transform="rotate(-90 20.3 398.3)">UMAP_2</text>
<text x="111" y="331.9" font-size="9.7" text-anchor="middle" font-weight="bold">day 21</text>
<line x1="40.3" y1="336.3" x2="180.4" y2="336.3" stroke="#000" stroke-width="1"/>
<circle cx="45.8" cy="434.7" r="2.6" fill="#e69f00"/>
<text x="51" y="438.2" font-size="9.5">WT, n = 5,515</text>
<circle cx="45.8" cy="444.9" r="2.6" fill="#56b4e9"/>
<text x="51" y="448.4" font-size="9.5">KO, n = 4,648</text>
<text x="185.9" y="335.6" font-size="23">E</text>
<polygon points="274.3,346.3 267.1,347.6 261.2,350.4 256,354.7 251.9,360.1 249,365.6 247.7,369.6 250.6,370.5 251.8,366.8 254.5,361.7 258.1,356.7 262.7,352.9 268,350.4 274.8,349.3" fill="#eedd82" stroke="#eedd82" stroke-width="0.8" stroke-linejoin="round"/>
<polygon points="248.3,369.2 241.3,372.7 237.8,377 234.3,382.3 233.4,387.6 237.8,391.1 243,392.8 248.3,391.1 252.1,387.6 253.2,381.4 252.5,376.2 252.5,370.9" fill="#eedd82" stroke="#eedd82" stroke-width="0.8" stroke-linejoin="round"/>
<polygon points="272.8,347.6 281.6,345.9 292.1,344.1 297.3,343.4 300.8,344.6 302.6,347.3 305.2,352.5 308.7,356.9 309.6,357.8 307.9,363 305.2,365.7 302.6,367.4 300,369.2 297.3,372.7 294.7,370.9 292.1,365.7 289.5,360.4 286,354.3 282.4,350.8 278.1,349 272.8,349" fill="#98f598" stroke="#98f598" stroke-width="0.8" stroke-linejoin="round"/>
<polygon points="309.3,356.9 313.1,356.9 318.4,359.5 323.6,361.3 325,363 321.9,364.8 316.6,365.1 311.4,365.7 307.5,363.9 308.4,359.5" fill="#2e8b57" stroke="#2e8b57" stroke-width="0.8" stroke-linejoin="round"/>
<polygon points="220.3,375.3 223.8,372.7 229,372.1 234.3,374.4 236.9,378.8 236,384.1 233.4,387.6 230.8,391.1 225.5,390.2 221.1,386.7 218.5,382.3 218.9,377.9" fill="#ffaeb9" stroke="#ffaeb9" stroke-width="0.8" stroke-linejoin="round"/>
<polygon points="229.9,391.9 234.3,390.7 237.8,392.8 239.5,396.3 238.7,401.6 237.8,406 234.3,407.7 231.6,406 231.6,399.8 229.9,395.4" fill="#ee00ee" stroke="#ee00ee" stroke-width="0.8" stroke-linejoin="round"/>
<polygon points="241.3,393.7 244.8,391.9 248.3,391.1 247.4,395.4 245.7,398.1 243,398.1 241.3,396.3" fill="#ff7f24" stroke="#ff7f24" stroke-width="0.8" stroke-linejoin="round"/>
<polygon points="251.8,381.4 254.4,382.3 257,385.8 258.8,391.1 261.4,395.4 264.9,398.9 265.8,402.4 262.3,404.2 257.9,403.3 254.4,400.7 252.7,396.3 255.3,392.8 254.4,387.6 252.1,384.1" fill="#8470ff" stroke="#8470ff" stroke-width="0.8" stroke-linejoin="round"/>
<circle cx="299.1" cy="370" r="0.6" fill="#5cb0f8"/>
<circle cx="300.8" cy="371.8" r="0.6" fill="#5cb0f8"/>
<circle cx="302.6" cy="370.9" r="0.6" fill="#5cb0f8"/>
<circle cx="305.2" cy="370" r="0.6" fill="#5cb0f8"/>
<circle cx="306.1" cy="372.7" r="0.6" fill="#5cb0f8"/>
<circle cx="303.5" cy="374.4" r="0.6" fill="#5cb0f8"/>
<circle cx="298.7" cy="375.3" r="0.6" fill="#5cb0f8"/>
<circle cx="300" cy="387.6" r="0.6" fill="#5cb0f8"/>
<circle cx="299.1" cy="396.3" r="0.6" fill="#5cb0f8"/>
<circle cx="301.7" cy="372.7" r="0.6" fill="#5cb0f8"/>
<circle cx="304.3" cy="369.2" r="0.6" fill="#5cb0f8"/>
<circle cx="307" cy="370.9" r="0.6" fill="#5cb0f8"/>
<g fill="url(#wdots)" opacity="0.8">
<polygon points="274.3,346.3 267.1,347.6 261.2,350.4 256,354.7 251.9,360.1 249,365.6 247.7,369.6 250.6,370.5 251.8,366.8 254.5,361.7 258.1,356.7 262.7,352.9 268,350.4 274.8,349.3"/>
<polygon points="248.3,369.2 241.3,372.7 237.8,377 234.3,382.3 233.4,387.6 237.8,391.1 243,392.8 248.3,391.1 252.1,387.6 253.2,381.4 252.5,376.2 252.5,370.9"/>
<polygon points="272.8,347.6 281.6,345.9 292.1,344.1 297.3,343.4 300.8,344.6 302.6,347.3 305.2,352.5 308.7,356.9 309.6,357.8 307.9,363 305.2,365.7 302.6,367.4 300,369.2 297.3,372.7 294.7,370.9 292.1,365.7 289.5,360.4 286,354.3 282.4,350.8 278.1,349 272.8,349"/>
<polygon points="309.3,356.9 313.1,356.9 318.4,359.5 323.6,361.3 325,363 321.9,364.8 316.6,365.1 311.4,365.7 307.5,363.9 308.4,359.5"/>
<polygon points="220.3,375.3 223.8,372.7 229,372.1 234.3,374.4 236.9,378.8 236,384.1 233.4,387.6 230.8,391.1 225.5,390.2 221.1,386.7 218.5,382.3 218.9,377.9"/>
<polygon points="229.9,391.9 234.3,390.7 237.8,392.8 239.5,396.3 238.7,401.6 237.8,406 234.3,407.7 231.6,406 231.6,399.8 229.9,395.4"/>
<polygon points="241.3,393.7 244.8,391.9 248.3,391.1 247.4,395.4 245.7,398.1 243,398.1 241.3,396.3"/>
<polygon points="251.8,381.4 254.4,382.3 257,385.8 258.8,391.1 261.4,395.4 264.9,398.9 265.8,402.4 262.3,404.2 257.9,403.3 254.4,400.7 252.7,396.3 255.3,392.8 254.4,387.6 252.1,384.1"/>
</g>
<polygon points="340,375 345.3,372.4 352.3,372.4 357.6,374.2 360.3,377.7 361.1,382 359.4,386.4 355.9,389.1 352.3,390.8 347.1,392.6 342.7,392.6 340,389.1 339.1,383.8 339.1,378.5" fill="#ffaeb9" stroke="#ffaeb9" stroke-width="0.8" stroke-linejoin="round"/>
<polygon points="354.1,374.2 359.4,372.4 364.6,371.5 368.5,374.2 371.3,380.3 372.6,385.9 370.8,389.9 367.3,391.2 362.9,390.8 359.4,389.4 356.7,383.8" fill="#eedd82" stroke="#eedd82" stroke-width="0.8" stroke-linejoin="round"/>
<polygon points="351.5,394.3 355.9,392.6 359.4,393.4 361.1,397.8 362.9,402.2 360.3,405.7 356.7,407.4 353.2,406.6 351.5,403.1 350.6,398.7" fill="#ee00ee" stroke="#ee00ee" stroke-width="0.8" stroke-linejoin="round"/>
<polygon points="365.5,392.6 368.2,391.7 369,396.1 367.3,397.8 365.5,396.1" fill="#ff7f24" stroke="#ff7f24" stroke-width="0.8" stroke-linejoin="round"/>
<polygon points="370.8,389.9 374.3,387.3 377.8,388.2 380.5,390.8 383.1,394.3 385.8,397.8 386.6,401.3 384,403.9 379.6,403.9 376.1,402.2 372.6,399.6 370.8,396.1 369.9,392.6" fill="#8470ff" stroke="#8470ff" stroke-width="0.8" stroke-linejoin="round"/>
<polygon points="417.4,372.4 422.7,371.5 426.2,371.2 428.9,372.4 430.6,375.9 430.6,380.3 429.7,384.7 428,389.1 426.2,392.6 423.6,394.3 420.1,392.6 418.3,389.1 417.4,385.9 412.1,385.6 406.9,386.1 406,384.7 411.3,382.9 416.5,381.2 417.1,376.8" fill="#5cb0f8" stroke="#5cb0f8" stroke-width="0.8" stroke-linejoin="round"/>
<polygon points="417.1,392.2 422.7,392.6 427.6,392.9 428,399.6 427.1,404.8 425.3,411 424.5,415.3 421.8,412.7 419.2,408.3 416.5,403.1 415.7,397.8" fill="#e8cce8" stroke="#e8cce8" stroke-width="0.8" stroke-linejoin="round"/>
<polygon points="423.2,415 425.2,414.3 429.7,418.8 431.1,424.1 430.6,431.1 428.9,438.1 426.2,445.1 423.6,449.5 420.1,453 415.7,453 413.5,449.5 414.8,443.4 418.3,438.1 420.9,432.9 422.7,426.7 423.6,421.5" fill="#fa6a4c" stroke="#fa6a4c" stroke-width="0.8" stroke-linejoin="round"/>
<polygon points="429.7,372.4 433.2,368.9 438.5,364.5 440.3,363.7 439.4,365.4 435,369.8 431.1,373.3" fill="#2e8b57" stroke="#2e8b57" stroke-width="0.8" stroke-linejoin="round"/>
<g fill="url(#wdots)" opacity="0.8">
<polygon points="340,375 345.3,372.4 352.3,372.4 357.6,374.2 360.3,377.7 361.1,382 359.4,386.4 355.9,389.1 352.3,390.8 347.1,392.6 342.7,392.6 340,389.1 339.1,383.8 339.1,378.5"/>
<polygon points="354.1,374.2 359.4,372.4 364.6,371.5 368.5,374.2 371.3,380.3 372.6,385.9 370.8,389.9 367.3,391.2 362.9,390.8 359.4,389.4 356.7,383.8"/>
<polygon points="351.5,394.3 355.9,392.6 359.4,393.4 361.1,397.8 362.9,402.2 360.3,405.7 356.7,407.4 353.2,406.6 351.5,403.1 350.6,398.7"/>
<polygon points="365.5,392.6 368.2,391.7 369,396.1 367.3,397.8 365.5,396.1"/>
<polygon points="370.8,389.9 374.3,387.3 377.8,388.2 380.5,390.8 383.1,394.3 385.8,397.8 386.6,401.3 384,403.9 379.6,403.9 376.1,402.2 372.6,399.6 370.8,396.1 369.9,392.6"/>
<polygon points="417.4,372.4 422.7,371.5 426.2,371.2 428.9,372.4 430.6,375.9 430.6,380.3 429.7,384.7 428,389.1 426.2,392.6 423.6,394.3 420.1,392.6 418.3,389.1 417.4,385.9 412.1,385.6 406.9,386.1 406,384.7 411.3,382.9 416.5,381.2 417.1,376.8"/>
<polygon points="417.1,392.2 422.7,392.6 427.6,392.9 428,399.6 427.1,404.8 425.3,411 424.5,415.3 421.8,412.7 419.2,408.3 416.5,403.1 415.7,397.8"/>
<polygon points="423.2,415 425.2,414.3 429.7,418.8 431.1,424.1 430.6,431.1 428.9,438.1 426.2,445.1 423.6,449.5 420.1,453 415.7,453 413.5,449.5 414.8,443.4 418.3,438.1 420.9,432.9 422.7,426.7 423.6,421.5"/>
<polygon points="429.7,372.4 433.2,368.9 438.5,364.5 440.3,363.7 439.4,365.4 435,369.8 431.1,373.3"/>
</g>
<circle cx="372.1" cy="360.2" r="0.6" fill="#e0cf70"/>
<circle cx="367.4" cy="369" r="0.6" fill="#e0cf70"/>
<circle cx="378.2" cy="354.7" r="0.6" fill="#e0cf70"/>
<circle cx="362.7" cy="372.7" r="0.6" fill="#e0cf70"/>
<circle cx="362.6" cy="373.1" r="0.6" fill="#e0cf70"/>
<circle cx="370.9" cy="362.9" r="0.6" fill="#e0cf70"/>
<circle cx="375.7" cy="357.7" r="0.6" fill="#e0cf70"/>
<circle cx="373.9" cy="358.6" r="0.6" fill="#e0cf70"/>
<circle cx="380.6" cy="352.3" r="0.6" fill="#e0cf70"/>
<circle cx="365.4" cy="371.5" r="0.6" fill="#e0cf70"/>
<circle cx="377.4" cy="357.1" r="0.6" fill="#e0cf70"/>
<circle cx="381.2" cy="353.1" r="0.6" fill="#e0cf70"/>
<circle cx="377.7" cy="357.3" r="0.6" fill="#e0cf70"/>
<circle cx="372.7" cy="360.9" r="0.6" fill="#e0cf70"/>
<circle cx="366.4" cy="367.5" r="0.6" fill="#e0cf70"/>
<circle cx="366" cy="367.8" r="0.6" fill="#e0cf70"/>
<circle cx="372.9" cy="360.5" r="0.6" fill="#e0cf70"/>
<circle cx="366" cy="370" r="0.6" fill="#e0cf70"/>
<circle cx="373.7" cy="359.7" r="0.6" fill="#e0cf70"/>
<circle cx="374" cy="358.5" r="0.6" fill="#e0cf70"/>
<circle cx="382.3" cy="352.7" r="0.6" fill="#e0cf70"/>
<circle cx="374.9" cy="360.4" r="0.6" fill="#e0cf70"/>
<circle cx="365.8" cy="368" r="0.6" fill="#e0cf70"/>
<circle cx="366.8" cy="368.8" r="0.6" fill="#e0cf70"/>
<circle cx="378.3" cy="355.7" r="0.6" fill="#e0cf70"/>
<circle cx="370.4" cy="365.4" r="0.6" fill="#e0cf70"/>
<circle cx="366.9" cy="367.9" r="0.6" fill="#e0cf70"/>
<circle cx="367.7" cy="368.8" r="0.6" fill="#e0cf70"/>
<circle cx="396.3" cy="348.3" r="0.5" fill="#80e880"/>
<circle cx="397.6" cy="346.8" r="0.5" fill="#80e880"/>
<circle cx="392.8" cy="348.6" r="0.5" fill="#80e880"/>
<circle cx="396.4" cy="347.4" r="0.5" fill="#80e880"/>
<circle cx="405.1" cy="350.3" r="0.5" fill="#80e880"/>
<circle cx="402.5" cy="349.3" r="0.5" fill="#80e880"/>
<circle cx="400.7" cy="347.9" r="0.5" fill="#80e880"/>
<circle cx="399.5" cy="347.9" r="0.5" fill="#80e880"/>
<circle cx="398.1" cy="348" r="0.5" fill="#80e880"/>
<circle cx="394.7" cy="347.4" r="0.5" fill="#80e880"/>
<circle cx="426.4" cy="371.9" r="0.5" fill="#80e880"/>
<circle cx="415.6" cy="366.2" r="0.5" fill="#80e880"/>
<circle cx="421.1" cy="354.3" r="0.5" fill="#80e880"/>
<circle cx="423.8" cy="363.7" r="0.5" fill="#80e880"/>
<circle cx="424.1" cy="363.5" r="0.5" fill="#80e880"/>
<circle cx="410.4" cy="358.5" r="0.5" fill="#80e880"/>
<circle cx="410.7" cy="373.3" r="0.5" fill="#80e880"/>
<circle cx="425.8" cy="370.9" r="0.5" fill="#80e880"/>
<circle cx="415.8" cy="351.9" r="0.5" fill="#80e880"/>
<circle cx="425.8" cy="373.7" r="0.5" fill="#80e880"/>
<circle cx="411.9" cy="362.4" r="0.5" fill="#80e880"/>
<circle cx="411.6" cy="369.2" r="0.5" fill="#80e880"/>
<circle cx="423.9" cy="353.7" r="0.5" fill="#80e880"/>
<circle cx="418.7" cy="364" r="0.5" fill="#80e880"/>
<circle cx="415" cy="371.9" r="0.5" fill="#80e880"/>
<circle cx="417.8" cy="355.7" r="0.5" fill="#80e880"/>
<circle cx="419.9" cy="368.4" r="0.5" fill="#80e880"/>
<circle cx="413.9" cy="358.2" r="0.5" fill="#80e880"/>
<circle cx="427.9" cy="366.5" r="0.5" fill="#80e880"/>
<circle cx="418.1" cy="363.2" r="0.5" fill="#80e880"/>
<circle cx="412.5" cy="356" r="0.5" fill="#80e880"/>
<circle cx="416.3" cy="364.9" r="0.5" fill="#80e880"/>
<circle cx="414.4" cy="355.9" r="0.5" fill="#80e880"/>
<circle cx="411.6" cy="366" r="0.5" fill="#80e880"/>
<circle cx="414.4" cy="372.7" r="0.5" fill="#80e880"/>
<circle cx="425.5" cy="352.2" r="0.5" fill="#80e880"/>
<circle cx="414.6" cy="366.9" r="0.5" fill="#80e880"/>
<circle cx="414.1" cy="353.8" r="0.5" fill="#80e880"/>
<circle cx="426.8" cy="364.5" r="0.5" fill="#80e880"/>
<circle cx="418.7" cy="369.8" r="0.5" fill="#80e880"/>
<line x1="213.5" y1="337.5" x2="213.5" y2="459" stroke="#000" stroke-width="1"/>
<line x1="210.5" y1="357.2" x2="213.5" y2="357.2" stroke="#000" stroke-width="1"/>
<text x="210" y="360.4" font-size="9" text-anchor="end" fill="#222">5</text>
<line x1="210.5" y1="382.4" x2="213.5" y2="382.4" stroke="#000" stroke-width="1"/>
<text x="210" y="385.6" font-size="9" text-anchor="end" fill="#222">0</text>
<line x1="210.5" y1="408" x2="213.5" y2="408" stroke="#000" stroke-width="1"/>
<text x="210" y="411.2" font-size="9" text-anchor="end" fill="#222">-5</text>
<line x1="210.5" y1="433.4" x2="213.5" y2="433.4" stroke="#000" stroke-width="1"/>
<text x="210" y="436.6" font-size="9" text-anchor="end" fill="#222">-10</text>
<line x1="210.5" y1="459" x2="213.5" y2="459" stroke="#000" stroke-width="1"/>
<text x="210" y="462.2" font-size="9" text-anchor="end" fill="#222">-15</text>
<line x1="213.5" y1="459" x2="329" y2="459" stroke="#000" stroke-width="1"/>
<line x1="227.7" y1="459" x2="227.7" y2="462" stroke="#000" stroke-width="1"/>
<text x="227.7" y="470" font-size="9" text-anchor="middle" fill="#222">-10</text>
<line x1="252.4" y1="459" x2="252.4" y2="462" stroke="#000" stroke-width="1"/>
<text x="252.4" y="470" font-size="9" text-anchor="middle" fill="#222">-5</text>
<line x1="277.4" y1="459" x2="277.4" y2="462" stroke="#000" stroke-width="1"/>
<text x="277.4" y="470" font-size="9" text-anchor="middle" fill="#222">0</text>
<line x1="302.1" y1="459" x2="302.1" y2="462" stroke="#000" stroke-width="1"/>
<text x="302.1" y="470" font-size="9" text-anchor="middle" fill="#222">5</text>
<line x1="326.9" y1="459" x2="326.9" y2="462" stroke="#000" stroke-width="1"/>
<text x="326.9" y="470" font-size="9" text-anchor="middle" fill="#222">10</text>
<line x1="334.4" y1="459" x2="451.5" y2="459" stroke="#000" stroke-width="1"/>
<line x1="348.6" y1="459" x2="348.6" y2="462" stroke="#000" stroke-width="1"/>
<text x="348.6" y="470" font-size="9" text-anchor="middle" fill="#222">-10</text>
<line x1="373.4" y1="459" x2="373.4" y2="462" stroke="#000" stroke-width="1"/>
<text x="373.4" y="470" font-size="9" text-anchor="middle" fill="#222">-5</text>
<line x1="398.3" y1="459" x2="398.3" y2="462" stroke="#000" stroke-width="1"/>
<text x="398.3" y="470" font-size="9" text-anchor="middle" fill="#222">0</text>
<line x1="423" y1="459" x2="423" y2="462" stroke="#000" stroke-width="1"/>
<text x="423" y="470" font-size="9" text-anchor="middle" fill="#222">5</text>
<line x1="448.2" y1="459" x2="448.2" y2="462" stroke="#000" stroke-width="1"/>
<text x="448.2" y="470" font-size="9" text-anchor="middle" fill="#222">10</text>
<text x="332.4" y="478.5" font-size="9.5" text-anchor="middle" fill="#222">UMAP_2</text>
<text x="197" y="398.8" font-size="9.5" text-anchor="middle" fill="#222" transform="rotate(-90 197 398.8)">UMAP_1</text>
<text x="270.4" y="332" font-size="10" text-anchor="middle" font-weight="bold">WT</text>
<line x1="220" y1="335.8" x2="325" y2="335.8" stroke="#000" stroke-width="1"/>
<text x="393" y="332" font-size="10" text-anchor="middle" font-weight="bold">KO</text>
<line x1="340" y1="335.8" x2="445.4" y2="335.8" stroke="#000" stroke-width="1"/>
<text x="296.5" y="359" font-size="9" text-anchor="middle" fill="#111">PP2</text>
<text x="322.2" y="358.1" font-size="9" text-anchor="middle" fill="#111">PP1</text>
<text x="302.2" y="387.4" font-size="9" text-anchor="middle" fill="#111">MLP1</text>
<text x="226.9" y="385" font-size="9" text-anchor="middle" fill="#111">EC</text>
<text x="246.2" y="378.6" font-size="9" text-anchor="middle" fill="#111">EP</text>
<text x="267.6" y="396.2" font-size="9" text-anchor="middle" fill="#111">MH</text>
<text x="245.8" y="406.3" font-size="9" text-anchor="middle" fill="#111">δ</text>
<text x="235.3" y="415.1" font-size="9" text-anchor="middle" fill="#111">SC-β</text>
<text x="415.2" y="359.6" font-size="9" text-anchor="middle" fill="#111">PP2</text>
<text x="439.2" y="364.9" font-size="9" text-anchor="middle" fill="#111">PP1</text>
<text x="422.2" y="385.4" font-size="9" text-anchor="middle" fill="#111">MLP1</text>
<text x="347.3" y="385" font-size="9" text-anchor="middle" fill="#111">EC</text>
<text x="363.9" y="383.3" font-size="9" text-anchor="middle" fill="#111">EP</text>
<text x="388.4" y="398.2" font-size="9" text-anchor="middle" fill="#111">MH</text>
<text x="367.9" y="404" font-size="9" text-anchor="middle" fill="#111">δ</text>
<text x="356.4" y="415.2" font-size="9" text-anchor="middle" fill="#111">SC-β</text>
<text x="420" y="405.2" font-size="9" text-anchor="middle" fill="#111">MLP2</text>
<text x="422.6" y="440.8" font-size="9" text-anchor="middle" fill="#111">ML</text>
<text x="461.8" y="335.6" font-size="23">F</text>
<rect x="506.7" y="456.8" width="17.2" height="5.9" fill="#ee00ee"/>
<rect x="506.7" y="455" width="17.2" height="1.8" fill="#ff7f24"/>
<rect x="506.7" y="448" width="17.2" height="7.1" fill="#8470ff"/>
<rect x="506.7" y="440.7" width="17.2" height="7.3" fill="#ffaeb9"/>
<rect x="506.7" y="415.2" width="17.2" height="25.6" fill="#eedd82"/>
<rect x="506.7" y="356.6" width="17.2" height="58.7" fill="#98f598"/>
<rect x="506.7" y="345.6" width="17.2" height="11" fill="#2e8b57"/>
<rect x="525.9" y="453.8" width="17.2" height="8.8" fill="#ee00ee"/>
<rect x="525.9" y="452.2" width="17.2" height="1.7" fill="#ff7f24"/>
<rect x="525.9" y="441.7" width="17.2" height="10.6" fill="#8470ff"/>
<rect x="525.9" y="423.2" width="17.2" height="18.5" fill="#ffaeb9"/>
<rect x="525.9" y="418.1" width="17.2" height="5.1" fill="#eedd82"/>
<rect x="525.9" y="416.5" width="17.2" height="1.7" fill="#98f598"/>
<rect x="525.9" y="390.2" width="17.2" height="26.4" fill="#5cb0f8"/>
<rect x="525.9" y="372.6" width="17.2" height="17.6" fill="#e8cce8"/>
<rect x="525.9" y="345.6" width="17.2" height="27.1" fill="#fa6a4c"/>
<line x1="503.5" y1="338.5" x2="503.5" y2="468.5" stroke="#333" stroke-width="1"/>
<line x1="503.8" y1="468.8" x2="545" y2="468.8" stroke="#999" stroke-width="1"/>
<line x1="501" y1="345.6" x2="503.8" y2="345.6" stroke="#333" stroke-width="0.9"/>
<text x="499.5" y="348.9" font-size="9.5" text-anchor="end" fill="#222">100</text>
<line x1="501" y1="404.1" x2="503.8" y2="404.1" stroke="#333" stroke-width="0.9"/>
<text x="499.5" y="407.4" font-size="9.5" text-anchor="end" fill="#222">50</text>
<line x1="501" y1="462.6" x2="503.8" y2="462.6" stroke="#333" stroke-width="0.9"/>
<text x="499.5" y="465.9" font-size="9.5" text-anchor="end" fill="#222">0</text>
<line x1="515.3" y1="468.8" x2="515.3" y2="471.5" stroke="#333" stroke-width="0.9"/>
<line x1="534.5" y1="468.8" x2="534.5" y2="471.5" stroke="#333" stroke-width="0.9"/>
<text x="515.3" y="480" font-size="9.5" text-anchor="middle" fill="#222">WT</text>
<text x="534.5" y="480" font-size="9.5" text-anchor="middle" fill="#222">KO</text>
<text x="484.2" y="404.1" font-size="9" text-anchor="middle" fill="#222" transform="rotate(-90 484.2 404.1)">Percent of cells</text>
<rect x="560.4" y="350" width="10.7" height="10.8" fill="#fa6a4c"/>
<text x="576.6" y="359" font-size="10" fill="#222">ML</text>
<text x="612" y="359" font-size="10" text-anchor="middle" fill="#222">0</text>
<text x="635.8" y="359" font-size="10" text-anchor="middle" fill="#222">23</text>
<rect x="560.4" y="362.1" width="10.7" height="10.8" fill="#e8cce8"/>
<text x="576.6" y="371.1" font-size="10" fill="#222">MLP2</text>
<text x="612" y="371.1" font-size="10" text-anchor="middle" fill="#222">0</text>
<text x="635.8" y="371.1" font-size="10" text-anchor="middle" fill="#222">15</text>
<rect x="560.4" y="374.1" width="10.7" height="10.8" fill="#5cb0f8"/>
<text x="576.6" y="383.1" font-size="10" fill="#222">MLP1</text>
<text x="612" y="383.1" font-size="10" text-anchor="middle" fill="#222">&lt;1</text>
<text x="635.8" y="383.1" font-size="10" text-anchor="middle" fill="#222">22</text>
<rect x="560.4" y="386.2" width="10.7" height="10.8" fill="#2e8b57"/>
<text x="576.6" y="395.2" font-size="10" fill="#222">PP1</text>
<text x="612" y="395.2" font-size="10" text-anchor="middle" fill="#222">9</text>
<text x="635.8" y="395.2" font-size="10" text-anchor="middle" fill="#222">&lt;1</text>
<rect x="560.4" y="398.3" width="10.7" height="10.8" fill="#98f598"/>
<text x="576.6" y="407.3" font-size="10" fill="#222">PP2</text>
<text x="612" y="407.3" font-size="10" text-anchor="middle" fill="#222">50</text>
<text x="635.8" y="407.3" font-size="10" text-anchor="middle" fill="#222">1</text>
<rect x="560.4" y="410.4" width="10.7" height="10.8" fill="#eedd82"/>
<text x="576.6" y="419.4" font-size="10" fill="#222">EP</text>
<text x="612" y="419.4" font-size="10" text-anchor="middle" fill="#222">22</text>
<text x="635.8" y="419.4" font-size="10" text-anchor="middle" fill="#222">4</text>
<rect x="560.4" y="422.4" width="10.7" height="10.8" fill="#ffaeb9"/>
<text x="576.6" y="431.4" font-size="10" fill="#222">EC</text>
<text x="612" y="431.4" font-size="10" text-anchor="middle" fill="#222">6</text>
<text x="635.8" y="431.4" font-size="10" text-anchor="middle" fill="#222">16</text>
<rect x="560.4" y="434.5" width="10.7" height="10.8" fill="#8470ff"/>
<text x="576.6" y="443.5" font-size="10" fill="#222">MH</text>
<text x="612" y="443.5" font-size="10" text-anchor="middle" fill="#222">6</text>
<text x="635.8" y="443.5" font-size="10" text-anchor="middle" fill="#222">9</text>
<rect x="560.4" y="446.6" width="10.7" height="10.8" fill="#ff7f24"/>
<text x="576.6" y="455.6" font-size="10" fill="#222">δ</text>
<text x="612" y="455.6" font-size="10" text-anchor="middle" fill="#222">1</text>
<text x="635.8" y="455.6" font-size="10" text-anchor="middle" fill="#222">1</text>
<rect x="560.4" y="458.6" width="10.7" height="10.8" fill="#ee00ee"/>
<text x="576.6" y="467.6" font-size="10" fill="#222">SC-β</text>
<text x="612" y="467.6" font-size="10" text-anchor="middle" fill="#222">5</text>
<text x="635.8" y="467.6" font-size="10" text-anchor="middle" fill="#222">7</text>
<text x="622" y="336.5" font-size="10" text-anchor="middle" fill="#222">% of</text>
<text x="612" y="347.5" font-size="10" text-anchor="middle" fill="#222">WT</text>
<text x="635.8" y="347.5" font-size="10" text-anchor="middle" fill="#222">KO</text>
<circle cx="62.7" cy="536.6" r="4.9" fill="#cdbcf7"/>
<circle cx="73.2" cy="536.6" r="4" fill="#fbbea8"/>
<circle cx="83.6" cy="536.6" r="4.9" fill="#fcdcd2"/>
<circle cx="94" cy="536.6" r="4.4" fill="#fcdcd2"/>
<circle cx="104.5" cy="536.6" r="3.6" fill="#f8987e"/>
<circle cx="115" cy="536.6" r="4.4" fill="#fbbea8"/>
<circle cx="125.4" cy="536.6" r="4.9" fill="#fbbea8"/>
<circle cx="135.8" cy="536.6" r="5.1" fill="#ef3a1c"/>
<circle cx="146.3" cy="536.6" r="4.9" fill="#f8987e"/>
<circle cx="156.8" cy="536.6" r="3.6" fill="#ef3a1c"/>
<circle cx="167.2" cy="536.6" r="4.2" fill="#e8e0fb"/>
<circle cx="177.6" cy="536.6" r="0.6" fill="#cdbcf7"/>
<circle cx="188.1" cy="536.6" r="0.6" fill="#cdbcf7"/>
<circle cx="198.6" cy="536.6" r="0.6" fill="#cdbcf7"/>
<circle cx="209" cy="536.6" r="0.6" fill="#cdbcf7"/>
<circle cx="219.4" cy="536.6" r="1.3" fill="#cdbcf7"/>
<circle cx="229.9" cy="536.6" r="5" fill="#cdbcf7"/>
<circle cx="240.3" cy="536.6" r="4.3" fill="#ab8af5"/>
<circle cx="250.8" cy="536.6" r="2.6" fill="#ab8af5"/>
<circle cx="261.2" cy="536.6" r="5.4" fill="#cdbcf7"/>
<circle cx="271.7" cy="536.6" r="2.2" fill="#fcdcd2"/>
<circle cx="282.1" cy="536.6" r="1.1" fill="#cdbcf7"/>
<circle cx="292.6" cy="536.6" r="0.6" fill="#cdbcf7"/>
<circle cx="62.7" cy="547.2" r="4.9" fill="#fcdcd2"/>
<circle cx="73.2" cy="547.2" r="4.7" fill="#fbbea8"/>
<circle cx="83.6" cy="547.2" r="5.1" fill="#f8987e"/>
<circle cx="94" cy="547.2" r="4.2" fill="#cdbcf7"/>
<circle cx="104.5" cy="547.2" r="4.2" fill="#fbbea8"/>
<circle cx="115" cy="547.2" r="4.7" fill="#fbbea8"/>
<circle cx="125.4" cy="547.2" r="5.1" fill="#f8987e"/>
<circle cx="135.8" cy="547.2" r="4.9" fill="#f8987e"/>
<circle cx="146.3" cy="547.2" r="5.1" fill="#f8987e"/>
<circle cx="156.8" cy="547.2" r="4" fill="#f36a4a"/>
<circle cx="167.2" cy="547.2" r="2.7" fill="#ab8af5"/>
<circle cx="177.6" cy="547.2" r="0.6" fill="#cdbcf7"/>
<circle cx="188.1" cy="547.2" r="0.6" fill="#cdbcf7"/>
<circle cx="198.6" cy="547.2" r="0.6" fill="#cdbcf7"/>
<circle cx="209" cy="547.2" r="0.6" fill="#cdbcf7"/>
<circle cx="219.4" cy="547.2" r="1.3" fill="#cdbcf7"/>
<circle cx="229.9" cy="547.2" r="5" fill="#ab8af5"/>
<circle cx="240.3" cy="547.2" r="4.7" fill="#8b60f5"/>
<circle cx="250.8" cy="547.2" r="3.4" fill="#cdbcf7"/>
<circle cx="261.2" cy="547.2" r="5.2" fill="#cdbcf7"/>
<circle cx="271.7" cy="547.2" r="1.8" fill="#f5f1f8"/>
<circle cx="282.1" cy="547.2" r="0.6" fill="#cdbcf7"/>
<circle cx="292.6" cy="547.2" r="0.6" fill="#cdbcf7"/>
<circle cx="62.7" cy="558.1" r="5.1" fill="#f36a4a"/>
<circle cx="73.2" cy="558.1" r="4.2" fill="#fbbea8"/>
<circle cx="83.6" cy="558.1" r="4.4" fill="#ab8af5"/>
<circle cx="94" cy="558.1" r="2.7" fill="#ab8af5"/>
<circle cx="104.5" cy="558.1" r="0.9" fill="#ab8af5"/>
<circle cx="115" cy="558.1" r="4.7" fill="#f36a4a"/>
<circle cx="125.4" cy="558.1" r="4.9" fill="#fcdcd2"/>
<circle cx="135.8" cy="558.1" r="4.7" fill="#fcdcd2"/>
<circle cx="146.3" cy="558.1" r="4.2" fill="#fcdcd2"/>
<circle cx="156.8" cy="558.1" r="1.6" fill="#cdbcf7"/>
<circle cx="167.2" cy="558.1" r="5.1" fill="#f36a4a"/>
<circle cx="177.6" cy="558.1" r="3.7" fill="#ef3a1c"/>
<circle cx="188.1" cy="558.1" r="2.4" fill="#ef3a1c"/>
<circle cx="198.6" cy="558.1" r="0.8" fill="#f36a4a"/>
<circle cx="209" cy="558.1" r="0.7" fill="#fcdcd2"/>
<circle cx="219.4" cy="558.1" r="0.6" fill="#e8e0fb"/>
<circle cx="229.9" cy="558.1" r="5" fill="#e8e0fb"/>
<circle cx="240.3" cy="558.1" r="4.7" fill="#fbbea8"/>
<circle cx="250.8" cy="558.1" r="2.4" fill="#cdbcf7"/>
<circle cx="261.2" cy="558.1" r="5.2" fill="#fcdcd2"/>
<circle cx="271.7" cy="558.1" r="0.6" fill="#cdbcf7"/>
<circle cx="282.1" cy="558.1" r="0.6" fill="#cdbcf7"/>
<circle cx="292.6" cy="558.1" r="0.6" fill="#cdbcf7"/>
<circle cx="62.7" cy="568.9" r="5.1" fill="#f36a4a"/>
<circle cx="73.2" cy="568.9" r="4.2" fill="#fcdcd2"/>
<circle cx="83.6" cy="568.9" r="4.9" fill="#cdbcf7"/>
<circle cx="94" cy="568.9" r="2.7" fill="#8b60f5"/>
<circle cx="104.5" cy="568.9" r="0.9" fill="#ab8af5"/>
<circle cx="115" cy="568.9" r="4.7" fill="#f8987e"/>
<circle cx="125.4" cy="568.9" r="5.1" fill="#fbbea8"/>
<circle cx="135.8" cy="568.9" r="4.6" fill="#cdbcf7"/>
<circle cx="146.3" cy="568.9" r="4.7" fill="#fcdcd2"/>
<circle cx="156.8" cy="568.9" r="1.6" fill="#ab8af5"/>
<circle cx="167.2" cy="568.9" r="4.2" fill="#f36a4a"/>
<circle cx="177.6" cy="568.9" r="3.7" fill="#f8987e"/>
<circle cx="188.1" cy="568.9" r="3" fill="#f8987e"/>
<circle cx="198.6" cy="568.9" r="0.9" fill="#ef3a1c"/>
<circle cx="209" cy="568.9" r="0.6" fill="#cdbcf7"/>
<circle cx="219.4" cy="568.9" r="0.6" fill="#cdbcf7"/>
<circle cx="229.9" cy="568.9" r="5" fill="#cdbcf7"/>
<circle cx="240.3" cy="568.9" r="4.9" fill="#fcdcd2"/>
<circle cx="250.8" cy="568.9" r="4.1" fill="#e8e0fb"/>
<circle cx="261.2" cy="568.9" r="5.6" fill="#f8987e"/>
<circle cx="271.7" cy="568.9" r="0.6" fill="#cdbcf7"/>
<circle cx="282.1" cy="568.9" r="0.6" fill="#cdbcf7"/>
<circle cx="292.6" cy="568.9" r="0.6" fill="#cdbcf7"/>
<circle cx="62.7" cy="579.6" r="4.4" fill="#f5f1f8"/>
<circle cx="73.2" cy="579.6" r="1.3" fill="#ab8af5"/>
<circle cx="83.6" cy="579.6" r="4.4" fill="#ab8af5"/>
<circle cx="94" cy="579.6" r="3.6" fill="#f8987e"/>
<circle cx="104.5" cy="579.6" r="2.2" fill="#fbbea8"/>
<circle cx="115" cy="579.6" r="2.5" fill="#f5f1f8"/>
<circle cx="125.4" cy="579.6" r="5.5" fill="#8b60f5"/>
<circle cx="135.8" cy="579.6" r="3.3" fill="#ab8af5"/>
<circle cx="146.3" cy="579.6" r="2" fill="#8b60f5"/>
<circle cx="156.8" cy="579.6" r="1.6" fill="#cdbcf7"/>
<circle cx="167.2" cy="579.6" r="4.4" fill="#e8e0fb"/>
<circle cx="177.6" cy="579.6" r="0.6" fill="#cdbcf7"/>
<circle cx="188.1" cy="579.6" r="0.6" fill="#cdbcf7"/>
<circle cx="198.6" cy="579.6" r="0.6" fill="#cdbcf7"/>
<circle cx="209" cy="579.6" r="1.9" fill="#ef3a1c"/>
<circle cx="219.4" cy="579.6" r="3.2" fill="#f36a4a"/>
<circle cx="229.9" cy="579.6" r="5.4" fill="#ef3a1c"/>
<circle cx="240.3" cy="579.6" r="4.5" fill="#fbbea8"/>
<circle cx="250.8" cy="579.6" r="3.2" fill="#fcdcd2"/>
<circle cx="261.2" cy="579.6" r="5" fill="#ab8af5"/>
<circle cx="271.7" cy="579.6" r="0.6" fill="#cdbcf7"/>
<circle cx="282.1" cy="579.6" r="1.9" fill="#fcdcd2"/>
<circle cx="292.6" cy="579.6" r="0.6" fill="#cdbcf7"/>
<circle cx="62.7" cy="590.4" r="4" fill="#f5f1f8"/>
<circle cx="73.2" cy="590.4" r="1.5" fill="#ab8af5"/>
<circle cx="83.6" cy="590.4" r="4.6" fill="#cdbcf7"/>
<circle cx="94" cy="590.4" r="3.8" fill="#fbbea8"/>
<circle cx="104.5" cy="590.4" r="2.4" fill="#fbbea8"/>
<circle cx="115" cy="590.4" r="2.4" fill="#e8e0fb"/>
<circle cx="125.4" cy="590.4" r="5.6" fill="#8b60f5"/>
<circle cx="135.8" cy="590.4" r="3.6" fill="#8b60f5"/>
<circle cx="146.3" cy="590.4" r="2" fill="#8b60f5"/>
<circle cx="156.8" cy="590.4" r="1.8" fill="#cdbcf7"/>
<circle cx="167.2" cy="590.4" r="2.7" fill="#cdbcf7"/>
<circle cx="177.6" cy="590.4" r="0.6" fill="#cdbcf7"/>
<circle cx="188.1" cy="590.4" r="0.6" fill="#cdbcf7"/>
<circle cx="198.6" cy="590.4" r="0.6" fill="#cdbcf7"/>
<circle cx="209" cy="590.4" r="1.3" fill="#fbbea8"/>
<circle cx="219.4" cy="590.4" r="2.6" fill="#f36a4a"/>
<circle cx="229.9" cy="590.4" r="4.9" fill="#f8987e"/>
<circle cx="240.3" cy="590.4" r="3.7" fill="#f5f1f8"/>
<circle cx="250.8" cy="590.4" r="4.1" fill="#f8987e"/>
<circle cx="261.2" cy="590.4" r="4.7" fill="#e8e0fb"/>
<circle cx="271.7" cy="590.4" r="0.6" fill="#cdbcf7"/>
<circle cx="282.1" cy="590.4" r="2.2" fill="#fcdcd2"/>
<circle cx="292.6" cy="590.4" r="0.6" fill="#cdbcf7"/>
<circle cx="62.7" cy="601.2" r="4.7" fill="#8b60f5"/>
<circle cx="73.2" cy="601.2" r="1.3" fill="#ab8af5"/>
<circle cx="83.6" cy="601.2" r="4.9" fill="#e8e0fb"/>
<circle cx="94" cy="601.2" r="4.6" fill="#fbbea8"/>
<circle cx="104.5" cy="601.2" r="3.6" fill="#fbbea8"/>
<circle cx="115" cy="601.2" r="2.5" fill="#ab8af5"/>
<circle cx="125.4" cy="601.2" r="5.1" fill="#cdbcf7"/>
<circle cx="135.8" cy="601.2" r="4" fill="#cdbcf7"/>
<circle cx="146.3" cy="601.2" r="3.3" fill="#e8e0fb"/>
<circle cx="156.8" cy="601.2" r="1.8" fill="#ab8af5"/>
<circle cx="167.2" cy="601.2" r="4.6" fill="#e8e0fb"/>
<circle cx="177.6" cy="601.2" r="0.6" fill="#cdbcf7"/>
<circle cx="188.1" cy="601.2" r="0.6" fill="#cdbcf7"/>
<circle cx="198.6" cy="601.2" r="0.6" fill="#cdbcf7"/>
<circle cx="209" cy="601.2" r="0.6" fill="#cdbcf7"/>
<circle cx="219.4" cy="601.2" r="1.5" fill="#e8e0fb"/>
<circle cx="229.9" cy="601.2" r="4.4" fill="#f5f1f8"/>
<circle cx="240.3" cy="601.2" r="4.1" fill="#ab8af5"/>
<circle cx="250.8" cy="601.2" r="4.9" fill="#fbbea8"/>
<circle cx="261.2" cy="601.2" r="5.2" fill="#f8987e"/>
<circle cx="271.7" cy="601.2" r="4.5" fill="#f36a4a"/>
<circle cx="282.1" cy="601.2" r="4.5" fill="#f36a4a"/>
<circle cx="292.6" cy="601.2" r="0.6" fill="#cdbcf7"/>
<circle cx="62.7" cy="611.9" r="4.7" fill="#ab8af5"/>
<circle cx="73.2" cy="611.9" r="1.1" fill="#8b60f5"/>
<circle cx="83.6" cy="611.9" r="4.9" fill="#fbbea8"/>
<circle cx="94" cy="611.9" r="4.7" fill="#f8987e"/>
<circle cx="104.5" cy="611.9" r="3.6" fill="#fbbea8"/>
<circle cx="115" cy="611.9" r="2.5" fill="#ab8af5"/>
<circle cx="125.4" cy="611.9" r="5.1" fill="#cdbcf7"/>
<circle cx="135.8" cy="611.9" r="4" fill="#ab8af5"/>
<circle cx="146.3" cy="611.9" r="3.3" fill="#ab8af5"/>
<circle cx="156.8" cy="611.9" r="0.9" fill="#f5f1f8"/>
<circle cx="167.2" cy="611.9" r="3.3" fill="#cdbcf7"/>
<circle cx="177.6" cy="611.9" r="0.6" fill="#cdbcf7"/>
<circle cx="188.1" cy="611.9" r="0.6" fill="#cdbcf7"/>
<circle cx="198.6" cy="611.9" r="0.6" fill="#cdbcf7"/>
<circle cx="209" cy="611.9" r="0.6" fill="#cdbcf7"/>
<circle cx="219.4" cy="611.9" r="1.3" fill="#cdbcf7"/>
<circle cx="229.9" cy="611.9" r="4.4" fill="#f5f1f8"/>
<circle cx="240.3" cy="611.9" r="4.1" fill="#ab8af5"/>
<circle cx="250.8" cy="611.9" r="5" fill="#f36a4a"/>
<circle cx="261.2" cy="611.9" r="5.2" fill="#f36a4a"/>
<circle cx="271.7" cy="611.9" r="3.9" fill="#f36a4a"/>
<circle cx="282.1" cy="611.9" r="4.1" fill="#f8987e"/>
<circle cx="292.6" cy="611.9" r="0.6" fill="#cdbcf7"/>
<circle cx="62.7" cy="622.5" r="4.6" fill="#cdbcf7"/>
<circle cx="73.2" cy="622.5" r="4.4" fill="#f8987e"/>
<circle cx="83.6" cy="622.5" r="4.4" fill="#cdbcf7"/>
<circle cx="94" cy="622.5" r="2.9" fill="#cdbcf7"/>
<circle cx="104.5" cy="622.5" r="0.9" fill="#cdbcf7"/>
<circle cx="115" cy="622.5" r="2.5" fill="#ab8af5"/>
<circle cx="125.4" cy="622.5" r="4.9" fill="#fbbea8"/>
<circle cx="135.8" cy="622.5" r="4" fill="#f5f1f8"/>
<circle cx="146.3" cy="622.5" r="3.3" fill="#f5f1f8"/>
<circle cx="156.8" cy="622.5" r="1.8" fill="#fcdcd2"/>
<circle cx="167.2" cy="622.5" r="4.4" fill="#e8e0fb"/>
<circle cx="177.6" cy="622.5" r="0.6" fill="#cdbcf7"/>
<circle cx="188.1" cy="622.5" r="0.6" fill="#cdbcf7"/>
<circle cx="198.6" cy="622.5" r="0.6" fill="#cdbcf7"/>
<circle cx="209" cy="622.5" r="0.6" fill="#cdbcf7"/>
<circle cx="219.4" cy="622.5" r="0.6" fill="#cdbcf7"/>
<circle cx="229.9" cy="622.5" r="4.5" fill="#fcdcd2"/>
<circle cx="240.3" cy="622.5" r="4.7" fill="#f8987e"/>
<circle cx="250.8" cy="622.5" r="1.9" fill="#ab8af5"/>
<circle cx="261.2" cy="622.5" r="5.2" fill="#cdbcf7"/>
<circle cx="271.7" cy="622.5" r="0.6" fill="#cdbcf7"/>
<circle cx="282.1" cy="622.5" r="0.9" fill="#cdbcf7"/>
<circle cx="292.6" cy="622.5" r="3.2" fill="#f36a4a"/>
<circle cx="62.7" cy="633.1" r="4.7" fill="#cdbcf7"/>
<circle cx="73.2" cy="633.1" r="4.4" fill="#fbbea8"/>
<circle cx="83.6" cy="633.1" r="4.9" fill="#f36a4a"/>
<circle cx="94" cy="633.1" r="3.1" fill="#ab8af5"/>
<circle cx="104.5" cy="633.1" r="0.9" fill="#cdbcf7"/>
<circle cx="115" cy="633.1" r="2.2" fill="#8b60f5"/>
<circle cx="125.4" cy="633.1" r="5.1" fill="#fbbea8"/>
<circle cx="135.8" cy="633.1" r="4.4" fill="#fcdcd2"/>
<circle cx="146.3" cy="633.1" r="4.6" fill="#fbbea8"/>
<circle cx="156.8" cy="633.1" r="2" fill="#e8e0fb"/>
<circle cx="167.2" cy="633.1" r="3.8" fill="#cdbcf7"/>
<circle cx="177.6" cy="633.1" r="0.6" fill="#cdbcf7"/>
<circle cx="188.1" cy="633.1" r="0.6" fill="#cdbcf7"/>
<circle cx="198.6" cy="633.1" r="0.6" fill="#cdbcf7"/>
<circle cx="209" cy="633.1" r="0.6" fill="#cdbcf7"/>
<circle cx="219.4" cy="633.1" r="0.9" fill="#cdbcf7"/>
<circle cx="229.9" cy="633.1" r="4.9" fill="#e8e0fb"/>
<circle cx="240.3" cy="633.1" r="4.9" fill="#fbbea8"/>
<circle cx="250.8" cy="633.1" r="2" fill="#cdbcf7"/>
<circle cx="261.2" cy="633.1" r="5" fill="#cdbcf7"/>
<circle cx="271.7" cy="633.1" r="0.6" fill="#cdbcf7"/>
<circle cx="282.1" cy="633.1" r="0.6" fill="#cdbcf7"/>
<circle cx="292.6" cy="633.1" r="4.3" fill="#ef3a1c"/>
<line x1="56.5" y1="530.5" x2="56.5" y2="639.7" stroke="#000" stroke-width="1"/>
<line x1="56" y1="639.2" x2="298" y2="639.2" stroke="#000" stroke-width="1"/>
<line x1="62.7" y1="639.2" x2="62.7" y2="641.4" stroke="#000" stroke-width="0.8"/>
<line x1="73.2" y1="639.2" x2="73.2" y2="641.4" stroke="#000" stroke-width="0.8"/>
<line x1="83.6" y1="639.2" x2="83.6" y2="641.4" stroke="#000" stroke-width="0.8"/>
<line x1="94" y1="639.2" x2="94" y2="641.4" stroke="#000" stroke-width="0.8"/>
<line x1="104.5" y1="639.2" x2="104.5" y2="641.4" stroke="#000" stroke-width="0.8"/>
<line x1="115" y1="639.2" x2="115" y2="641.4" stroke="#000" stroke-width="0.8"/>
<line x1="125.4" y1="639.2" x2="125.4" y2="641.4" stroke="#000" stroke-width="0.8"/>
<line x1="135.8" y1="639.2" x2="135.8" y2="641.4" stroke="#000" stroke-width="0.8"/>
<line x1="146.3" y1="639.2" x2="146.3" y2="641.4" stroke="#000" stroke-width="0.8"/>
<line x1="156.8" y1="639.2" x2="156.8" y2="641.4" stroke="#000" stroke-width="0.8"/>
<line x1="167.2" y1="639.2" x2="167.2" y2="641.4" stroke="#000" stroke-width="0.8"/>
<line x1="177.6" y1="639.2" x2="177.6" y2="641.4" stroke="#000" stroke-width="0.8"/>
<line x1="188.1" y1="639.2" x2="188.1" y2="641.4" stroke="#000" stroke-width="0.8"/>
<line x1="198.6" y1="639.2" x2="198.6" y2="641.4" stroke="#000" stroke-width="0.8"/>
<line x1="209" y1="639.2" x2="209" y2="641.4" stroke="#000" stroke-width="0.8"/>
<line x1="219.4" y1="639.2" x2="219.4" y2="641.4" stroke="#000" stroke-width="0.8"/>
<line x1="229.9" y1="639.2" x2="229.9" y2="641.4" stroke="#000" stroke-width="0.8"/>
<line x1="240.3" y1="639.2" x2="240.3" y2="641.4" stroke="#000" stroke-width="0.8"/>
<line x1="250.8" y1="639.2" x2="250.8" y2="641.4" stroke="#000" stroke-width="0.8"/>
<line x1="261.2" y1="639.2" x2="261.2" y2="641.4" stroke="#000" stroke-width="0.8"/>
<line x1="271.7" y1="639.2" x2="271.7" y2="641.4" stroke="#000" stroke-width="0.8"/>
<line x1="282.1" y1="639.2" x2="282.1" y2="641.4" stroke="#000" stroke-width="0.8"/>
<line x1="292.6" y1="639.2" x2="292.6" y2="641.4" stroke="#000" stroke-width="0.8"/>
<text x="65.9" y="642.6" font-size="9" text-anchor="end" font-style="italic" transform="rotate(-90 65.9 642.6)">CPE</text>
<text x="76.4" y="642.6" font-size="9" text-anchor="end" font-style="italic" transform="rotate(-90 76.4 642.6)">ISL1</text>
<text x="86.8" y="642.6" font-size="9" text-anchor="end" font-style="italic" transform="rotate(-90 86.8 642.6)">NEUROD1</text>
<text x="97.2" y="642.6" font-size="9" text-anchor="end" font-style="italic" transform="rotate(-90 97.2 642.6)">NKX2-2</text>
<text x="107.7" y="642.6" font-size="9" text-anchor="end" font-style="italic" transform="rotate(-90 107.7 642.6)">NKX6-1</text>
<text x="118.2" y="642.6" font-size="9" text-anchor="end" font-style="italic" transform="rotate(-90 118.2 642.6)">PAX6</text>
<text x="128.6" y="642.6" font-size="9" text-anchor="end" font-style="italic" transform="rotate(-90 128.6 642.6)">INS</text>
<text x="139" y="642.6" font-size="9" text-anchor="end" font-style="italic" transform="rotate(-90 139 642.6)">GPC6</text>
<text x="149.5" y="642.6" font-size="9" text-anchor="end" font-style="italic" transform="rotate(-90 149.5 642.6)">MAFB</text>
<text x="159.9" y="642.6" font-size="9" text-anchor="end" font-style="italic" transform="rotate(-90 159.9 642.6)">PDX1</text>
<text x="170.4" y="642.6" font-size="9" text-anchor="end" font-style="italic" transform="rotate(-90 170.4 642.6)">GCG</text>
<text x="180.8" y="642.6" font-size="9" text-anchor="end" font-style="italic" transform="rotate(-90 180.8 642.6)">ARX</text>
<text x="191.3" y="642.6" font-size="9" text-anchor="end" font-style="italic" transform="rotate(-90 191.3 642.6)">PYY</text>
<text x="201.8" y="642.6" font-size="9" text-anchor="end" font-style="italic" transform="rotate(-90 201.8 642.6)">PPY</text>
<text x="212.2" y="642.6" font-size="9" text-anchor="end" font-style="italic" transform="rotate(-90 212.2 642.6)">NEUROG3</text>
<text x="222.6" y="642.6" font-size="9" text-anchor="end" font-style="italic" transform="rotate(-90 222.6 642.6)">HES6</text>
<text x="233.1" y="642.6" font-size="9" text-anchor="end" font-style="italic" transform="rotate(-90 233.1 642.6)">RFX3</text>
<text x="243.5" y="642.6" font-size="9" text-anchor="end" font-style="italic" transform="rotate(-90 243.5 642.6)">RFX6</text>
<text x="254" y="642.6" font-size="9" text-anchor="end" font-style="italic" transform="rotate(-90 254 642.6)">FEV</text>
<text x="264.4" y="642.6" font-size="9" text-anchor="end" font-style="italic" transform="rotate(-90 264.4 642.6)">CHGA</text>
<text x="274.9" y="642.6" font-size="9" text-anchor="end" font-style="italic" transform="rotate(-90 274.9 642.6)">LMX1A</text>
<text x="285.3" y="642.6" font-size="9" text-anchor="end" font-style="italic" transform="rotate(-90 285.3 642.6)">TPH1</text>
<text x="295.8" y="642.6" font-size="9" text-anchor="end" font-style="italic" transform="rotate(-90 295.8 642.6)">SST</text>
<text x="35.4" y="545.3" font-size="9.6" text-anchor="end" fill="#111">SC-β</text>
<line x1="36.4" y1="532.3" x2="36.4" y2="551.5" stroke="#111" stroke-width="0.9"/>
<text x="38.3" y="539.9" font-size="9.4" fill="#2a8fd8">WT</text>
<text x="38.3" y="550.5" font-size="9.4" fill="#e08a1e">KO</text>
<text x="35.4" y="566.9" font-size="9.6" text-anchor="end" fill="#111">MH</text>
<line x1="36.4" y1="553.8" x2="36.4" y2="573.2" stroke="#111" stroke-width="0.9"/>
<text x="38.3" y="561.4" font-size="9.4" fill="#2a8fd8">WT</text>
<text x="38.3" y="572.2" font-size="9.4" fill="#e08a1e">KO</text>
<text x="35.4" y="588.4" font-size="9.6" text-anchor="end" fill="#111">EP</text>
<line x1="36.4" y1="575.3" x2="36.4" y2="594.7" stroke="#111" stroke-width="0.9"/>
<text x="38.3" y="582.9" font-size="9.4" fill="#2a8fd8">WT</text>
<text x="38.3" y="593.7" font-size="9.4" fill="#e08a1e">KO</text>
<text x="35.4" y="609.9" font-size="9.6" text-anchor="end" fill="#111">EC</text>
<line x1="36.4" y1="596.9" x2="36.4" y2="616.2" stroke="#111" stroke-width="0.9"/>
<text x="38.3" y="604.5" font-size="9.4" fill="#2a8fd8">WT</text>
<text x="38.3" y="615.2" font-size="9.4" fill="#e08a1e">KO</text>
<text x="35.4" y="631.2" font-size="9.6" text-anchor="end" fill="#111">δ</text>
<line x1="36.4" y1="618.2" x2="36.4" y2="637.4" stroke="#111" stroke-width="0.9"/>
<text x="38.3" y="625.8" font-size="9.4" fill="#2a8fd8">WT</text>
<text x="38.3" y="636.4" font-size="9.4" fill="#e08a1e">KO</text>
<text x="-1.5" y="509" font-size="23">G</text>
<text x="143.3" y="505.5" font-size="8.9" fill="#111">Percent Expressed</text>
<circle cx="156.8" cy="512.5" r="0.5" fill="#000"/>
<text x="156.8" y="526" font-size="8.4" text-anchor="middle" fill="#111">0</text>
<circle cx="168.5" cy="512.5" r="1.4" fill="#000"/>
<text x="168.5" y="526" font-size="8.4" text-anchor="middle" fill="#111">25</text>
<circle cx="180.2" cy="512.5" r="2.5" fill="#000"/>
<text x="180.2" y="526" font-size="8.4" text-anchor="middle" fill="#111">50</text>
<circle cx="191.9" cy="512.5" r="3.6" fill="#000"/>
<text x="191.9" y="526" font-size="8.4" text-anchor="middle" fill="#111">75</text>
<circle cx="204.7" cy="512.5" r="5" fill="#000"/>
<text x="204.7" y="526" font-size="8.4" text-anchor="middle" fill="#111">100</text>
<rect x="234.6" y="507.8" width="58.4" height="11.7" fill="url(#gAE)"/>
<line x1="244" y1="517.5" x2="244" y2="519.5" stroke="#fff" stroke-width="0.6"/>
<line x1="244" y1="507.8" x2="244" y2="509.8" stroke="#fff" stroke-width="0.6"/>
<text x="244" y="527.3" font-size="8.6" text-anchor="middle" fill="#111">-1</text>
<line x1="258" y1="517.5" x2="258" y2="519.5" stroke="#fff" stroke-width="0.6"/>
<line x1="258" y1="507.8" x2="258" y2="509.8" stroke="#fff" stroke-width="0.6"/>
<text x="258" y="527.3" font-size="8.6" text-anchor="middle" fill="#111">0</text>
<line x1="272" y1="517.5" x2="272" y2="519.5" stroke="#fff" stroke-width="0.6"/>
<line x1="272" y1="507.8" x2="272" y2="509.8" stroke="#fff" stroke-width="0.6"/>
<text x="272" y="527.3" font-size="8.6" text-anchor="middle" fill="#111">1</text>
<line x1="286" y1="517.5" x2="286" y2="519.5" stroke="#fff" stroke-width="0.6"/>
<line x1="286" y1="507.8" x2="286" y2="509.8" stroke="#fff" stroke-width="0.6"/>
<text x="286" y="527.3" font-size="8.6" text-anchor="middle" fill="#111">2</text>
<text x="224.8" y="505.5" font-size="8.9" fill="#111">Average Expression</text>
<text x="-0.9" y="692.5" font-size="23">H</text>
<line x1="31.5" y1="706.9" x2="277.8" y2="706.9" stroke="#ebebeb" stroke-width="0.8"/>
<line x1="31.5" y1="728.4" x2="277.8" y2="728.4" stroke="#ebebeb" stroke-width="0.8"/>
<line x1="31.5" y1="749.6" x2="277.8" y2="749.6" stroke="#ebebeb" stroke-width="0.8"/>
<line x1="31.5" y1="771.1" x2="277.8" y2="771.1" stroke="#ebebeb" stroke-width="0.8"/>
<line x1="31.5" y1="792.6" x2="277.8" y2="792.6" stroke="#ebebeb" stroke-width="0.8"/>
<line x1="54.4" y1="697" x2="54.4" y2="801" stroke="#ebebeb" stroke-width="0.8"/>
<line x1="77.6" y1="697" x2="77.6" y2="801" stroke="#ebebeb" stroke-width="0.8"/>
<line x1="100.9" y1="697" x2="100.9" y2="801" stroke="#ebebeb" stroke-width="0.8"/>
<line x1="160.3" y1="697" x2="160.3" y2="801" stroke="#ebebeb" stroke-width="0.8"/>
<line x1="182.7" y1="697" x2="182.7" y2="801" stroke="#ebebeb" stroke-width="0.8"/>
<line x1="205.4" y1="697" x2="205.4" y2="801" stroke="#ebebeb" stroke-width="0.8"/>
<line x1="228.3" y1="697" x2="228.3" y2="801" stroke="#ebebeb" stroke-width="0.8"/>
<line x1="251" y1="697" x2="251" y2="801" stroke="#ebebeb" stroke-width="0.8"/>
<line x1="114.5" y1="697" x2="114.5" y2="801" stroke="#444" stroke-width="1" stroke-dasharray="2.4,1.4"/>
<line x1="145" y1="697" x2="145" y2="801" stroke="#444" stroke-width="1" stroke-dasharray="2.4,1.4"/>
<text x="30.4" y="710.3" font-size="9.6" text-anchor="end" fill="#111">SC-β</text>
<text x="30.4" y="731.8" font-size="9.6" text-anchor="end" fill="#111">MH</text>
<text x="30.4" y="753" font-size="9.6" text-anchor="end" fill="#111">EP</text>
<text x="30.4" y="774.5" font-size="9.6" text-anchor="end" fill="#111">EC</text>
<text x="30.4" y="796" font-size="9.6" text-anchor="end" fill="#111">δ</text>
<circle cx="111.5" cy="709.1" r="1.3" fill="#6a22e0"/>
<circle cx="104" cy="703.6" r="1.3" fill="#9a22c8"/>
<circle cx="94.3" cy="707" r="1.3" fill="#6a22e0"/>
<circle cx="110" cy="701.2" r="1.3" fill="#3a2cf4"/>
<circle cx="101" cy="701.9" r="1.3" fill="#9a22c8"/>
<circle cx="110.1" cy="703.8" r="1.3" fill="#3a2cf4"/>
<circle cx="88.1" cy="709.6" r="1.3" fill="#9a22c8"/>
<circle cx="100.2" cy="701.5" r="1.3" fill="#3a2cf4"/>
<circle cx="103.5" cy="702.5" r="1.3" fill="#c81e8a"/>
<circle cx="106.9" cy="702.9" r="1.3" fill="#9a22c8"/>
<circle cx="112.3" cy="711.8" r="1.3" fill="#6a22e0"/>
<circle cx="102" cy="705.1" r="1.3" fill="#6a22e0"/>
<circle cx="111.1" cy="701.6" r="1.3" fill="#9a22c8"/>
<circle cx="110" cy="710.1" r="1.3" fill="#3a2cf4"/>
<circle cx="89.1" cy="711.4" r="1.3" fill="#9a22c8"/>
<circle cx="95.7" cy="707.8" r="1.3" fill="#6a22e0"/>
<circle cx="112.3" cy="706.6" r="1.3" fill="#9a22c8"/>
<circle cx="110.8" cy="711.8" r="1.3" fill="#9a22c8"/>
<circle cx="105.9" cy="705.4" r="1.3" fill="#6a22e0"/>
<circle cx="106.5" cy="712.6" r="1.3" fill="#3a2cf4"/>
<circle cx="113.8" cy="702.2" r="1.3" fill="#6a22e0"/>
<circle cx="88.2" cy="706.9" r="1.3" fill="#6a22e0"/>
<circle cx="102" cy="709.8" r="1.3" fill="#3a2cf4"/>
<circle cx="100.4" cy="707.5" r="1.3" fill="#6a22e0"/>
<circle cx="111.2" cy="703.1" r="1.3" fill="#3a2cf4"/>
<circle cx="90.4" cy="705.1" r="1.3" fill="#6a22e0"/>
<circle cx="108.4" cy="702.3" r="1.3" fill="#3a2cf4"/>
<circle cx="94.1" cy="710.1" r="1.3" fill="#3a2cf4"/>
<circle cx="98.2" cy="708.9" r="1.3" fill="#9a22c8"/>
<circle cx="89.4" cy="705.8" r="1.3" fill="#c81e8a"/>
<circle cx="89.3" cy="707.9" r="1.3" fill="#9a22c8"/>
<circle cx="103.7" cy="705.5" r="1.3" fill="#3a2cf4"/>
<circle cx="92.1" cy="703" r="1.3" fill="#3a2cf4"/>
<circle cx="94.4" cy="710.1" r="1.3" fill="#6a22e0"/>
<circle cx="93.4" cy="701.7" r="1.3" fill="#3a2cf4"/>
<circle cx="108.8" cy="706" r="1.3" fill="#3a2cf4"/>
<circle cx="113.2" cy="705" r="1.3" fill="#9a22c8"/>
<circle cx="88.6" cy="709.7" r="1.3" fill="#6a22e0"/>
<circle cx="109.7" cy="712.2" r="1.3" fill="#6a22e0"/>
<circle cx="96.8" cy="701.5" r="1.3" fill="#3a2cf4"/>
<circle cx="93.3" cy="710.3" r="1.3" fill="#9a22c8"/>
<circle cx="100.6" cy="706" r="1.3" fill="#6a22e0"/>
<circle cx="93" cy="704.7" r="1.3" fill="#6a22e0"/>
<circle cx="109.1" cy="710" r="1.3" fill="#3a2cf4"/>
<circle cx="98.1" cy="712.1" r="1.3" fill="#3a2cf4"/>
<circle cx="100.8" cy="708.6" r="1.3" fill="#9a22c8"/>
<circle cx="101.1" cy="704.1" r="1.3" fill="#3a2cf4"/>
<circle cx="89.4" cy="711.6" r="1.3" fill="#3a2cf4"/>
<circle cx="112.8" cy="702.2" r="1.3" fill="#3a2cf4"/>
<circle cx="104.9" cy="702.8" r="1.3" fill="#9a22c8"/>
<circle cx="99" cy="702.6" r="1.3" fill="#6a22e0"/>
<circle cx="108" cy="706.8" r="1.3" fill="#3a2cf4"/>
<circle cx="111.5" cy="703.3" r="1.3" fill="#3a2cf4"/>
<circle cx="97.3" cy="707.5" r="1.3" fill="#3a2cf4"/>
<circle cx="97.3" cy="711.2" r="1.3" fill="#9a22c8"/>
<circle cx="94.8" cy="701.2" r="1.3" fill="#6a22e0"/>
<circle cx="113.3" cy="709.9" r="1.3" fill="#3a2cf4"/>
<circle cx="97.3" cy="704.1" r="1.3" fill="#6a22e0"/>
<circle cx="108.2" cy="701.6" r="1.3" fill="#3a2cf4"/>
<circle cx="108.3" cy="711.5" r="1.3" fill="#3a2cf4"/>
<circle cx="103.4" cy="707.5" r="1.3" fill="#c81e8a"/>
<circle cx="112.7" cy="708.1" r="1.3" fill="#6a22e0"/>
<circle cx="96.6" cy="712.3" r="1.3" fill="#3a2cf4"/>
<circle cx="97.7" cy="707.2" r="1.3" fill="#6a22e0"/>
<circle cx="113.3" cy="710.5" r="1.3" fill="#c81e8a"/>
<circle cx="107.2" cy="704.8" r="1.3" fill="#c81e8a"/>
<circle cx="112.6" cy="702" r="1.3" fill="#3a2cf4"/>
<circle cx="94.1" cy="709.9" r="1.3" fill="#3a2cf4"/>
<circle cx="100" cy="701.4" r="1.3" fill="#6a22e0"/>
<circle cx="105" cy="707.1" r="1.3" fill="#3a2cf4"/>
<circle cx="106.1" cy="703.7" r="1.3" fill="#3a2cf4"/>
<circle cx="105.2" cy="704" r="1.3" fill="#6a22e0"/>
<circle cx="94" cy="709.5" r="1.3" fill="#6a22e0"/>
<circle cx="110" cy="705.6" r="1.3" fill="#6a22e0"/>
<circle cx="99.7" cy="712.2" r="1.3" fill="#3a2cf4"/>
<circle cx="79.7" cy="706.8" r="1.3" fill="#6a22e0"/>
<circle cx="86.2" cy="710.1" r="1.3" fill="#6a22e0"/>
<circle cx="84.1" cy="708.8" r="1.3" fill="#9a22c8"/>
<circle cx="83.2" cy="709" r="1.3" fill="#3a2cf4"/>
<circle cx="86.7" cy="705.6" r="1.3" fill="#6a22e0"/>
<circle cx="85.2" cy="712.2" r="1.3" fill="#c81e8a"/>
<circle cx="72.1" cy="704.7" r="1.3" fill="#3a2cf4"/>
<circle cx="78.3" cy="702.8" r="1.3" fill="#6a22e0"/>
<circle cx="73.3" cy="704.6" r="1.3" fill="#c81e8a"/>
<circle cx="83.9" cy="706.5" r="1.3" fill="#3a2cf4"/>
<circle cx="71.2" cy="710.9" r="1.2" fill="#c81e8a"/>
<circle cx="162.3" cy="703.5" r="1.3" fill="#3a2cf4"/>
<circle cx="160.4" cy="709" r="1.3" fill="#3a2cf4"/>
<circle cx="170.3" cy="704.9" r="1.3" fill="#3a2cf4"/>
<circle cx="166.8" cy="702.9" r="1.3" fill="#6a22e0"/>
<circle cx="148.8" cy="708" r="1.3" fill="#3a2cf4"/>
<circle cx="153" cy="712" r="1.3" fill="#6a22e0"/>
<circle cx="154.5" cy="708.2" r="1.3" fill="#3a2cf4"/>
<circle cx="148.2" cy="705.6" r="1.3" fill="#3a2cf4"/>
<circle cx="148.5" cy="712.2" r="1.3" fill="#3a2cf4"/>
<circle cx="165.7" cy="711.9" r="1.3" fill="#6a22e0"/>
<circle cx="145.7" cy="706.9" r="1.3" fill="#3a2cf4"/>
<circle cx="159.4" cy="709.2" r="1.3" fill="#3a2cf4"/>
<circle cx="145.5" cy="707.4" r="1.3" fill="#3a2cf4"/>
<circle cx="151.3" cy="706.4" r="1.3" fill="#9a22c8"/>
<circle cx="152.8" cy="702.7" r="1.3" fill="#9a22c8"/>
<circle cx="166.1" cy="707.2" r="1.3" fill="#3a2cf4"/>
<circle cx="148.5" cy="705.8" r="1.3" fill="#6a22e0"/>
<circle cx="149.3" cy="710.4" r="1.3" fill="#9a22c8"/>
<circle cx="169.5" cy="711.3" r="1.3" fill="#3a2cf4"/>
<circle cx="158.6" cy="702.1" r="1.3" fill="#9a22c8"/>
<circle cx="163.6" cy="709.9" r="1.3" fill="#3a2cf4"/>
<circle cx="146.2" cy="710.5" r="1.3" fill="#6a22e0"/>
<circle cx="159.7" cy="706.6" r="1.3" fill="#9a22c8"/>
<circle cx="152" cy="704.3" r="1.3" fill="#3a2cf4"/>
<circle cx="151" cy="708.4" r="1.3" fill="#9a22c8"/>
<circle cx="146.4" cy="701.9" r="1.3" fill="#6a22e0"/>
<circle cx="161.5" cy="703.3" r="1.3" fill="#3a2cf4"/>
<circle cx="146.2" cy="701.6" r="1.3" fill="#6a22e0"/>
<circle cx="161.6" cy="708.7" r="1.3" fill="#3a2cf4"/>
<circle cx="146.9" cy="711.9" r="1.3" fill="#6a22e0"/>
<circle cx="153.8" cy="709.1" r="1.3" fill="#6a22e0"/>
<circle cx="157" cy="702.1" r="1.3" fill="#9a22c8"/>
<circle cx="149.1" cy="701.6" r="1.3" fill="#3a2cf4"/>
<circle cx="157.2" cy="708.4" r="1.3" fill="#3a2cf4"/>
<circle cx="162.5" cy="706.8" r="1.3" fill="#3a2cf4"/>
<circle cx="167" cy="710.4" r="1.3" fill="#9a22c8"/>
<circle cx="161.5" cy="703.6" r="1.3" fill="#9a22c8"/>
<circle cx="168.7" cy="707.3" r="1.3" fill="#9a22c8"/>
<circle cx="171" cy="705.6" r="1.3" fill="#c81e8a"/>
<circle cx="169.8" cy="710.3" r="1.3" fill="#3a2cf4"/>
<circle cx="152.3" cy="708.2" r="1.3" fill="#6a22e0"/>
<circle cx="163.9" cy="708.6" r="1.3" fill="#3a2cf4"/>
<circle cx="169.6" cy="707.3" r="1.3" fill="#9a22c8"/>
<circle cx="148.9" cy="712.6" r="1.3" fill="#6a22e0"/>
<circle cx="164.5" cy="709.7" r="1.3" fill="#9a22c8"/>
<circle cx="152.6" cy="702.1" r="1.3" fill="#3a2cf4"/>
<circle cx="148.3" cy="707.4" r="1.3" fill="#9a22c8"/>
<circle cx="152.6" cy="702.7" r="1.3" fill="#3a2cf4"/>
<circle cx="154.2" cy="707.8" r="1.3" fill="#3a2cf4"/>
<circle cx="161.1" cy="703.6" r="1.3" fill="#3a2cf4"/>
<circle cx="169.5" cy="707.2" r="1.3" fill="#9a22c8"/>
<circle cx="156.7" cy="702.6" r="1.3" fill="#3a2cf4"/>
<circle cx="154.2" cy="708.5" r="1.3" fill="#9a22c8"/>
<circle cx="163.8" cy="708.6" r="1.3" fill="#3a2cf4"/>
<circle cx="154.3" cy="705.5" r="1.3" fill="#6a22e0"/>
<circle cx="150.2" cy="707.3" r="1.3" fill="#6a22e0"/>
<circle cx="145.8" cy="710.6" r="1.3" fill="#6a22e0"/>
<circle cx="165.4" cy="709.6" r="1.3" fill="#6a22e0"/>
<circle cx="171.8" cy="705.5" r="1.3" fill="#3a2cf4"/>
<circle cx="145.5" cy="708.8" r="1.3" fill="#6a22e0"/>
<circle cx="158.4" cy="712.6" r="1.3" fill="#3a2cf4"/>
<circle cx="149.4" cy="709.6" r="1.3" fill="#9a22c8"/>
<circle cx="155.8" cy="701.8" r="1.3" fill="#3a2cf4"/>
<circle cx="166.2" cy="706.9" r="1.3" fill="#6a22e0"/>
<circle cx="153.3" cy="708.4" r="1.3" fill="#6a22e0"/>
<circle cx="162" cy="711.1" r="1.3" fill="#9a22c8"/>
<circle cx="152.9" cy="704" r="1.3" fill="#9a22c8"/>
<circle cx="165.1" cy="711.8" r="1.3" fill="#3a2cf4"/>
<circle cx="166.9" cy="711.4" r="1.3" fill="#3a2cf4"/>
<circle cx="151.2" cy="708.4" r="1.3" fill="#3a2cf4"/>
<circle cx="166.3" cy="704.2" r="1.3" fill="#6a22e0"/>
<circle cx="150.9" cy="703.7" r="1.3" fill="#3a2cf4"/>
<circle cx="156.2" cy="709.4" r="1.3" fill="#3a2cf4"/>
<circle cx="161.7" cy="705" r="1.3" fill="#6a22e0"/>
<circle cx="152.7" cy="703.4" r="1.3" fill="#3a2cf4"/>
<circle cx="146.2" cy="709.2" r="1.3" fill="#3a2cf4"/>
<circle cx="147.2" cy="711.3" r="1.3" fill="#6a22e0"/>
<circle cx="145.7" cy="709.5" r="1.3" fill="#6a22e0"/>
<circle cx="154.7" cy="706.9" r="1.3" fill="#c81e8a"/>
<circle cx="152.9" cy="708.5" r="1.3" fill="#6a22e0"/>
<circle cx="179.3" cy="705.1" r="1.3" fill="#9a22c8"/>
<circle cx="184.7" cy="706.4" r="1.3" fill="#6a22e0"/>
<circle cx="176.5" cy="710.2" r="1.3" fill="#3a2cf4"/>
<circle cx="184.9" cy="706.4" r="1.3" fill="#3a2cf4"/>
<circle cx="183.7" cy="707.9" r="1.3" fill="#3a2cf4"/>
<circle cx="181.8" cy="703" r="1.3" fill="#9a22c8"/>
<circle cx="178.5" cy="704.9" r="1.3" fill="#3a2cf4"/>
<circle cx="173" cy="703.3" r="1.3" fill="#3a2cf4"/>
<circle cx="184.5" cy="710.9" r="1.3" fill="#3a2cf4"/>
<circle cx="174.2" cy="707.3" r="1.3" fill="#3a2cf4"/>
<circle cx="221.3" cy="701.9" r="1.2" fill="#3a2cf4"/>
<circle cx="228.3" cy="706.4" r="1.2" fill="#9a22c8"/>
<circle cx="216.6" cy="711.5" r="1.2" fill="#3a2cf4"/>
<circle cx="253.5" cy="711.5" r="1.2" fill="#6a22e0"/>
<circle cx="105.5" cy="723.6" r="1.3" fill="#3a2cf4"/>
<circle cx="104.2" cy="723.8" r="1.3" fill="#3a2cf4"/>
<circle cx="104.7" cy="732.1" r="1.3" fill="#6a22e0"/>
<circle cx="102.9" cy="722.8" r="1.3" fill="#3a2cf4"/>
<circle cx="109.7" cy="733.2" r="1.3" fill="#3a2cf4"/>
<circle cx="100.1" cy="723" r="1.3" fill="#6a22e0"/>
<circle cx="97.6" cy="731.5" r="1.3" fill="#6a22e0"/>
<circle cx="111.9" cy="733.3" r="1.3" fill="#3a2cf4"/>
<circle cx="95.9" cy="731.6" r="1.3" fill="#6a22e0"/>
<circle cx="105.7" cy="724.5" r="1.3" fill="#3a2cf4"/>
<circle cx="102.8" cy="730.2" r="1.3" fill="#3a2cf4"/>
<circle cx="99.8" cy="723.3" r="1.3" fill="#3a2cf4"/>
<circle cx="113.2" cy="726.4" r="1.3" fill="#9a22c8"/>
<circle cx="100.9" cy="724.4" r="1.3" fill="#3a2cf4"/>
<circle cx="112.9" cy="730.3" r="1.3" fill="#3a2cf4"/>
<circle cx="111.2" cy="727" r="1.3" fill="#9a22c8"/>
<circle cx="107.8" cy="730.6" r="1.3" fill="#6a22e0"/>
<circle cx="106.8" cy="729" r="1.3" fill="#3a2cf4"/>
<circle cx="111.7" cy="728.3" r="1.3" fill="#3a2cf4"/>
<circle cx="109.5" cy="724.8" r="1.3" fill="#9a22c8"/>
<circle cx="107.7" cy="725" r="1.3" fill="#3a2cf4"/>
<circle cx="111.4" cy="732.6" r="1.3" fill="#3a2cf4"/>
<circle cx="102.8" cy="725.3" r="1.3" fill="#6a22e0"/>
<circle cx="107.3" cy="731.1" r="1.3" fill="#6a22e0"/>
<circle cx="108.7" cy="725.9" r="1.3" fill="#6a22e0"/>
<circle cx="99" cy="730.6" r="1.3" fill="#6a22e0"/>
<circle cx="109.5" cy="732.9" r="1.3" fill="#9a22c8"/>
<circle cx="112.4" cy="730.5" r="1.3" fill="#9a22c8"/>
<circle cx="102.6" cy="733.7" r="1.3" fill="#9a22c8"/>
<circle cx="110.9" cy="734.1" r="1.3" fill="#3a2cf4"/>
<circle cx="108.6" cy="733.9" r="1.3" fill="#3a2cf4"/>
<circle cx="108.3" cy="729.8" r="1.3" fill="#3a2cf4"/>
<circle cx="110.6" cy="731.8" r="1.3" fill="#6a22e0"/>
<circle cx="101.1" cy="731.7" r="1.3" fill="#9a22c8"/>
<circle cx="97.6" cy="732.1" r="1.3" fill="#c81e8a"/>
<circle cx="106.3" cy="730.7" r="1.3" fill="#6a22e0"/>
<circle cx="95.8" cy="730.2" r="1.3" fill="#3a2cf4"/>
<circle cx="102.8" cy="726" r="1.3" fill="#3a2cf4"/>
<circle cx="108.5" cy="724.2" r="1.3" fill="#3a2cf4"/>
<circle cx="113.1" cy="727.9" r="1.3" fill="#9a22c8"/>
<circle cx="113.6" cy="730" r="1.3" fill="#3a2cf4"/>
<circle cx="106.1" cy="726.1" r="1.3" fill="#3a2cf4"/>
<circle cx="101.8" cy="727.4" r="1.3" fill="#3a2cf4"/>
<circle cx="101.4" cy="724" r="1.3" fill="#3a2cf4"/>
<circle cx="102" cy="732.3" r="1.3" fill="#c81e8a"/>
<circle cx="110.7" cy="729.8" r="1.3" fill="#3a2cf4"/>
<circle cx="102" cy="732.4" r="1.3" fill="#3a2cf4"/>
<circle cx="109.2" cy="733.4" r="1.3" fill="#3a2cf4"/>
<circle cx="103.5" cy="732.1" r="1.3" fill="#3a2cf4"/>
<circle cx="100.2" cy="722.7" r="1.3" fill="#3a2cf4"/>
<circle cx="112.1" cy="726.6" r="1.3" fill="#3a2cf4"/>
<circle cx="113.8" cy="731.9" r="1.3" fill="#3a2cf4"/>
<circle cx="104.8" cy="729" r="1.3" fill="#9a22c8"/>
<circle cx="98.7" cy="729.8" r="1.3" fill="#3a2cf4"/>
<circle cx="100.7" cy="723.8" r="1.3" fill="#c81e8a"/>
<circle cx="109.9" cy="725.6" r="1.3" fill="#3a2cf4"/>
<circle cx="108.3" cy="731.8" r="1.3" fill="#9a22c8"/>
<circle cx="101" cy="731" r="1.3" fill="#3a2cf4"/>
<circle cx="109.7" cy="726.1" r="1.3" fill="#3a2cf4"/>
<circle cx="98" cy="734.1" r="1.3" fill="#3a2cf4"/>
<circle cx="95.9" cy="733.2" r="1.3" fill="#6a22e0"/>
<circle cx="102.2" cy="731.7" r="1.3" fill="#3a2cf4"/>
<circle cx="103.9" cy="733.9" r="1.3" fill="#9a22c8"/>
<circle cx="97.2" cy="723.6" r="1.3" fill="#6a22e0"/>
<circle cx="106.6" cy="733.1" r="1.3" fill="#3a2cf4"/>
<circle cx="105.3" cy="724" r="1.3" fill="#9a22c8"/>
<circle cx="101.5" cy="723" r="1.3" fill="#3a2cf4"/>
<circle cx="112.5" cy="730" r="1.3" fill="#6a22e0"/>
<circle cx="113.5" cy="733.6" r="1.3" fill="#c81e8a"/>
<circle cx="107.5" cy="729.3" r="1.3" fill="#3a2cf4"/>
<circle cx="104.1" cy="727.2" r="1.3" fill="#3a2cf4"/>
<circle cx="100.9" cy="724.8" r="1.3" fill="#3a2cf4"/>
<circle cx="100.6" cy="725.2" r="1.3" fill="#3a2cf4"/>
<circle cx="97.2" cy="724.5" r="1.3" fill="#3a2cf4"/>
<circle cx="109.8" cy="725.7" r="1.3" fill="#3a2cf4"/>
<circle cx="105.5" cy="724" r="1.3" fill="#6a22e0"/>
<circle cx="113.6" cy="723.6" r="1.3" fill="#3a2cf4"/>
<circle cx="111" cy="726.6" r="1.3" fill="#3a2cf4"/>
<circle cx="98.9" cy="730.2" r="1.3" fill="#6a22e0"/>
<circle cx="100.4" cy="730.5" r="1.3" fill="#3a2cf4"/>
<circle cx="86.2" cy="731.2" r="1.3" fill="#6a22e0"/>
<circle cx="89.3" cy="729.9" r="1.3" fill="#c81e8a"/>
<circle cx="78.1" cy="730.4" r="1.3" fill="#c81e8a"/>
<circle cx="84.1" cy="733.1" r="1.3" fill="#3a2cf4"/>
<circle cx="88.6" cy="725.7" r="1.3" fill="#9a22c8"/>
<circle cx="81.7" cy="728.8" r="1.3" fill="#3a2cf4"/>
<circle cx="77.9" cy="732.6" r="1.3" fill="#6a22e0"/>
<circle cx="86.5" cy="724" r="1.3" fill="#3a2cf4"/>
<circle cx="94.3" cy="725" r="1.3" fill="#6a22e0"/>
<circle cx="88" cy="728.5" r="1.3" fill="#6a22e0"/>
<circle cx="94.3" cy="731.6" r="1.3" fill="#3a2cf4"/>
<circle cx="81.9" cy="727.5" r="1.3" fill="#6a22e0"/>
<circle cx="87.5" cy="725.7" r="1.3" fill="#6a22e0"/>
<circle cx="81.9" cy="722.8" r="1.3" fill="#3a2cf4"/>
<circle cx="43.9" cy="732.6" r="1.2" fill="#3a2cf4"/>
<circle cx="50.5" cy="731.4" r="1.2" fill="#3a2cf4"/>
<circle cx="53" cy="728.4" r="1.2" fill="#6a22e0"/>
<circle cx="65" cy="732.4" r="1.2" fill="#c81e8a"/>
<circle cx="71" cy="730.4" r="1.2" fill="#c81e8a"/>
<circle cx="167.1" cy="732.5" r="1.3" fill="#6a22e0"/>
<circle cx="165.2" cy="732.9" r="1.3" fill="#3a2cf4"/>
<circle cx="156.1" cy="727" r="1.3" fill="#3a2cf4"/>
<circle cx="158.6" cy="723.3" r="1.3" fill="#6a22e0"/>
<circle cx="182.8" cy="725.3" r="1.3" fill="#3a2cf4"/>
<circle cx="155" cy="731.8" r="1.3" fill="#3a2cf4"/>
<circle cx="173.7" cy="724.6" r="1.3" fill="#6a22e0"/>
<circle cx="171.3" cy="730.4" r="1.3" fill="#3a2cf4"/>
<circle cx="182.8" cy="732.4" r="1.3" fill="#6a22e0"/>
<circle cx="177.9" cy="729.6" r="1.3" fill="#3a2cf4"/>
<circle cx="157.4" cy="732.1" r="1.3" fill="#6a22e0"/>
<circle cx="146.1" cy="724.6" r="1.3" fill="#3a2cf4"/>
<circle cx="165.2" cy="730.1" r="1.3" fill="#3a2cf4"/>
<circle cx="157.6" cy="733.7" r="1.3" fill="#3a2cf4"/>
<circle cx="169.1" cy="725" r="1.3" fill="#6a22e0"/>
<circle cx="149.7" cy="724" r="1.3" fill="#3a2cf4"/>
<circle cx="147.9" cy="727" r="1.3" fill="#6a22e0"/>
<circle cx="163.6" cy="731.8" r="1.3" fill="#6a22e0"/>
<circle cx="147.1" cy="731" r="1.3" fill="#3a2cf4"/>
<circle cx="172.7" cy="733.9" r="1.3" fill="#6a22e0"/>
<circle cx="152" cy="726.8" r="1.3" fill="#6a22e0"/>
<circle cx="154.4" cy="723.8" r="1.3" fill="#3a2cf4"/>
<circle cx="168.3" cy="732" r="1.3" fill="#9a22c8"/>
<circle cx="179.2" cy="731.9" r="1.3" fill="#3a2cf4"/>
<circle cx="167.8" cy="723.3" r="1.3" fill="#9a22c8"/>
<circle cx="170.7" cy="725.7" r="1.3" fill="#6a22e0"/>
<circle cx="152.8" cy="731.8" r="1.3" fill="#3a2cf4"/>
<circle cx="174.1" cy="733.3" r="1.3" fill="#9a22c8"/>
<circle cx="156.7" cy="726.6" r="1.3" fill="#c81e8a"/>
<circle cx="180.2" cy="724.8" r="1.3" fill="#3a2cf4"/>
<circle cx="174.5" cy="731.3" r="1.3" fill="#3a2cf4"/>
<circle cx="159.3" cy="733.7" r="1.3" fill="#3a2cf4"/>
<circle cx="152.8" cy="730.3" r="1.3" fill="#9a22c8"/>
<circle cx="182.3" cy="728" r="1.3" fill="#9a22c8"/>
<circle cx="183.6" cy="726.4" r="1.3" fill="#3a2cf4"/>
<circle cx="152.3" cy="731.6" r="1.3" fill="#3a2cf4"/>
<circle cx="163.5" cy="733.3" r="1.3" fill="#3a2cf4"/>
<circle cx="167.1" cy="728.7" r="1.3" fill="#c81e8a"/>
<circle cx="162.1" cy="728.3" r="1.3" fill="#9a22c8"/>
<circle cx="172.8" cy="724.3" r="1.3" fill="#9a22c8"/>
<circle cx="157.5" cy="733.8" r="1.3" fill="#c81e8a"/>
<circle cx="161.3" cy="727.4" r="1.3" fill="#3a2cf4"/>
<circle cx="152.9" cy="725" r="1.3" fill="#3a2cf4"/>
<circle cx="171.7" cy="723.2" r="1.3" fill="#6a22e0"/>
<circle cx="165.7" cy="731.1" r="1.3" fill="#6a22e0"/>
<circle cx="181.3" cy="725.9" r="1.3" fill="#3a2cf4"/>
<circle cx="165.1" cy="725.7" r="1.3" fill="#c81e8a"/>
<circle cx="181" cy="730.6" r="1.3" fill="#9a22c8"/>
<circle cx="151.8" cy="728.2" r="1.3" fill="#3a2cf4"/>
<circle cx="155.4" cy="726.9" r="1.3" fill="#6a22e0"/>
<circle cx="168.2" cy="722.9" r="1.3" fill="#6a22e0"/>
<circle cx="148.2" cy="733.8" r="1.3" fill="#6a22e0"/>
<circle cx="165.4" cy="726.3" r="1.3" fill="#6a22e0"/>
<circle cx="170.8" cy="733.1" r="1.3" fill="#6a22e0"/>
<circle cx="152.7" cy="729.9" r="1.3" fill="#3a2cf4"/>
<circle cx="172.4" cy="726.2" r="1.3" fill="#6a22e0"/>
<circle cx="148.3" cy="729.5" r="1.3" fill="#3a2cf4"/>
<circle cx="146" cy="725.7" r="1.3" fill="#9a22c8"/>
<circle cx="157.1" cy="728.7" r="1.3" fill="#9a22c8"/>
<circle cx="183.9" cy="725.6" r="1.3" fill="#6a22e0"/>
<circle cx="174.2" cy="731.8" r="1.3" fill="#3a2cf4"/>
<circle cx="160.5" cy="731.7" r="1.3" fill="#3a2cf4"/>
<circle cx="160.9" cy="729.9" r="1.3" fill="#9a22c8"/>
<circle cx="151.8" cy="730.3" r="1.3" fill="#3a2cf4"/>
<circle cx="149.1" cy="728.1" r="1.3" fill="#6a22e0"/>
<circle cx="167.6" cy="733.6" r="1.3" fill="#3a2cf4"/>
<circle cx="162.8" cy="728.2" r="1.3" fill="#3a2cf4"/>
<circle cx="180.8" cy="724.3" r="1.3" fill="#3a2cf4"/>
<circle cx="146.1" cy="730.1" r="1.3" fill="#6a22e0"/>
<circle cx="151.1" cy="733.3" r="1.3" fill="#6a22e0"/>
<circle cx="150.4" cy="733.5" r="1.3" fill="#9a22c8"/>
<circle cx="154.3" cy="732.6" r="1.3" fill="#3a2cf4"/>
<circle cx="155.5" cy="727.5" r="1.3" fill="#c81e8a"/>
<circle cx="153.7" cy="727.1" r="1.3" fill="#3a2cf4"/>
<circle cx="176" cy="724.8" r="1.3" fill="#9a22c8"/>
<circle cx="155.2" cy="729" r="1.3" fill="#9a22c8"/>
<circle cx="152.6" cy="728.7" r="1.3" fill="#6a22e0"/>
<circle cx="164.9" cy="727.3" r="1.3" fill="#6a22e0"/>
<circle cx="154.3" cy="724.4" r="1.3" fill="#3a2cf4"/>
<circle cx="166.1" cy="729.3" r="1.3" fill="#9a22c8"/>
<circle cx="149.1" cy="730.4" r="1.3" fill="#6a22e0"/>
<circle cx="162.6" cy="732.2" r="1.3" fill="#6a22e0"/>
<circle cx="158.9" cy="730.1" r="1.3" fill="#3a2cf4"/>
<circle cx="178.6" cy="728.6" r="1.3" fill="#3a2cf4"/>
<circle cx="160.8" cy="733.5" r="1.3" fill="#c81e8a"/>
<circle cx="158.5" cy="725.7" r="1.3" fill="#c81e8a"/>
<circle cx="153.2" cy="722.9" r="1.3" fill="#3a2cf4"/>
<circle cx="160.3" cy="730.4" r="1.3" fill="#3a2cf4"/>
<circle cx="155" cy="731" r="1.3" fill="#3a2cf4"/>
<circle cx="149.6" cy="730.8" r="1.3" fill="#3a2cf4"/>
<circle cx="170.1" cy="728.2" r="1.3" fill="#9a22c8"/>
<circle cx="162" cy="733.9" r="1.3" fill="#9a22c8"/>
<circle cx="171.3" cy="728.3" r="1.3" fill="#6a22e0"/>
<circle cx="156.6" cy="723.5" r="1.3" fill="#9a22c8"/>
<circle cx="175.4" cy="731.5" r="1.3" fill="#9a22c8"/>
<circle cx="163.7" cy="734.1" r="1.3" fill="#6a22e0"/>
<circle cx="184" cy="723.6" r="1.3" fill="#3a2cf4"/>
<circle cx="164.6" cy="732.1" r="1.3" fill="#6a22e0"/>
<circle cx="174.6" cy="726.9" r="1.3" fill="#6a22e0"/>
<circle cx="174.9" cy="729.6" r="1.3" fill="#3a2cf4"/>
<circle cx="168.4" cy="722.7" r="1.3" fill="#3a2cf4"/>
<circle cx="147.9" cy="731.4" r="1.3" fill="#3a2cf4"/>
<circle cx="171.2" cy="723.5" r="1.3" fill="#3a2cf4"/>
<circle cx="170.1" cy="733.3" r="1.3" fill="#3a2cf4"/>
<circle cx="166.5" cy="727.2" r="1.3" fill="#6a22e0"/>
<circle cx="185.5" cy="722.8" r="1.3" fill="#3a2cf4"/>
<circle cx="191.2" cy="728.3" r="1.3" fill="#6a22e0"/>
<circle cx="185.9" cy="730.5" r="1.3" fill="#9a22c8"/>
<circle cx="186.4" cy="731.6" r="1.3" fill="#9a22c8"/>
<circle cx="191.9" cy="729.2" r="1.3" fill="#6a22e0"/>
<circle cx="187.4" cy="731.6" r="1.3" fill="#3a2cf4"/>
<circle cx="192.5" cy="723.4" r="1.2" fill="#6a22e0"/>
<circle cx="208" cy="724.4" r="1.2" fill="#6a22e0"/>
<circle cx="212.6" cy="729.4" r="1.2" fill="#c81e8a"/>
<circle cx="214" cy="725.4" r="1.2" fill="#9a22c8"/>
<circle cx="216" cy="732" r="1.2" fill="#3a2cf4"/>
<circle cx="220.5" cy="725.9" r="1.2" fill="#3a2cf4"/>
<circle cx="220" cy="723.4" r="1.2" fill="#3a2cf4"/>
<circle cx="229" cy="732.6" r="1.2" fill="#3a2cf4"/>
<circle cx="104.9" cy="746.8" r="1.3" fill="#6a22e0"/>
<circle cx="109" cy="747.4" r="1.3" fill="#6a22e0"/>
<circle cx="109.3" cy="755.1" r="1.3" fill="#3a2cf4"/>
<circle cx="101.8" cy="751.2" r="1.3" fill="#6a22e0"/>
<circle cx="113.5" cy="751.3" r="1.3" fill="#9a22c8"/>
<circle cx="110.4" cy="752" r="1.3" fill="#6a22e0"/>
<circle cx="113.4" cy="753.7" r="1.3" fill="#3a2cf4"/>
<circle cx="108.6" cy="752.6" r="1.3" fill="#9a22c8"/>
<circle cx="102.6" cy="748.1" r="1.3" fill="#9a22c8"/>
<circle cx="112.8" cy="750.2" r="1.3" fill="#3a2cf4"/>
<circle cx="102.4" cy="752.2" r="1.3" fill="#6a22e0"/>
<circle cx="103.3" cy="747.8" r="1.3" fill="#3a2cf4"/>
<circle cx="113.3" cy="747.9" r="1.3" fill="#3a2cf4"/>
<circle cx="104.7" cy="745.3" r="1.3" fill="#9a22c8"/>
<circle cx="106.8" cy="749" r="1.3" fill="#3a2cf4"/>
<circle cx="109.1" cy="750.3" r="1.3" fill="#3a2cf4"/>
<circle cx="100.4" cy="748" r="1.3" fill="#3a2cf4"/>
<circle cx="111.3" cy="748.1" r="1.3" fill="#3a2cf4"/>
<circle cx="102.6" cy="744.7" r="1.3" fill="#3a2cf4"/>
<circle cx="106.8" cy="749.4" r="1.3" fill="#3a2cf4"/>
<circle cx="108.5" cy="744.6" r="1.3" fill="#3a2cf4"/>
<circle cx="109.3" cy="752.7" r="1.3" fill="#3a2cf4"/>
<circle cx="109.5" cy="751.4" r="1.3" fill="#3a2cf4"/>
<circle cx="107.6" cy="746.1" r="1.3" fill="#6a22e0"/>
<circle cx="107.7" cy="751.4" r="1.3" fill="#9a22c8"/>
<circle cx="103.6" cy="755.2" r="1.3" fill="#3a2cf4"/>
<circle cx="100.8" cy="749" r="1.3" fill="#3a2cf4"/>
<circle cx="109" cy="754.4" r="1.3" fill="#c81e8a"/>
<circle cx="103.4" cy="747.3" r="1.3" fill="#3a2cf4"/>
<circle cx="112.2" cy="751.6" r="1.3" fill="#6a22e0"/>
<circle cx="113.6" cy="743.9" r="1.3" fill="#c81e8a"/>
<circle cx="110.6" cy="744.3" r="1.3" fill="#6a22e0"/>
<circle cx="113.3" cy="753.2" r="1.3" fill="#6a22e0"/>
<circle cx="106.6" cy="754.5" r="1.3" fill="#3a2cf4"/>
<circle cx="112.1" cy="752.9" r="1.3" fill="#6a22e0"/>
<circle cx="109.2" cy="747.9" r="1.3" fill="#6a22e0"/>
<circle cx="101" cy="754.8" r="1.3" fill="#9a22c8"/>
<circle cx="100.4" cy="745.4" r="1.3" fill="#3a2cf4"/>
<circle cx="103" cy="746.7" r="1.3" fill="#6a22e0"/>
<circle cx="108.8" cy="755" r="1.3" fill="#3a2cf4"/>
<circle cx="113" cy="746.2" r="1.3" fill="#9a22c8"/>
<circle cx="103.3" cy="745.5" r="1.3" fill="#c81e8a"/>
<circle cx="110.1" cy="752.2" r="1.3" fill="#6a22e0"/>
<circle cx="102.5" cy="749.5" r="1.3" fill="#3a2cf4"/>
<circle cx="107.4" cy="753.6" r="1.3" fill="#3a2cf4"/>
<circle cx="103.1" cy="749" r="1.3" fill="#3a2cf4"/>
<circle cx="110.3" cy="746.5" r="1.3" fill="#6a22e0"/>
<circle cx="100.7" cy="750.6" r="1.3" fill="#9a22c8"/>
<circle cx="112.5" cy="748.1" r="1.3" fill="#6a22e0"/>
<circle cx="110" cy="744" r="1.3" fill="#9a22c8"/>
<circle cx="113" cy="751.4" r="1.3" fill="#c81e8a"/>
<circle cx="111.2" cy="747" r="1.3" fill="#3a2cf4"/>
<circle cx="107.7" cy="755.1" r="1.3" fill="#3a2cf4"/>
<circle cx="111.8" cy="754.2" r="1.3" fill="#3a2cf4"/>
<circle cx="105.7" cy="752.1" r="1.3" fill="#3a2cf4"/>
<circle cx="113.9" cy="752.6" r="1.3" fill="#9a22c8"/>
<circle cx="105.3" cy="749.2" r="1.3" fill="#3a2cf4"/>
<circle cx="107.9" cy="745.1" r="1.3" fill="#3a2cf4"/>
<circle cx="113.8" cy="749.8" r="1.3" fill="#6a22e0"/>
<circle cx="111.3" cy="746.4" r="1.3" fill="#3a2cf4"/>
<circle cx="113.9" cy="745.3" r="1.3" fill="#c81e8a"/>
<circle cx="113.8" cy="752.1" r="1.3" fill="#6a22e0"/>
<circle cx="107" cy="747.4" r="1.3" fill="#c81e8a"/>
<circle cx="103.4" cy="748.5" r="1.3" fill="#3a2cf4"/>
<circle cx="101.5" cy="745.6" r="1.3" fill="#9a22c8"/>
<circle cx="106.5" cy="750.4" r="1.3" fill="#6a22e0"/>
<circle cx="106.9" cy="744.9" r="1.3" fill="#3a2cf4"/>
<circle cx="110.4" cy="746.4" r="1.3" fill="#3a2cf4"/>
<circle cx="105" cy="748.7" r="1.3" fill="#6a22e0"/>
<circle cx="109.9" cy="754.7" r="1.3" fill="#3a2cf4"/>
<circle cx="85.4" cy="748.7" r="1.3" fill="#9a22c8"/>
<circle cx="73.9" cy="750.1" r="1.3" fill="#6a22e0"/>
<circle cx="88.7" cy="746.5" r="1.3" fill="#6a22e0"/>
<circle cx="99.6" cy="745" r="1.3" fill="#c81e8a"/>
<circle cx="99" cy="749" r="1.3" fill="#3a2cf4"/>
<circle cx="84.9" cy="754.9" r="1.3" fill="#3a2cf4"/>
<circle cx="92.6" cy="752.8" r="1.3" fill="#3a2cf4"/>
<circle cx="88.1" cy="745.6" r="1.3" fill="#3a2cf4"/>
<circle cx="85.6" cy="747.3" r="1.3" fill="#6a22e0"/>
<circle cx="85.8" cy="746.5" r="1.3" fill="#9a22c8"/>
<circle cx="70.2" cy="753.1" r="1.3" fill="#3a2cf4"/>
<circle cx="97" cy="750.8" r="1.3" fill="#6a22e0"/>
<circle cx="76.5" cy="753.7" r="1.3" fill="#9a22c8"/>
<circle cx="98.8" cy="750.6" r="1.3" fill="#c81e8a"/>
<circle cx="166.7" cy="751.5" r="1.3" fill="#3a2cf4"/>
<circle cx="158.2" cy="747.8" r="1.3" fill="#9a22c8"/>
<circle cx="156.8" cy="753.8" r="1.3" fill="#9a22c8"/>
<circle cx="162.5" cy="746.2" r="1.3" fill="#3a2cf4"/>
<circle cx="146.5" cy="747.7" r="1.3" fill="#3a2cf4"/>
<circle cx="150.6" cy="753" r="1.3" fill="#3a2cf4"/>
<circle cx="167.4" cy="754.4" r="1.3" fill="#9a22c8"/>
<circle cx="149.3" cy="747.2" r="1.3" fill="#6a22e0"/>
<circle cx="158.6" cy="754.5" r="1.3" fill="#3a2cf4"/>
<circle cx="146.5" cy="753.3" r="1.3" fill="#3a2cf4"/>
<circle cx="166.7" cy="746" r="1.3" fill="#c81e8a"/>
<circle cx="154.7" cy="750.8" r="1.3" fill="#9a22c8"/>
<circle cx="164.5" cy="748.6" r="1.3" fill="#6a22e0"/>
<circle cx="163.5" cy="746.8" r="1.3" fill="#3a2cf4"/>
<circle cx="166" cy="754" r="1.3" fill="#9a22c8"/>
<circle cx="151.6" cy="747.8" r="1.3" fill="#3a2cf4"/>
<circle cx="164.8" cy="744.4" r="1.3" fill="#3a2cf4"/>
<circle cx="145.7" cy="749.1" r="1.3" fill="#c81e8a"/>
<circle cx="146.3" cy="746.7" r="1.3" fill="#3a2cf4"/>
<circle cx="160.9" cy="747.9" r="1.3" fill="#3a2cf4"/>
<circle cx="160.7" cy="754.2" r="1.3" fill="#3a2cf4"/>
<circle cx="146.2" cy="748.5" r="1.3" fill="#c81e8a"/>
<circle cx="146.1" cy="745.4" r="1.3" fill="#6a22e0"/>
<circle cx="162.7" cy="749" r="1.3" fill="#3a2cf4"/>
<circle cx="156.8" cy="745" r="1.3" fill="#3a2cf4"/>
<circle cx="146.1" cy="754.6" r="1.3" fill="#3a2cf4"/>
<circle cx="154.8" cy="753.3" r="1.3" fill="#3a2cf4"/>
<circle cx="152.7" cy="753" r="1.3" fill="#6a22e0"/>
<circle cx="148.4" cy="750" r="1.3" fill="#c81e8a"/>
<circle cx="164.4" cy="754.9" r="1.3" fill="#3a2cf4"/>
<circle cx="146.1" cy="749.6" r="1.3" fill="#3a2cf4"/>
<circle cx="168.8" cy="747.2" r="1.3" fill="#6a22e0"/>
<circle cx="166.2" cy="748.7" r="1.3" fill="#9a22c8"/>
<circle cx="147.7" cy="749" r="1.3" fill="#6a22e0"/>
<circle cx="154.6" cy="746" r="1.3" fill="#9a22c8"/>
<circle cx="151.9" cy="754.3" r="1.3" fill="#3a2cf4"/>
<circle cx="164.7" cy="745.3" r="1.3" fill="#6a22e0"/>
<circle cx="168.5" cy="751.1" r="1.3" fill="#3a2cf4"/>
<circle cx="169.4" cy="755" r="1.3" fill="#9a22c8"/>
<circle cx="149" cy="744.9" r="1.3" fill="#6a22e0"/>
<circle cx="147.3" cy="744.5" r="1.3" fill="#6a22e0"/>
<circle cx="168.2" cy="747" r="1.3" fill="#9a22c8"/>
<circle cx="168.8" cy="754.7" r="1.3" fill="#3a2cf4"/>
<circle cx="147.3" cy="754.8" r="1.3" fill="#c81e8a"/>
<circle cx="148" cy="745.9" r="1.3" fill="#6a22e0"/>
<circle cx="146.7" cy="745" r="1.3" fill="#3a2cf4"/>
<circle cx="157.5" cy="748.1" r="1.3" fill="#9a22c8"/>
<circle cx="147.6" cy="754.2" r="1.3" fill="#9a22c8"/>
<circle cx="152.3" cy="750.8" r="1.3" fill="#6a22e0"/>
<circle cx="147.1" cy="754.6" r="1.3" fill="#3a2cf4"/>
<circle cx="155.8" cy="753.7" r="1.3" fill="#3a2cf4"/>
<circle cx="149.9" cy="744.2" r="1.3" fill="#6a22e0"/>
<circle cx="148.9" cy="752.1" r="1.3" fill="#6a22e0"/>
<circle cx="169.9" cy="745.9" r="1.3" fill="#3a2cf4"/>
<circle cx="163.5" cy="749" r="1.3" fill="#3a2cf4"/>
<circle cx="160.2" cy="753" r="1.3" fill="#3a2cf4"/>
<circle cx="152.5" cy="745.4" r="1.3" fill="#3a2cf4"/>
<circle cx="165" cy="747.9" r="1.3" fill="#c81e8a"/>
<circle cx="151.9" cy="749.3" r="1.3" fill="#9a22c8"/>
<circle cx="167.2" cy="753.6" r="1.3" fill="#3a2cf4"/>
<circle cx="154.2" cy="745.3" r="1.3" fill="#6a22e0"/>
<circle cx="164.4" cy="746" r="1.3" fill="#3a2cf4"/>
<circle cx="146.2" cy="749.1" r="1.3" fill="#6a22e0"/>
<circle cx="169.7" cy="751.6" r="1.3" fill="#9a22c8"/>
<circle cx="148.5" cy="748.9" r="1.3" fill="#6a22e0"/>
<circle cx="146.3" cy="750.4" r="1.3" fill="#6a22e0"/>
<circle cx="145.7" cy="746.2" r="1.3" fill="#9a22c8"/>
<circle cx="147.8" cy="751.2" r="1.3" fill="#3a2cf4"/>
<circle cx="152.7" cy="753.9" r="1.3" fill="#3a2cf4"/>
<circle cx="166.2" cy="753.3" r="1.3" fill="#6a22e0"/>
<circle cx="146.8" cy="747.7" r="1.3" fill="#c81e8a"/>
<circle cx="149.8" cy="750.6" r="1.3" fill="#3a2cf4"/>
<circle cx="161.8" cy="751.8" r="1.3" fill="#9a22c8"/>
<circle cx="157.9" cy="745.1" r="1.3" fill="#9a22c8"/>
<circle cx="157.5" cy="754.7" r="1.3" fill="#6a22e0"/>
<circle cx="151.2" cy="748.9" r="1.3" fill="#6a22e0"/>
<circle cx="160.9" cy="751.1" r="1.3" fill="#9a22c8"/>
<circle cx="156.4" cy="746.2" r="1.3" fill="#9a22c8"/>
<circle cx="161.2" cy="745.7" r="1.3" fill="#6a22e0"/>
<circle cx="165.4" cy="750.5" r="1.3" fill="#3a2cf4"/>
<circle cx="196" cy="752.3" r="1.3" fill="#3a2cf4"/>
<circle cx="190.8" cy="753.8" r="1.3" fill="#6a22e0"/>
<circle cx="198.4" cy="750" r="1.3" fill="#3a2cf4"/>
<circle cx="189.8" cy="753.4" r="1.3" fill="#9a22c8"/>
<circle cx="192.7" cy="754.7" r="1.3" fill="#9a22c8"/>
<circle cx="184.2" cy="744.5" r="1.3" fill="#3a2cf4"/>
<circle cx="171.5" cy="754.5" r="1.3" fill="#9a22c8"/>
<circle cx="197.2" cy="752.8" r="1.3" fill="#6a22e0"/>
<circle cx="186.9" cy="744.1" r="1.3" fill="#3a2cf4"/>
<circle cx="182" cy="744.5" r="1.3" fill="#3a2cf4"/>
<circle cx="196" cy="745.6" r="1.2" fill="#6a22e0"/>
<circle cx="197" cy="753" r="1.2" fill="#3a2cf4"/>
<circle cx="205.5" cy="745.6" r="1.2" fill="#3a2cf4"/>
<circle cx="207" cy="754" r="1.2" fill="#3a2cf4"/>
<circle cx="244.9" cy="755.2" r="1.2" fill="#6a22e0"/>
<circle cx="93.4" cy="770.5" r="1.3" fill="#6a22e0"/>
<circle cx="97.2" cy="774.6" r="1.3" fill="#9a22c8"/>
<circle cx="103.4" cy="765.9" r="1.3" fill="#3a2cf4"/>
<circle cx="109.1" cy="769.2" r="1.3" fill="#6a22e0"/>
<circle cx="103.5" cy="768.7" r="1.3" fill="#3a2cf4"/>
<circle cx="96.5" cy="776.8" r="1.3" fill="#6a22e0"/>
<circle cx="112" cy="773.3" r="1.3" fill="#9a22c8"/>
<circle cx="102.4" cy="772.6" r="1.3" fill="#9a22c8"/>
<circle cx="104" cy="773.5" r="1.3" fill="#3a2cf4"/>
<circle cx="93.4" cy="771.9" r="1.3" fill="#3a2cf4"/>
<circle cx="99.9" cy="774.8" r="1.3" fill="#3a2cf4"/>
<circle cx="108.3" cy="773.5" r="1.3" fill="#c81e8a"/>
<circle cx="89.3" cy="768.9" r="1.3" fill="#6a22e0"/>
<circle cx="106.7" cy="767" r="1.3" fill="#6a22e0"/>
<circle cx="108.9" cy="770.8" r="1.3" fill="#9a22c8"/>
<circle cx="101.9" cy="776.7" r="1.3" fill="#3a2cf4"/>
<circle cx="111.1" cy="766.1" r="1.3" fill="#6a22e0"/>
<circle cx="108.9" cy="767.9" r="1.3" fill="#6a22e0"/>
<circle cx="88.4" cy="774" r="1.3" fill="#c81e8a"/>
<circle cx="90.3" cy="771.4" r="1.3" fill="#3a2cf4"/>
<circle cx="95.7" cy="767.9" r="1.3" fill="#3a2cf4"/>
<circle cx="106.8" cy="773.8" r="1.3" fill="#6a22e0"/>
<circle cx="105.8" cy="766.8" r="1.3" fill="#3a2cf4"/>
<circle cx="100.6" cy="771" r="1.3" fill="#6a22e0"/>
<circle cx="96.3" cy="771.9" r="1.3" fill="#9a22c8"/>
<circle cx="90.7" cy="771.3" r="1.3" fill="#3a2cf4"/>
<circle cx="103.3" cy="768.2" r="1.3" fill="#3a2cf4"/>
<circle cx="97" cy="770.4" r="1.3" fill="#3a2cf4"/>
<circle cx="106.3" cy="769" r="1.3" fill="#3a2cf4"/>
<circle cx="113.8" cy="772.4" r="1.3" fill="#9a22c8"/>
<circle cx="93.3" cy="772.2" r="1.3" fill="#3a2cf4"/>
<circle cx="99.5" cy="768.4" r="1.3" fill="#3a2cf4"/>
<circle cx="107.9" cy="766.9" r="1.3" fill="#3a2cf4"/>
<circle cx="88.5" cy="766.3" r="1.3" fill="#c81e8a"/>
<circle cx="97.9" cy="773.9" r="1.3" fill="#3a2cf4"/>
<circle cx="98.2" cy="767.7" r="1.3" fill="#6a22e0"/>
<circle cx="104.7" cy="775.7" r="1.3" fill="#3a2cf4"/>
<circle cx="114" cy="772.1" r="1.3" fill="#6a22e0"/>
<circle cx="99.2" cy="766.3" r="1.3" fill="#3a2cf4"/>
<circle cx="97.2" cy="772.2" r="1.3" fill="#3a2cf4"/>
<circle cx="113.9" cy="765.9" r="1.3" fill="#9a22c8"/>
<circle cx="109.2" cy="766.2" r="1.3" fill="#3a2cf4"/>
<circle cx="110.6" cy="771.6" r="1.3" fill="#3a2cf4"/>
<circle cx="102.3" cy="772.8" r="1.3" fill="#6a22e0"/>
<circle cx="100.7" cy="768.1" r="1.3" fill="#3a2cf4"/>
<circle cx="96.2" cy="768.6" r="1.3" fill="#9a22c8"/>
<circle cx="111" cy="770.8" r="1.3" fill="#9a22c8"/>
<circle cx="98.7" cy="768.5" r="1.3" fill="#3a2cf4"/>
<circle cx="109" cy="774" r="1.3" fill="#3a2cf4"/>
<circle cx="93.4" cy="773.3" r="1.3" fill="#9a22c8"/>
<circle cx="102.6" cy="768.6" r="1.3" fill="#6a22e0"/>
<circle cx="105.2" cy="765.9" r="1.3" fill="#6a22e0"/>
<circle cx="111.1" cy="766.2" r="1.3" fill="#3a2cf4"/>
<circle cx="89.5" cy="773" r="1.3" fill="#3a2cf4"/>
<circle cx="101.1" cy="769.8" r="1.3" fill="#6a22e0"/>
<circle cx="109.5" cy="775.2" r="1.3" fill="#9a22c8"/>
<circle cx="104.9" cy="771.7" r="1.3" fill="#3a2cf4"/>
<circle cx="95.5" cy="775" r="1.3" fill="#c81e8a"/>
<circle cx="112.6" cy="775.8" r="1.3" fill="#3a2cf4"/>
<circle cx="112.5" cy="770.1" r="1.3" fill="#6a22e0"/>
<circle cx="112.4" cy="772.8" r="1.3" fill="#c81e8a"/>
<circle cx="95.2" cy="774.9" r="1.3" fill="#3a2cf4"/>
<circle cx="107.7" cy="768.2" r="1.3" fill="#3a2cf4"/>
<circle cx="91.8" cy="776.8" r="1.3" fill="#3a2cf4"/>
<circle cx="101.7" cy="772.3" r="1.3" fill="#c81e8a"/>
<circle cx="104.8" cy="766.7" r="1.3" fill="#3a2cf4"/>
<circle cx="111.9" cy="770.8" r="1.3" fill="#3a2cf4"/>
<circle cx="97.9" cy="767.6" r="1.3" fill="#3a2cf4"/>
<circle cx="97" cy="770.7" r="1.3" fill="#9a22c8"/>
<circle cx="101.3" cy="769.7" r="1.3" fill="#3a2cf4"/>
<circle cx="92.8" cy="773.2" r="1.3" fill="#3a2cf4"/>
<circle cx="113" cy="772.6" r="1.3" fill="#c81e8a"/>
<circle cx="96.3" cy="776" r="1.3" fill="#c81e8a"/>
<circle cx="112.2" cy="767.5" r="1.3" fill="#6a22e0"/>
<circle cx="112.5" cy="770.9" r="1.3" fill="#9a22c8"/>
<circle cx="109.5" cy="774.8" r="1.3" fill="#3a2cf4"/>
<circle cx="94" cy="766.2" r="1.3" fill="#3a2cf4"/>
<circle cx="113.5" cy="772" r="1.3" fill="#3a2cf4"/>
<circle cx="97.8" cy="770.2" r="1.3" fill="#9a22c8"/>
<circle cx="106.5" cy="774.9" r="1.3" fill="#9a22c8"/>
<circle cx="106.8" cy="774.3" r="1.3" fill="#6a22e0"/>
<circle cx="100.8" cy="770.3" r="1.3" fill="#3a2cf4"/>
<circle cx="102.8" cy="771.3" r="1.3" fill="#3a2cf4"/>
<circle cx="88.6" cy="767.3" r="1.3" fill="#9a22c8"/>
<circle cx="101.8" cy="766.5" r="1.3" fill="#6a22e0"/>
<circle cx="111" cy="771.1" r="1.3" fill="#6a22e0"/>
<circle cx="95.4" cy="775.8" r="1.3" fill="#3a2cf4"/>
<circle cx="92.1" cy="776.1" r="1.3" fill="#3a2cf4"/>
<circle cx="113" cy="770.7" r="1.3" fill="#3a2cf4"/>
<circle cx="112.3" cy="771.2" r="1.3" fill="#3a2cf4"/>
<circle cx="100.6" cy="767.7" r="1.3" fill="#6a22e0"/>
<circle cx="99.9" cy="766.2" r="1.3" fill="#6a22e0"/>
<circle cx="90.6" cy="776.8" r="1.3" fill="#3a2cf4"/>
<circle cx="98" cy="769" r="1.3" fill="#3a2cf4"/>
<circle cx="104.5" cy="765.9" r="1.3" fill="#6a22e0"/>
<circle cx="112.2" cy="775.2" r="1.3" fill="#3a2cf4"/>
<circle cx="100" cy="771.7" r="1.3" fill="#3a2cf4"/>
<circle cx="112.5" cy="771.1" r="1.3" fill="#3a2cf4"/>
<circle cx="111.7" cy="766.5" r="1.3" fill="#3a2cf4"/>
<circle cx="94.1" cy="766.9" r="1.3" fill="#9a22c8"/>
<circle cx="112.5" cy="774.7" r="1.3" fill="#9a22c8"/>
<circle cx="91.9" cy="769.8" r="1.3" fill="#c81e8a"/>
<circle cx="105.7" cy="772.6" r="1.3" fill="#9a22c8"/>
<circle cx="111.8" cy="765.9" r="1.3" fill="#6a22e0"/>
<circle cx="110.2" cy="767.9" r="1.3" fill="#6a22e0"/>
<circle cx="111.4" cy="768.5" r="1.3" fill="#3a2cf4"/>
<circle cx="112.8" cy="774.7" r="1.3" fill="#9a22c8"/>
<circle cx="96.7" cy="770.4" r="1.3" fill="#c81e8a"/>
<circle cx="102.2" cy="771.7" r="1.3" fill="#3a2cf4"/>
<circle cx="107.2" cy="767.8" r="1.3" fill="#6a22e0"/>
<circle cx="87.5" cy="772.6" r="1.3" fill="#3a2cf4"/>
<circle cx="85.8" cy="766.3" r="1.3" fill="#9a22c8"/>
<circle cx="75.6" cy="776.4" r="1.3" fill="#9a22c8"/>
<circle cx="87.8" cy="770.9" r="1.3" fill="#6a22e0"/>
<circle cx="80.2" cy="774" r="1.3" fill="#6a22e0"/>
<circle cx="80.9" cy="774.6" r="1.3" fill="#c81e8a"/>
<circle cx="78.6" cy="768.3" r="1.3" fill="#c81e8a"/>
<circle cx="79.4" cy="769.6" r="1.3" fill="#6a22e0"/>
<circle cx="78.8" cy="770.6" r="1.3" fill="#3a2cf4"/>
<circle cx="80.7" cy="774.5" r="1.3" fill="#9a22c8"/>
<circle cx="87.1" cy="776.1" r="1.3" fill="#3a2cf4"/>
<circle cx="85.1" cy="773.3" r="1.3" fill="#6a22e0"/>
<circle cx="45" cy="767.1" r="1.2" fill="#6a22e0"/>
<circle cx="52.5" cy="771.1" r="1.2" fill="#c81e8a"/>
<circle cx="51.4" cy="775.1" r="1.2" fill="#6a22e0"/>
<circle cx="58" cy="771.6" r="1.2" fill="#c81e8a"/>
<circle cx="62" cy="771.6" r="1.2" fill="#3a2cf4"/>
<circle cx="72" cy="767.1" r="1.2" fill="#3a2cf4"/>
<circle cx="76" cy="775.1" r="1.2" fill="#3a2cf4"/>
<circle cx="174.6" cy="770.6" r="1.3" fill="#3a2cf4"/>
<circle cx="156.3" cy="770.9" r="1.3" fill="#3a2cf4"/>
<circle cx="163.3" cy="772.5" r="1.3" fill="#3a2cf4"/>
<circle cx="151.7" cy="771.4" r="1.3" fill="#6a22e0"/>
<circle cx="168" cy="773.8" r="1.3" fill="#3a2cf4"/>
<circle cx="185" cy="774.2" r="1.3" fill="#6a22e0"/>
<circle cx="167" cy="774.6" r="1.3" fill="#3a2cf4"/>
<circle cx="154.1" cy="771.1" r="1.3" fill="#6a22e0"/>
<circle cx="146.4" cy="771.1" r="1.3" fill="#9a22c8"/>
<circle cx="182.4" cy="771.6" r="1.3" fill="#6a22e0"/>
<circle cx="157.8" cy="766.2" r="1.3" fill="#9a22c8"/>
<circle cx="165.4" cy="772.4" r="1.3" fill="#6a22e0"/>
<circle cx="188.6" cy="768.8" r="1.3" fill="#6a22e0"/>
<circle cx="175.3" cy="773.2" r="1.3" fill="#9a22c8"/>
<circle cx="146.2" cy="774.5" r="1.3" fill="#3a2cf4"/>
<circle cx="155.5" cy="769.4" r="1.3" fill="#9a22c8"/>
<circle cx="183.7" cy="771.7" r="1.3" fill="#6a22e0"/>
<circle cx="171.7" cy="765.7" r="1.3" fill="#3a2cf4"/>
<circle cx="161.3" cy="765.9" r="1.3" fill="#3a2cf4"/>
<circle cx="154" cy="766.8" r="1.3" fill="#3a2cf4"/>
<circle cx="157.7" cy="773" r="1.3" fill="#9a22c8"/>
<circle cx="155.6" cy="774.4" r="1.3" fill="#6a22e0"/>
<circle cx="147.8" cy="767.6" r="1.3" fill="#9a22c8"/>
<circle cx="149" cy="772.6" r="1.3" fill="#6a22e0"/>
<circle cx="179.1" cy="774.3" r="1.3" fill="#9a22c8"/>
<circle cx="148.8" cy="773.7" r="1.3" fill="#9a22c8"/>
<circle cx="171.7" cy="776.4" r="1.3" fill="#3a2cf4"/>
<circle cx="162" cy="776.5" r="1.3" fill="#3a2cf4"/>
<circle cx="156.7" cy="768.7" r="1.3" fill="#3a2cf4"/>
<circle cx="160.4" cy="771.2" r="1.3" fill="#3a2cf4"/>
<circle cx="163.6" cy="776" r="1.3" fill="#3a2cf4"/>
<circle cx="152.8" cy="775.9" r="1.3" fill="#6a22e0"/>
<circle cx="178.4" cy="775.9" r="1.3" fill="#c81e8a"/>
<circle cx="155" cy="765.4" r="1.3" fill="#6a22e0"/>
<circle cx="171.5" cy="769.8" r="1.3" fill="#9a22c8"/>
<circle cx="179" cy="771.9" r="1.3" fill="#6a22e0"/>
<circle cx="159.8" cy="767.5" r="1.3" fill="#3a2cf4"/>
<circle cx="174.9" cy="771" r="1.3" fill="#6a22e0"/>
<circle cx="171.2" cy="776.1" r="1.3" fill="#3a2cf4"/>
<circle cx="147.5" cy="774.2" r="1.3" fill="#3a2cf4"/>
<circle cx="166.9" cy="771.2" r="1.3" fill="#6a22e0"/>
<circle cx="170.4" cy="769.9" r="1.3" fill="#6a22e0"/>
<circle cx="186.3" cy="775" r="1.3" fill="#6a22e0"/>
<circle cx="175.1" cy="768.7" r="1.3" fill="#c81e8a"/>
<circle cx="145.5" cy="771.9" r="1.3" fill="#9a22c8"/>
<circle cx="185" cy="771.6" r="1.3" fill="#6a22e0"/>
<circle cx="168.8" cy="774.1" r="1.3" fill="#3a2cf4"/>
<circle cx="170.2" cy="768.3" r="1.3" fill="#3a2cf4"/>
<circle cx="147.1" cy="767.4" r="1.3" fill="#3a2cf4"/>
<circle cx="148.7" cy="774.3" r="1.3" fill="#6a22e0"/>
<circle cx="158.3" cy="767.4" r="1.3" fill="#3a2cf4"/>
<circle cx="182.8" cy="775" r="1.3" fill="#6a22e0"/>
<circle cx="158.4" cy="775" r="1.3" fill="#6a22e0"/>
<circle cx="156.5" cy="775.7" r="1.3" fill="#6a22e0"/>
<circle cx="146.6" cy="766.1" r="1.3" fill="#6a22e0"/>
<circle cx="177.5" cy="770.4" r="1.3" fill="#6a22e0"/>
<circle cx="148.8" cy="772.3" r="1.3" fill="#3a2cf4"/>
<circle cx="157.3" cy="767.8" r="1.3" fill="#6a22e0"/>
<circle cx="180.4" cy="771.5" r="1.3" fill="#6a22e0"/>
<circle cx="166.3" cy="773.5" r="1.3" fill="#6a22e0"/>
<circle cx="145.6" cy="776.5" r="1.3" fill="#6a22e0"/>
<circle cx="146.4" cy="773.7" r="1.3" fill="#9a22c8"/>
<circle cx="157.6" cy="772.3" r="1.3" fill="#3a2cf4"/>
<circle cx="175.5" cy="773.1" r="1.3" fill="#9a22c8"/>
<circle cx="162.4" cy="775.9" r="1.3" fill="#3a2cf4"/>
<circle cx="145.5" cy="766.4" r="1.3" fill="#3a2cf4"/>
<circle cx="151.9" cy="768" r="1.3" fill="#3a2cf4"/>
<circle cx="170.9" cy="775.6" r="1.3" fill="#c81e8a"/>
<circle cx="157" cy="771.1" r="1.3" fill="#6a22e0"/>
<circle cx="168.5" cy="773.7" r="1.3" fill="#3a2cf4"/>
<circle cx="145.8" cy="769" r="1.3" fill="#3a2cf4"/>
<circle cx="172.6" cy="776.5" r="1.3" fill="#6a22e0"/>
<circle cx="173" cy="771.9" r="1.3" fill="#c81e8a"/>
<circle cx="149.8" cy="771.9" r="1.3" fill="#3a2cf4"/>
<circle cx="161.6" cy="767.9" r="1.3" fill="#9a22c8"/>
<circle cx="156.2" cy="768.4" r="1.3" fill="#9a22c8"/>
<circle cx="145.7" cy="767.5" r="1.3" fill="#c81e8a"/>
<circle cx="171.8" cy="767.7" r="1.3" fill="#3a2cf4"/>
<circle cx="172.1" cy="774.9" r="1.3" fill="#c81e8a"/>
<circle cx="186.7" cy="774" r="1.3" fill="#3a2cf4"/>
<circle cx="178.1" cy="770.4" r="1.3" fill="#6a22e0"/>
<circle cx="145.8" cy="765.5" r="1.3" fill="#6a22e0"/>
<circle cx="170.7" cy="768.5" r="1.3" fill="#c81e8a"/>
<circle cx="146.9" cy="775.4" r="1.3" fill="#c81e8a"/>
<circle cx="147.4" cy="774.9" r="1.3" fill="#6a22e0"/>
<circle cx="160.6" cy="770.4" r="1.3" fill="#6a22e0"/>
<circle cx="185.8" cy="774.1" r="1.3" fill="#6a22e0"/>
<circle cx="161.7" cy="767.4" r="1.3" fill="#6a22e0"/>
<circle cx="182.1" cy="772.6" r="1.3" fill="#6a22e0"/>
<circle cx="161.3" cy="776.7" r="1.3" fill="#9a22c8"/>
<circle cx="164.4" cy="773" r="1.3" fill="#9a22c8"/>
<circle cx="153.1" cy="772.6" r="1.3" fill="#3a2cf4"/>
<circle cx="176.9" cy="768.9" r="1.3" fill="#c81e8a"/>
<circle cx="173.1" cy="771.4" r="1.3" fill="#6a22e0"/>
<circle cx="167.6" cy="768.4" r="1.3" fill="#3a2cf4"/>
<circle cx="161.4" cy="768.7" r="1.3" fill="#6a22e0"/>
<circle cx="151.4" cy="767.7" r="1.3" fill="#c81e8a"/>
<circle cx="158.1" cy="774" r="1.3" fill="#3a2cf4"/>
<circle cx="147.4" cy="773.3" r="1.3" fill="#3a2cf4"/>
<circle cx="178.8" cy="765.6" r="1.3" fill="#6a22e0"/>
<circle cx="168.3" cy="767.9" r="1.3" fill="#6a22e0"/>
<circle cx="150.9" cy="766.6" r="1.3" fill="#3a2cf4"/>
<circle cx="146.3" cy="770" r="1.3" fill="#9a22c8"/>
<circle cx="150.1" cy="768.6" r="1.3" fill="#3a2cf4"/>
<circle cx="151.8" cy="775.4" r="1.3" fill="#9a22c8"/>
<circle cx="148.3" cy="772.9" r="1.3" fill="#9a22c8"/>
<circle cx="145.6" cy="770" r="1.3" fill="#3a2cf4"/>
<circle cx="155.5" cy="766.8" r="1.3" fill="#6a22e0"/>
<circle cx="151.2" cy="773.8" r="1.3" fill="#3a2cf4"/>
<circle cx="147.3" cy="771.7" r="1.3" fill="#6a22e0"/>
<circle cx="175.6" cy="773.9" r="1.3" fill="#3a2cf4"/>
<circle cx="158.3" cy="773.6" r="1.3" fill="#c81e8a"/>
<circle cx="166.1" cy="772.4" r="1.3" fill="#3a2cf4"/>
<circle cx="160.6" cy="769" r="1.3" fill="#6a22e0"/>
<circle cx="154.2" cy="769.1" r="1.3" fill="#3a2cf4"/>
<circle cx="147.4" cy="775.3" r="1.3" fill="#3a2cf4"/>
<circle cx="187.9" cy="768.2" r="1.3" fill="#3a2cf4"/>
<circle cx="183.9" cy="770.5" r="1.3" fill="#6a22e0"/>
<circle cx="177.5" cy="769.8" r="1.3" fill="#3a2cf4"/>
<circle cx="145.6" cy="775.3" r="1.3" fill="#6a22e0"/>
<circle cx="177.8" cy="776.6" r="1.3" fill="#9a22c8"/>
<circle cx="168" cy="766.6" r="1.3" fill="#6a22e0"/>
<circle cx="162.8" cy="766.5" r="1.3" fill="#3a2cf4"/>
<circle cx="156.7" cy="769.6" r="1.3" fill="#9a22c8"/>
<circle cx="189.6" cy="775.9" r="1.3" fill="#3a2cf4"/>
<circle cx="181.7" cy="769.7" r="1.3" fill="#3a2cf4"/>
<circle cx="167.3" cy="765.8" r="1.3" fill="#6a22e0"/>
<circle cx="146.7" cy="772.1" r="1.3" fill="#6a22e0"/>
<circle cx="146.7" cy="772.8" r="1.3" fill="#6a22e0"/>
<circle cx="156.8" cy="774.3" r="1.3" fill="#3a2cf4"/>
<circle cx="150.7" cy="770.1" r="1.3" fill="#3a2cf4"/>
<circle cx="179.9" cy="767.7" r="1.3" fill="#3a2cf4"/>
<circle cx="177.7" cy="770.7" r="1.3" fill="#3a2cf4"/>
<circle cx="149.2" cy="769.4" r="1.3" fill="#6a22e0"/>
<circle cx="177.7" cy="776.8" r="1.3" fill="#6a22e0"/>
<circle cx="163.5" cy="774.1" r="1.3" fill="#6a22e0"/>
<circle cx="153" cy="773.4" r="1.3" fill="#9a22c8"/>
<circle cx="151.8" cy="775.2" r="1.3" fill="#3a2cf4"/>
<circle cx="150.6" cy="769.7" r="1.3" fill="#9a22c8"/>
<circle cx="162.7" cy="769.3" r="1.3" fill="#3a2cf4"/>
<circle cx="162.1" cy="771.8" r="1.3" fill="#6a22e0"/>
<circle cx="183.9" cy="766.8" r="1.3" fill="#6a22e0"/>
<circle cx="187.8" cy="772.3" r="1.3" fill="#6a22e0"/>
<circle cx="179.1" cy="775.5" r="1.3" fill="#3a2cf4"/>
<circle cx="161.4" cy="775" r="1.3" fill="#3a2cf4"/>
<circle cx="161.2" cy="776.5" r="1.3" fill="#3a2cf4"/>
<circle cx="160.5" cy="770.2" r="1.3" fill="#6a22e0"/>
<circle cx="177.1" cy="766.6" r="1.3" fill="#6a22e0"/>
<circle cx="160.2" cy="776.4" r="1.3" fill="#9a22c8"/>
<circle cx="154.6" cy="769" r="1.3" fill="#c81e8a"/>
<circle cx="145.6" cy="773.4" r="1.3" fill="#3a2cf4"/>
<circle cx="154.5" cy="772.8" r="1.3" fill="#6a22e0"/>
<circle cx="170.2" cy="767.9" r="1.3" fill="#3a2cf4"/>
<circle cx="181.8" cy="768.5" r="1.3" fill="#6a22e0"/>
<circle cx="166.4" cy="775.2" r="1.3" fill="#9a22c8"/>
<circle cx="178.3" cy="769.2" r="1.3" fill="#6a22e0"/>
<circle cx="184" cy="766.2" r="1.3" fill="#6a22e0"/>
<circle cx="161.9" cy="769.8" r="1.3" fill="#6a22e0"/>
<circle cx="179.3" cy="775.8" r="1.3" fill="#9a22c8"/>
<circle cx="186.1" cy="775.3" r="1.3" fill="#6a22e0"/>
<circle cx="194.8" cy="775.9" r="1.3" fill="#6a22e0"/>
<circle cx="190.5" cy="769.9" r="1.3" fill="#6a22e0"/>
<circle cx="190.1" cy="766.6" r="1.3" fill="#9a22c8"/>
<circle cx="194.8" cy="765.6" r="1.3" fill="#9a22c8"/>
<circle cx="194.3" cy="769.7" r="1.3" fill="#6a22e0"/>
<circle cx="190.7" cy="767" r="1.3" fill="#6a22e0"/>
<circle cx="194.8" cy="772.5" r="1.3" fill="#3a2cf4"/>
<circle cx="191.4" cy="766.8" r="1.3" fill="#c81e8a"/>
<circle cx="204.8" cy="775.1" r="1.2" fill="#3a2cf4"/>
<circle cx="208" cy="771.6" r="1.2" fill="#3a2cf4"/>
<circle cx="213.6" cy="769.1" r="1.2" fill="#6a22e0"/>
<circle cx="213" cy="774.9" r="1.2" fill="#3a2cf4"/>
<circle cx="218" cy="771.6" r="1.2" fill="#3a2cf4"/>
<circle cx="222" cy="770.3" r="1.2" fill="#3a2cf4"/>
<circle cx="225" cy="767.5" r="1.2" fill="#3a2cf4"/>
<circle cx="233" cy="768.1" r="1.2" fill="#c81e8a"/>
<circle cx="236" cy="771.6" r="1.2" fill="#3a2cf4"/>
<circle cx="233.7" cy="773.9" r="1.2" fill="#3a2cf4"/>
<circle cx="251.7" cy="771.6" r="1.2" fill="#3a2cf4"/>
<circle cx="266" cy="775.1" r="1.2" fill="#9a22c8"/>
<circle cx="97.7" cy="795.6" r="1.2" fill="#9a22c8"/>
<circle cx="103.8" cy="795.8" r="1.2" fill="#6a22e0"/>
<circle cx="112.6" cy="791.8" r="1.2" fill="#6a22e0"/>
<circle cx="112.6" cy="797.1" r="1.2" fill="#6a22e0"/>
<circle cx="149" cy="798.4" r="1.2" fill="#3a2cf4"/>
<circle cx="153" cy="794.9" r="1.2" fill="#6a22e0"/>
<circle cx="155" cy="795.6" r="1.2" fill="#c81e8a"/>
<circle cx="157.5" cy="791.3" r="1.2" fill="#9a22c8"/>
<circle cx="159" cy="794.9" r="1.2" fill="#9a22c8"/>
<circle cx="162" cy="793.6" r="1.2" fill="#3a2cf4"/>
<circle cx="169" cy="794.1" r="1.2" fill="#6a22e0"/>
<circle cx="174.5" cy="794.1" r="1.2" fill="#c81e8a"/>
<circle cx="176.5" cy="790.4" r="1.2" fill="#3a2cf4"/>
<circle cx="188" cy="789.3" r="1.2" fill="#3a2cf4"/>
<circle cx="215" cy="792" r="1.2" fill="#c81e8a"/>
<circle cx="220" cy="795.1" r="1.2" fill="#3a2cf4"/>
<text x="115" y="693.5" font-size="8.6" text-anchor="middle" font-weight="bold" fill="#1a1aff">N down</text>
<text x="145" y="693.5" font-size="8.6" text-anchor="middle" font-weight="bold" fill="#ff1a1a">N up</text>
<text x="117.3" y="710.1" font-size="8.6" font-weight="bold" fill="#1a1aff">67</text>
<text x="143.3" y="710.1" font-size="8.6" text-anchor="end" font-weight="bold" fill="#ff1a1a">98</text>
<text x="117.3" y="731.6" font-size="8.6" font-weight="bold" fill="#1a1aff">94</text>
<text x="143.3" y="731.6" font-size="8.6" text-anchor="end" font-weight="bold" fill="#ff1a1a">129</text>
<text x="117.3" y="752.8" font-size="8.6" font-weight="bold" fill="#1a1aff">81</text>
<text x="143.3" y="752.8" font-size="8.6" text-anchor="end" font-weight="bold" fill="#ff1a1a">93</text>
<text x="117.3" y="774.3" font-size="8.6" font-weight="bold" fill="#1a1aff">112</text>
<text x="143.3" y="774.3" font-size="8.6" text-anchor="end" font-weight="bold" fill="#ff1a1a">264</text>
<text x="117.3" y="795.8" font-size="8.6" font-weight="bold" fill="#1a1aff">4</text>
<text x="143.3" y="795.8" font-size="8.6" text-anchor="end" font-weight="bold" fill="#ff1a1a">13</text>
<text x="54.7" y="812.6" font-size="8.6" text-anchor="middle" fill="#222">-5</text>
<text x="99.9" y="812.6" font-size="8.6" text-anchor="middle" fill="#222">-2</text>
<text x="114.8" y="812.6" font-size="8.6" text-anchor="middle" fill="#222">-1</text>
<text x="144.5" y="812.6" font-size="8.6" text-anchor="middle" fill="#222">1</text>
<text x="159.9" y="812.6" font-size="8.6" text-anchor="middle" fill="#222">2</text>
<text x="205" y="812.6" font-size="8.6" text-anchor="middle" fill="#222">5</text>
<text x="130" y="825" font-size="9" text-anchor="middle" fill="#111">log2FC KO vs. WT</text>
<rect x="287.1" y="730.2" width="7.8" height="38.6" fill="url(#gH)"/>
<text x="282.8" y="748.2" font-size="8.8" text-anchor="middle" fill="#111" transform="rotate(-90 282.8 748.2)">-log10(padj)</text>
<text x="304.3" y="765.5" font-size="8.2" text-anchor="middle" fill="#222" transform="rotate(-90 304.3 765.5)">2</text>
<text x="304.3" y="758.6" font-size="8.2" text-anchor="middle" fill="#222" transform="rotate(-90 304.3 758.6)">3</text>
<text x="304.3" y="751.8" font-size="8.2" text-anchor="middle" fill="#222" transform="rotate(-90 304.3 751.8)">4</text>
<text x="304.3" y="744.9" font-size="8.2" text-anchor="middle" fill="#222" transform="rotate(-90 304.3 744.9)">5</text>
<text x="304.3" y="738.1" font-size="8.2" text-anchor="middle" fill="#222" transform="rotate(-90 304.3 738.1)">6</text>
<text x="304.3" y="731.2" font-size="8.2" text-anchor="middle" fill="#222" transform="rotate(-90 304.3 731.2)">7</text>
<polygon points="412.6,510.4 405,511.7 398.7,514.6 393.3,519.1 389,524.9 385.9,530.6 384.6,534.8 387.6,535.8 388.8,531.9 391.7,526.6 395.5,521.3 400.4,517.3 406,514.7 413.2,513.5" fill="url(#gEPi)" stroke="url(#gEPi)" stroke-width="0.8" stroke-linejoin="round"/>
<polygon points="385.1,534.4 377.7,538.1 374,542.7 370.3,548.2 369.4,553.7 374,557.4 379.6,559.2 385.1,557.4 389.2,553.7 390.3,547.3 389.6,541.8 389.6,536.2" fill="#f0603f" stroke="#f0603f" stroke-width="0.8" stroke-linejoin="round"/>
<polygon points="411.1,511.7 420.3,509.9 431.4,508.1 437,507.3 440.7,508.6 442.5,511.4 445.3,516.9 449,521.5 449.9,522.4 448.1,527.9 445.3,530.7 442.5,532.5 439.7,534.4 437,538.1 434.2,536.2 431.4,530.7 428.6,525.2 424.9,518.7 421.2,515 416.6,513.2 411.1,513.2" fill="#c6c0be" stroke="#c6c0be" stroke-width="0.8" stroke-linejoin="round"/>
<polygon points="449.6,521.5 453.6,521.5 459.2,524.3 464.7,526.1 466.2,527.9 462.9,529.8 457.3,530.1 451.8,530.7 447.7,528.9 448.6,524.3" fill="#d4b2a6" stroke="#d4b2a6" stroke-width="0.8" stroke-linejoin="round"/>
<polygon points="355.5,540.8 359.2,538.1 364.8,537.5 370.3,539.9 373.1,544.5 372.2,550 369.4,553.7 366.6,557.4 361.1,556.5 356.5,552.8 353.7,548.2 354,543.6" fill="#f2482c" stroke="#f2482c" stroke-width="0.8" stroke-linejoin="round"/>
<polygon points="365.7,558.3 370.3,557 374,559.2 375.9,562.9 375,568.5 374,573.1 370.3,574.9 367.6,573.1 367.6,566.6 365.7,562" fill="#f42818" stroke="#f42818" stroke-width="0.8" stroke-linejoin="round"/>
<polygon points="377.7,560.2 381.4,558.3 385.1,557.4 384.2,562 382.4,564.8 379.6,564.8 377.7,562.9" fill="#f24a30" stroke="#f24a30" stroke-width="0.8" stroke-linejoin="round"/>
<polygon points="388.8,547.3 391.6,548.2 394.4,551.9 396.2,557.4 399,562 402.7,565.7 403.7,569.4 399.9,571.2 395.3,570.3 391.6,567.5 389.8,562.9 392.5,559.2 391.6,553.7 389.2,550" fill="#f25a3a" stroke="#f25a3a" stroke-width="0.8" stroke-linejoin="round"/>
<circle cx="438.8" cy="535.3" r="0.6" fill="#dca898"/>
<circle cx="440.7" cy="537.1" r="0.6" fill="#dca898"/>
<circle cx="442.5" cy="536.2" r="0.6" fill="#dca898"/>
<circle cx="445.3" cy="535.3" r="0.6" fill="#dca898"/>
<circle cx="446.2" cy="538.1" r="0.6" fill="#dca898"/>
<circle cx="443.4" cy="539.9" r="0.6" fill="#dca898"/>
<circle cx="438.4" cy="540.8" r="0.6" fill="#dca898"/>
<circle cx="439.7" cy="553.7" r="0.6" fill="#dca898"/>
<circle cx="438.8" cy="562.9" r="0.6" fill="#dca898"/>
<circle cx="441.6" cy="538.1" r="0.6" fill="#dca898"/>
<circle cx="444.4" cy="534.4" r="0.6" fill="#dca898"/>
<circle cx="447.1" cy="536.2" r="0.6" fill="#dca898"/>
<g fill="url(#wdots)" opacity="0.7">
<polygon points="412.6,510.4 405,511.7 398.7,514.6 393.3,519.1 389,524.9 385.9,530.6 384.6,534.8 387.6,535.8 388.8,531.9 391.7,526.6 395.5,521.3 400.4,517.3 406,514.7 413.2,513.5"/>
<polygon points="385.1,534.4 377.7,538.1 374,542.7 370.3,548.2 369.4,553.7 374,557.4 379.6,559.2 385.1,557.4 389.2,553.7 390.3,547.3 389.6,541.8 389.6,536.2"/>
<polygon points="411.1,511.7 420.3,509.9 431.4,508.1 437,507.3 440.7,508.6 442.5,511.4 445.3,516.9 449,521.5 449.9,522.4 448.1,527.9 445.3,530.7 442.5,532.5 439.7,534.4 437,538.1 434.2,536.2 431.4,530.7 428.6,525.2 424.9,518.7 421.2,515 416.6,513.2 411.1,513.2"/>
<polygon points="449.6,521.5 453.6,521.5 459.2,524.3 464.7,526.1 466.2,527.9 462.9,529.8 457.3,530.1 451.8,530.7 447.7,528.9 448.6,524.3"/>
<polygon points="355.5,540.8 359.2,538.1 364.8,537.5 370.3,539.9 373.1,544.5 372.2,550 369.4,553.7 366.6,557.4 361.1,556.5 356.5,552.8 353.7,548.2 354,543.6"/>
<polygon points="365.7,558.3 370.3,557 374,559.2 375.9,562.9 375,568.5 374,573.1 370.3,574.9 367.6,573.1 367.6,566.6 365.7,562"/>
<polygon points="377.7,560.2 381.4,558.3 385.1,557.4 384.2,562 382.4,564.8 379.6,564.8 377.7,562.9"/>
<polygon points="388.8,547.3 391.6,548.2 394.4,551.9 396.2,557.4 399,562 402.7,565.7 403.7,569.4 399.9,571.2 395.3,570.3 391.6,567.5 389.8,562.9 392.5,559.2 391.6,553.7 389.2,550"/>
</g>
<polygon points="354.6,711.6 360.1,708.8 367.5,708.8 373.1,710.7 375.9,714.3 376.8,718.9 374.9,723.5 371.2,726.3 367.5,728.1 362,729.9 357.4,729.9 354.6,726.3 353.7,720.8 353.7,715.3" fill="#f2482c" stroke="#f2482c" stroke-width="0.8" stroke-linejoin="round"/>
<polygon points="369.4,710.7 374.9,708.8 380.5,707.9 384.6,710.7 387.5,717.1 388.8,723 387,727.2 383.3,728.5 378.6,728.1 374.9,726.6 372.2,720.8" fill="#f05a3c" stroke="#f05a3c" stroke-width="0.8" stroke-linejoin="round"/>
<polygon points="366.6,731.8 371.2,729.9 374.9,730.9 376.8,735.4 378.6,740 375.9,743.7 372.2,745.5 368.5,744.6 366.6,740.9 365.7,736.4" fill="#f42818" stroke="#f42818" stroke-width="0.8" stroke-linejoin="round"/>
<polygon points="381.4,729.9 384.2,729 385.1,733.6 383.3,735.4 381.4,733.6" fill="#f24a30" stroke="#f24a30" stroke-width="0.8" stroke-linejoin="round"/>
<polygon points="387,727.2 390.7,724.4 394.4,725.4 397.1,728.1 399.9,731.8 402.7,735.4 403.6,739.1 400.8,741.9 396.2,741.9 392.5,740 388.8,737.3 387,733.6 386,729.9" fill="#f25a3a" stroke="#f25a3a" stroke-width="0.8" stroke-linejoin="round"/>
<polygon points="436,708.8 441.6,707.9 445.3,707.6 448,708.8 449.9,712.5 449.9,717.1 449,721.7 447.1,726.3 445.3,729.9 442.5,731.8 438.8,729.9 436.9,726.3 436,723 430.5,722.6 424.9,723.1 424,721.7 429.5,719.8 435.1,718 435.6,713.4" fill="#c8c2c0" stroke="#c8c2c0" stroke-width="0.8" stroke-linejoin="round"/>
<polygon points="435.6,729.6 441.6,729.9 446.8,730.3 447.1,737.3 446.2,742.8 444.3,749.2 443.4,753.8 440.6,751 437.9,746.4 435.1,740.9 434.2,735.4" fill="url(#gMLP2k)" stroke="url(#gMLP2k)" stroke-width="0.8" stroke-linejoin="round"/>
<polygon points="442.1,753.4 444.2,752.7 449,757.5 450.5,763 449.9,770.3 448,777.6 445.3,785 442.5,789.6 438.8,793.2 434.2,793.2 431.9,789.6 433.2,783.1 436.9,777.6 439.7,772.1 441.6,765.7 442.5,760.2" fill="url(#gMLk)" stroke="url(#gMLk)" stroke-width="0.8" stroke-linejoin="round"/>
<polygon points="449,708.8 452.7,705.2 458.2,700.6 460.1,699.7 459.2,701.5 454.5,706.1 450.5,709.8" fill="#d0bcb6" stroke="#d0bcb6" stroke-width="0.8" stroke-linejoin="round"/>
<g fill="url(#wdots)" opacity="0.7">
<polygon points="354.6,711.6 360.1,708.8 367.5,708.8 373.1,710.7 375.9,714.3 376.8,718.9 374.9,723.5 371.2,726.3 367.5,728.1 362,729.9 357.4,729.9 354.6,726.3 353.7,720.8 353.7,715.3"/>
<polygon points="369.4,710.7 374.9,708.8 380.5,707.9 384.6,710.7 387.5,717.1 388.8,723 387,727.2 383.3,728.5 378.6,728.1 374.9,726.6 372.2,720.8"/>
<polygon points="366.6,731.8 371.2,729.9 374.9,730.9 376.8,735.4 378.6,740 375.9,743.7 372.2,745.5 368.5,744.6 366.6,740.9 365.7,736.4"/>
<polygon points="381.4,729.9 384.2,729 385.1,733.6 383.3,735.4 381.4,733.6"/>
<polygon points="387,727.2 390.7,724.4 394.4,725.4 397.1,728.1 399.9,731.8 402.7,735.4 403.6,739.1 400.8,741.9 396.2,741.9 392.5,740 388.8,737.3 387,733.6 386,729.9"/>
<polygon points="436,708.8 441.6,707.9 445.3,707.6 448,708.8 449.9,712.5 449.9,717.1 449,721.7 447.1,726.3 445.3,729.9 442.5,731.8 438.8,729.9 436.9,726.3 436,723 430.5,722.6 424.9,723.1 424,721.7 429.5,719.8 435.1,718 435.6,713.4"/>
<polygon points="435.6,729.6 441.6,729.9 446.8,730.3 447.1,737.3 446.2,742.8 444.3,749.2 443.4,753.8 440.6,751 437.9,746.4 435.1,740.9 434.2,735.4"/>
<polygon points="442.1,753.4 444.2,752.7 449,757.5 450.5,763 449.9,770.3 448,777.6 445.3,785 442.5,789.6 438.8,793.2 434.2,793.2 431.9,789.6 433.2,783.1 436.9,777.6 439.7,772.1 441.6,765.7 442.5,760.2"/>
<polygon points="449,708.8 452.7,705.2 458.2,700.6 460.1,699.7 459.2,701.5 454.5,706.1 450.5,709.8"/>
</g>
<circle cx="388.3" cy="696" r="0.6" fill="#ec8a6c"/>
<circle cx="383.4" cy="705.3" r="0.6" fill="#ec8a6c"/>
<circle cx="394.7" cy="690.3" r="0.6" fill="#ec8a6c"/>
<circle cx="378.5" cy="709.1" r="0.6" fill="#ec8a6c"/>
<circle cx="378.4" cy="709.6" r="0.6" fill="#ec8a6c"/>
<circle cx="387.1" cy="698.9" r="0.6" fill="#ec8a6c"/>
<circle cx="392.1" cy="693.4" r="0.6" fill="#ec8a6c"/>
<circle cx="390.2" cy="694.4" r="0.6" fill="#ec8a6c"/>
<circle cx="397.3" cy="687.8" r="0.6" fill="#ec8a6c"/>
<circle cx="381.3" cy="707.9" r="0.6" fill="#ec8a6c"/>
<circle cx="393.9" cy="692.8" r="0.6" fill="#ec8a6c"/>
<circle cx="397.9" cy="688.6" r="0.6" fill="#ec8a6c"/>
<circle cx="394.3" cy="693.1" r="0.6" fill="#ec8a6c"/>
<circle cx="388.9" cy="696.8" r="0.6" fill="#ec8a6c"/>
<circle cx="382.3" cy="703.7" r="0.6" fill="#ec8a6c"/>
<circle cx="381.9" cy="704.1" r="0.6" fill="#ec8a6c"/>
<circle cx="389.1" cy="696.3" r="0.6" fill="#ec8a6c"/>
<circle cx="381.9" cy="706.3" r="0.6" fill="#ec8a6c"/>
<circle cx="390" cy="695.6" r="0.6" fill="#ec8a6c"/>
<circle cx="390.3" cy="694.3" r="0.6" fill="#ec8a6c"/>
<circle cx="399.1" cy="688.2" r="0.6" fill="#ec8a6c"/>
<circle cx="391.3" cy="696.3" r="0.6" fill="#ec8a6c"/>
<circle cx="381.7" cy="704.2" r="0.6" fill="#ec8a6c"/>
<circle cx="382.8" cy="705.1" r="0.6" fill="#ec8a6c"/>
<circle cx="394.9" cy="691.3" r="0.6" fill="#ec8a6c"/>
<circle cx="386.5" cy="701.5" r="0.6" fill="#ec8a6c"/>
<circle cx="382.8" cy="704.1" r="0.6" fill="#ec8a6c"/>
<circle cx="383.7" cy="705" r="0.6" fill="#ec8a6c"/>
<circle cx="413.8" cy="683.6" r="0.6" fill="#ccbcb8"/>
<circle cx="415.2" cy="682" r="0.6" fill="#ccbcb8"/>
<circle cx="410.1" cy="683.9" r="0.6" fill="#ccbcb8"/>
<circle cx="413.9" cy="682.6" r="0.6" fill="#ccbcb8"/>
<circle cx="423" cy="685.7" r="0.6" fill="#ccbcb8"/>
<circle cx="420.3" cy="684.6" r="0.6" fill="#ccbcb8"/>
<circle cx="418.4" cy="683.1" r="0.6" fill="#ccbcb8"/>
<circle cx="417.2" cy="683.2" r="0.6" fill="#ccbcb8"/>
<circle cx="415.6" cy="683.3" r="0.6" fill="#ccbcb8"/>
<circle cx="412.2" cy="682.7" r="0.6" fill="#ccbcb8"/>
<circle cx="445.5" cy="708.3" r="0.6" fill="#ccbcb8"/>
<circle cx="434.1" cy="702.3" r="0.6" fill="#ccbcb8"/>
<circle cx="439.9" cy="689.8" r="0.6" fill="#ccbcb8"/>
<circle cx="442.7" cy="699.8" r="0.6" fill="#ccbcb8"/>
<circle cx="443" cy="699.5" r="0.6" fill="#ccbcb8"/>
<circle cx="428.6" cy="694.2" r="0.6" fill="#ccbcb8"/>
<circle cx="429" cy="709.8" r="0.6" fill="#ccbcb8"/>
<circle cx="444.9" cy="707.3" r="0.6" fill="#ccbcb8"/>
<circle cx="434.3" cy="687.4" r="0.6" fill="#ccbcb8"/>
<circle cx="444.9" cy="710.2" r="0.6" fill="#ccbcb8"/>
<circle cx="430.2" cy="698.4" r="0.6" fill="#ccbcb8"/>
<circle cx="429.9" cy="705.4" r="0.6" fill="#ccbcb8"/>
<circle cx="442.8" cy="689.2" r="0.6" fill="#ccbcb8"/>
<circle cx="437.4" cy="700" r="0.6" fill="#ccbcb8"/>
<circle cx="433.5" cy="708.3" r="0.6" fill="#ccbcb8"/>
<circle cx="436.4" cy="691.3" r="0.6" fill="#ccbcb8"/>
<circle cx="438.6" cy="704.7" r="0.6" fill="#ccbcb8"/>
<circle cx="432.3" cy="693.9" r="0.6" fill="#ccbcb8"/>
<circle cx="447" cy="702.6" r="0.6" fill="#ccbcb8"/>
<circle cx="436.7" cy="699.2" r="0.6" fill="#ccbcb8"/>
<circle cx="430.9" cy="691.7" r="0.6" fill="#ccbcb8"/>
<circle cx="434.9" cy="701" r="0.6" fill="#ccbcb8"/>
<circle cx="432.9" cy="691.6" r="0.6" fill="#ccbcb8"/>
<circle cx="429.9" cy="702.1" r="0.6" fill="#ccbcb8"/>
<circle cx="432.8" cy="709.2" r="0.6" fill="#ccbcb8"/>
<circle cx="444.5" cy="687.7" r="0.6" fill="#ccbcb8"/>
<circle cx="433" cy="703.1" r="0.6" fill="#ccbcb8"/>
<circle cx="432.6" cy="689.3" r="0.6" fill="#ccbcb8"/>
<circle cx="445.9" cy="700.6" r="0.6" fill="#ccbcb8"/>
<circle cx="437.4" cy="706.1" r="0.6" fill="#ccbcb8"/>
<line x1="347.5" y1="499.7" x2="347.5" y2="628.4" stroke="#000" stroke-width="1"/>
<line x1="344.5" y1="521.5" x2="347.5" y2="521.5" stroke="#000" stroke-width="1"/>
<text x="344.5" y="524.7" font-size="9" text-anchor="end" fill="#222">5</text>
<line x1="344.5" y1="548.3" x2="347.5" y2="548.3" stroke="#000" stroke-width="1"/>
<text x="344.5" y="551.5" font-size="9" text-anchor="end" fill="#222">0</text>
<line x1="344.5" y1="574.6" x2="347.5" y2="574.6" stroke="#000" stroke-width="1"/>
<text x="344.5" y="577.8" font-size="9" text-anchor="end" fill="#222">-5</text>
<line x1="344.5" y1="601.4" x2="347.5" y2="601.4" stroke="#000" stroke-width="1"/>
<text x="344.5" y="604.6" font-size="9" text-anchor="end" fill="#222">-10</text>
<line x1="344.5" y1="628.4" x2="347.5" y2="628.4" stroke="#000" stroke-width="1"/>
<text x="344.5" y="631.6" font-size="9" text-anchor="end" fill="#222">-15</text>
<line x1="347.5" y1="628.4" x2="469.7" y2="628.4" stroke="#000" stroke-width="1"/>
<line x1="362.8" y1="628.4" x2="362.8" y2="631.4" stroke="#000" stroke-width="1"/>
<text x="362.8" y="638.5" font-size="9" text-anchor="middle" fill="#222">-10</text>
<line x1="389.6" y1="628.4" x2="389.6" y2="631.4" stroke="#000" stroke-width="1"/>
<text x="389.6" y="638.5" font-size="9" text-anchor="middle" fill="#222">-5</text>
<line x1="415.9" y1="628.4" x2="415.9" y2="631.4" stroke="#000" stroke-width="1"/>
<text x="415.9" y="638.5" font-size="9" text-anchor="middle" fill="#222">0</text>
<line x1="441.6" y1="628.4" x2="441.6" y2="631.4" stroke="#000" stroke-width="1"/>
<text x="441.6" y="638.5" font-size="9" text-anchor="middle" fill="#222">5</text>
<line x1="467.6" y1="628.4" x2="467.6" y2="631.4" stroke="#000" stroke-width="1"/>
<text x="467.6" y="638.5" font-size="9" text-anchor="middle" fill="#222">10</text>
<text x="410.6" y="648.3" font-size="9.5" text-anchor="middle" fill="#222">UMAP_1</text>
<text x="333" y="563.3" font-size="9.5" text-anchor="middle" fill="#222" transform="rotate(-90 333 563.3)">UMAP_2</text>
<text x="351.3" y="507" font-size="10.3" font-weight="bold">WT</text>
<text x="321.1" y="503" font-size="23">I</text>
<line x1="347.5" y1="671" x2="347.5" y2="799" stroke="#000" stroke-width="1"/>
<line x1="344.5" y1="693" x2="347.5" y2="693" stroke="#000" stroke-width="1"/>
<text x="344.5" y="696.2" font-size="9" text-anchor="end" fill="#222">5</text>
<line x1="344.5" y1="719.3" x2="347.5" y2="719.3" stroke="#000" stroke-width="1"/>
<text x="344.5" y="722.5" font-size="9" text-anchor="end" fill="#222">0</text>
<line x1="344.5" y1="745.9" x2="347.5" y2="745.9" stroke="#000" stroke-width="1"/>
<text x="344.5" y="749.1" font-size="9" text-anchor="end" fill="#222">-5</text>
<line x1="344.5" y1="772.4" x2="347.5" y2="772.4" stroke="#000" stroke-width="1"/>
<text x="344.5" y="775.6" font-size="9" text-anchor="end" fill="#222">-10</text>
<line x1="344.5" y1="799" x2="347.5" y2="799" stroke="#000" stroke-width="1"/>
<text x="344.5" y="802.2" font-size="9" text-anchor="end" fill="#222">-15</text>
<line x1="347.5" y1="799" x2="469.7" y2="799" stroke="#000" stroke-width="1"/>
<line x1="362.8" y1="799" x2="362.8" y2="802" stroke="#000" stroke-width="1"/>
<text x="362.8" y="809.3" font-size="9" text-anchor="middle" fill="#222">-10</text>
<line x1="389.6" y1="799" x2="389.6" y2="802" stroke="#000" stroke-width="1"/>
<text x="389.6" y="809.3" font-size="9" text-anchor="middle" fill="#222">-5</text>
<line x1="415.9" y1="799" x2="415.9" y2="802" stroke="#000" stroke-width="1"/>
<text x="415.9" y="809.3" font-size="9" text-anchor="middle" fill="#222">0</text>
<line x1="441.6" y1="799" x2="441.6" y2="802" stroke="#000" stroke-width="1"/>
<text x="441.6" y="809.3" font-size="9" text-anchor="middle" fill="#222">5</text>
<line x1="467.6" y1="799" x2="467.6" y2="802" stroke="#000" stroke-width="1"/>
<text x="467.6" y="809.3" font-size="9" text-anchor="middle" fill="#222">10</text>
<text x="410.6" y="819" font-size="9.5" text-anchor="middle" fill="#222">UMAP_1</text>
<text x="331" y="734.6" font-size="9.5" text-anchor="middle" fill="#222" transform="rotate(-90 331 734.6)">UMAP_2</text>
<text x="350.8" y="677.6" font-size="10.2" font-weight="bold">KO</text>
<text x="320.2" y="659.9" font-size="23">K</text>
<rect x="362" y="582" width="7.9" height="39.9" fill="url(#gPT)"/>
<text x="372.5" y="587" font-size="9" fill="#222">30</text>
<text x="372.5" y="599.6" font-size="9" fill="#222">20</text>
<text x="372.5" y="612.7" font-size="9" fill="#222">10</text>
<text x="372.5" y="625.1" font-size="9" fill="#222">0</text>
<text x="359.4" y="602" font-size="8.6" text-anchor="middle" font-weight="bold" transform="rotate(-90 359.4 602)">pseudotime</text>
<rect x="360.7" y="754.3" width="7.9" height="40.7" fill="url(#gPT)"/>
<text x="371.2" y="758.8" font-size="9" fill="#222">30</text>
<text x="371.2" y="771.9" font-size="9" fill="#222">20</text>
<text x="371.2" y="785.1" font-size="9" fill="#222">10</text>
<text x="371.2" y="797.7" font-size="9" fill="#222">0</text>
<text x="358.1" y="775" font-size="8.6" text-anchor="middle" font-weight="bold" transform="rotate(-90 358.1 775)">pseudotime</text>
<text x="435.6" y="524" font-size="9" text-anchor="middle" fill="#111">PP2</text>
<text x="457.4" y="531.9" font-size="9" text-anchor="middle" fill="#111">PP1</text>
<text x="439.5" y="542.4" font-size="9" text-anchor="middle" fill="#111">MLP1</text>
<text x="383" y="543.7" font-size="9" text-anchor="middle" fill="#111">EP</text>
<text x="362.8" y="554.3" font-size="9" text-anchor="middle" fill="#111">EC</text>
<text x="383.8" y="562.8" font-size="9" text-anchor="middle" fill="#111">δ</text>
<text x="395.4" y="565.3" font-size="9" text-anchor="middle" fill="#111">MH</text>
<text x="371.2" y="570" font-size="9" text-anchor="middle" fill="#111">SC-β</text>
<text x="438.2" y="703.7" font-size="9" text-anchor="middle" fill="#111">PP2</text>
<text x="454.7" y="706.9" font-size="9" text-anchor="middle" fill="#111">PP1</text>
<text x="441.6" y="722.1" font-size="9" text-anchor="middle" fill="#111">MLP1</text>
<text x="438.2" y="743.1" font-size="9" text-anchor="middle" fill="#111">MLP2</text>
<text x="440.8" y="779.9" font-size="9" text-anchor="middle" fill="#111">ML</text>
<text x="362" y="722.1" font-size="9" text-anchor="middle" fill="#111">EC</text>
<text x="379.6" y="720.3" font-size="9" text-anchor="middle" fill="#111">EP</text>
<text x="383.8" y="735.3" font-size="9" text-anchor="middle" fill="#111">δ</text>
<text x="395.4" y="740" font-size="9" text-anchor="middle" fill="#111">MH</text>
<text x="371.2" y="743.7" font-size="9" text-anchor="middle" fill="#111">SC-β</text>
<path d="M440.6,502.4 C418,504.5 398,510 382.5,522.5" fill="none" stroke="#f7409e" stroke-width="3.7" stroke-linecap="butt"/>
<polygon points="376.3,530.3 376.5,518.2 388.3,525.4" fill="#f7409e"/>
<path d="M440.6,502.4 Q449,517 462,521" fill="none" stroke="#36e036" stroke-width="1.5"/>
<polygon points="466.4,522.6 460.8,518.4 460.4,524.4" fill="#36e036"/>
<path d="M440.9,675.4 C415,675.4 395,680 377.5,700" fill="none" stroke="#f7409e" stroke-width="2.2"/>
<polygon points="373.6,705.4 372.6,698.6 379.4,701.6" fill="#f7409e"/>
<path d="M440.8,675.5 Q462,676 465,692 L462.5,765 Q461,776 459,780" fill="none" stroke="#36e036" stroke-width="1.6"/>
<polygon points="458.2,785.4 455.2,778.6 461.6,779.6" fill="#36e036"/>
<circle cx="440.8" cy="675.5" r="1.1" fill="#666"/>
<rect x="504.2" y="510" width="180.8" height="101.2" fill="#ebebeb"/>
<line x1="539.4" y1="510" x2="539.4" y2="611.2" stroke="#fafafa" stroke-width="0.5"/>
<line x1="593.3" y1="510" x2="593.3" y2="611.2" stroke="#fafafa" stroke-width="0.5"/>
<line x1="647.1" y1="510" x2="647.1" y2="611.2" stroke="#fafafa" stroke-width="0.5"/>
<line x1="512.5" y1="510" x2="512.5" y2="611.2" stroke="#fff" stroke-width="0.9"/>
<line x1="566.4" y1="510" x2="566.4" y2="611.2" stroke="#fff" stroke-width="0.9"/>
<line x1="620.2" y1="510" x2="620.2" y2="611.2" stroke="#fff" stroke-width="0.9"/>
<line x1="674" y1="510" x2="674" y2="611.2" stroke="#fff" stroke-width="0.9"/>
<line x1="504.2" y1="518.7" x2="685" y2="518.7" stroke="#fff" stroke-width="0.9"/>
<line x1="504.2" y1="532.6" x2="685" y2="532.6" stroke="#fff" stroke-width="0.9"/>
<line x1="504.2" y1="546.7" x2="685" y2="546.7" stroke="#fff" stroke-width="0.9"/>
<line x1="504.2" y1="561" x2="685" y2="561" stroke="#fff" stroke-width="0.9"/>
<line x1="504.2" y1="575.1" x2="685" y2="575.1" stroke="#fff" stroke-width="0.9"/>
<line x1="504.2" y1="588.9" x2="685" y2="588.9" stroke="#fff" stroke-width="0.9"/>
<line x1="504.2" y1="603" x2="685" y2="603" stroke="#fff" stroke-width="0.9"/>
<line x1="512.5" y1="611.2" x2="512.5" y2="613.2" stroke="#444" stroke-width="0.7"/>
<text x="512.5" y="620.6" font-size="9" text-anchor="middle" fill="#222">0</text>
<line x1="566.4" y1="611.2" x2="566.4" y2="613.2" stroke="#444" stroke-width="0.7"/>
<text x="566.4" y="620.6" font-size="9" text-anchor="middle" fill="#222">10</text>
<line x1="620.2" y1="611.2" x2="620.2" y2="613.2" stroke="#444" stroke-width="0.7"/>
<text x="620.2" y="620.6" font-size="9" text-anchor="middle" fill="#222">20</text>
<line x1="674" y1="611.2" x2="674" y2="613.2" stroke="#444" stroke-width="0.7"/>
<text x="674" y="620.6" font-size="9" text-anchor="middle" fill="#222">30</text>
<text x="500.6" y="522" font-size="9.4" text-anchor="end" fill="#222">PP1</text>
<line x1="501.6" y1="518.7" x2="504.2" y2="518.7" stroke="#444" stroke-width="0.7"/>
<text x="500.6" y="535.9" font-size="9.4" text-anchor="end" fill="#222">PP2</text>
<line x1="501.6" y1="532.6" x2="504.2" y2="532.6" stroke="#444" stroke-width="0.7"/>
<text x="500.6" y="550" font-size="9.4" text-anchor="end" fill="#222">EP</text>
<line x1="501.6" y1="546.7" x2="504.2" y2="546.7" stroke="#444" stroke-width="0.7"/>
<text x="500.6" y="564.3" font-size="9.4" text-anchor="end" fill="#222">EC</text>
<line x1="501.6" y1="561" x2="504.2" y2="561" stroke="#444" stroke-width="0.7"/>
<text x="500.6" y="578.4" font-size="9.4" text-anchor="end" fill="#222">MH</text>
<line x1="501.6" y1="575.1" x2="504.2" y2="575.1" stroke="#444" stroke-width="0.7"/>
<text x="500.6" y="592.2" font-size="9.4" text-anchor="end" fill="#222">δ</text>
<line x1="501.6" y1="588.9" x2="504.2" y2="588.9" stroke="#444" stroke-width="0.7"/>
<text x="500.6" y="606.3" font-size="9.4" text-anchor="end" fill="#222">SC-β</text>
<line x1="501.6" y1="603" x2="504.2" y2="603" stroke="#444" stroke-width="0.7"/>
<text x="594" y="629.5" font-size="9.2" text-anchor="middle" fill="#222">pseudotime</text>
<text x="471.6" y="501.2" font-size="23">J</text>
<text x="503.7" y="506.8" font-size="10.2" font-weight="bold">WT</text>
<path d="M535.2,509.5 L576.2,509.5 L576.2,528.8 L535.2,528.8Z" fill="none" stroke="#33e033" stroke-width="1.3" stroke-dasharray="1.3,1.2"/>
<path d="M521.4,527.6 L521.4,519.2 L535.2,519.2" fill="none" stroke="#33e033" stroke-width="1.3" stroke-dasharray="1.3,1.2"/>
<line x1="535.2" y1="518.7" x2="638.5" y2="518.7" stroke="#555" stroke-width="0.8"/>
<path d="M545.6,518.3 L550,515.7 L555.5,512.2 L559,514.4 L561.5,515.5 L565.5,514.9 L568,515.3 L570.9,517.9 L574,518.3 L574,519.1 L570.9,519.5 L568,522.1 L565.5,522.5 L561.5,521.9 L559,523 L555.5,525.2 L550,521.7 L545.6,519.1Z" fill="#2e8b57" stroke="#333" stroke-width="0.6" stroke-linejoin="round"/>
<line x1="556.3" y1="512.7" x2="556.3" y2="524.7" stroke="#333" stroke-width="0.6"/>
<line x1="540" y1="532.6" x2="621.7" y2="532.6" stroke="#555" stroke-width="0.8"/>
<path d="M511.9,532.6 L511.9,526.3 L516,527.1 L520,528.1 L525.7,529.1 L535,530.3 L547,531.4 L556,532.1 L562,532.3 L562,532.9 L556,533.1 L547,533.8 L535,534.9 L525.7,536.1 L520,537.1 L516,538.1 L511.9,538.9 L511.9,532.6Z" fill="#90ee90" stroke="#333" stroke-width="0.6" stroke-linejoin="round"/>
<line x1="525.7" y1="529.1" x2="525.7" y2="536.1" stroke="#333" stroke-width="0.6"/>
<line x1="524" y1="546.7" x2="675" y2="546.7" stroke="#555" stroke-width="0.8"/>
<path d="M562.4,546.3 L565.5,545.2 L571.6,542.9 L580,542.2 L600,542.1 L610.7,542.1 L620,541.4 L630.6,540.1 L638,542.7 L644.4,545.2 L655,545.4 L665.8,545.1 L675,546.3 L675,547.1 L665.8,548.3 L655,548 L644.4,548.2 L638,550.7 L630.6,553.3 L620,552 L610.7,551.3 L600,551.3 L580,551.2 L571.6,550.5 L565.5,548.2 L562.4,547.1Z" fill="#f0e68c" stroke="#333" stroke-width="0.6" stroke-linejoin="round"/>
<line x1="611.4" y1="542" x2="611.4" y2="551.4" stroke="#333" stroke-width="0.6"/>
<line x1="613" y1="561" x2="629" y2="561" stroke="#555" stroke-width="0.8"/>
<path d="M622,560.7 L629,559 L635,559.8 L640,557.5 L644.4,554.4 L649.7,558 L655,558 L658.2,558.4 L659.5,559.8 L659.8,561 L659.8,561 L659.5,562.2 L658.2,563.6 L655,564 L649.7,564 L644.4,567.6 L640,564.5 L635,562.2 L629,563 L622,561.3Z" fill="#ffb6c1" stroke="#333" stroke-width="0.6" stroke-linejoin="round"/>
<line x1="644.4" y1="554.4" x2="644.4" y2="567.6" stroke="#333" stroke-width="0.6"/>
<path d="M619,574.8 L621.5,573.3 L626,572.3 L634.4,571.9 L636.5,570.1 L638.2,568.8 L640.3,570.6 L641.3,575.1 L641.3,575.1 L640.3,579.6 L638.2,581.4 L636.5,580.1 L634.4,578.3 L626,577.9 L621.5,576.9 L619,575.4Z" fill="#8470ff" stroke="#333" stroke-width="0.6" stroke-linejoin="round"/>
<line x1="625.5" y1="582.5" x2="625.5" y2="595.3" stroke="#444" stroke-width="0.8"/>
<line x1="625.5" y1="588.9" x2="632.9" y2="588.9" stroke="#444" stroke-width="0.8"/>
<line x1="632.9" y1="587.2" x2="632.9" y2="590.6" stroke="#444" stroke-width="0.8"/>
<line x1="632.1" y1="603" x2="660" y2="603" stroke="#555" stroke-width="0.8"/>
<path d="M650,602.7 L655.1,602.2 L663.5,600.8 L668.9,602 L672,599 L674.3,596.7 L676.6,599.5 L677.2,603 L677.2,603 L676.6,606.5 L674.3,609.3 L672,607 L668.9,604 L663.5,605.2 L655.1,603.8 L650,603.3Z" fill="#ff00ff" stroke="#333" stroke-width="0.6" stroke-linejoin="round"/>
<path d="M521.4,538.3 L521.4,574.3 L557.1,574.3" fill="none" stroke="#ff3ca0" stroke-width="1.3" stroke-dasharray="1.3,1.2"/>
<path d="M557.1,537.6 L680.4,537.6 L680.4,610.4 L557.1,610.4Z" fill="none" stroke="#ff3ca0" stroke-width="1.3" stroke-dasharray="1.3,1.2"/>
<rect x="505.4" y="665.7" width="179.6" height="130.5" fill="#ebebeb"/>
<line x1="539.5" y1="665.7" x2="539.5" y2="796.2" stroke="#fafafa" stroke-width="0.5"/>
<line x1="591.7" y1="665.7" x2="591.7" y2="796.2" stroke="#fafafa" stroke-width="0.5"/>
<line x1="643.9" y1="665.7" x2="643.9" y2="796.2" stroke="#fafafa" stroke-width="0.5"/>
<line x1="513.4" y1="665.7" x2="513.4" y2="796.2" stroke="#fff" stroke-width="0.9"/>
<line x1="565.6" y1="665.7" x2="565.6" y2="796.2" stroke="#fff" stroke-width="0.9"/>
<line x1="617.8" y1="665.7" x2="617.8" y2="796.2" stroke="#fff" stroke-width="0.9"/>
<line x1="670" y1="665.7" x2="670" y2="796.2" stroke="#fff" stroke-width="0.9"/>
<line x1="505.4" y1="674.5" x2="685" y2="674.5" stroke="#fff" stroke-width="0.9"/>
<line x1="505.4" y1="688.4" x2="685" y2="688.4" stroke="#fff" stroke-width="0.9"/>
<line x1="505.4" y1="702.8" x2="685" y2="702.8" stroke="#fff" stroke-width="0.9"/>
<line x1="505.4" y1="717.1" x2="685" y2="717.1" stroke="#fff" stroke-width="0.9"/>
<line x1="505.4" y1="731.2" x2="685" y2="731.2" stroke="#fff" stroke-width="0.9"/>
<line x1="505.4" y1="745.4" x2="685" y2="745.4" stroke="#fff" stroke-width="0.9"/>
<line x1="505.4" y1="759.7" x2="685" y2="759.7" stroke="#fff" stroke-width="0.9"/>
<line x1="505.4" y1="773.8" x2="685" y2="773.8" stroke="#fff" stroke-width="0.9"/>
<line x1="505.4" y1="788" x2="685" y2="788" stroke="#fff" stroke-width="0.9"/>
<line x1="513.4" y1="796.2" x2="513.4" y2="798.2" stroke="#444" stroke-width="0.7"/>
<text x="513.4" y="805" font-size="9" text-anchor="middle" fill="#222">0</text>
<line x1="565.6" y1="796.2" x2="565.6" y2="798.2" stroke="#444" stroke-width="0.7"/>
<text x="565.6" y="805" font-size="9" text-anchor="middle" fill="#222">10</text>
<line x1="617.8" y1="796.2" x2="617.8" y2="798.2" stroke="#444" stroke-width="0.7"/>
<text x="617.8" y="805" font-size="9" text-anchor="middle" fill="#222">20</text>
<line x1="670" y1="796.2" x2="670" y2="798.2" stroke="#444" stroke-width="0.7"/>
<text x="670" y="805" font-size="9" text-anchor="middle" fill="#222">30</text>
<text x="501.8" y="677.8" font-size="9.4" text-anchor="end" fill="#222">ML</text>
<line x1="502.8" y1="674.5" x2="505.4" y2="674.5" stroke="#444" stroke-width="0.7"/>
<text x="501.8" y="691.7" font-size="9.4" text-anchor="end" fill="#222">MLP2</text>
<line x1="502.8" y1="688.4" x2="505.4" y2="688.4" stroke="#444" stroke-width="0.7"/>
<text x="501.8" y="706.1" font-size="9.4" text-anchor="end" fill="#222">MLP1</text>
<line x1="502.8" y1="702.8" x2="505.4" y2="702.8" stroke="#444" stroke-width="0.7"/>
<text x="501.8" y="720.4" font-size="9.4" text-anchor="end" fill="#222">PP2</text>
<line x1="502.8" y1="717.1" x2="505.4" y2="717.1" stroke="#444" stroke-width="0.7"/>
<text x="501.8" y="734.5" font-size="9.4" text-anchor="end" fill="#222">EP</text>
<line x1="502.8" y1="731.2" x2="505.4" y2="731.2" stroke="#444" stroke-width="0.7"/>
<text x="501.8" y="748.7" font-size="9.4" text-anchor="end" fill="#222">EC</text>
<line x1="502.8" y1="745.4" x2="505.4" y2="745.4" stroke="#444" stroke-width="0.7"/>
<text x="501.8" y="763" font-size="9.4" text-anchor="end" fill="#222">MH</text>
<line x1="502.8" y1="759.7" x2="505.4" y2="759.7" stroke="#444" stroke-width="0.7"/>
<text x="501.8" y="777.1" font-size="9.4" text-anchor="end" fill="#222">δ</text>
<line x1="502.8" y1="773.8" x2="505.4" y2="773.8" stroke="#444" stroke-width="0.7"/>
<text x="501.8" y="791.3" font-size="9.4" text-anchor="end" fill="#222">SC-β</text>
<line x1="502.8" y1="788" x2="505.4" y2="788" stroke="#444" stroke-width="0.7"/>
<text x="595" y="814.8" font-size="9.2" text-anchor="middle" fill="#222">pseudotime</text>
<text x="480.3" y="659.9" font-size="23">L</text>
<text x="504.3" y="662.5" font-size="10.2" font-weight="bold">KO</text>
<line x1="518.6" y1="674.5" x2="580" y2="674.5" stroke="#555" stroke-width="0.8"/>
<path d="M578.5,674 L590,670.5 L597.1,668.9 L603,670.3 L608.1,671.5 L612,670 L617.5,668.5 L625,670 L636.4,674.1 L636.4,674.9 L625,679 L617.5,680.5 L612,679 L608.1,677.5 L603,678.7 L597.1,680.1 L590,678.5 L578.5,675Z" fill="#ff6347" stroke="#333" stroke-width="0.6" stroke-linejoin="round"/>
<line x1="608.1" y1="671.5" x2="608.1" y2="677.5" stroke="#333" stroke-width="0.6"/>
<line x1="524.9" y1="688.4" x2="641" y2="688.4" stroke="#555" stroke-width="0.8"/>
<path d="M554.8,688 L560,686.9 L566,685.4 L571.6,682.6 L576,684.9 L580.8,687.4 L584,688 L584,688.8 L580.8,689.4 L576,691.9 L571.6,694.2 L566,691.4 L560,689.9 L554.8,688.8Z" fill="#e6c8e6" stroke="#333" stroke-width="0.6" stroke-linejoin="round"/>
<line x1="570.1" y1="683.4" x2="570.1" y2="693.4" stroke="#333" stroke-width="0.6"/>
<line x1="560" y1="702.8" x2="677" y2="702.8" stroke="#555" stroke-width="0.8"/>
<path d="M513.4,702.8 L513.4,696.4 L518,696.5 L525.7,697.8 L530.6,697.4 L536.4,696.4 L541,698.3 L548.5,699.8 L556.3,700.8 L568.6,702 L577,702.4 L577,703.2 L568.6,703.6 L556.3,704.8 L548.5,705.8 L541,707.3 L536.4,709.2 L530.6,708.2 L525.7,707.8 L518,709.1 L513.4,709.2 L513.4,702.8Z" fill="#5cacee" stroke="#333" stroke-width="0.6" stroke-linejoin="round"/>
<line x1="530.6" y1="697.4" x2="530.6" y2="708.2" stroke="#333" stroke-width="0.6"/>
<line x1="531" y1="717.1" x2="558.6" y2="717.1" stroke="#555" stroke-width="0.8"/>
<path d="M513.4,717.1 L513.4,713 L518,712.1 L522.6,710.5 L526,713.1 L531,716.1 L535,716.7 L535,717.5 L531,718.1 L526,721.1 L522.6,723.7 L518,722.1 L513.4,721.2 L513.4,717.1Z" fill="#90ee90" stroke="#333" stroke-width="0.6" stroke-linejoin="round"/>
<line x1="522.6" y1="710.5" x2="522.6" y2="723.7" stroke="#333" stroke-width="0.6"/>
<path d="M542.5,716.8 L548,716.1 L553.2,716.8 L553.2,717.4 L548,718.1 L542.5,717.4Z" fill="#90ee90" stroke="#333" stroke-width="0.6" stroke-linejoin="round"/>
<line x1="550.2" y1="731.2" x2="677" y2="731.2" stroke="#555" stroke-width="0.8"/>
<path d="M559.4,730.8 L570,729.2 L585,727.7 L595.5,727.2 L611.2,726.2 L620,725.7 L630,725.2 L640,727.2 L645.8,729.7 L650,730.6 L660,730.8 L660,731.6 L650,731.8 L645.8,732.7 L640,735.2 L630,737.2 L620,736.7 L611.2,736.2 L595.5,735.2 L585,734.7 L570,733.2 L559.4,731.6Z" fill="#f0e68c" stroke="#333" stroke-width="0.6" stroke-linejoin="round"/>
<line x1="611.2" y1="726.2" x2="611.2" y2="736.2" stroke="#333" stroke-width="0.6"/>
<line x1="587.7" y1="745.4" x2="672.4" y2="745.4" stroke="#555" stroke-width="0.8"/>
<path d="M595,745 L598.7,743.4 L605,743.9 L615,742.4 L625,740.4 L634.8,738.9 L640,739.4 L650,741.4 L661.5,744.6 L666,745.1 L666,745.7 L661.5,746.2 L650,749.4 L640,751.4 L634.8,751.9 L625,750.4 L615,748.4 L605,746.9 L598.7,747.4 L595,745.8Z" fill="#ffb6c1" stroke="#333" stroke-width="0.6" stroke-linejoin="round"/>
<line x1="634.8" y1="738.9" x2="634.8" y2="751.9" stroke="#333" stroke-width="0.6"/>
<line x1="587.7" y1="759.7" x2="660.8" y2="759.7" stroke="#555" stroke-width="0.8"/>
<path d="M619,759.3 L625,758.2 L632,756.2 L635.7,754.7 L638,756.2 L639.5,758.7 L640.5,759.7 L640.5,759.7 L639.5,760.7 L638,763.2 L635.7,764.7 L632,763.2 L625,761.2 L619,760.1Z" fill="#8470ff" stroke="#333" stroke-width="0.6" stroke-linejoin="round"/>
<line x1="623.2" y1="769.1" x2="623.2" y2="778.5" stroke="#444" stroke-width="0.8"/>
<line x1="623.2" y1="773.8" x2="630" y2="773.8" stroke="#444" stroke-width="0.8"/>
<line x1="617.5" y1="788" x2="677" y2="788" stroke="#555" stroke-width="0.8"/>
<path d="M650,787.6 L656,785.5 L659.9,784 L663,786 L666,785 L670.3,782 L673.5,784.5 L675,788 L675,788 L673.5,791.5 L670.3,794 L666,791 L663,790 L659.9,792 L656,790.5 L650,788.4Z" fill="#ff00ff" stroke="#333" stroke-width="0.6" stroke-linejoin="round"/>
<path d="M510.3,665.7 L644.2,665.7 L644.2,711 L510.3,711Z" fill="none" stroke="#33e033" stroke-width="1.3" stroke-dasharray="1.3,1.2"/>
<path d="M510.3,702.2 L506.5,702.2 L506.5,717.5 L513.4,717.5" fill="none" stroke="#33e033" stroke-width="1.3" stroke-dasharray="1.3,1.2"/>
<path d="M547.9,724 L547.9,759.2 L559.4,759.2" fill="none" stroke="#ff3ca0" stroke-width="1.3" stroke-dasharray="1.3,1.2"/>
<path d="M559.4,722.4 L682.8,722.4 L682.8,796 L559.4,796Z" fill="none" stroke="#ff3ca0" stroke-width="1.3" stroke-dasharray="1.3,1.2"/>
<circle cx="41.6" cy="846.9" r="3.7" fill="#f8987e"/>
<circle cx="51.7" cy="846.9" r="4" fill="#cdbcf7"/>
<circle cx="61.9" cy="846.9" r="3.5" fill="#e8e0fb"/>
<circle cx="72" cy="846.9" r="4" fill="#cdbcf7"/>
<circle cx="82.1" cy="846.9" r="1.9" fill="#fcdcd2"/>
<circle cx="92.2" cy="846.9" r="0.6" fill="#cdbcf7"/>
<circle cx="102.4" cy="846.9" r="0.6" fill="#cdbcf7"/>
<circle cx="112.5" cy="846.9" r="3.7" fill="#fcdcd2"/>
<circle cx="122.6" cy="846.9" r="1.9" fill="#e8e0fb"/>
<circle cx="132.8" cy="846.9" r="0.6" fill="#cdbcf7"/>
<circle cx="142.9" cy="846.9" r="1.2" fill="#cdbcf7"/>
<circle cx="153" cy="846.9" r="0.6" fill="#cdbcf7"/>
<circle cx="163.2" cy="846.9" r="0.6" fill="#cdbcf7"/>
<circle cx="173.3" cy="846.9" r="0.6" fill="#cdbcf7"/>
<circle cx="183.4" cy="846.9" r="2.3" fill="#ab8af5"/>
<circle cx="193.6" cy="846.9" r="0.6" fill="#cdbcf7"/>
<circle cx="203.7" cy="846.9" r="0.6" fill="#cdbcf7"/>
<circle cx="213.8" cy="846.9" r="0.6" fill="#cdbcf7"/>
<circle cx="223.9" cy="846.9" r="0.6" fill="#cdbcf7"/>
<circle cx="234.1" cy="846.9" r="1.2" fill="#cdbcf7"/>
<circle cx="244.2" cy="846.9" r="0.6" fill="#cdbcf7"/>
<circle cx="254.3" cy="846.9" r="0.6" fill="#cdbcf7"/>
<circle cx="264.5" cy="846.9" r="0.6" fill="#cdbcf7"/>
<circle cx="274.6" cy="846.9" r="0.6" fill="#cdbcf7"/>
<circle cx="284.7" cy="846.9" r="4" fill="#cdbcf7"/>
<circle cx="41.6" cy="862" r="3" fill="#fbbea8"/>
<circle cx="51.7" cy="862" r="4.7" fill="#ef3a1c"/>
<circle cx="61.9" cy="862" r="4.2" fill="#f8987e"/>
<circle cx="72" cy="862" r="4.4" fill="#f36a4a"/>
<circle cx="82.1" cy="862" r="4" fill="#f36a4a"/>
<circle cx="92.2" cy="862" r="1.9" fill="#ef3a1c"/>
<circle cx="102.4" cy="862" r="0.6" fill="#cdbcf7"/>
<circle cx="112.5" cy="862" r="3" fill="#e8e0fb"/>
<circle cx="122.6" cy="862" r="0.6" fill="#cdbcf7"/>
<circle cx="132.8" cy="862" r="0.6" fill="#cdbcf7"/>
<circle cx="142.9" cy="862" r="1.2" fill="#ab8af5"/>
<circle cx="153" cy="862" r="0.6" fill="#cdbcf7"/>
<circle cx="163.2" cy="862" r="0.6" fill="#cdbcf7"/>
<circle cx="173.3" cy="862" r="0.6" fill="#cdbcf7"/>
<circle cx="183.4" cy="862" r="2.3" fill="#ab8af5"/>
<circle cx="193.6" cy="862" r="0.6" fill="#cdbcf7"/>
<circle cx="203.7" cy="862" r="0.6" fill="#cdbcf7"/>
<circle cx="213.8" cy="862" r="0.6" fill="#cdbcf7"/>
<circle cx="223.9" cy="862" r="0.6" fill="#cdbcf7"/>
<circle cx="234.1" cy="862" r="1.2" fill="#cdbcf7"/>
<circle cx="244.2" cy="862" r="0.6" fill="#cdbcf7"/>
<circle cx="254.3" cy="862" r="0.6" fill="#cdbcf7"/>
<circle cx="264.5" cy="862" r="0.6" fill="#cdbcf7"/>
<circle cx="274.6" cy="862" r="0.6" fill="#cdbcf7"/>
<circle cx="284.7" cy="862" r="4.2" fill="#fbbea8"/>
<circle cx="41.6" cy="876.8" r="3.5" fill="#fbbea8"/>
<circle cx="51.7" cy="876.8" r="3.7" fill="#e8e0fb"/>
<circle cx="61.9" cy="876.8" r="3" fill="#5a3cf8"/>
<circle cx="72" cy="876.8" r="4.2" fill="#fbbea8"/>
<circle cx="82.1" cy="876.8" r="1.6" fill="#cdbcf7"/>
<circle cx="92.2" cy="876.8" r="0.6" fill="#cdbcf7"/>
<circle cx="102.4" cy="876.8" r="3.5" fill="#f36a4a"/>
<circle cx="112.5" cy="876.8" r="4.4" fill="#f36a4a"/>
<circle cx="122.6" cy="876.8" r="2.3" fill="#f5f1f8"/>
<circle cx="132.8" cy="876.8" r="1.9" fill="#fbbea8"/>
<circle cx="142.9" cy="876.8" r="1.6" fill="#cdbcf7"/>
<circle cx="153" cy="876.8" r="0.6" fill="#cdbcf7"/>
<circle cx="163.2" cy="876.8" r="0.6" fill="#cdbcf7"/>
<circle cx="173.3" cy="876.8" r="1.2" fill="#f5f1f8"/>
<circle cx="183.4" cy="876.8" r="4" fill="#e8e0fb"/>
<circle cx="193.6" cy="876.8" r="0.6" fill="#cdbcf7"/>
<circle cx="203.7" cy="876.8" r="1.2" fill="#cdbcf7"/>
<circle cx="213.8" cy="876.8" r="1.2" fill="#cdbcf7"/>
<circle cx="223.9" cy="876.8" r="0.6" fill="#cdbcf7"/>
<circle cx="234.1" cy="876.8" r="1.4" fill="#ab8af5"/>
<circle cx="244.2" cy="876.8" r="0.6" fill="#cdbcf7"/>
<circle cx="254.3" cy="876.8" r="0.6" fill="#cdbcf7"/>
<circle cx="264.5" cy="876.8" r="1.4" fill="#e8e0fb"/>
<circle cx="274.6" cy="876.8" r="0.6" fill="#cdbcf7"/>
<circle cx="284.7" cy="876.8" r="4.2" fill="#ab8af5"/>
<circle cx="41.6" cy="892" r="1.4" fill="#cdbcf7"/>
<circle cx="51.7" cy="892" r="4" fill="#e8e0fb"/>
<circle cx="61.9" cy="892" r="4.2" fill="#f8987e"/>
<circle cx="72" cy="892" r="4" fill="#ab8af5"/>
<circle cx="82.1" cy="892" r="1.2" fill="#cdbcf7"/>
<circle cx="92.2" cy="892" r="1.2" fill="#fbbea8"/>
<circle cx="102.4" cy="892" r="1.6" fill="#e8e0fb"/>
<circle cx="112.5" cy="892" r="3" fill="#e8e0fb"/>
<circle cx="122.6" cy="892" r="4.7" fill="#ef3a1c"/>
<circle cx="132.8" cy="892" r="2.8" fill="#f36a4a"/>
<circle cx="142.9" cy="892" r="2.1" fill="#f36a4a"/>
<circle cx="153" cy="892" r="1.4" fill="#f8987e"/>
<circle cx="163.2" cy="892" r="1.6" fill="#f8987e"/>
<circle cx="173.3" cy="892" r="1.9" fill="#f8987e"/>
<circle cx="183.4" cy="892" r="4.7" fill="#f8987e"/>
<circle cx="193.6" cy="892" r="2.3" fill="#fbbea8"/>
<circle cx="203.7" cy="892" r="4.2" fill="#f8987e"/>
<circle cx="213.8" cy="892" r="3.3" fill="#fbbea8"/>
<circle cx="223.9" cy="892" r="1.2" fill="#fcdcd2"/>
<circle cx="234.1" cy="892" r="1.9" fill="#f5f1f8"/>
<circle cx="244.2" cy="892" r="0.9" fill="#e8e0fb"/>
<circle cx="254.3" cy="892" r="2.3" fill="#f8987e"/>
<circle cx="264.5" cy="892" r="3.7" fill="#f36a4a"/>
<circle cx="274.6" cy="892" r="2.6" fill="#fbbea8"/>
<circle cx="284.7" cy="892" r="4" fill="#cdbcf7"/>
<circle cx="41.6" cy="906.9" r="0.6" fill="#cdbcf7"/>
<circle cx="51.7" cy="906.9" r="4" fill="#ab8af5"/>
<circle cx="61.9" cy="906.9" r="3.5" fill="#e8e0fb"/>
<circle cx="72" cy="906.9" r="4.4" fill="#ab8af5"/>
<circle cx="82.1" cy="906.9" r="0.6" fill="#cdbcf7"/>
<circle cx="92.2" cy="906.9" r="0.6" fill="#cdbcf7"/>
<circle cx="102.4" cy="906.9" r="3.5" fill="#f8987e"/>
<circle cx="112.5" cy="906.9" r="1" fill="#5a3cf8"/>
<circle cx="122.6" cy="906.9" r="1.4" fill="#cdbcf7"/>
<circle cx="132.8" cy="906.9" r="1.2" fill="#e8e0fb"/>
<circle cx="142.9" cy="906.9" r="2.1" fill="#fbbea8"/>
<circle cx="153" cy="906.9" r="1.6" fill="#f36a4a"/>
<circle cx="163.2" cy="906.9" r="1.6" fill="#f36a4a"/>
<circle cx="173.3" cy="906.9" r="1.9" fill="#f8987e"/>
<circle cx="183.4" cy="906.9" r="4.7" fill="#f8987e"/>
<circle cx="193.6" cy="906.9" r="2.8" fill="#f36a4a"/>
<circle cx="203.7" cy="906.9" r="4.7" fill="#f8987e"/>
<circle cx="213.8" cy="906.9" r="4.7" fill="#f36a4a"/>
<circle cx="223.9" cy="906.9" r="2.8" fill="#ef3a1c"/>
<circle cx="234.1" cy="906.9" r="2.6" fill="#ef3a1c"/>
<circle cx="244.2" cy="906.9" r="3.5" fill="#ef3a1c"/>
<circle cx="254.3" cy="906.9" r="2.3" fill="#f8987e"/>
<circle cx="264.5" cy="906.9" r="3.5" fill="#f8987e"/>
<circle cx="274.6" cy="906.9" r="3" fill="#f36a4a"/>
<circle cx="284.7" cy="906.9" r="4.7" fill="#ef3a1c"/>
<line x1="35.5" y1="837.5" x2="35.5" y2="915.8" stroke="#000" stroke-width="1"/>
<line x1="35" y1="915.3" x2="291" y2="915.3" stroke="#000" stroke-width="1"/>
<line x1="41.6" y1="915.3" x2="41.6" y2="917.5" stroke="#000" stroke-width="0.8"/>
<line x1="51.7" y1="915.3" x2="51.7" y2="917.5" stroke="#000" stroke-width="0.8"/>
<line x1="61.9" y1="915.3" x2="61.9" y2="917.5" stroke="#000" stroke-width="0.8"/>
<line x1="72" y1="915.3" x2="72" y2="917.5" stroke="#000" stroke-width="0.8"/>
<line x1="82.1" y1="915.3" x2="82.1" y2="917.5" stroke="#000" stroke-width="0.8"/>
<line x1="92.2" y1="915.3" x2="92.2" y2="917.5" stroke="#000" stroke-width="0.8"/>
<line x1="102.4" y1="915.3" x2="102.4" y2="917.5" stroke="#000" stroke-width="0.8"/>
<line x1="112.5" y1="915.3" x2="112.5" y2="917.5" stroke="#000" stroke-width="0.8"/>
<line x1="122.6" y1="915.3" x2="122.6" y2="917.5" stroke="#000" stroke-width="0.8"/>
<line x1="132.8" y1="915.3" x2="132.8" y2="917.5" stroke="#000" stroke-width="0.8"/>
<line x1="142.9" y1="915.3" x2="142.9" y2="917.5" stroke="#000" stroke-width="0.8"/>
<line x1="153" y1="915.3" x2="153" y2="917.5" stroke="#000" stroke-width="0.8"/>
<line x1="163.2" y1="915.3" x2="163.2" y2="917.5" stroke="#000" stroke-width="0.8"/>
<line x1="173.3" y1="915.3" x2="173.3" y2="917.5" stroke="#000" stroke-width="0.8"/>
<line x1="183.4" y1="915.3" x2="183.4" y2="917.5" stroke="#000" stroke-width="0.8"/>
<line x1="193.6" y1="915.3" x2="193.6" y2="917.5" stroke="#000" stroke-width="0.8"/>
<line x1="203.7" y1="915.3" x2="203.7" y2="917.5" stroke="#000" stroke-width="0.8"/>
<line x1="213.8" y1="915.3" x2="213.8" y2="917.5" stroke="#000" stroke-width="0.8"/>
<line x1="223.9" y1="915.3" x2="223.9" y2="917.5" stroke="#000" stroke-width="0.8"/>
<line x1="234.1" y1="915.3" x2="234.1" y2="917.5" stroke="#000" stroke-width="0.8"/>
<line x1="244.2" y1="915.3" x2="244.2" y2="917.5" stroke="#000" stroke-width="0.8"/>
<line x1="254.3" y1="915.3" x2="254.3" y2="917.5" stroke="#000" stroke-width="0.8"/>
<line x1="264.5" y1="915.3" x2="264.5" y2="917.5" stroke="#000" stroke-width="0.8"/>
<line x1="274.6" y1="915.3" x2="274.6" y2="917.5" stroke="#000" stroke-width="0.8"/>
<line x1="284.7" y1="915.3" x2="284.7" y2="917.5" stroke="#000" stroke-width="0.8"/>
<line x1="33" y1="846.9" x2="35.5" y2="846.9" stroke="#000" stroke-width="0.8"/>
<line x1="33" y1="862" x2="35.5" y2="862" stroke="#000" stroke-width="0.8"/>
<line x1="33" y1="876.8" x2="35.5" y2="876.8" stroke="#000" stroke-width="0.8"/>
<line x1="33" y1="892" x2="35.5" y2="892" stroke="#000" stroke-width="0.8"/>
<line x1="33" y1="906.9" x2="35.5" y2="906.9" stroke="#000" stroke-width="0.8"/>
<text x="44.5" y="918.8" font-size="8" text-anchor="end" font-style="italic" transform="rotate(-90 44.5 918.8)">SOX2</text>
<text x="54.6" y="918.8" font-size="8" text-anchor="end" font-style="italic" transform="rotate(-90 54.6 918.8)">ANXA2</text>
<text x="64.8" y="918.8" font-size="8" text-anchor="end" font-style="italic" transform="rotate(-90 64.8 918.8)">ANXA4</text>
<text x="74.9" y="918.8" font-size="8" text-anchor="end" font-style="italic" transform="rotate(-90 74.9 918.8)">KRT18</text>
<text x="85" y="918.8" font-size="8" text-anchor="end" font-style="italic" transform="rotate(-90 85 918.8)">RUNX1</text>
<text x="95.2" y="918.8" font-size="8" text-anchor="end" font-style="italic" transform="rotate(-90 95.2 918.8)">SOX9</text>
<text x="105.3" y="918.8" font-size="8" text-anchor="end" font-style="italic" transform="rotate(-90 105.3 918.8)">DCDC2</text>
<text x="115.4" y="918.8" font-size="8" text-anchor="end" font-style="italic" transform="rotate(-90 115.4 918.8)">SPINK1</text>
<text x="125.5" y="918.8" font-size="8" text-anchor="end" font-style="italic" transform="rotate(-90 125.5 918.8)">EPHA7</text>
<text x="135.7" y="918.8" font-size="8" text-anchor="end" font-style="italic" transform="rotate(-90 135.7 918.8)">SERPINA1</text>
<text x="145.8" y="918.8" font-size="8" text-anchor="end" font-style="italic" transform="rotate(-90 145.8 918.8)">HNF4A</text>
<text x="155.9" y="918.8" font-size="8" text-anchor="end" font-style="italic" transform="rotate(-90 155.9 918.8)">AFP</text>
<text x="166.1" y="918.8" font-size="8" text-anchor="end" font-style="italic" transform="rotate(-90 166.1 918.8)">APOB</text>
<text x="176.2" y="918.8" font-size="8" text-anchor="end" font-style="italic" transform="rotate(-90 176.2 918.8)">AMN</text>
<text x="186.3" y="918.8" font-size="8" text-anchor="end" font-style="italic" transform="rotate(-90 186.3 918.8)">APOA1</text>
<text x="196.5" y="918.8" font-size="8" text-anchor="end" font-style="italic" transform="rotate(-90 196.5 918.8)">FGA</text>
<text x="206.6" y="918.8" font-size="8" text-anchor="end" font-style="italic" transform="rotate(-90 206.6 918.8)">FGB</text>
<text x="216.7" y="918.8" font-size="8" text-anchor="end" font-style="italic" transform="rotate(-90 216.7 918.8)">FGG</text>
<text x="226.8" y="918.8" font-size="8" text-anchor="end" font-style="italic" transform="rotate(-90 226.8 918.8)">TBX3</text>
<text x="237" y="918.8" font-size="8" text-anchor="end" font-style="italic" transform="rotate(-90 237 918.8)">HNF1B</text>
<text x="247.1" y="918.8" font-size="8" text-anchor="end" font-style="italic" transform="rotate(-90 247.1 918.8)">SOX17</text>
<text x="257.2" y="918.8" font-size="8" text-anchor="end" font-style="italic" transform="rotate(-90 257.2 918.8)">ANXA13</text>
<text x="267.4" y="918.8" font-size="8" text-anchor="end" font-style="italic" transform="rotate(-90 267.4 918.8)">CDH17</text>
<text x="277.5" y="918.8" font-size="8" text-anchor="end" font-style="italic" transform="rotate(-90 277.5 918.8)">CDX2</text>
<text x="287.6" y="918.8" font-size="8" text-anchor="end" font-style="italic" transform="rotate(-90 287.6 918.8)">YAP1</text>
<text x="31" y="850.3" font-size="9.6" text-anchor="end" fill="#111">PP2</text>
<text x="31" y="865.4" font-size="9.6" text-anchor="end" fill="#111">PP1</text>
<text x="31" y="880.2" font-size="9.6" text-anchor="end" fill="#111">MLP1</text>
<text x="31" y="895.4" font-size="9.6" text-anchor="end" fill="#111">MLP2</text>
<text x="31" y="910.3" font-size="9.6" text-anchor="end" fill="#111">ML</text>
<text x="-0.5" y="838.7" font-size="23">M</text>
<line x1="128" y1="960.2" x2="227" y2="960.2" stroke="#333" stroke-width="0.9"/>
<text x="177.5" y="968.8" font-size="8.8" text-anchor="middle" fill="#111">liver</text>
<line x1="231" y1="960.2" x2="246.3" y2="960.2" stroke="#333" stroke-width="0.9"/>
<text x="238.7" y="968.8" font-size="8.8" text-anchor="middle" fill="#111">bd</text>
<line x1="251.7" y1="960.2" x2="279" y2="960.2" stroke="#333" stroke-width="0.9"/>
<text x="265.4" y="968.8" font-size="8.8" text-anchor="middle" fill="#111">intestine</text>
<rect x="311.3" y="832" width="10.7" height="54.3" fill="url(#gM)"/>
<text x="325" y="848.8" font-size="8.6" fill="#111">1</text>
<text x="325" y="865.1" font-size="8.6" fill="#111">0</text>
<text x="325" y="882.5" font-size="8.6" fill="#111">-1</text>
<text x="300" y="857.6" font-size="8.6" text-anchor="middle" fill="#111" transform="rotate(-90 300 857.6)">Average</text>
<text x="307.6" y="859.3" font-size="8.6" text-anchor="middle" fill="#111" transform="rotate(-90 307.6 859.3)">Expression</text>
<text x="300" y="914" font-size="8.6" text-anchor="middle" fill="#111" transform="rotate(-90 300 914)">Percent</text>
<text x="307.6" y="914" font-size="8.6" text-anchor="middle" fill="#111" transform="rotate(-90 307.6 914)">Expressed</text>
<circle cx="316.7" cy="898.5" r="0.5" fill="#000"/>
<text x="322.5" y="901.6" font-size="8.6" fill="#111">0</text>
<circle cx="316.7" cy="909.9" r="1.3" fill="#000"/>
<text x="322.5" y="913" font-size="8.6" fill="#111">25</text>
<circle cx="316.7" cy="920.4" r="2.4" fill="#000"/>
<text x="322.5" y="923.5" font-size="8.6" fill="#111">50</text>
<circle cx="316.7" cy="931.2" r="3.5" fill="#000"/>
<text x="322.5" y="934.3" font-size="8.6" fill="#111">75</text>
<text x="332.6" y="838.9" font-size="23">N</text>
<circle cx="447" cy="869.5" r="1.6" fill="#482878"/>
<circle cx="448.6" cy="871" r="1.6" fill="#482878"/>
<circle cx="450.2" cy="870.3" r="1.6" fill="#482878"/>
<circle cx="452.5" cy="869.5" r="1.6" fill="#482878"/>
<circle cx="453.3" cy="871.8" r="1.6" fill="#482878"/>
<circle cx="450.9" cy="873.3" r="1.6" fill="#482878"/>
<circle cx="446.7" cy="874.1" r="1.6" fill="#482878"/>
<circle cx="447.8" cy="884.8" r="1.6" fill="#482878"/>
<circle cx="447" cy="892.5" r="1.6" fill="#482878"/>
<circle cx="449.4" cy="871.8" r="1.6" fill="#482878"/>
<circle cx="451.7" cy="868.7" r="1.6" fill="#482878"/>
<circle cx="454.1" cy="870.3" r="1.6" fill="#482878"/>
<polygon points="424.8,848.8 418.4,849.9 413.1,852.3 408.4,856 404.8,860.8 402.2,865.6 401.1,869.1 403.6,869.9 404.6,866.7 407.1,862.2 410.3,857.8 414.5,854.5 419.2,852.4 425.3,851.3" fill="#433d84" stroke="#433d84" stroke-width="5.4" stroke-linejoin="round"/>
<polygon points="401.5,868.7 395.3,871.8 392.1,875.6 389,880.2 388.2,884.8 392.1,887.9 396.8,889.4 401.5,887.9 405,884.8 405.9,879.4 405.3,874.9 405.3,870.3" fill="#2f6c8e" stroke="#2f6c8e" stroke-width="4.2" stroke-linejoin="round"/>
<circle cx="402.4" cy="882.7" r="1.7" fill="#3e4a89"/>
<circle cx="390.2" cy="879.6" r="1.7" fill="#3e4a89"/>
<circle cx="398.1" cy="876.8" r="1.7" fill="#3e4a89"/>
<circle cx="397.1" cy="871.8" r="1.7" fill="#3e4a89"/>
<circle cx="397.2" cy="872.1" r="1.7" fill="#3e4a89"/>
<circle cx="391.4" cy="882.8" r="1.7" fill="#3e4a89"/>
<circle cx="397.7" cy="885.2" r="1.7" fill="#26828e"/>
<circle cx="391.8" cy="877.8" r="1.7" fill="#26828e"/>
<circle cx="396" cy="874.8" r="1.7" fill="#26828e"/>
<circle cx="401.4" cy="871.8" r="1.7" fill="#26828e"/>
<circle cx="389.9" cy="879.9" r="1.7" fill="#26828e"/>
<circle cx="397.7" cy="887.2" r="1.7" fill="#26828e"/>
<polygon points="423.5,849.9 431.3,848.4 440.7,846.8 445.5,846.2 448.6,847.3 450.2,849.6 452.5,854.2 455.6,858 456.4,858.8 454.9,863.4 452.5,865.7 450.2,867.2 447.8,868.7 445.5,871.8 443.1,870.3 440.7,865.7 438.4,861.1 435.3,855.7 432.1,852.7 428.2,851.1 423.5,851.1" fill="#453781" stroke="#453781" stroke-width="4.2" stroke-linejoin="round"/>
<circle cx="438.1" cy="851.9" r="1.7" fill="#3e4989"/>
<circle cx="448.2" cy="847.6" r="1.7" fill="#3e4989"/>
<circle cx="439" cy="852.9" r="1.7" fill="#3e4989"/>
<circle cx="448.8" cy="862" r="1.7" fill="#3e4989"/>
<circle cx="446.3" cy="869.4" r="1.7" fill="#3e4989"/>
<circle cx="439.3" cy="852.3" r="1.7" fill="#482878"/>
<circle cx="432.1" cy="852.1" r="1.7" fill="#482878"/>
<circle cx="446.9" cy="856.4" r="1.7" fill="#482878"/>
<circle cx="444" cy="864.2" r="1.7" fill="#482878"/>
<circle cx="452.4" cy="858.7" r="1.7" fill="#482878"/>
<polygon points="456.1,858 459.6,858 464.3,860.3 469,861.8 470.2,863.4 467.4,864.9 462.7,865.2 458,865.7 454.5,864.1 455.3,860.3" fill="#46337e" stroke="#46337e" stroke-width="4.2" stroke-linejoin="round"/>
<polygon points="376.4,874.1 379.6,871.8 384.3,871.3 389,873.3 391.3,877.2 390.6,881.7 388.2,884.8 385.9,887.9 381.2,887.1 377.2,884 374.9,880.2 375.2,876.4" fill="#2b7c8e" stroke="#2b7c8e" stroke-width="4.2" stroke-linejoin="round"/>
<circle cx="386.1" cy="875" r="1.7" fill="#22a884"/>
<circle cx="381.2" cy="880.3" r="1.7" fill="#22a884"/>
<circle cx="382.9" cy="876.4" r="1.7" fill="#22a884"/>
<circle cx="387.5" cy="884.7" r="1.7" fill="#22a884"/>
<circle cx="388.5" cy="880.8" r="1.7" fill="#22a884"/>
<circle cx="379" cy="873.6" r="1.7" fill="#22a884"/>
<circle cx="380.2" cy="872.8" r="1.7" fill="#22a884"/>
<circle cx="382.8" cy="875.5" r="1.7" fill="#22a884"/>
<circle cx="387.7" cy="879.2" r="1.7" fill="#22a884"/>
<circle cx="383.2" cy="881.2" r="1.7" fill="#22a884"/>
<circle cx="389.2" cy="881.6" r="1.7" fill="#22a884"/>
<circle cx="387.2" cy="878.6" r="1.7" fill="#22a884"/>
<circle cx="386.5" cy="882.8" r="1.7" fill="#22a884"/>
<circle cx="376.2" cy="876.7" r="1.7" fill="#22a884"/>
<circle cx="377.3" cy="881.9" r="1.7" fill="#1f9e89"/>
<circle cx="389.9" cy="878.1" r="1.7" fill="#1f9e89"/>
<circle cx="384.1" cy="876.7" r="1.7" fill="#1f9e89"/>
<circle cx="386.7" cy="878.2" r="1.7" fill="#1f9e89"/>
<circle cx="385.4" cy="874.3" r="1.7" fill="#1f9e89"/>
<circle cx="379.3" cy="885.2" r="1.7" fill="#1f9e89"/>
<circle cx="383.4" cy="877.6" r="1.7" fill="#1f9e89"/>
<circle cx="386.4" cy="886.6" r="1.7" fill="#1f9e89"/>
<circle cx="382.4" cy="877.6" r="1.7" fill="#1f9e89"/>
<circle cx="387.2" cy="885.4" r="1.7" fill="#1f9e89"/>
<circle cx="381.5" cy="871.6" r="1.7" fill="#6ece58"/>
<circle cx="387.8" cy="874.5" r="1.7" fill="#6ece58"/>
<circle cx="385.3" cy="874.2" r="1.7" fill="#6ece58"/>
<polygon points="385.1,888.6 389,887.6 392.1,889.4 393.7,892.5 392.9,897.1 392.1,900.9 389,902.4 386.6,900.9 386.6,895.5 385.1,891.7" fill="#2f6b8e" stroke="#2f6b8e" stroke-width="4.2" stroke-linejoin="round"/>
<circle cx="389.8" cy="892.5" r="1.7" fill="#26828e"/>
<circle cx="391.2" cy="899.8" r="1.7" fill="#26828e"/>
<circle cx="389.2" cy="894.4" r="1.7" fill="#26828e"/>
<circle cx="391.7" cy="897.6" r="1.7" fill="#26828e"/>
<circle cx="389.1" cy="899.6" r="1.7" fill="#26828e"/>
<circle cx="390.1" cy="888.5" r="1.7" fill="#26828e"/>
<polygon points="395.3,890.2 398.4,888.6 401.5,887.9 400.8,891.7 399.2,894 396.8,894 395.3,892.5" fill="#3b528b" stroke="#3b528b" stroke-width="4.2" stroke-linejoin="round"/>
<polygon points="404.7,879.4 407,880.2 409.4,883.3 410.9,887.9 413.3,891.7 416.4,894.8 417.2,897.8 414.1,899.4 410.2,898.6 407,896.3 405.5,892.5 407.8,889.4 407,884.8 405,881.7" fill="#33638d" stroke="#33638d" stroke-width="4.2" stroke-linejoin="round"/>
<circle cx="409.5" cy="886.2" r="1.7" fill="#22a884"/>
<circle cx="411.7" cy="895.5" r="1.7" fill="#22a884"/>
<circle cx="413.4" cy="895.1" r="1.7" fill="#22a884"/>
<circle cx="408.5" cy="886" r="1.7" fill="#22a884"/>
<circle cx="408.9" cy="886.5" r="1.7" fill="#22a884"/>
<circle cx="414.5" cy="895.1" r="1.7" fill="#22a884"/>
<circle cx="409.1" cy="894.9" r="1.7" fill="#22a884"/>
<circle cx="410.3" cy="893.3" r="1.7" fill="#22a884"/>
<circle cx="408.2" cy="895.9" r="1.7" fill="#22a884"/>
<circle cx="409.9" cy="889" r="1.7" fill="#22a884"/>
<circle cx="411.5" cy="889.9" r="1.7" fill="#35b779"/>
<circle cx="416.1" cy="896.1" r="1.7" fill="#35b779"/>
<circle cx="410.9" cy="893.5" r="1.7" fill="#35b779"/>
<circle cx="409.2" cy="897.5" r="1.7" fill="#35b779"/>
<circle cx="414.6" cy="895.9" r="1.7" fill="#35b779"/>
<circle cx="410.1" cy="895.4" r="1.7" fill="#6ece58"/>
<circle cx="412.7" cy="898.6" r="1.7" fill="#6ece58"/>
<polygon points="495.7,873.9 500.5,871.6 506.9,871.6 511.6,873.1 514,876.2 514.8,880 513.2,883.8 510,886.1 506.9,887.6 502.1,889.2 498.1,889.2 495.7,886.1 494.9,881.5 494.9,876.9" fill="#27928a" stroke="#27928a" stroke-width="4.2" stroke-linejoin="round"/>
<circle cx="513.5" cy="880.7" r="1.7" fill="#35b779"/>
<circle cx="507.1" cy="881.7" r="1.7" fill="#35b779"/>
<circle cx="509.4" cy="880.6" r="1.7" fill="#35b779"/>
<circle cx="500.5" cy="879.7" r="1.7" fill="#35b779"/>
<circle cx="512.3" cy="880.2" r="1.7" fill="#35b779"/>
<circle cx="505.2" cy="878.9" r="1.7" fill="#35b779"/>
<circle cx="508.1" cy="879" r="1.7" fill="#35b779"/>
<circle cx="509.2" cy="886.3" r="1.7" fill="#35b779"/>
<circle cx="511.4" cy="875.2" r="1.7" fill="#35b779"/>
<circle cx="500.5" cy="872.5" r="1.7" fill="#35b779"/>
<circle cx="496" cy="879.6" r="1.7" fill="#35b779"/>
<circle cx="496.7" cy="885.9" r="1.7" fill="#35b779"/>
<circle cx="507.6" cy="876.8" r="1.7" fill="#35b779"/>
<circle cx="504.5" cy="884.9" r="1.7" fill="#35b779"/>
<circle cx="505.8" cy="881.3" r="1.7" fill="#26828e"/>
<circle cx="502.6" cy="882" r="1.7" fill="#26828e"/>
<circle cx="504.1" cy="882.7" r="1.7" fill="#26828e"/>
<circle cx="497.4" cy="880.4" r="1.7" fill="#26828e"/>
<circle cx="500.6" cy="875.2" r="1.7" fill="#26828e"/>
<circle cx="513.9" cy="876.1" r="1.7" fill="#26828e"/>
<circle cx="501.5" cy="880.8" r="1.7" fill="#26828e"/>
<circle cx="509.6" cy="885.1" r="1.7" fill="#26828e"/>
<circle cx="514.2" cy="879.4" r="1.7" fill="#6ece58"/>
<circle cx="510.3" cy="878.6" r="1.7" fill="#6ece58"/>
<circle cx="511.8" cy="881.7" r="1.7" fill="#6ece58"/>
<circle cx="496.8" cy="885.6" r="1.7" fill="#6ece58"/>
<polygon points="508.5,873.1 513.2,871.6 518,870.8 521.5,873.1 524,878.5 525.1,883.4 523.6,886.9 520.4,888 516.4,887.6 513.2,886.4 510.8,881.5" fill="#2a7f8e" stroke="#2a7f8e" stroke-width="4.2" stroke-linejoin="round"/>
<circle cx="512.3" cy="879.6" r="1.7" fill="#35b779"/>
<circle cx="521.5" cy="882.7" r="1.7" fill="#35b779"/>
<circle cx="512.4" cy="874.8" r="1.7" fill="#35b779"/>
<circle cx="518.4" cy="879.4" r="1.7" fill="#35b779"/>
<circle cx="524.3" cy="879.7" r="1.7" fill="#35b779"/>
<circle cx="515.3" cy="884.7" r="1.7" fill="#35b779"/>
<circle cx="522.1" cy="887.1" r="1.7" fill="#3e4a89"/>
<circle cx="521.9" cy="883.6" r="1.7" fill="#3e4a89"/>
<circle cx="516.3" cy="886.4" r="1.7" fill="#3e4a89"/>
<circle cx="513.1" cy="871.8" r="1.7" fill="#3e4a89"/>
<circle cx="522.8" cy="886.3" r="1.7" fill="#3e4a89"/>
<polygon points="506.1,890.7 510,889.2 513.2,889.9 514.8,893.8 516.4,897.6 514,900.7 510.8,902.2 507.7,901.4 506.1,898.4 505.3,894.5" fill="#2a7a8e" stroke="#2a7a8e" stroke-width="4.2" stroke-linejoin="round"/>
<circle cx="506.8" cy="897.4" r="1.7" fill="#35b779"/>
<circle cx="511.1" cy="902" r="1.7" fill="#35b779"/>
<circle cx="508.5" cy="896.4" r="1.7" fill="#35b779"/>
<circle cx="509.9" cy="892.8" r="1.7" fill="#35b779"/>
<circle cx="510.7" cy="893.3" r="1.7" fill="#35b779"/>
<polygon points="518.8,889.2 521.2,888.4 522,892.2 520.4,893.8 518.8,892.2" fill="#31688e" stroke="#31688e" stroke-width="4.2" stroke-linejoin="round"/>
<polygon points="523.6,886.9 526.7,884.6 529.9,885.4 532.3,887.6 534.7,890.7 537.1,893.8 537.9,896.8 535.5,899.1 531.5,899.1 528.3,897.6 525.1,895.3 523.6,892.2 522.8,889.2" fill="#2e7e8e" stroke="#2e7e8e" stroke-width="4.2" stroke-linejoin="round"/>
<circle cx="533.5" cy="889.4" r="1.7" fill="#35b779"/>
<circle cx="534.8" cy="898.7" r="1.7" fill="#35b779"/>
<circle cx="533.4" cy="892.8" r="1.7" fill="#35b779"/>
<circle cx="528.6" cy="887.5" r="1.7" fill="#35b779"/>
<circle cx="536.6" cy="896" r="1.7" fill="#35b779"/>
<circle cx="531" cy="889.2" r="1.7" fill="#35b779"/>
<circle cx="524.3" cy="889.4" r="1.7" fill="#35b779"/>
<circle cx="524.7" cy="889.2" r="1.7" fill="#35b779"/>
<circle cx="530.7" cy="887.9" r="1.7" fill="#b5de2b"/>
<circle cx="531.9" cy="891.5" r="1.7" fill="#b5de2b"/>
<circle cx="534.4" cy="892.9" r="1.7" fill="#b5de2b"/>
<circle cx="528.5" cy="893.3" r="1.7" fill="#b5de2b"/>
<polygon points="565.7,871.6 570.4,870.8 573.6,870.5 576,871.6 577.6,874.6 577.6,878.5 576.8,882.3 575.2,886.1 573.6,889.2 571.2,890.7 568.1,889.2 566.5,886.1 565.7,883.4 560.9,883.1 556.1,883.5 555.3,882.3 560.1,880.8 564.9,879.2 565.4,875.4" fill="#3b528b" stroke="#3b528b" stroke-width="4.2" stroke-linejoin="round"/>
<circle cx="569.2" cy="882.8" r="1.7" fill="#31688e"/>
<circle cx="573.2" cy="883.5" r="1.7" fill="#31688e"/>
<circle cx="575.7" cy="879.2" r="1.7" fill="#31688e"/>
<circle cx="572" cy="887.6" r="1.7" fill="#31688e"/>
<circle cx="576.6" cy="881.6" r="1.7" fill="#31688e"/>
<circle cx="572.6" cy="874.7" r="1.7" fill="#31688e"/>
<circle cx="575.4" cy="874.1" r="1.7" fill="#31688e"/>
<circle cx="564.5" cy="881.5" r="1.7" fill="#31688e"/>
<circle cx="571" cy="877" r="1.7" fill="#31688e"/>
<circle cx="572.9" cy="870.6" r="1.7" fill="#31688e"/>
<circle cx="573.6" cy="888.8" r="1.7" fill="#31688e"/>
<circle cx="572.3" cy="886.3" r="1.7" fill="#31688e"/>
<circle cx="574.9" cy="884.8" r="1.7" fill="#482878"/>
<circle cx="575.4" cy="880.7" r="1.7" fill="#482878"/>
<circle cx="565.9" cy="876.7" r="1.7" fill="#482878"/>
<circle cx="563" cy="882.9" r="1.7" fill="#482878"/>
<circle cx="572.7" cy="877.2" r="1.7" fill="#482878"/>
<polygon points="565.4,888.9 570.4,889.2 574.9,889.5 575.2,895.3 574.4,899.9 572.8,905.3 572,909.1 569.6,906.8 567.3,903 564.9,898.4 564.1,893.8" fill="#23a087" stroke="#23a087" stroke-width="4.2" stroke-linejoin="round"/>
<circle cx="574" cy="897.6" r="1.7" fill="#35b779"/>
<circle cx="573.3" cy="892.2" r="1.7" fill="#35b779"/>
<circle cx="566.7" cy="896.1" r="1.7" fill="#35b779"/>
<circle cx="570.3" cy="905.8" r="1.7" fill="#35b779"/>
<circle cx="566.5" cy="901.2" r="1.7" fill="#35b779"/>
<circle cx="574.8" cy="889.9" r="1.7" fill="#35b779"/>
<circle cx="568.6" cy="896.5" r="1.7" fill="#35b779"/>
<circle cx="564.3" cy="894.3" r="1.7" fill="#35b779"/>
<circle cx="566.6" cy="898.8" r="1.7" fill="#6ece58"/>
<circle cx="568.5" cy="899.8" r="1.7" fill="#6ece58"/>
<circle cx="573.5" cy="898.6" r="1.7" fill="#6ece58"/>
<circle cx="571.7" cy="897.4" r="1.7" fill="#6ece58"/>
<polygon points="570.9,908.8 572.7,908.2 576.8,912.1 578.1,916.7 577.6,922.9 576,929 573.6,935.1 571.2,938.9 568.1,942 564.1,942 562.2,938.9 563.3,933.6 566.5,929 568.9,924.4 570.4,919 571.2,914.4" fill="#2c738e" stroke="#2c738e" stroke-width="4.2" stroke-linejoin="round"/>
<circle cx="566.9" cy="930.6" r="1.7" fill="#26828e"/>
<circle cx="574.7" cy="930.8" r="1.7" fill="#26828e"/>
<circle cx="575" cy="925" r="1.7" fill="#26828e"/>
<circle cx="571.1" cy="936.4" r="1.7" fill="#26828e"/>
<circle cx="572.6" cy="924.8" r="1.7" fill="#26828e"/>
<circle cx="573.1" cy="935.4" r="1.7" fill="#26828e"/>
<circle cx="574.5" cy="928.8" r="1.7" fill="#26828e"/>
<circle cx="572.4" cy="910.4" r="1.7" fill="#26828e"/>
<circle cx="572.6" cy="916.4" r="1.7" fill="#26828e"/>
<circle cx="570" cy="926" r="1.7" fill="#26828e"/>
<circle cx="576.7" cy="926.1" r="1.7" fill="#1f9e89"/>
<circle cx="564.4" cy="938.3" r="1.7" fill="#1f9e89"/>
<circle cx="567.8" cy="938.2" r="1.7" fill="#1f9e89"/>
<circle cx="572.6" cy="919.2" r="1.7" fill="#1f9e89"/>
<circle cx="569.4" cy="927.1" r="1.7" fill="#1f9e89"/>
<circle cx="562.9" cy="938.4" r="1.7" fill="#1f9e89"/>
<circle cx="571.3" cy="933.9" r="1.7" fill="#1f9e89"/>
<circle cx="572.9" cy="924.8" r="1.7" fill="#1f9e89"/>
<polygon points="576.8,871.6 580,868.5 584.7,864.7 586.3,863.9 585.5,865.4 581.6,869.3 578.1,872.3" fill="#472d7b" stroke="#472d7b" stroke-width="4.2" stroke-linejoin="round"/>
<circle cx="524.7" cy="860.9" r="1.5" fill="#46337e"/>
<circle cx="520.5" cy="868.6" r="1.5" fill="#46337e"/>
<circle cx="530.2" cy="856.1" r="1.5" fill="#46337e"/>
<circle cx="516.2" cy="871.8" r="1.5" fill="#46337e"/>
<circle cx="516.2" cy="872.2" r="1.5" fill="#46337e"/>
<circle cx="523.6" cy="863.3" r="1.5" fill="#46337e"/>
<circle cx="527.9" cy="858.7" r="1.5" fill="#46337e"/>
<circle cx="526.3" cy="859.5" r="1.5" fill="#46337e"/>
<circle cx="532.4" cy="854" r="1.5" fill="#46337e"/>
<circle cx="518.7" cy="870.8" r="1.5" fill="#46337e"/>
<circle cx="529.5" cy="858.2" r="1.5" fill="#46337e"/>
<circle cx="532.9" cy="854.6" r="1.5" fill="#46337e"/>
<circle cx="529.8" cy="858.4" r="1.5" fill="#46337e"/>
<circle cx="525.2" cy="861.5" r="1.5" fill="#46337e"/>
<circle cx="519.6" cy="867.2" r="1.5" fill="#46337e"/>
<circle cx="519.2" cy="867.6" r="1.5" fill="#46337e"/>
<circle cx="525.4" cy="861.1" r="1.5" fill="#46337e"/>
<circle cx="519.2" cy="869.4" r="1.5" fill="#46337e"/>
<circle cx="526.2" cy="860.5" r="1.5" fill="#46337e"/>
<circle cx="526.4" cy="859.4" r="1.5" fill="#46337e"/>
<circle cx="533.9" cy="854.3" r="1.5" fill="#46337e"/>
<circle cx="527.3" cy="861.1" r="1.5" fill="#46337e"/>
<circle cx="519" cy="867.7" r="1.5" fill="#46337e"/>
<circle cx="520" cy="868.4" r="1.5" fill="#46337e"/>
<circle cx="530.3" cy="856.9" r="1.5" fill="#46337e"/>
<circle cx="523.1" cy="865.4" r="1.5" fill="#46337e"/>
<circle cx="520" cy="867.6" r="1.5" fill="#46337e"/>
<circle cx="520.7" cy="868.4" r="1.5" fill="#46337e"/>
<circle cx="546.6" cy="850.5" r="1.5" fill="#472d7b"/>
<circle cx="547.8" cy="849.2" r="1.5" fill="#472d7b"/>
<circle cx="543.4" cy="850.7" r="1.5" fill="#472d7b"/>
<circle cx="546.6" cy="849.7" r="1.5" fill="#472d7b"/>
<circle cx="554.5" cy="852.2" r="1.5" fill="#472d7b"/>
<circle cx="552.2" cy="851.4" r="1.5" fill="#472d7b"/>
<circle cx="550.5" cy="850.1" r="1.5" fill="#472d7b"/>
<circle cx="549.5" cy="850.2" r="1.5" fill="#472d7b"/>
<circle cx="548.2" cy="850.2" r="1.5" fill="#472d7b"/>
<circle cx="545.2" cy="849.7" r="1.5" fill="#472d7b"/>
<circle cx="573.8" cy="871.1" r="1.5" fill="#472d7b"/>
<circle cx="564.1" cy="866.1" r="1.5" fill="#472d7b"/>
<circle cx="569" cy="855.7" r="1.5" fill="#472d7b"/>
<circle cx="571.4" cy="864" r="1.5" fill="#472d7b"/>
<circle cx="571.7" cy="863.8" r="1.5" fill="#472d7b"/>
<circle cx="559.3" cy="859.4" r="1.5" fill="#472d7b"/>
<circle cx="559.6" cy="872.3" r="1.5" fill="#472d7b"/>
<circle cx="573.3" cy="870.3" r="1.5" fill="#472d7b"/>
<circle cx="564.2" cy="853.7" r="1.5" fill="#472d7b"/>
<circle cx="573.3" cy="872.7" r="1.5" fill="#472d7b"/>
<circle cx="560.7" cy="862.8" r="1.5" fill="#472d7b"/>
<circle cx="560.4" cy="868.7" r="1.5" fill="#472d7b"/>
<circle cx="571.5" cy="855.2" r="1.5" fill="#472d7b"/>
<circle cx="566.9" cy="864.2" r="1.5" fill="#472d7b"/>
<circle cx="563.5" cy="871.1" r="1.5" fill="#472d7b"/>
<circle cx="574" cy="917.2" r="2.1" fill="#dde318"/>
<circle cx="572.7" cy="913.6" r="1.8" fill="#b5de2b"/>
<line x1="369.7" y1="840.6" x2="369.7" y2="946.1" stroke="#000" stroke-width="1"/>
<line x1="366.7" y1="858.1" x2="369.7" y2="858.1" stroke="#000" stroke-width="1"/>
<text x="366.3" y="861.3" font-size="9" text-anchor="end" fill="#222">5</text>
<line x1="366.7" y1="880.3" x2="369.7" y2="880.3" stroke="#000" stroke-width="1"/>
<text x="366.3" y="883.5" font-size="9" text-anchor="end" fill="#222">0</text>
<line x1="366.7" y1="902.2" x2="369.7" y2="902.2" stroke="#000" stroke-width="1"/>
<text x="366.3" y="905.4" font-size="9" text-anchor="end" fill="#222">-5</text>
<line x1="366.7" y1="924.4" x2="369.7" y2="924.4" stroke="#000" stroke-width="1"/>
<text x="366.3" y="927.6" font-size="9" text-anchor="end" fill="#222">-10</text>
<line x1="366.7" y1="946.1" x2="369.7" y2="946.1" stroke="#000" stroke-width="1"/>
<text x="366.3" y="949.3" font-size="9" text-anchor="end" fill="#222">-15</text>
<line x1="369.7" y1="946.1" x2="477.3" y2="946.1" stroke="#000" stroke-width="1"/>
<line x1="380.9" y1="946.1" x2="380.9" y2="949.1" stroke="#000" stroke-width="1"/>
<text x="380.9" y="957.8" font-size="9" text-anchor="middle" fill="#222">-10</text>
<line x1="405.9" y1="946.1" x2="405.9" y2="949.1" stroke="#000" stroke-width="1"/>
<text x="405.9" y="957.8" font-size="9" text-anchor="middle" fill="#222">-5</text>
<line x1="427.6" y1="946.1" x2="427.6" y2="949.1" stroke="#000" stroke-width="1"/>
<text x="427.6" y="957.8" font-size="9" text-anchor="middle" fill="#222">0</text>
<line x1="449.8" y1="946.1" x2="449.8" y2="949.1" stroke="#000" stroke-width="1"/>
<text x="449.8" y="957.8" font-size="9" text-anchor="middle" fill="#222">5</text>
<line x1="472" y1="946.1" x2="472" y2="949.1" stroke="#000" stroke-width="1"/>
<text x="472" y="957.8" font-size="9" text-anchor="middle" fill="#222">10</text>
<line x1="490.5" y1="946.1" x2="598.7" y2="946.1" stroke="#000" stroke-width="1"/>
<line x1="504" y1="946.1" x2="504" y2="949.1" stroke="#000" stroke-width="1"/>
<text x="504" y="957.8" font-size="9" text-anchor="middle" fill="#222">-10</text>
<line x1="526.3" y1="946.1" x2="526.3" y2="949.1" stroke="#000" stroke-width="1"/>
<text x="526.3" y="957.8" font-size="9" text-anchor="middle" fill="#222">-5</text>
<line x1="548.4" y1="946.1" x2="548.4" y2="949.1" stroke="#000" stroke-width="1"/>
<text x="548.4" y="957.8" font-size="9" text-anchor="middle" fill="#222">0</text>
<line x1="571.1" y1="946.1" x2="571.1" y2="949.1" stroke="#000" stroke-width="1"/>
<text x="571.1" y="957.8" font-size="9" text-anchor="middle" fill="#222">5</text>
<line x1="593.8" y1="946.1" x2="593.8" y2="949.1" stroke="#000" stroke-width="1"/>
<text x="593.8" y="957.8" font-size="9" text-anchor="middle" fill="#222">10</text>
<text x="476" y="835" font-size="8.8" text-anchor="middle" font-weight="bold">GTEx liver-specific geneset</text>
<line x1="407" y1="838.2" x2="547.5" y2="838.2" stroke="#000" stroke-width="1"/>
<text x="372.5" y="849.8" font-size="10.2" font-weight="bold">WT</text>
<text x="493.8" y="850.2" font-size="10.2" font-weight="bold">KO</text>
<text x="456.8" y="917.6" font-size="9" fill="#111">liver score</text>
<rect x="458" y="919.3" width="39.7" height="8.2" fill="url(#gV)"/>
<text x="456" y="928.8" font-size="8.4" fill="#111" transform="rotate(90 456 928.8)">0.00</text>
<text x="467.8" y="928.8" font-size="8.4" fill="#111" transform="rotate(90 467.8 928.8)">0.02</text>
<text x="480.7" y="928.8" font-size="8.4" fill="#111" transform="rotate(90 480.7 928.8)">0.04</text>
<text x="493.5" y="928.8" font-size="8.4" fill="#111" transform="rotate(90 493.5 928.8)">0.06</text>
<text x="349" y="940" font-size="8.6" text-anchor="middle" fill="#111" transform="rotate(-90 349 940)">UMAP_2</text>
<path d="M349.3,940.3 V956.6 H372.7" fill="none" stroke="#000" stroke-width="0.9"/>
<text x="345.8" y="966.2" font-size="8.6" fill="#111">UMAP_1</text>
<line x1="635.6" y1="842.6" x2="635.6" y2="939.6" stroke="#000" stroke-width="1"/>
<line x1="635.1" y1="939.1" x2="680.7" y2="939.1" stroke="#000" stroke-width="1"/>
<line x1="633" y1="848.7" x2="635.6" y2="848.7" stroke="#000" stroke-width="0.9"/>
<text x="632.3" y="851.9" font-size="9" text-anchor="end" fill="#111">0.06</text>
<line x1="633" y1="877.4" x2="635.6" y2="877.4" stroke="#000" stroke-width="0.9"/>
<text x="632.3" y="880.6" font-size="9" text-anchor="end" fill="#111">0.04</text>
<line x1="633" y1="905.8" x2="635.6" y2="905.8" stroke="#000" stroke-width="0.9"/>
<text x="632.3" y="909" font-size="9" text-anchor="end" fill="#111">0.02</text>
<line x1="633" y1="934.5" x2="635.6" y2="934.5" stroke="#000" stroke-width="0.9"/>
<text x="632.3" y="937.7" font-size="9" text-anchor="end" fill="#111">0.00</text>
<line x1="647.8" y1="939.1" x2="647.8" y2="941.6" stroke="#000" stroke-width="0.9"/>
<text x="647.8" y="951.6" font-size="10" text-anchor="middle" fill="#111">WT</text>
<line x1="668.5" y1="939.1" x2="668.5" y2="941.6" stroke="#000" stroke-width="0.9"/>
<text x="668.5" y="951.6" font-size="10" text-anchor="middle" fill="#111">KO</text>
<text x="613.8" y="891" font-size="8.9" text-anchor="middle" fill="#111" transform="rotate(-90 613.8 891)">liver score</text>
<path d="M647.5,865.2 L647.4,895 L647,901.8 L646.2,905 L644.6,910.4 L642,916.1 L639.8,920 L638.5,924.7 L639.6,928 L642.3,930.5 L645.6,933 L647.8,934.5 L647.8,934.5 L650,933 L653.3,930.5 L656,928 L657.1,924.7 L655.8,920 L653.6,916.1 L651,910.4 L649.4,905 L648.6,901.8 L648.2,895 L648.1,865.2Z" fill="#e69f00" stroke="#222" stroke-width="0.6" stroke-linejoin="round"/>
<path d="M668.2,846.9 L668,870 L666.9,880.2 L665.9,888 L664.9,894.6 L662.3,901.8 L660.7,906 L659.2,911.8 L659.9,916 L661.5,921.8 L663.5,926 L666,930.5 L668.5,934.5 L668.5,934.5 L671,930.5 L673.5,926 L675.5,921.8 L677.1,916 L677.8,911.8 L676.3,906 L674.7,901.8 L672.1,894.6 L671.1,888 L670.1,880.2 L669,870 L668.8,846.9Z" fill="#56b4e9" stroke="#222" stroke-width="0.6" stroke-linejoin="round"/></svg></body></html>
